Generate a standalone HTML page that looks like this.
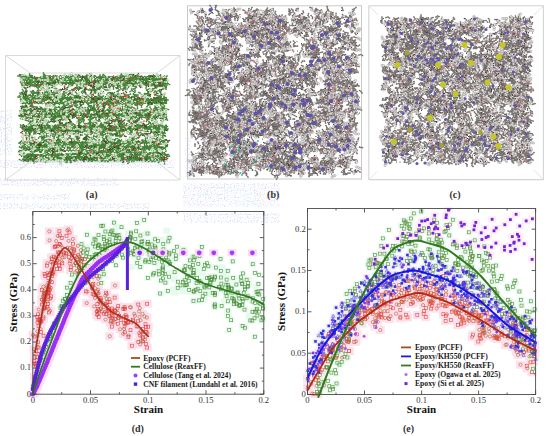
<!DOCTYPE html>
<html><head><meta charset="utf-8"><style>
html,body{margin:0;padding:0;background:#fff;}
body{width:550px;height:436px;overflow:hidden;}
svg{display:block;}
text{font-family:"Liberation Serif",serif;fill:#222;}
.tk{font-size:8.6px;fill:#333;}
.lg{font-size:7.65px;font-weight:bold;fill:#1a1a1a;}
.ax{font-size:11px;font-weight:bold;fill:#111;}
.pl{font-size:10px;font-weight:bold;fill:#333;}
</style></head><body>
<svg width="550" height="436" viewBox="0 0 550 436">
<defs><marker id="bp" markerUnits="userSpaceOnUse" markerWidth="10" markerHeight="10" refX="0" refY="0" viewBox="-5 -5 10 10" overflow="visible"><rect x="-4.5" y="-4" width="9" height="8" fill="#fde0eb"/></marker><marker id="bg" markerUnits="userSpaceOnUse" markerWidth="10" markerHeight="10" refX="0" refY="0" viewBox="-5 -5 10 10" overflow="visible"><rect x="-3.5" y="-3" width="7" height="6" fill="#e6faee"/></marker><marker id="bv" markerUnits="userSpaceOnUse" markerWidth="10" markerHeight="10" refX="0" refY="0" viewBox="-5 -5 10 10" overflow="visible"><rect x="-4.5" y="-3.5" width="9" height="7" fill="#fbdaf5"/></marker><marker id="bvl" markerUnits="userSpaceOnUse" markerWidth="10" markerHeight="10" refX="0" refY="0" viewBox="-5 -5 10 10" overflow="visible"><rect x="-4" y="-3" width="8" height="6" fill="#fdecf9"/></marker><marker id="bb" markerUnits="userSpaceOnUse" markerWidth="10" markerHeight="10" refX="0" refY="0" viewBox="-5 -5 10 10" overflow="visible"><rect x="-3" y="-2.5" width="6" height="5" fill="#ebeaff"/></marker><marker id="rc" markerUnits="userSpaceOnUse" markerWidth="10" markerHeight="10" refX="0" refY="0" viewBox="-5 -5 10 10" overflow="visible"><circle r="1.6" fill="none" stroke="#b05a3c" stroke-width="0.6"/></marker><marker id="rs" markerUnits="userSpaceOnUse" markerWidth="10" markerHeight="10" refX="0" refY="0" viewBox="-5 -5 10 10" overflow="visible"><rect x="-1.5" y="-1.5" width="3" height="3" fill="none" stroke="#e23a3a" stroke-width="0.6"/></marker><marker id="gs" markerUnits="userSpaceOnUse" markerWidth="10" markerHeight="10" refX="0" refY="0" viewBox="-5 -5 10 10" overflow="visible"><rect x="-1.5" y="-1.5" width="3" height="3" fill="none" stroke="#4c8e38" stroke-width="0.6"/></marker><marker id="gc" markerUnits="userSpaceOnUse" markerWidth="10" markerHeight="10" refX="0" refY="0" viewBox="-5 -5 10 10" overflow="visible"><circle r="1.6" fill="none" stroke="#3f8f3a" stroke-width="0.6"/></marker><marker id="tc" markerUnits="userSpaceOnUse" markerWidth="10" markerHeight="10" refX="0" refY="0" viewBox="-5 -5 10 10" overflow="visible"><circle r="2.3" fill="#9a30f4"/></marker><marker id="cs" markerUnits="userSpaceOnUse" markerWidth="10" markerHeight="10" refX="0" refY="0" viewBox="-5 -5 10 10" overflow="visible"><rect x="-1.9" y="-1.9" width="3.8" height="3.8" fill="#5a22dc"/></marker><marker id="bs" markerUnits="userSpaceOnUse" markerWidth="10" markerHeight="10" refX="0" refY="0" viewBox="-5 -5 10 10" overflow="visible"><rect x="-1.3" y="-1.3" width="2.6" height="2.6" fill="#3434d8"/></marker><marker id="bt" markerUnits="userSpaceOnUse" markerWidth="10" markerHeight="10" refX="0" refY="0" viewBox="-5 -5 10 10" overflow="visible"><path d="M0 -1.7L1.6 1.2H-1.6Z" fill="none" stroke="#4848e0" stroke-width="0.6"/></marker><marker id="bc" markerUnits="userSpaceOnUse" markerWidth="10" markerHeight="10" refX="0" refY="0" viewBox="-5 -5 10 10" overflow="visible"><circle r="1.4" fill="#7a3ae8"/></marker><marker id="ss" markerUnits="userSpaceOnUse" markerWidth="10" markerHeight="10" refX="0" refY="0" viewBox="-5 -5 10 10" overflow="visible"><rect x="-1.4" y="-1.4" width="2.8" height="2.8" fill="#7026d8"/></marker><marker id="oc" markerUnits="userSpaceOnUse" markerWidth="10" markerHeight="10" refX="0" refY="0" viewBox="-5 -5 10 10" overflow="visible"><circle r="1.4" fill="#a050f0"/></marker><marker id="ges" markerUnits="userSpaceOnUse" markerWidth="10" markerHeight="10" refX="0" refY="0" viewBox="-5 -5 10 10" overflow="visible"><rect x="-1.5" y="-1.5" width="3" height="3" fill="none" stroke="#5a8e3a" stroke-width="0.6"/></marker><marker id="rec" markerUnits="userSpaceOnUse" markerWidth="10" markerHeight="10" refX="0" refY="0" viewBox="-5 -5 10 10" overflow="visible"><circle r="1.6" fill="none" stroke="#b0603a" stroke-width="0.6"/></marker><marker id="res" markerUnits="userSpaceOnUse" markerWidth="10" markerHeight="10" refX="0" refY="0" viewBox="-5 -5 10 10" overflow="visible"><rect x="-1.5" y="-1.5" width="3" height="3" fill="none" stroke="#e34a3a" stroke-width="0.6"/></marker><marker id="hW" markerUnits="userSpaceOnUse" markerWidth="12" markerHeight="12" refX="0" refY="0" viewBox="-6 -6 12 12" overflow="visible"><circle r="2.80" fill="#ffffff" stroke="#8e8888" stroke-width="0.70"/></marker><marker id="hL" markerUnits="userSpaceOnUse" markerWidth="12" markerHeight="12" refX="0" refY="0" viewBox="-6 -6 12 12" overflow="visible"><circle r="2.30" fill="#e8e4e4" stroke="#868080" stroke-width="0.70"/></marker><marker id="cG" markerUnits="userSpaceOnUse" markerWidth="12" markerHeight="12" refX="0" refY="0" viewBox="-6 -6 12 12" overflow="visible"><circle r="1.70" fill="#767270"/></marker><marker id="cD" markerUnits="userSpaceOnUse" markerWidth="12" markerHeight="12" refX="0" refY="0" viewBox="-6 -6 12 12" overflow="visible"><circle r="1.70" fill="#4c4444"/></marker><marker id="oR" markerUnits="userSpaceOnUse" markerWidth="12" markerHeight="12" refX="0" refY="0" viewBox="-6 -6 12 12" overflow="visible"><circle r="2.10" fill="#d47484"/></marker><marker id="oP" markerUnits="userSpaceOnUse" markerWidth="12" markerHeight="12" refX="0" refY="0" viewBox="-6 -6 12 12" overflow="visible"><circle r="2.00" fill="#b08a8a"/></marker><marker id="nT" markerUnits="userSpaceOnUse" markerWidth="12" markerHeight="12" refX="0" refY="0" viewBox="-6 -6 12 12" overflow="visible"><circle r="1.80" fill="#7aa0a0"/></marker><marker id="gW" markerUnits="userSpaceOnUse" markerWidth="12" markerHeight="12" refX="0" refY="0" viewBox="-6 -6 12 12" overflow="visible"><circle r="2.40" fill="#ffffff" stroke="#7e9466" stroke-width="0.70"/></marker><marker id="gL" markerUnits="userSpaceOnUse" markerWidth="12" markerHeight="12" refX="0" refY="0" viewBox="-6 -6 12 12" overflow="visible"><circle r="2.10" fill="#e6f4e0" stroke="#7aa46a" stroke-width="0.60"/></marker><marker id="gC" markerUnits="userSpaceOnUse" markerWidth="12" markerHeight="12" refX="0" refY="0" viewBox="-6 -6 12 12" overflow="visible"><circle r="1.70" fill="#3e8634"/></marker><marker id="gP" markerUnits="userSpaceOnUse" markerWidth="12" markerHeight="12" refX="0" refY="0" viewBox="-6 -6 12 12" overflow="visible"><circle r="2.20" fill="#f6dde2" stroke="#b0a090" stroke-width="0.60"/></marker><marker id="gD" markerUnits="userSpaceOnUse" markerWidth="12" markerHeight="12" refX="0" refY="0" viewBox="-6 -6 12 12" overflow="visible"><circle r="1.60" fill="#4a4a26"/></marker><marker id="gR" markerUnits="userSpaceOnUse" markerWidth="12" markerHeight="12" refX="0" refY="0" viewBox="-6 -6 12 12" overflow="visible"><circle r="2.00" fill="#e0484a"/></marker><marker id="gB" markerUnits="userSpaceOnUse" markerWidth="12" markerHeight="12" refX="0" refY="0" viewBox="-6 -6 12 12" overflow="visible"><circle r="1.60" fill="#5a4a30"/></marker><marker id="cB" markerUnits="userSpaceOnUse" markerWidth="12" markerHeight="12" refX="0" refY="0" viewBox="-6 -6 12 12" overflow="visible"><circle r="1.60" fill="#5a3a30"/></marker></defs>
<filter id="sb" x="-5%" y="-5%" width="110%" height="110%"><feGaussianBlur stdDeviation="0.55"/></filter>
<filter id="bb" x="-10%" y="-10%" width="120%" height="120%"><feGaussianBlur stdDeviation="3"/></filter>
<path d="M5.5 55.5H180V180H5.5Z M30 73H157V162H30Z M5.5 55.5L30 73M180 55.5L157 73M5.5 180L30 162M180 180L157 162" fill="none" stroke="#d0d0d0" stroke-width="0.8"/>
<g transform="scale(.5)" filter="url(#sb)"><path d="M42 157l4 1 3-2 3 2 3-3 4 2 4-1 2 1 4-1 3 2 3-2 3 2 3-2 3 1 3-1 4 3 2-2 3 2 4-1 3 1 3-2 4 2 3-2 3 2 3-2 4 1 4-2 3 2 4-3 3 2 3-2 2 2 3-3 4 2 4-2 3 2 4-2 3 2 4-2 4 2 3-2 3 2 4-1 3 1 4-2 3 3 3-2 3 1 4-3 2 3 4-2 3 3 3-2 3 2 3-2 3 2 3-3 3 2 3-2 2 3 4-2 3 2 4-1 3 2 4-1 4 1 4-1 3 1 4-2 3 3 3-2 3 2 3-3 3 2 4-2 3 2 3-2 4 3 3-2 3 2 4-1 4 2 3-2 3 2 4-2 3 3 4-2 3 2M44 170l4 1 4-2 3 2 4-3 2 3 3-2 3 1 3-2 4 2 2-2 4 2 3-2 3 2 3-3 3 2 3-2 4 2 3-3 3 1 3-2 2 2 3-2 3 2 3-3 4 3 3-3 3 2 3-2 4 2 4-2 3 2 4-2 4 1 3-1 4 2 3-2 4 2 3-2 4 3 3-2 4 2 3-2 3 2 3-2 3 2 3-1 3 2 3-1 4 2 3-2 4 2 4-2 3 2 4-3 2 3 3-2 4 1 3-2 3 2 3-2 3 2 4-3 3 2 3-2 3 3 3-2 4 1 3-2 2 2 4-3 3 3 3-2 3 1 4-2 4 2 3-2 3 3 3-2 4 2 3-2 3 2 3-2 3 2 2-3 3 2 3-1 4 2 3-2 3 1M47 165l3 2 3-2 4 2 3-2 3 2 3-2 4 2 3-2 3 2 3-3 3 2 3-2 3 2 4-2 3 2 3-1 3 2 3-2 3 2 3-2 3 2 3-2 3 2 3-1 2 2 4-2 4 2 3-2 3 1 4-2 4 2 3-2 3 2 3-1 4 1 3-3 3 2 4-2 3 1 3-2 4 2 3-2 3 3 3-3 3 2 4-2 3 2 3-1 4 2 3-3 3 3 3-1 3 3 4-1 3 1 3-1 4 2 3-2 3 3 4-3 2 2 3-2 4 1 3-1 4 2 3-2 4 2 3-2 3 1 3-2 4 3 3-3 4 2 3-2 3 3 4-2 3 2 3-2 4 2 3-1 3 1 4-1 2 2 4-2 3 2 3-3 3 2 4-2M44 160l4 2 3-2 4 2 2-3 3 2 4-1 3 2 3-2 4 2 3-3 3 2 4-2 3 3 3-3 3 2 3-1 3 2 3-2 3 2 3-2 2 2 3-3 4 2 3-2 3 2 3-2 3 2 2-1 4 1 3-1 3 2 3-3 4 2 4-2 2 2 3-2 4 2 4-3 2 3 4-2 3 3 3-2 3 2 3-2 3 2 3-2 3 2 3-2 3 1 3-1 3 2 3-3 4 2 3-3 2 2 4-1 3 2 3-1 3 2 4-2 3 3 3-2 4 1 3-1 3 1 3-1 3 1 3-3 3 2 3-3 4 2 4-2 4 2 3-2 3 2 4-2 3 2 3-3 4 2 3-2 2 2 3-3 2 2 3-2 3 2 3-1 3 2 3-2 3 3 2-3 4 2 3-2M45 155l3 1 3-1 4 2 3-3 3 2 3-1 3 2 3-2 3 2 2-2 3 1 3-2 3 2 5-2 3 2 3-3 3 2 3-3 4 2 2-3 4 2 3-1 3 2 4-3 3 2 4-2 3 3 2-2 4 1 2-2 4 2 3-2 3 1 3-2 4 3 3-2 3 3 3-2 4 2 3-2 3 2 3-2 4 2 3-2 3 2 3-2 3 3 4-2 3 2 3-1 4 1 3-2 4 2 3-2 4 2 3-1 4 1 2-1 3 1 3-2 4 1 3-2 3 2 3-2 4 2 3-2 4 2 3-2 3 2 3-1 3 1 4-2 3 1 3-1 3 3 3-2 4 1 4-2 3 2 3-2 4 1 3-1 3 3 4-2 2 2 3-2 3 2 4-3 3 2 2-2M42 197l3 2 3-2 4 2 3-3 4 2 3-3 3 3 4-2 3 2 3-3 3 2 3-2 3 2 4-1 4 2 3-3 4 2 4-2 3 2 3-2 3 2 3-1 3 2 4-2 4 3 3-2 4 2 3-1 2 2 4-3 4 2 3-2 3 3 3-2 4 2 2-2 4 1 3-1 3 2 3-2 3 3 4-3 2 2 4-2 3 2 3-2 3 3 3-2 3 2 3-2 3 2 3-3 4 2 3-2 4 2 3-2 3 2 3-2 3 2 3-2 3 2 3-2 3 2 4-1 4 2 3-1 3 2 3-2 3 1 3-2 4 2 3-2 4 1 3-2 3 2 3-2 3 1 3-1 3 3 3-2 3 2 3-3 3 3 3-2 4 2 3-1 4 1 3-2 3 2 3-3 3 2M42 205l3 2 3-1 3 1 3-2 4 3 3-2 3 1 4-2 2 1 4-2 3 3 4-1 4 1 3-2 4 2 3-2 3 2 4-2 2 2 3-2 3 2 3-2 3 2 4-2 3 2 3-2 3 2 3-2 4 1 4-1 2 1 3-2 3 3 3-3 4 1 3-2 4 1 2-1 3 2 3-2 3 2 2-2 4 2 3-2 4 2 3-1 3 1 4-1 3 2 3-2 3 2 4-2 3 3 4-1 3 2 3-3 3 2 4-2 3 2 3-1 3 2 3-1 4 2 3-2 3 2 3-2 3 1 4-2 3 3 3-3 3 3 3-3 2 2 4-2 4 1 3-3 4 2 2-2 4 2 3-2 3 2 4-2 3 2 3-2 3 2 4-3 2 3 3-2 3 2 3-2M45 194l4 1 3-1 4 2 3-3 3 2 3-1 3 2 3-2 3 3 4-2 4 2 3-1 3 1 4-1 3 2 3-2 3 3 3-2 3 2 3-2 3 2 3-2 4 1 3-2 3 2 4-2 2 2 3-1 4 1 4-1 3 3 3-2 4 2 3-2 3 3 3-2 3 3 4-3 3 2 3-2 3 3 4-2 3 2 3-2 4 3 3-3 3 3 3-1 4 2 3-3 4 3 3-2 3 2 3-2 3 3 3-2 4 1 3-2 4 3 4-2 3 2 3-3 4 3 4-2 2 2 3-2 3 2 3-2 3 3 4-2 4 2 2-2 4 2 4-2 3 2 4-2 3 2 3-3 3 3 4-2 3 2 4-1 2 2 4-3 3 3 3-2 3 2 3-1M39 191l3 3 3-3 3 2 4-3 3 2 3-2 4 2 4-2 3 3 2-1 4 1 3-2 3 3 4-2 2 2 3-2 3 2 4-2 3 3 3-2 3 2 3-1 3 1 3-2 4 1 4-1 3 2 3-2 3 3 3-2 3 2 3-3 2 3 3-3 4 2 3-2 3 2 4-1 3 2 3-1 4 2 3-2 3 2 3-1 3 3 4-3 3 2 3-2 3 2 3-3 3 2 3-2 3 3 3-2 4 3 3-2 4 1 3-1 3 1 3-1 3 3 3-3 3 2 3-1 4 2 3-2 3 3 3-2 4 2 4-2 4 2 3-1 3 1 4-3 3 2 3-2 3 2 3-2 3 2 3-2 3 3 4-2 4 2 2-1 4 2 3-2 3 2 4-2 3 1 3-2M47 196l3 2 4-2 3 2 3-2 3 2 3-2 4 1 3-2 3 2 2-2 4 2 3-2 2 3 4-2 3 2 2-2 4 2 3-2 3 2 3-1 3 2 3-3 3 2 3-2 3 2 3-3 3 2 4-2 3 2 3-3 3 2 3-2 4 2 3-1 3 1 3-2 3 3 4-2 4 3 4-2 3 2 2-2 3 2 4-2 3 3 4-2 4 2 2-2 3 1 4-1 4 1 3-1 4 1 3-1 4 1 2-1 4 3 3-2 3 1 3-1 3 2 4-2 3 1 3-2 3 2 2-2 3 2 4-2 3 2 3-2 3 1 3-2 3 1 3-1 3 2 4-2 3 2 3-2 4 3 3-2 4 2 3-2 3 2 3-3 4 2 3-3 4 3 3-2 3 3M48 231l3 2 3-2 3 2 3-2 3 3 4-3 3 3 3-2 3 2 3-2 3 2 3-3 3 2 3-2 3 2 4-1 3 1 3-1 4 1 3-2 3 3 4-3 4 2 3-2 4 3 2-2 4 2 3-2 3 1 3-1 4 2 3-2 3 2 4-1 3 1 3-1 4 2 2-2 4 2 3-2 3 2 3-2 3 3 3-2 3 1 4-2 4 2 3-2 4 1 3-2 3 1 3-2 3 1 4-1 3 1 3-2 4 3 3-2 3 2 4-1 3 1 3-1 4 1 3-2 3 1 3-2 3 3 3-3 4 2 4-2 2 2 3-2 3 2 3-3 2 2 3-3 3 2 3-2 3 2 3-2 4 3 3-2 2 2 4-3 3 2 3-2 3 1 3-1M41 228l3 2 4-2 3 2 3-2 3 2 3-2 3 1 3-2 4 2 3-3 3 2 3-1 3 2 4-2 4 2 3-1 3 2 3-2 3 2 3-3 3 2 2-2 4 1 3-1 3 1 4-1 3 1 3-3 4 2 3-2 4 2 3-2 3 3 3-2 4 1 4-2 3 3 3-2 3 2 3-1 3 2 3-1 3 3 4-3 3 2 2-2 4 2 3-2 3 2 4-2 2 1 3-2 3 3 3-3 3 2 3-2 4 3 3-3 3 2 3-1 3 1 4-2 3 2 3-3 3 3 3-3 4 2 3-3 2 2 3-2 3 1 4-1 3 1 4-2 4 2 3-3 2 2 4-3 3 3 3-1 3 3 4-3 3 2 3-3 3 3 4-1 4 1 3-2 4 2M38 231l4 1 3-1 3 2 4-1 3 3 3-1 3 1 4-1 4 1 3-1 3 1 4-2 3 1 3-2 3 2 3-2 2 2 3-2 3 3 4-3 4 2 3-2 4 2 3-2 3 2 3-1 4 2 3-3 3 2 2-2 4 1 3-3 3 2 4-2 3 1 3-2 4 2 4-2 3 2 3-2 3 2 2-2 3 2 3-1 4 1 3-1 3 2 3-3 3 3 3-3 3 2 3-1 3 2 2-3 3 3 3-3 3 2 3-2 3 3 4-2 2 2 3-2 3 2 4-1 2 2 4-2 3 3 3-2 4 2 3-2 3 3 3-2 4 3 3-2 3 3 4-3 3 2 3-2 3 1 3-2 3 2 3-2 4 2 3-2 3 2 3-1 4 2 2-2 4 2 3-3 3 3 3-2 3 2M47 234l3 2 3-2 3 1 4-2 2 3 4-2 3 1 2-1 3 2 2-3 3 2 3-2 3 1 3-2 4 2 3-2 4 2 3-2 3 2 3-1 3 1 3-2 3 2 4-3 4 3 3-3 3 2 4-2 3 2 3-3 4 2 3-3 3 2 3-2 3 2 4-2 3 2 3-1 3 2 3-3 3 2 3-2 3 2 3-2 3 2 4-2 3 2 4-3 2 2 3-1 3 1 4-2 3 3 4-2 3 1 3-2 4 2 2-2 4 2 4-2 3 1 3-1 3 2 4-2 3 2 3-2 3 2 4-1 2 2 3-2 3 2 4-1 3 1 4-2 2 2 3-3 3 3 4-1 3 2 2-2 3 2 3-2 3 2 3-1 4 1 3-2 3 2 3-2 3 1M46 219l3 2 3-2 3 2 4-2 3 2 4-2 4 2 4-3 3 2 3-2 2 2 4-2 3 3 4-2 3 3 4-3 3 2 3-2 3 2 4-2 4 2 4-2 3 2 3-1 4 2 2-2 3 1 3-3 3 2 4-1 3 1 3-1 2 1 3-2 3 2 4-2 3 2 3-2 3 2 3-1 3 3 4-3 3 1 3-1 3 2 4-2 2 2 3-2 3 2 3-1 3 2 4-2 3 2 4-2 3 2 4-1 3 1 4-2 3 2 2-2 3 2 3-2 4 2 3-2 3 3 3-3 3 3 3-3 4 2 4-2 2 3 3-2 3 1 4-2 3 2 4-3 3 3 2-2 3 3 3-3 3 2 4-2 3 2 3-2 3 2 4-3 2 3 4-2" stroke="#4a6a2a" stroke-width="1.60" fill="none" stroke-linecap="round" stroke-linejoin="round" marker-mid="url(#gC)" marker-start="url(#gW)" marker-end="url(#gW)"/><path d="M45 258l4 2 3-2 4 2 3-2 3 1 3-2 4 2 3-2 2 3 4-1 3 1 3-1 3 2 4-2 4 2 3-1 3 3 4-2 4 3 4-3 3 2 3-3 3 2 3-2 4 2 3-3 3 2 4-1 3 2 3-2 3 2 4-1 2 2 3-2 2 2 4-2 3 2 3-2 4 1 3-2 3 2 3-3 4 2 3-2 2 3 4-2 3 2 3-2 3 1 2-2 3 2 3-2 3 2 4-2 4 2 3-2 2 2 4-2 4 1 3-2 3 3 4-3 2 3 4-3 4 2 4-2 3 3 3-3 4 2 3-1 3 2 3-2 4 2 3-3 3 2 2-2 4 2 4-2 3 1 4-2 4 2 3-2 3 1 3-2 3 2 4-3 3 3 3-3M41 250l3 2 4-1 3 2 3-2 3 1 4-2 4 1 3-1 4 1 3-2 3 3 4-2 4 2 3-2 4 3 3-2 3 2 3-1 4 2 3-3 3 1 3-2 4 2 3-2 3 3 4-2 3 3 3-3 4 2 3-2 3 2 4-1 3 2 3-2 3 1 3-2 3 3 3-2 4 1 3-2 3 1 4-2 3 2 2-2 3 2 4-1 3 2 3-2 4 3 3-3 3 2 4-2 2 2 3-1 3 1 3-2 4 2 4-2 3 2 3-2 3 2 3-2 3 1 3-2 3 2 3-2 3 3 3-2 3 2 3-3 3 2 3-2 3 3 3-3 3 2 3-1 3 1 3-1 4 3 3-2 4 3 4-2 3 2 2-2 3 2 3-3 4 1 3-2 4 2 3-3 3 3M46 259l3 3 4-2 3 2 3-1 3 2 4-2 3 2 3-3 3 2 3-2 3 2 4-2 3 2 3-2 3 2 3-2 4 2 4-2 3 2 3-3 3 2 2-2 4 2 3-3 3 2 2-2 3 2 3-2 3 1 3-1 3 2 3-1 3 2 4-2 3 2 3-2 3 1 3-2 4 1 3-1 3 2 3-3 3 2 4-1 2 2 3-3 4 3 3-2 3 2 4-1 4 1 3-1 3 2 3-2 3 2 4-3 2 2 3-2 3 2 3-2 4 1 3-1 4 1 3-2 3 2 4-2 3 2 4-2 3 2 3-3 3 2 4-2 3 2 3-2 3 2 3-2 3 2 3-2 3 1 3-2 3 3 4-2 2 2 3-2 3 2 3-2 3 2 3-2 3 1 4-2 3 3M47 256l4 2 3-2 4 2 3-2 2 2 4-3 3 2 3-2 4 1 2-2 4 2 4-1 3 1 3-2 3 3 3-3 3 3 3-2 4 2 3-3 3 2 3-2 3 2 3-3 3 2 3-3 3 2 4-2 3 2 4-3 3 3 3-2 3 2 4-2 3 2 3-2 4 2 4-2 2 2 4-2 3 3 3-3 3 3 3-2 4 1 3-1 3 3 3-2 3 2 4-2 3 2 3-2 4 2 3-3 3 2 3-2 3 2 3-2 3 2 3-2 4 2 3-2 3 3 3-2 3 2 4-1 4 1 2-2 3 2 3-1 3 1 3-2 3 2 3-3 4 2 3-2 4 2 3-1 3 2 3-1 3 1 4-2 3 1 3-1 3 2 3-2 3 2 3-3 3 2M41 254l3 2 4-3 3 1 3-2 3 2 3-2 4 2 2-3 3 3 4-2 3 1 4-1 2 2 4-2 3 2 4-2 3 2 3-2 3 2 3-1 4 2 3-3 4 2 3-2 3 3 3-2 4 1 3-1 4 2 3-2 3 2 4-2 4 2 3-2 3 2 4-2 3 3 4-3 3 2 3-2 3 2 3-2 3 2 3-2 3 2 3-1 4 2 3-3 4 3 2-3 3 3 3-3 3 2 2-2 4 2 3-2 3 2 4-1 3 3 4-3 2 3 3-3 4 2 3-2 3 2 4-2 3 2 3-2 4 3 3-2 3 2 3-3 3 2 3-1 4 2 3-2 4 2 2-3 4 3 2-1 4 2 3-2 3 2 3-2 4 2 2-2 3 3 3-2 4 2 3-1 2 2 3-2M39 294l4 1 3-1 3 2 4-2 3 2 3-2 4 2 3-1 3 1 3-2 4 2 3-2 3 3 4-2 3 2 3-3 4 2 3-2 4 2 3-2 3 2 2-2 4 2 3-2 4 2 3-2 4 1 3-1 3 2 3-2 3 2 4-2 3 2 3-2 3 3 3-2 4 2 2-3 3 2 3-2 4 3 3-2 3 2 4-2 4 1 3-1 4 1 3-2 3 2 4-2 3 2 3-3 3 3 4-2 3 3 3-2 4 2 3-2 4 2 2-1 3 1 3-1 4 2 3-3 3 2 4-2 2 3 3-3 4 2 3-2 3 2 4-2 3 2 4-2 3 2 3-3 3 1 2-2 3 2 3-2 3 2 4-2 3 3 3-1 4 1 3-1 4 1 3-2M46 286l4 2 3-2 3 2 4-2 3 2 3-2 4 2 3-2 3 2 3-2 4 1 4-2 3 2 4-2 3 1 3-2 3 2 3-2 4 2 3-2 4 1 3-1 3 1 3-2 3 2 3-2 3 3 4-2 3 2 3-2 3 2 3-2 4 2 3-2 4 1 3-2 3 2 3-2 3 2 3-1 4 2 4-2 3 4 3-2 3 1 4-2 3 1 3-3 3 3 4-2 3 2 3-1 4 2 2-2 3 2 3-3 3 2 3-2 3 2 4-2 3 3 3-1 4 1 3-2 3 3 3-3 3 2 3-3 3 2 4-1 3 1 3-2 3 2 3-1 3 2 3-2 3 1 3-2 3 2 4-2 3 2 3-3 3 2 4-3 3 2 3-2 4 2M44 288l4 3 3-2 3 2 4-1 3 1 3-2 3 3 3-2 3 1 4-2 3 2 3-2 4 3 3-2 4 2 3-2 3 1 4-2 4 1 3-1 3 1 3-2 3 2 3-2 3 2 4-1 4 1 3-2 3 2 3-2 4 2 3-2 3 3 4-2 3 3 2-3 3 2 4-1 3 2 3-2 3 2 3-2 3 2 4-2 3 2 3-2 4 2 3-2 3 2 3-2 3 2 3-2 3 3 4-2 4 2 4-2 3 2 3-2 3 2 4-2 3 2 3-1 3 1 4-1 3 2 3-2 4 2 3-2 3 3 3-2 3 3 3-2 3 3 3-3 3 2 3-2 3 2 3-1 3 2 3-2 3 2 4-2 3 2 4-3 3 2 3-2 4 2M46 284l3 2 2-2 3 1 3-2 3 3 3-2 3 2 4-2 4 2 3-2 2 2 3-2 3 1 3-3 4 3 4-2 2 2 4-1 3 2 3-1 3 2 3-2 3 2 4-2 3 2 3-1 3 2 4-2 3 2 4-2 3 1 3-2 3 2 3-2 3 2 3-2 3 2 3-3 2 3 4-2 3 2 2-2 3 1 4-2 3 3 4-1 3 1 3-1 3 2 3-1 4 2 2-2 3 3 4-3 3 1 3-2 3 1 3-2 4 2 3-3 3 2 3-2 4 1 3-2 3 2 3-2 3 2 3-2 3 2 4-2 2 2 4-2 3 2 4-2 3 2 3-2 4 2 3-3 3 2 2-2 4 1 4-2 3 3 3-1 3 2 2-3 4 2 3-2 3 2 3-1 3 3 4-2M47 299l4 2 2-2 4 1 3-2 4 2 3-2 4 2 3-2 3 2 3-2 4 2 3-2 3 2 4-2 3 3 3-2 3 2 4-2 3 2 3-2 4 2 4-2 2 2 4-2 3 3 4-2 3 2 4-2 2 2 3-2 4 2 2-2 4 2 3-2 3 3 4-3 3 2 3-2 3 2 4-1 3 2 3-2 4 3 3-3 3 2 3-1 4 2 3-2 3 1 3-2 3 1 3-2 3 2 3-3 3 2 3-2 3 2 3-2 3 2 2-1 4 2 4-2 4 1 3-2 3 2 3-2 4 2 3-3 4 2 3-3 2 2 4-2 3 3 4-2 3 2 3-3 3 2 4-2 3 2 4-2 3 2 3-2 3 2 4-2 3 2 3-3 4 2M47 311l3 3 4-3 2 2 4-2 3 3 3-2 3 2 4-1 3 2 4-2 3 3 3-2 3 3 4-2 3 1 3-2 3 2 3-2 4 2 3-2 2 2 3-2 3 3 3-3 4 3 4-2 3 1 4-2 3 2 3-2 2 2 3-2 4 2 3-2 3 2 4-2 3 2 3-2 4 2 3-2 3 3 3-2 3 1 4-1 3 2 3-2 3 2 3-2 3 3 3-2 3 1 4-1 4 1 3-1 2 2 3-2 4 2 3-2 3 2 4-2 3 2 4-2 3 3 4-3 3 3 3-2 3 1 3-2 3 3 3-2 4 2 3-2 3 2 3-3 3 2 4-3 3 3 4-2 3 2 3-1 3 2 3-2 3 2 4-3 3 2 3-2 3 2 3-3M39 319l4 2 3-2 4 1 3-2 3 1 3-2 3 2 3-2 3 2 3-2 3 1 4-1 3 1 4-2 3 2 3-2 4 2 3-1 3 1 4-1 3 1 3-2 4 2 4-2 2 2 4-2 2 2 3-2 4 3 3-2 3 2 3-3 3 2 4-2 3 2 4-1 3 2 3-2 4 2 3-2 3 3 3-3 3 3 3-2 3 2 3-1 3 2 3-1 4 2 3-2 3 2 3-1 3 1 3-1 3 2 3-3 3 1 4-2 3 3 3-1 3 1 2-2 4 1 4-1 2 2 4-3 3 2 2-2 3 2 4-2 3 2 3-2 4 1 3-1 3 2 3-2 3 2 3-1 3 2 3-2 3 3 4-2 3 2 3-2 3 2 4-3 3 2 3-3 3 3 2-3 3 2 3-2M42 309l3 1 3-2 3 2 4-2 3 3 3-3 4 2 3-1 3 2 3-2 3 2 4-2 3 1 3-2 4 3 3-3 3 3 3-2 3 2 4-2 3 3 3-2 3 1 3-2 3 2 3-2 4 2 3-3 3 2 3-2 3 1 3-2 4 2 3-2 3 2 4-2 3 2 4-3 3 2 3-2 3 2 3-2 3 2 3-2 3 2 3-2 3 3 4-2 3 2 3-2 3 3 4-1 3 2 4-2 3 2 4-2 3 2 3-2 3 2 4-2 3 2 4-2 3 1 4-1 3 2 4-2 4 2 4-1 3 1 4-2 2 2 3-1 4 2 3-3 3 3 3-3 2 1 4-2 3 2 3-2 3 3 4-2 4 2 3-2 3 3 3-3 3 2 3-3 3 2 4-1M46 318l3 2 3-2 4 2 2-2 4 3 3-2 3 3 3-2 3 1 4-2 3 1 3-2 3 2 3-2 4 2 3-2 4 2 2-3 3 2 4-3 3 1 4-2 3 2 3-2 3 1 3-1 3 2 3-2 3 1 3-3 3 2 4-2 3 2 3-3 4 2 3-1 3 1 3-3 4 2 3-1 4 1 3-1 3 2 4-2 4 2 4-2 3 2 3-3 4 2 3-2 3 2 4-2 3 2 3-2 3 3 2-2 4 2 3-2 3 3 4-2 3 3 3-2 3 2 3-2 3 3 3-3 4 2 3-2 3 3 4-3 3 1 3-1 4 2 3-3 3 2 3-2 3 2 4-2 3 2 3-3 3 2 4-2 3 2 2-2 4 2 3-2 4 1 3-3 3 2M45 309l2 2 3-2 4 1 4-2 2 2 4-1 2 2 4-2 3 2 3-2 3 2 3-2 4 2 2-2 4 2 3-2 3 2 3-2 4 2 3-2 3 2 3-2 3 2 4-2 4 2 3-2 3 1 3-2 4 1 4-1 3 1 3-2 3 1 3-2 4 1 3-2 3 2 3-2 4 2 2-3 4 2 3-2 4 2 4-2 4 2 2-2 3 1 3-1 4 2 3-2 3 1 3-2 4 2 3-2 3 2 3-2 3 2 4-1 3 1 4-2 3 3 3-3 3 2 4-2 3 2 3-2 3 2 3-1 4 2 3-2 3 2 4-2 3 2 3-1 4 1 3-2 4 3 4-2 3 2 3-2 3 3 3-2 3 2 3-3 4 2 3-3 3 3" stroke="#52682e" stroke-width="1.60" fill="none" stroke-linecap="round" stroke-linejoin="round" marker-mid="url(#gC)" marker-start="url(#gL)" marker-end="url(#gL)"/><path d="M237 287l4 2M72 320l-1 2-3 4M102 316l1-3-1-4M223 282l2 4-1 3M53 165l3 0M300 295l-2 3M50 227l0 3-2 2M112 229l2-2 2-4M133 210l4-1M52 264l0 3M319 166l3-3M122 280l-4 0-3 0M163 301l2-3 0-3M137 204l3 1 4-1M246 198l1-3 2-3M178 196l3-1M239 249l-4 2-2 3M55 167l2-2 2-3M101 159l2 2M273 193l-3-2-3-2M296 316l-4 0-3-3M117 214l-4 1-3-1M216 240l-3 4-2 2M109 164l3 1 4-1M325 269l4 2M282 304l-2 3M306 314l0-3M92 159l3-2 3 0M289 288l1-3 1-3M119 285l-1-3 0-3M185 216l-3 0M148 315l2 2 4-2M238 156l-4 0-2 0M67 287l1-3-2-3M267 187l3-3 0-4M75 253l3 2 0 3M254 165l2-2 4-1M78 299l3-1 3 0M283 231l-1 3M75 181l2 3 2 2M263 246l-1 3 1 3M309 270l2-2M285 193l-2-4M126 228l4-2 1-3M180 317l-2-2 1-4M262 301l3 0 2-2M325 162l3 3 1 2M241 248l3-2M138 170l4 0M108 183l2-2M318 199l-1-3 0-4M113 266l-2 2 1 3M44 192l-2-2-2-4M128 256l1 3M302 306l3 1 3-3M213 167l4 2 1 3M61 303l3 1M139 248l-4 0M296 159l-3-1-1-3M320 198l-4 1-2 3M241 236l2 2M168 255l3-2M130 236l2 4M205 275l2 3M74 237l-1 2 2 4M190 291l2-1 3 2M168 185l2-3-1-4M227 294l2-2 0-4M84 255l0 3M133 164l-3 3M308 154l-1-4M173 269l1 3 3 1M215 159l-1 3M223 195l-1 2M63 317l2 2 1 3M54 262l3 0 3 0M83 156l3 0 4 2M84 294l3 1 3 0M239 152l3-2M48 215l0 4 0 4M170 230l0-4 2-2M251 176l-3 0M291 268l-2-1-4 2M93 255l2-4M59 268l-2 1-4 1M187 314l4 1 3-1M223 287l-1 3 0 3M68 268l0-4M124 232l-1-4M92 280l1 2M164 285l1 2-1 3M99 300l-4-1-3 3M235 257l4 1M328 168l0 3M280 257l-2 2M62 264l2-3-1-3M121 163l0 3M314 307l-4 1M203 296l-3-1M179 262l-2-4M276 224l-3 1-3 1M311 215l2 2 3 1M217 290l1 3M95 283l2-4M76 315l3 2M140 272l-2 2-2 4M324 267l3-1M177 322l2-2 5 1M209 179l3 1 4 0M177 268l-3-1M108 199l1-3-3-2M134 203l3-1M90 281l4 0M101 243l4 0 3-3M76 254l-2 4 2 2M240 271l-4 1M235 292l-1 2 1 4M94 297l2-3 0-4M103 311l4-1M299 287l-1-2M95 294l-3 2-1 2M253 281l4 1M105 221l-3 0M98 188l-3 0M314 264l-4 1-3 2M201 226l-4-2M172 256l2-3M92 290l-3 1M81 320l-3-1-2-2M181 218l-2 3M245 167l2 4 3 1M96 250l3 1M333 167l3 0 3 2M53 261l0-3M234 183l2-1M56 282l4 0 2 4M288 310l3 2 0 4M120 221l2-3-3-4M191 307l-4-2-3-1M221 191l-4 1 0 4M291 267l3 0 3 0M318 168l-1-2M164 300l4-1 3 0M292 236l4 0 3-3M164 209l3-1 0-3M193 228l3-3M164 290l3 2M236 164l1-3M88 190l1 2 4 0M197 163l-2-3M42 289l3 2 2 4M235 164l1-3M315 268l1 3M98 227l3 1M191 181l-2-2-1-4M325 214l-3-2-1-3M239 295l-3-1-3 2M51 187l-4 1-3-2M253 291l2 1 2 3M125 293l0-3M95 197l3 1M99 313l0 3M219 240l-3 2M84 274l-4-1-3 3M246 312l-2-2-1-4M97 158l2-3M73 295l-2-1-3-1M186 292l3 2 1 3M248 288l-4-1-3 1M314 300l0 3-3 2M228 163l4-1M265 322l3 0M86 222l-1-4-2-3M207 316l-2 1M44 200l-3-1M120 314l4 1 2-3M172 285l-3 0M49 234l-3-1-3-1M173 278l-3-2M187 257l0 4M306 318l0 4M109 279l-1-3 1-4M197 176l3-2M62 154l-3-3M250 173l-3 0M132 262l-3-3 1-4M51 153l3 0M264 265l-3 1-3 2M123 203l-2 2-2 4M266 166l1 3-1 3M47 225l-3-2-4-1M154 270l-2 0-1-3M220 307l1-4 4-1M272 166l-3 1M59 313l3 2M81 312l2 4M215 228l-1 2 1 3M93 155l-2-1M152 254l3 0 3 0M115 299l2-2M288 306l-1-2M328 217l3 1M84 250l1-4M134 248l-2 2 1 3M101 160l0-3M239 306l3 1 1 4M159 201l-3 0-1-3M207 310l-2-3-2-3M116 185l-3 1M304 230l-3 1M151 232l-3 3M237 167l-1-4M266 249l3 2 0 4M159 167l-4-1M247 221l3 0 4-2M193 228l4-1M310 283l4 0M312 219l3 2M129 287l0-4M189 316l-4 2M109 161l-3 1 0 5M215 257l-1 3-2 2M293 296l2-3 0-2M303 320l-3-2M253 233l3 1M155 215l4-1M210 206l-3-1-2-2M156 280l1-3M266 156l-4-1M267 287l3-1 3-2M93 226l-1 4M167 279l2-1 4 2M209 151l-2-2M193 297l-1-4 2-3M154 224l-2-3 1-2M79 314l3 0 3-1M169 221l2-2M115 302l4-1 4-1M242 195l3-2M329 217l4 1 4 1M106 175l3 1 4 1M187 163l1-2 2-3M233 155l3-2M45 194l-3-4M99 186l3 1 2 2M95 302l3 0 3 2M278 258l3 1 3 1M111 256l4 0 3 2M188 208l1-3 1-4M248 245l-4 0M152 196l-2-3M81 290l-2 2-1 2M162 167l-1 4M319 311l-4 0-3 2M71 316l-3-1M163 161l-2-1-3 2M206 176l5-1 1-3M274 198l-4-1-2-2M170 199l3-1M215 201l-3 1-3-1M241 220l-3 3M204 155l-4 2M156 231l1 3-2 2M142 198l0-3M45 212l3 1 3-3M257 292l0 3-1 2M289 187l0 5M313 304l-4 1-3 2M182 236l-1 2M139 249l3 1M171 193l-2 0-4-1M139 223l-4 2-3-2M150 207l-2-2M181 214l-3-1-3 2M252 261l-3-1M140 240l0 3M85 240l3-1M322 155l-3 1M61 252l-3 1M262 236l1-4M126 240l-1-3 1-3M133 256l-4 0-2-1M205 164l2-3M53 318l-3 3-3 1M278 255l1 5M289 167l3-1 2 3M103 237l3 1 2 2M269 300l-4 0-2-4M219 154l-2 2 0 3M332 174l0 4M102 199l2 2M171 218l-3 0-3-2M130 209l-3 3-3 3M121 220l4 0M269 252l-1 2M272 151l3-1 2-3M322 206l-2-2M279 263l3 3M283 214l0-3 2-2M262 202l-3 4M51 188l2-4M298 281l-4 1-3 0M243 254l3 2 0 3M319 171l-3 0-2 3M157 190l-3 0-3 2M198 298l0-4M153 306l3 2M106 174l-3 1M220 185l-4 1-2 3M200 229l3-2M274 318l0-5M222 309l4 1M51 221l-3-1M115 311l-1 3 0 3M264 320l-3-2-3-3M112 309l4 1M306 180l-3 2M67 200l0 4M304 310l0-3 2-4M48 216l3-2 4 0M273 286l2-1 1-3M70 290l-1-3M110 217l3-2M123 206l4 0 2-2M257 193l0 4M132 318l2-2 0-3M90 219l1 2M99 195l3-1M115 271l3 2 3-2M62 292l2 1M254 151l3 0 3-2M315 288l-1 4M258 242l-2-2-3-1M213 199l3-1M159 276l-3 1-1 3M288 226l3 3M228 160l2-2-2-3M52 229l-2-2-4 0M298 209l-1-3M330 295l3-3 2-3M313 229l-3 4M302 225l3 0M182 195l2-2-1-4M165 302l2-2M303 297l-1-3 1-3M207 192l-3 1M131 205l-1 3M149 315l3-2M177 210l3 1 3 0M123 264l2-2 4-2M278 202l-3 2-1 4M92 241l-4-2-1-3M128 260l-3 1-4 0M82 294l-3 1-3 1M123 235l0 3M205 286l-3 2-4 1M179 230l-1-4 1-3M128 189l3 2M280 200l2 1 1 5M45 150l-3 0-3-1M295 240l2-2 1-4M254 190l3 1 2 3M186 251l2 2M156 220l2-3M82 217l-4 1-3 1M185 279l-3-3M89 231l-3-2-3-3M287 206l3-1M299 292l-2 4 2 4M334 312l2 1 3-1M199 157l1-4 0-3M82 312l2-3M94 321l-3 3M222 302l-2 1M43 168l-2-4M74 259l-3-3-2-2M212 209l-2 2-1 4M111 298l3 3M326 276l-4 2-3 2M188 197l2-3M122 221l-3 3-2 3M109 219l0 3 3 3M237 241l-3 0-4 2M130 321l1 3 3 1M183 262l-3-2M73 237l3 2M51 240l3 1 3 1M131 253l2 4 0 3M222 241l4 1 4 0M252 216l-2-3 2-3M141 253l3 2M185 249l3 2 2 2M227 212l-4 0M255 266l0-3-3-4M103 280l1 3 0 4M56 287l0 3M158 248l1 5M146 263l4-2M92 210l3 1 5 0M67 214l-2-2M197 205l-2 3M311 161l-3-1-3 1M285 268l-3 1M177 259l2-1 4-1M165 288l1 2M148 165l-1 2-2 4M292 283l4 0M108 188l-3-1M255 171l3 0 0-4M206 265l-1-3M116 284l4-1M179 235l2-3M57 234l3 1 3 1M228 317l3 0 2-3M234 291l-2 2M87 275l-4 0M314 191l-3-2M109 164l-2-4 2-3M332 175l-3 2M43 282l-2 2-3 2M60 156l-4 2M145 290l-2-4M63 218l0 3M90 195l0 3M66 187l-3-1M233 270l-3-1M72 186l-4 1-2 3M188 288l3 0 4 0M227 293l-2 4M314 195l2 2 1 2M331 161l0 4M317 269l5 1 3-2M244 316l-1-3M156 225l-3 1M143 231l-3-1-3-1M259 281l-3 2-1 2M123 267l-2 4M59 270l-2-3 1-4M307 307l4-2M322 266l3 1 1 4M99 184l-4-1M208 285l1-3-1-3M300 295l0-4M113 296l1 3-2 3M227 174l0 4M278 167l1 4M327 241l-2-4-3 0M148 316l4-2M152 167l1-2-3-2M217 161l3 2M271 278l-1 4 0 4M311 168l4 0M314 222l3 1 4 0M112 197l-2-3-1-4M227 192l0-4 2-3M295 314l3 1 4 2M238 154l3 1M196 312l-2 2-2 2M162 210l-1 2M183 238l-2-1M243 280l-2 1-3-2M295 163l-2-3 2-3M299 168l2 3M118 226l-5 0M299 151l-2 3M172 287l3-1M138 167l3 1 1 3M74 243l-1 2M224 318l-4-1-3 2M92 274l4-2 4 2M125 192l4-1M73 262l-2 4M182 185l-1 2M102 201l2 3M259 254l2-1M270 261l2-2 3 0M167 173l1-4 0-3M185 199l4 0 3-2M113 254l1 3M329 256l-3-2M314 161l4 1 3 0M182 261l-3 1M66 231l-2-2-3-2M275 251l2 2 3 0M276 190l-3 0-1 3M136 286l1 3-3 3M140 211l-2 2M170 258l-2 1-3 3M314 215l0 4 2 4M293 314l3 2M186 162l3 1M201 293l4 0M53 318l3-3-1-4M109 314l2 2 4 0M201 230l3-2M318 181l2-2M71 302l-3 2-3-2M157 246l3 0M82 261l4 1 3 3M254 153l-2 2M214 279l-2-4M115 303l-3 0M78 317l1 3" stroke="#546a30" stroke-width="1.70" fill="none" stroke-linecap="round" stroke-linejoin="round" marker-mid="url(#gC)" marker-start="url(#gW)" marker-end="url(#gW)"/><path d="M58 173l-3 2M254 317l2-2-1-3M218 311l-4 0M324 160l4-1 3-1M139 199l-3 2-2 2M165 153l3 0 2 4M199 166l-3 1M75 320l-2 3M173 231l2-3 4 2M270 218l-3 2 0 3M153 254l-3 3M204 295l-5 0-1 2M269 271l0 2-1 4M176 231l4-1M122 311l2-3-2-2M218 251l3 2M295 270l0 3-1 4M279 236l-1 4-4 1M144 179l4-1 3-3M190 311l-3 0M255 253l2 4 4 1M310 190l3-3M171 232l3 2M47 312l4 0M251 193l-3 0M207 172l3 2 3 1M304 260l-2 3M213 208l4 1M178 319l3-2M261 310l3-1M242 160l2 2M73 222l0-4 1-3M76 252l3-2-1-4M182 151l-1-2M320 163l1 4-1 4M254 178l-3 4 2 3M280 168l-1 4 2 3M111 300l4 0 3 1M60 313l-4 2M128 179l2-2-1-3M236 173l-2-3M175 156l3-1 3-1M144 285l-1-3 0-4M245 318l-1-4M144 285l-3-1-4 1M133 184l-3-1-3 1M230 219l3 3-1 4M77 218l4-2M295 232l3-1 3-1M186 217l2-3M170 221l1 3 4 0M223 219l-3 2M189 249l-3-3M142 182l2 4-1 3M301 189l-1 4M91 194l-3-2M98 201l-1 4M192 193l-2 0M99 291l3 1M219 250l-2-3M62 261l-3-2M292 163l0 4M193 229l4 1M53 211l-1 2M153 194l4 0 4 0M252 228l2 2M184 220l-4 1M47 227l2 2 4 0M141 214l3-1 0-3M49 232l-4 1-2 3M113 165l-2-1-4 2M254 153l4 1M123 256l-3-1-2-2M318 263l-3 2M224 215l-4 0M106 204l4 2M223 169l1 3 4 0M193 310l2-3 3-3M160 203l3-2 1-2M169 305l-4-1-3 2M78 230l-2 2M324 225l-4 2-2 2M218 260l2-3M221 285l-4-2-2-2M61 318l4 2 1 2M62 213l3 3M186 167l-1-3-2-2M229 320l-1-3-1-3M97 226l3-2M246 181l0-3M236 202l0 2M222 186l3 0M128 251l3 2M240 307l-2 2M101 280l-3-1M321 227l3 2 3 0M248 153l3 1 3 2M302 209l3-1M198 224l-1 4M124 300l2 2 4 1M277 250l3 2 4-1M177 192l1 4 2 3M183 184l0-4M134 246l4-1 4 1M161 233l0-3M73 159l-2-1-3-2M249 272l3 1M232 294l3 3 3 0M269 308l2 2M178 154l-1-2-4 0M164 158l2-3M122 269l-3-1-3 0M157 253l1-3M85 258l-4-1M210 256l-3-1M219 269l-3 3-2 3M169 181l2 4 1 3M323 198l-3 1M270 290l-2 2-4 1M98 293l3-2M112 155l3 0M76 267l4 0 4-2M53 253l-4 0-2-3M210 286l-3 3M84 174l-2-2 0-3M303 201l3 0 3-1M296 228l3-1 2-3M84 202l-5-1-3 2M156 310l2-3-2-3M228 287l3 1 3-2M81 194l2-3M157 262l4 0 1-3M279 228l-4-2-3 0M64 151l0 3M178 224l0-4-2-3M150 315l-2 3" stroke="#54602c" stroke-width="1.70" fill="none" stroke-linecap="round" stroke-linejoin="round" marker-mid="url(#gD)" marker-start="url(#gW)" marker-end="url(#gW)"/><path d="M168 220l-3-1-3-2M249 319l-3-2-2-2M173 274l-2 3 1 3M309 177l-4 0M179 275l-4-2-1-3M219 227l0-4 2-4M242 220l-1-3-1-4M223 280l2-1M327 320l2 3 0 5M153 287l-3 1M194 205l-4-1M211 258l-1 2M111 237l-3-1-3 2M91 257l2 2M211 238l4-1 4 1M205 169l-1-3M108 268l-3 0-4 2M137 260l4 2 0 3M183 214l4 0M282 156l3 3 3 2M161 263l1-4M304 300l4 1M90 182l3 1M84 270l0 4 0 3M155 151l2-1M190 259l-3 1-4 0M326 209l3 3M218 288l-1 3M310 198l-2 2M160 271l4-1M230 190l0 4 4 0M220 174l-3 2M146 293l-2 0M185 250l4 1 2-2M220 154l1 2M74 302l-4-1-3 0M250 218l2 4 1 2M208 237l3 3M148 225l-4-2M227 253l3 1M333 237l0-4M79 257l-4 3 0 2M132 246l-3 3M194 223l4 0M246 253l1 2M211 205l-3-3M266 227l4 1 1 3M258 197l3-1M237 304l-4-1M99 218l3 3M187 204l3 0 1 4M324 308l2-2M189 287l4 2 1 2M227 227l-3-2-3 0M63 210l0-3M108 318l-4 2M241 272l-2-4M159 289l1 4M181 220l3-1 3 0M326 316l2 0M293 232l-2-3-3-2M104 164l3 1 2-3M48 223l-3-3M112 256l-3-1-3 2M90 304l0 4M239 180l-3-3-4-2M322 221l2-2 1-4M42 290l2 2-1 4M319 258l3 0M298 243l2 2M217 219l1 3 1 4M188 272l3 1 3-1M326 173l0-4M263 231l3 1M206 312l-2 3M266 226l-2 4-4 0M201 176l2-2M201 266l4 2 1 2M187 262l-3 2M115 308l3 0 3-3M218 274l-3 0-3-1M147 292l3-1 1-4M93 219l-3-2M63 223l-2 0-2 4M163 184l2 3M328 155l2 4 0 4M62 313l4-1M216 299l4 2M129 213l1 3M187 153l-3 0-3-3M99 176l-3 0M103 232l-1-4-2-2M68 313l3-1M204 264l4 0 3 3M95 166l-3 2M170 203l-3-3M210 313l-4 0-3 2M126 268l0 3-2 2M259 298l3-3 1-3M210 269l-4 1-3 0M128 216l-3-3M172 310l-2-2M249 230l3 2M234 261l3 3M79 186l-3 0-2-2M71 162l-2 2-4 1M324 272l3-1 4 1M86 290l3 0 2 2M210 285l-1-4-2-3M201 191l0-4M98 313l3 2M101 166l-2 2-2 2M135 251l3-1 3 0M160 227l4-1 3-2M127 286l4 0M137 197l0 3 2 4M309 237l1 3-2 3M203 213l3 1 3-3M45 185l2-3-2-3M216 234l0-3-3-2M263 294l4 1M61 308l-3 2M268 155l2 1M271 210l3 0 5-1M217 229l-4-2-4 0M312 183l1 3 3 1M114 192l-2 3 1 3M60 204l1 3M250 226l1-4M329 261l0 3 1 3M155 176l3 3 3-2M317 261l-4-1M179 321l4 1M151 283l-2-1-4-2M292 189l-2 1-3 1M98 280l2 3 1 4M274 169l4-2M192 280l-3-2-2-2M184 322l-4-2M213 307l-4-1-1-3M210 235l-3-1-2 1M120 297l4 2M143 321l-1 4M84 205l-3 0M219 185l3 3M156 311l-1-3-4 0M78 297l1 3 2 4M238 290l0 4M128 218l-4-2M296 169l-3 3-1 4M57 165l4-2 4 1M55 270l3 2 0 4M289 228l3 0M87 200l-3 1-2 2M182 269l3-3M252 223l2-1 1-4M322 198l-1-4-2-2M70 314l-2-2-2-4M309 152l-3 2 0 3M110 229l-1 3M296 197l3 3 0 2M50 223l3 0 1-4M117 232l-4 1-3-3M89 235l-3 2M126 167l3 0 3 2M302 218l-2-4M152 210l0-3M121 268l-1 3-2 3M154 284l-4 1 0 3M94 250l-2 3M58 255l-1-3M322 193l0-5-1-3M324 158l-3 0-3-1M247 268l-2 2-2 3M43 220l0 3M208 278l5-1M94 194l-4-1-3 0M274 312l-2 2M106 269l0 4M142 310l-3 1-3-2M181 320l1-4M264 161l-1-2-3-3M296 258l-3-1M265 232l2-3 2-3M265 166l4 1 2-4M197 242l-3-1M125 234l-3-3M182 294l-1 4M125 239l-4 1-1 3M220 211l-3 0M57 249l2-3 2-4M309 264l2-1M265 238l0 3M142 260l-3-2M118 154l0 3M260 150l4-1 2 2M76 186l-3 0-4-2M285 221l4-2M58 167l2-1M103 290l2 2 0 4M87 269l2 2 0 4M43 194l-4 0-3 0M80 304l3 0 1-3M135 189l3-2 3-2" stroke="#566a34" stroke-width="1.70" fill="none" stroke-linecap="round" stroke-linejoin="round" marker-mid="url(#gC)" marker-start="url(#gP)" marker-end="url(#gP)"/><path d="M44 152l-1 4 1 4M243 285l-4-1-3 4M291 218l3-2M208 259l3 0 3 1M266 162l-4 0M142 251l-3-2M75 220l-4 1-3 1M247 258l-4-1-3 0M283 282l0 2M328 176l-1-3 1-3M269 271l3 1M112 299l-3 1M220 273l-2 0-2 2M261 311l-2 3M239 266l4 1 4-2M313 150l3 0M238 299l0 3 2 3M84 205l3 0M163 217l-1 3M155 320l-3 1M188 164l-2-2M206 231l2 2 1 4M123 246l-3 2M87 163l4-2 1-3M198 187l2 3 3 1M230 319l2-4M42 291l2-2M255 210l3 0 3 2M47 153l1 3M194 184l-3-2M133 241l-1-3M156 188l2-1M202 234l-1-3M216 190l0 3 1 4M194 247l0 4M269 252l1 4 0 3M216 200l1-5 3 0M67 297l-3 2M263 226l-3-3-4-1M176 258l2 3M283 307l3-1 3 0M192 169l4-1M130 322l-1-3-2-2M256 298l4-2M260 282l-2-2-5-1M73 194l2-2M313 233l3 1 3 0M211 284l-2 1M173 297l-1-1-3-3M253 236l4-1M133 219l-3 1-3 1M89 309l-2 2-1 3M72 280l-4-2-3-1M267 231l0 3 1 4M100 209l3 0 3 2M192 232l-3-1-2 1M237 220l-3 3 0 4M192 265l-4 3M258 217l3-2 1-3M165 261l-3 1-2-2M89 191l2 4M290 198l-1 3-4 1M252 318l-3 2M322 314l-2-2-2-4M196 171l-4 2 0 2M144 253l-4 2-3-1M76 193l1-3M55 289l-1 4 3 3M247 306l-3-2M271 269l-3 0M202 223l2-2 4 0M217 237l-1 3-3 1M303 309l-4 1M259 153l3-1M314 224l4 0 4-1M267 227l-1 2M229 203l-2-1-3-3M211 307l-1 3M224 222l3 0M65 248l0-3 0-3M247 302l3 0 4 1M284 191l-2 4M92 286l-4 1-3 2M142 267l-2-2M323 225l0 4 0 4M107 281l-2-2M135 286l-2-2M264 241l3-1M201 229l-3 0-3-1M255 199l2 3 3 3M154 245l2-3M141 265l3 1M66 245l2 2 3 3M143 257l-1 4 2 3M114 271l0-4M253 168l-4 1-3 3M236 310l-3 0M92 296l-2 2M138 257l-1-4 2-2M150 165l3 1 3 1M167 220l2-2M163 165l-5 1M195 202l-3 2-1 3M263 169l-3 0-3-2M310 227l2-4M143 306l-3 4-2 2M88 169l2-3M183 281l-3 0M127 257l1 2M154 289l-2 3 0 4M195 276l3 1M54 219l0 4M290 310l-4 1-3-1M128 234l-2-1M160 255l4 2 0 3M260 298l0 3 3 2M207 253l-2-3M214 154l-3 2-1 2M44 218l0 4-3 1M78 193l2 2M322 165l4-1 4 0M264 248l-3 2-3 0M246 248l0-4M173 194l1 3-1 3M53 155l0-3-4-2M222 162l2 4M247 187l4 0M57 276l-4-1M212 202l-1-3-2-1M126 257l4 1 3 0M165 195l-3 3-2 2M64 276l0-4M205 204l-4 0M107 289l-4-1-1-3M265 269l3 2M318 320l3 1M272 256l2-3 4 0M208 315l5 0M320 164l-2-2-4 1M68 294l-4 2M231 163l-3-3M212 310l-1-4 2-3M277 169l4-1 3 1M303 263l3 2M271 267l3-1 3 1M85 315l1 3M304 222l2-2M177 156l4 0M202 182l1 3 4 1M148 260l-4 1M193 201l2 2M315 167l-3 1M244 158l4-2M265 277l4 0 1 3M326 258l-1-3M101 186l2 1M74 260l2-2M198 314l1-2M108 186l1-4 4-2M268 222l0-3M221 217l3-2 1-2M220 179l-3-2M127 252l-3 0-2-3M172 167l0 3M234 153l3-1M224 228l0 2 2 4M126 287l-2 2M75 163l2 1M110 171l-2 4M110 227l3 2 3-2M238 195l-2 4M322 255l1 4M192 167l2 2 3 0M318 290l0-3M48 218l-3 2-3 3M224 166l2-3M215 168l2-2 2-2M243 197l-3-2M84 154l2-3M105 307l3-3M230 315l-3 0-3 2M90 171l4 1 2 2M262 289l3 0M42 225l3 0 1 4M192 256l-1-3 2-3M45 302l-3 1-4 1M236 195l-3 0M199 291l2-3M307 170l-3 1M290 194l3 1 4-1M252 180l0-4-1-4M44 154l0-3M48 270l4 0 4-1M46 236l3 2M224 212l0-3M57 217l4 0 4 1M222 280l0 4 2 2M266 166l-4-1-3 1M67 160l-4-1-3-1M314 229l-1 3M122 293l-3-3-4 0M121 274l4 0 2 3M294 202l-2 2-3 0M322 312l-3-3 0-3M277 245l-2-1M315 289l-1-2M94 175l1 3M174 288l2-2 1-3M60 234l-2-1-4-1M143 235l-1-3M131 208l4-1M54 288l-3-2M317 216l4 2M137 247l-2 3 0 3M305 249l2-2M270 172l2-2M120 252l1-3M147 320l2-3M131 287l2-3 3-2M105 290l-4-1M324 247l-2 2M75 288l-4 1-4 1M305 296l2 3-2 4M179 230l-4-1M184 164l-3-2-4 2M82 235l1 2M241 255l-4 1-2 3M87 253l4 0 2 1M128 316l2 3 3 2M186 184l-2 4M197 264l0 3-1 3M125 314l-3-1-4-1M261 285l1-2-1-3M143 165l-1 3-2 4M125 256l4-3M135 182l4 1 3 0M144 227l1-4-3-3M173 217l-4-1-2 2M103 161l3-1 2-4M270 279l-1 3M84 196l0-4 1-3M71 289l-3 0M236 241l-2-2M146 160l1-3-1-3" stroke="#5a7038" stroke-width="1.70" fill="none" stroke-linecap="round" stroke-linejoin="round" marker-mid="url(#gL)" marker-start="url(#gW)" marker-end="url(#gW)"/><path d="M314 248l-2-3M154 223l-4 1M277 157l-3-1M185 307l-3 2-3 3M186 262l2 2 2 2M181 243l-1 3M107 298l-3-1-3 0M238 161l3 3M236 241l1 3M192 321l-3 0M110 155l-3-1-2 4M264 262l1-4M177 207l0-2M120 289l-3 1-3-3M204 295l3-1 4 2M219 200l3-2M144 186l-3 0M166 236l2 3M144 250l3-2 3 2M191 186l-1-4M298 239l-4 0-1 4M244 200l3-3M164 236l-1-4-4-2M176 159l-2-2M95 198l-3 2-3 1M306 264l3 1 3 0M308 164l-4-1M260 256l0 3 2 3M218 302l-4 2-3 0M262 161l-2-2-2-2M45 167l0 4M308 277l4 2 3 1M220 319l-3-3-1-3M219 257l2 3 4 2M99 223l2-3 3 0M261 159l-1 3M147 226l-4 0-2-4M322 288l-4 0-3 3M49 175l3 1 0 4M256 167l-3-1-3 0M85 263l-3 2-1 3M184 256l-3-2-2-1M196 232l3 1 3 2M333 319l2-2M285 284l1-4M305 284l2 3 2 3M220 270l3 0 3 1M177 279l-3-2M284 259l2-1M184 321l2-2-1-4M278 265l-2 3 2 3M291 260l2 2M188 196l2 2 1 3M170 197l3-4M86 241l3-1M111 250l-1 3M109 240l0 3M74 317l3-2M270 173l3 1M284 321l3-2 3 2M278 253l-3-3M177 315l-4-1M127 158l-3-1M53 236l-2-3-1-3M102 233l-3 1M88 317l3-1 0-3M60 201l3 2 1 2M185 166l3 1M163 308l-3-1-3 2M167 235l-2 4M61 236l-4-1-4 2M123 269l0 4M72 264l-3 2M233 297l3 0M194 267l2 4-3 3M190 288l-5-1-4-1M279 293l-2-3-2-2M122 181l-3 1M185 178l3-1M216 310l2 3M222 256l4 1M332 199l1 3-1 3M238 241l-3-2-1-4M304 241l0-4M292 187l4 0M307 234l3-3M198 286l0 4 0 3M191 201l3-2 0-3M334 170l-4 0-3-1M208 290l-4-1M139 314l-1 3-3 1M175 179l3 1M200 193l-3-3M199 196l-2 3-3 3M240 286l-3-2-1-3M264 301l-3 2-3-1M53 252l-2 2M188 173l-3 2 1 3M154 236l3 3M46 174l3 1M106 162l-4-1-4-1M124 201l-2-1-1-3M136 320l-2 3M329 227l3 1 0 3M291 160l3 3-1 2M92 227l0-4-2-3M207 208l0 3 2 3M160 197l-1-2M114 314l3-2M284 314l-2-3 1-3M117 155l-4-1-2-3M270 232l3-2M178 152l-4-2M105 286l-2 0-2-2M68 320l3 2 3-1M125 207l2 1M83 317l-3-2-3 0M76 189l-1 3M293 290l0-4-2-3M49 220l3 2M153 200l-3 0M320 264l3 1 1 3M164 238l0 4-2 2M95 159l2-2M241 200l-3 0-3-3M56 166l3 1 2 4M255 230l3-2M49 164l-4 0M198 198l3-2 2-2M83 294l-4 0-2-3M42 283l-2 3M171 256l-1-3-4 0M296 230l-2-3M169 232l-3 0M152 229l3-3 4-2M188 186l2-4M165 320l4-1 3-2M199 229l2-2 4 1M68 285l0 4M177 198l-3 3M75 199l1 3M139 272l0 4M203 246l-2 3-1 3M194 214l1-3 0-5M219 194l3-1 2-3M234 158l3 2M90 222l-2 2-3-1M111 226l-3 2-3 1M312 198l3 3 3 2M143 158l-4 1M210 311l4 0 3 2M53 188l-4 0-3 1M75 258l3-2M270 319l4 2 3-3M308 217l3-2M168 153l4 1M195 227l-2 1M100 204l3 2M133 260l-2 2 0 3M121 250l4 1 3 1M147 202l3 1 2 1M141 244l-3 2M134 255l3 2M113 319l-2-4 0-3M159 311l-2 2 1 4M119 229l-2 3-4 1M64 160l-3 0-3-2M160 263l-3 0M165 182l3 0 1 3M48 313l-2-3 2-4M129 320l4 0 2-1M58 264l2 4M120 199l1 4M85 291l3 0 2-3M141 161l-1 2M91 163l-3-2M195 229l-3-1M61 254l-2 0M256 305l3 0 2 1M54 182l-3 0-2 3M259 158l0 3M275 258l-4 0-3-1M98 245l-2-4M288 169l4 2M218 263l-3 2 2 3M209 245l3 1M239 281l-3 1M189 291l-1 3M324 316l-3-1M185 313l0-3M131 252l-1-3M248 262l-3-1M207 293l3-1 1-4M64 228l0 4M132 186l-2-2M259 320l-2 4-1 3M64 193l3 2 3 2M190 298l3 3M261 188l-4 2M186 246l-3-1-4 2M111 319l-3 1M248 247l-3 2-4 0M113 206l-2 1-2 3M140 166l-3-1M325 274l-2 2M62 288l-4 0M283 286l-3 2-2 4M281 298l-2-4 1-2M219 312l-1-2-4 0M223 285l-3-1-2-2M114 206l-3 1-4 2M146 261l-3 0-3 1M233 191l2-3M243 248l-3-1-4 1M298 157l3-3 3-3M308 201l1 4 3 2M320 164l2 2M231 199l3-1 3 2M199 168l2 3 2 1M278 317l-4 1-3-2M89 186l2-1 3-1M206 232l-4 0-1 4M66 276l-2-1M135 215l3 0M194 205l-3-2M260 183l4-2 3 2M57 255l1 3 2 2M86 226l3 2M59 166l3 0M254 215l3-1M329 255l3-2M42 154l4-1 3 0M294 180l2 4-1 3M206 224l4 0M242 171l-2 3 2 4M60 291l2 1 4 1M185 237l3-2 3 0M268 216l-4-2M154 278l-1-4M165 320l2-2 3-1M281 252l-3-2-3-1M61 289l0 4 3 3M214 165l-4-1M329 309l0-4 3-3M308 286l3 0 2 3M51 193l0 3 1 3M261 294l3 1 2 3M76 168l0 4M194 321l1-4M310 182l-2 3M75 301l-4 2-3-1M43 311l-4-2M140 321l1 4M197 291l0-3-3-3M181 247l-2-2 0-4M66 253l5-1M230 258l-4 1-2 2M171 261l3 0M267 242l4 1 1 3M95 290l1 3M74 175l-1-4M231 267l3 0M243 296l2 2 1 2M291 220l3-1M330 308l3 1 4 0M226 287l3 2M64 171l3 0 3 0M102 170l3 1M332 160l2 4 1 3M249 155l-1 4M129 250l-3-1-2-2M178 319l3-3M232 272l5-1M194 291l3-1M326 165l1-4M308 160l4-2 2-2M279 260l-3 0-2-2M315 272l0 3-2 2M204 254l1-3M210 315l-2 2-3-1M80 242l2-2M55 221l-3 0M309 231l4 2 3 0M157 191l0 3 2 2M212 259l-4 2-3 2M323 257l-3 2M261 288l-1-4M316 156l1 3M234 210l-4 1-3-1M203 312l-1-3-1-3M63 151l-3 0-1-3M85 185l0 4-2 2M331 239l4 1M99 253l-3-1-2-1M76 299l3 1 0 3M151 184l2 2M65 210l-4 1M299 316l-3 2-3 2M199 280l-1 3M127 196l4-1 3 1M111 253l-4 0M212 204l3 0 1-3M249 152l-4 0-2-4M266 291l3 3M77 297l2 3 4-2M243 311l3-2 0-3M190 290l3 0M196 300l4 2 1 3M226 158l-4 0-3 3M141 318l-1 3M124 165l0 4M47 219l3 1M76 219l3-1 2-2M79 174l-3 2 1 4M132 287l3 2M181 230l1 3M154 170l0 4 1 4M288 293l2-1 3 1M83 177l4-1 2 3M156 302l0 3M109 264l2 2M140 182l3 2M246 261l-2-2M330 289l-2-2M157 177l3-1 4 0M312 253l-2 2M142 277l-3-3M177 239l4 1M153 214l-3-2-2-2M62 311l-3 2M151 192l-4-1-2-2M292 220l2-1 4 0M162 225l-2 2M102 287l-1 3M185 182l-3-1-2-3M309 198l-2 2M280 309l-4-1M279 274l-3 1-3 2M69 153l0 4 3 2M160 263l1 2 4 0M280 186l-2-1M309 292l-4-3-3-2M289 297l3-1M252 165l3-1 2-3M129 310l-4 0M83 163l-2 2M262 231l-3 0-2-4M155 197l3 0M283 158l-4 2M238 283l3 0M218 300l-3-1-3-1M52 153l1 2M252 220l-2 2-3 1M261 238l-2 3 0 3M193 246l-3-2-4 2M95 159l-4-2-4 0M57 219l4 2 2 1M241 312l-3 1-3-1M260 266l2-2-1-4M172 165l0 3M236 176l-3 1M93 281l-4 0-2-3M213 297l2-2 4-1M196 217l2-3 3-2M77 293l-3-2M206 253l3 0M224 283l-3-1M242 239l-3-1-2-3M236 287l-1 4M83 159l3 1 2 2M91 152l-3-2-1-4M145 162l-3-2M258 309l1 4 1 5M172 269l1 3-1 3M271 158l2 2M307 250l-1-3M214 166l-4 2-3 1M243 161l-4 0-4 1M52 170l-2-2M197 191l-2 4 0 3M169 259l0 3M104 224l-3-3M234 306l3-1 3-2M51 204l4 0 1 3M100 195l-2 1-4 0M264 247l4 2 1 2M177 165l-4 1-1-3M46 193l-4 1M123 202l-2 3M208 249l1-4M115 202l-1-3 1-3M207 301l-4 0-3 1M246 294l-2 2M255 168l4-1 0-4M213 313l0-4 1-4M301 275l3 2M49 194l1 3 1 4M234 295l2-2 3-1M207 259l2-2M150 220l2 2 1 4M144 289l0 3M242 321l-3-2M294 160l1-3M136 154l-3 1M63 319l4-1M100 252l5 0M117 276l-3-1M300 164l-3-1M172 163l3-2 3 0M43 301l-4 0-1 2M221 315l-2-1-2-2M159 245l1-4 1-3M239 266l0-4 2-2M232 238l-1 3-3 2M312 204l-3 1-3 0M100 190l2 1 0 3M276 285l3-1M318 224l3 0 3-1M270 306l2 2 2 2M88 313l2-2M293 250l4-2 1-2M134 179l-2 1M70 318l3 2M263 313l-1-3 1-4M269 197l-2-4-3 0M278 250l-4 2M155 210l-3 3M58 198l-3 2-3 2M175 226l1-4 0-3M92 183l2 2M102 239l4-2M203 156l1-2 2-4M229 280l2-2 4-1M267 283l-2-2 0-4M188 197l-3 0-4-1M271 241l3-2M140 241l1 4M252 206l1 4 2 3M125 292l2-3 0-3M266 281l0 4 2 2M325 169l2-3M154 286l3-1M76 165l-4-2M201 265l0 4-1 4M230 280l-3-1M118 316l4 0M118 233l-2-2-3-3M53 166l0-4M86 312l3 1M86 165l-1 4 1 2M251 296l0 2M260 277l4 0 2-1M118 250l1-2 2-1M325 269l-1-3 0-3M107 191l1-2 0-4M84 275l3-2M119 301l0-3-2-3M317 197l2-3 2-2M245 263l-3-1-3-1M50 297l-3 1M322 216l4 1 2-3M52 300l3-1 4 0M144 220l2 3M240 308l-4 2M64 261l0-3M113 309l-3-3-3-2M235 175l2-2M319 180l0 3 2 2M332 173l-3-1-4-1M143 165l4-1 2 2M326 281l4-1 3 0M194 317l2 2M62 183l4-1M247 187l3 2M134 260l-1-2M140 296l0 3M260 204l-4-2-2 3M234 254l1 2 3 2M201 296l0-3M323 309l-2 3M98 254l2 3M313 243l-3-1M200 242l-2-3 0-4M195 207l1 3M257 175l1-4M177 246l2 2 3 2M158 317l3 3 4-1M170 307l3 2 1 3M329 187l-2 3 1 5M176 248l-4-1-3 0M261 157l0-3M325 254l-2-3-3-1M234 158l0 4-3 1M212 287l0-3M54 193l3 0 3-3M289 160l-3 2 0 3M198 230l2 1 1 3M250 221l0 4 0 4M90 264l-3 3M197 208l3-2M99 152l-4 0-4-1M203 322l4-2 3 3M143 309l3-2M184 264l-3 0M199 166l3-1M152 319l0-4M262 216l-3-1M137 311l-3-2M109 299l0 3-3 2M179 212l-3-3-2-3M128 266l-1 4 0 3M225 269l-3-2-1-2M98 292l1-3M193 180l2-2 4-1M318 155l3 2M48 159l-2 4M218 215l2 2M96 182l-3-1M287 165l-3-2M205 166l-2-1-3 0M86 314l3-1M250 308l-4 0M308 169l1 3 5 0M203 254l0-5M95 288l4-2M140 260l3-2 3-2M200 296l-2 3-4 1M330 200l-1 4 2 2M90 293l2-3 1-3M320 156l1 4-1 3M102 259l3 1 3-1M291 276l0 3-1 2M245 213l0 4 0 4M125 188l3-1M83 261l3-2-1-4M163 293l4 0M318 307l-3-2M322 241l3 0M136 230l0 3 1 3M277 271l4 0M243 194l-3 2-1 3M140 165l3 2 2 1M269 319l-2 2-3 2M181 150l-1-2M148 282l1 3-2 3M148 180l-3 1M272 253l3 2 3 1M96 320l-2-2 2-2M312 217l-1-2-1-3M201 202l-2-1M89 290l1 3 3 1M281 308l2-4M153 176l-2 2M323 269l1-3 4-1M121 269l-2 4-3 2M150 202l2 0 4 1M308 292l3 0 4-1M172 303l2 2 1 3M328 192l-3-3M157 261l-4 1-3 0M61 172l-2 1M201 296l1-4M216 197l2 3M252 319l2 3 4 2M238 189l3 2 1 3M100 287l-2 3M291 203l3-2 3 2M183 170l0-3" stroke="#546a30" stroke-width="1.70" fill="none" stroke-linecap="round" stroke-linejoin="round" marker-mid="url(#gC)" marker-start="url(#gW)" marker-end="url(#gW)"/><path d="M294 193l2-2M45 263l-3 2M169 318l-1 2 0 3M223 155l1 3 0 3M116 279l-3 2M178 166l2-1 3 0M50 321l3 1M156 267l-4 1M76 289l4 0 1 2M157 251l3 3 1 2M194 255l4 2M197 198l-2-1M136 262l-1 4M332 280l4 2 3-1M150 322l-3-1M331 260l3 1M289 250l-2-3M247 259l-4-1-2-3M169 179l2-2-1-3M52 191l-2-2 0-3M312 171l-2 3 2 2M242 198l2-2M71 219l-2-2M290 253l-1-3-3-3M105 201l-1-3M99 282l-2 2-1 4M162 204l-2 4 2 3M267 299l2 2M125 179l-4 0M298 230l1 2M225 315l1 2M132 318l2-3M137 238l2 2 3 3M149 232l-2-3M97 307l-3-2M159 311l0-3 1-3M199 198l-2 3M172 179l0-3M130 262l-3 1M288 319l-4-2M152 262l-1 4M193 206l-1-4M47 285l2 3M166 195l-2-1M322 182l1-3 3-1M299 191l-1-3-1-4M96 223l2-2 3-2M95 195l3 0 2 3M294 225l-1 4M70 316l2-3 3-2M221 196l2 3M231 194l-4-1M292 318l-1 2M104 310l1-3 0-4M219 266l1-3 0-4M74 202l0 4M291 251l-1 3-1 4M177 170l3 1 3 0M116 162l-2-3 2-3M168 315l0 3 3 1M289 263l4 0 3 0M170 226l-3 2M144 187l-4 0-3 3M124 246l-4 0-1-2M301 152l4 1M183 292l-4 1-2 3M47 192l-2-3-1-4M188 254l2-2M259 300l-4 0-2 4M303 207l-4-2-3 2M43 217l1-2-2-2M73 202l-3 1M268 245l2-1 4-1M320 168l0-3 2-3M224 208l3-1M205 217l3-1M53 280l0-4M126 229l3-1M187 190l-3-2M120 239l-3 2-4 0M190 179l-2 2M318 277l-3-3-2-2M234 270l1-4M324 172l-3-2-3-2M209 283l2 2 2 2M182 173l4 1 3-1M217 257l-4-1-2 3M58 295l1 4M75 163l3 0M68 260l-3-3M41 237l4 1 3-3M262 166l4 2 0 3M281 318l3-3 4-1M323 207l-2-2M216 301l3 0 2-2M242 245l-2-2-3 1M187 171l1-3 0-4M55 259l-4 1M276 259l-3 0M201 162l2 2M283 315l-3 2-1 3M218 247l3 0 3-3M155 268l2-2M199 223l1 3 3 2M173 159l1 3M269 199l-5 0M103 240l2 3 3 1M253 250l1-3M276 284l-2 3-4 1M299 236l3 0 3-3M289 272l-2-2M69 285l-3 2-4-1M329 315l0 4-1 3M169 295l2-3M309 170l-4-1 0-4M80 288l3 2M271 152l-4-3M319 153l2-3M303 262l-1 3-2 2M103 262l4 0M299 205l-2 3M322 309l-2-2-3-2M128 217l3-2 4 0M225 318l4-1M156 162l-4 0-1-3M212 283l-3 0-3-2M257 221l0 4M180 315l-2-2-4 0M263 195l4 0 2 1M181 197l3 0 3 1M323 320l4-1M123 225l-3 3 0 3M245 161l2-3M260 315l3-1M145 236l1-5 2-2M290 252l2 2M298 168l2-2 2-1M158 174l3 2M244 244l2-2 3-2M327 161l-3-2M158 255l3 0M206 224l1 3M190 162l1 3M151 203l0-4M239 297l-3-1 1-4M242 241l-3 0-1 3M88 192l3 3M92 256l-2 4M96 167l3 1M208 207l-2 3 1 3M169 275l3-1M126 220l-3 0M106 298l-3-3M227 255l-4-1M221 252l-3-4-4-2M240 164l-2 4M248 318l-1 4-1 3M236 251l4 1M257 196l-2 3M75 222l4 2M215 267l2-3M134 176l2-2M198 311l2 2 2 3M276 194l3 2M69 218l-4 3-2 3M78 160l3 1 3 2M83 253l1 2M315 195l-3 1-4-1M174 289l0 3-1 4M284 221l-3 2M332 292l2-1M271 314l-3 0M143 203l5 2M271 234l-4-1-2-2M107 304l-2-2 1-4M140 222l4-1 2-3M141 228l3 2 2 2M225 298l-4 0M110 233l-1 4M173 278l-4 1-2-2M165 205l-4 0-3-2M231 198l4-1M42 202l0 3" stroke="#54602c" stroke-width="1.70" fill="none" stroke-linecap="round" stroke-linejoin="round" marker-mid="url(#gD)" marker-start="url(#gW)" marker-end="url(#gW)"/><path d="M222 154l4 1 2 3M304 254l-2-2 0-4M261 261l-3-2-3 0M260 162l-1 3 2 3M318 253l-1-2-2-3M164 221l-4 0M288 312l2 2M205 270l0-4 2-4M177 170l-4-2M216 247l2-3M63 201l0 3-1 3M76 171l-4 1-2 1M226 268l3 0M122 194l2 2M260 275l3 2 3 0M322 173l-4 0M199 179l-3-1-2-2M225 208l-2-2-2-2M126 236l-2 2M309 201l-1-4M145 161l1 3M113 204l2-2M286 227l3 1M294 228l2 4 3 2M176 285l-3 3 1 4M50 313l-2 3M246 171l-4-1M318 265l-3 0M275 217l0-3M210 289l-4 2-4-1M227 190l-3-3-4 1M268 162l-3-1M237 236l4 2M60 244l4-1 2-3M319 218l-3 2M195 198l-2 0M87 294l-2 2-3-1M60 251l1 2 2 2M97 284l3-3M270 189l-2 4M281 229l-2-3M175 228l4-1M235 271l-1-3-1-4M288 305l0-4M229 240l-3-1-3-3M54 297l-2-1-2-3M152 227l-2 3-2 3M222 304l-4-1M300 235l2-3 4 0M88 292l2-1 3 1M263 281l4-1 1-2M268 298l1 4M124 268l1 3 1 3M45 189l4-2 3 0M154 273l-3-1M228 230l4-1M159 235l-1 4-1 3M204 221l3 0M119 275l-1-4M178 161l-4-1-2 1M313 251l-3 1M59 292l-3 1M49 315l3-1 2 0M237 257l-2-3 1-3M173 163l2 3 3 3M107 289l3 3M285 297l-3 1M297 172l-4-2M188 162l-1 2-3 0M193 225l-2 4-3 1M188 311l-3-3-3 1M287 283l-3-3M316 292l3 1 4 2M251 176l0-4-2-3M238 194l4 0M203 158l-2-3M292 188l4 0M78 173l3-1M132 294l4 3M299 209l-3 1-2 3M58 321l-2 2M82 201l-1-3-3-3M311 235l0 3-2 2M222 287l2 1 3-1M119 186l-3 1M298 184l3 0 3-3M104 185l-2-4-3 0M254 231l1 4M115 234l2-4-1-3M334 293l-3 1M134 316l4 2M138 166l4 1M114 225l-3-1-1-3M188 301l-2-1-3-1M274 158l-2-3M271 228l1 3-2 2M241 231l-3 0-2-2M66 188l0-3 0-4M70 310l-2 0-3-3M218 203l3 1 1 3M304 167l2-3M134 210l-3 2-3-2M45 232l-3-2-3 2M290 229l3 3M95 254l3 0M184 220l3 0 4-1M266 168l0 4M88 251l1 3 2 3M93 267l0 4M147 268l4-1 1-4M178 310l1 3 3 1M245 169l3 2M206 252l0-2-4-3M173 158l4 1 2 4M41 151l-2 1-3 0M332 195l-3 1-3 1M300 307l-2 2-4 2M67 213l4 1 3 0M120 229l3-2M83 205l2-4 1-4M194 289l-3-2M120 317l2 3-2 3M129 285l0 4 3 2M103 158l-3-1-2 2M213 272l0 3M241 271l-1 3M76 202l3 1 3-1M242 260l-3 2M228 226l2 1M61 218l2 3M121 226l3 0 4 0M105 293l0-3-1-3M319 229l-3-2-4 2M90 200l4-1 3-3M207 220l1-3M237 300l-2 3M214 226l3 0 3-1M67 251l-3 1-3 1M190 217l-3-3 1-3M165 221l2-2M327 169l-2-1M58 199l4 2M57 292l3 3 4 0M173 229l3-1M205 225l3 1 3 3M151 158l0 2M208 290l1 3M98 299l0-3-2-1M109 233l-1 4 1 4M95 191l-4-1-4-1M207 200l3-2M293 180l3-1 3-2M141 168l0-4 0-5M67 319l4 3 2 1M84 280l1-3 3-1M140 200l-4 2 0 5M146 152l-4 1M110 236l-2 3M51 315l2-1M283 295l-3-1-4 0M189 231l1-3M249 309l-3 0-2 4M93 318l-2-1-4-2M188 224l0-4 1-4M217 255l5 1 4-1M87 153l2-4M306 167l-2 4-2 0M67 283l-2 1M212 159l-1-4M153 314l3-1 1-3M211 204l0 3-1 3M258 289l-3 1M182 206l-1-2M163 298l-1-3-2-2M287 255l3 0 4 1M94 248l1-4M240 259l1-3 3-2M320 319l-1 4-2 2M68 231l0 3-3 3M249 175l1 3M47 251l-2 4M165 238l3 3-1 3M279 208l3-3M228 260l3 1M254 170l-3-1-4 1M114 199l-2 3-1 3M263 178l4 0 4-2M274 264l4-1" stroke="#566a34" stroke-width="1.70" fill="none" stroke-linecap="round" stroke-linejoin="round" marker-mid="url(#gC)" marker-start="url(#gP)" marker-end="url(#gP)"/><path d="M74 201l4 0M108 290l-2-3-1-2M178 265l-3 1-2 1M332 226l0-4 0-3M239 318l-3-1-3-3M145 203l-4 0-4 1M179 283l1-3 1-2M198 256l-1 4 0 3M55 281l3 1 4 1M97 160l-3 0-4 0M177 153l2-3M74 281l2 3M104 255l-1-3M220 264l-3 0M312 246l-4-2 0-3M255 154l-3 1M102 319l-1-3-2-3M101 290l-3-3-3 0M210 202l-3-1M98 201l4 2M258 231l3-1M201 169l0-4 4-1M160 220l4-1 3 0M228 168l-1-3M94 298l3-3 0-4M235 219l2-4 3-2M251 234l0-4-3-2M207 313l-2-1-3-3M315 155l4-1M323 277l-1-4 1-4M59 194l2 2M202 212l2 3M156 199l-3 0-4 0M154 305l-3-2M195 268l3-1 1-4M277 287l-3 2-1 3M89 268l-4 2-2-2M237 167l3 1M312 286l3-2 2-1M119 183l-1 2 1 3M237 191l3-1 1-2M213 295l2-2-1-3M196 263l4-1 3-2M164 193l3 2-1 4M163 171l1 2M296 272l4-1M294 279l2 3 3-1M258 232l4-1M265 255l2-3 1-4M268 283l2 3-2 3M99 265l3 1 1 3M256 261l-1 4 2 2M112 170l2-3M218 279l4-1M228 219l-1-3 2-3M202 202l-4 0M139 204l4 0M327 190l3-3M120 162l3-1 3-3M235 322l3-2 1-3M85 190l-3 0-3-1M304 165l-4 2 0 3M120 159l-3-2M177 260l-4-1M155 269l-3-1M292 261l-4 1M102 191l3 1M250 150l2-1 3 1M257 170l3 0 3 2M255 234l-3 0M69 254l3 2 3-2M263 231l4-1 3 1M132 269l4 0 1 4M325 241l-1 4 0 3M82 316l-4 0-1-3M188 257l2 3M226 281l-3 0-4-1M42 190l2 2-1 3M154 254l-2 4M117 266l1-3M153 152l3 1M119 181l-4-2-3 3M301 287l0-3 2-3M186 285l4 0M128 281l2-2 2-3M247 223l3-1 2-5M83 174l2-2M128 313l2-3M228 220l2-1M304 257l2 4 3-1M143 183l1 3M43 202l2-2M286 316l1 4M315 273l3 3M243 165l-4-1M201 226l2-2M244 296l-3-2M252 308l2 2 3 0M314 248l0-2-1-4M238 258l-1-4-2-3M95 219l-3-4M144 191l2 2M236 164l-2 1-3 3M193 257l3 2 2 3M139 255l-3 1-4-2M81 200l-2 2M256 249l-1 4-2 2M196 294l-1 3M176 311l2 3M185 154l-1-3-2-3M118 267l3 0M78 259l-2 3M91 318l-2-3M161 233l-3 1-3-1M266 197l-2 4 0 3M121 268l-2-3-3-1M113 200l-3-2M299 220l-3 3-4 2M303 299l2 1 4 2M110 157l1-2 5-1M135 182l-3 1M158 271l-3-1-3 0M260 224l-2 2M130 235l-3 2M197 272l4 1M120 167l2 2M96 260l-2 2-3-1M112 293l2 3 3 0M156 293l-3 1M69 239l-1-3M155 218l-3 2M233 219l3-2M180 198l-1 2-1 3M96 156l-2-3M47 201l3 2M172 197l1 2M161 220l2 2 2 3M169 303l2 2M68 294l-1 3M191 312l3 0M56 251l3-1M105 217l1 5M139 150l3-1 1-2M169 165l-3 1M223 228l-3 1M63 233l0-4 4-2M99 275l-3 0M300 185l2-4-2-2M169 302l-2 2M306 274l-2 1-3 2M323 228l2-2-1-3M274 221l2 2M219 158l1 3 2 3M100 232l-3 0-2 0M47 168l0 4-2 2M210 249l3 2 2 3M102 292l3 1M221 314l-3 2-3 3M276 161l3 1 3 4M310 308l3 1M317 228l-3 0-4-2M87 227l0 4-1 3M326 288l3 0 3-2M316 209l-4 1M219 191l-2-2M204 166l-1 3-4 1M324 154l3 1 3-1M319 224l3 1M94 221l3 2M214 293l3-2 2-3M178 289l3-1 2-2M58 291l4 3M189 263l-3-2M46 283l3 2M85 160l-4 0-3-2M183 302l-2 4M105 321l-1-4M133 223l0 4 1 2M305 319l-1-2 3-4M128 239l-1-3 3-3M195 283l3-1 2 4M77 317l-2 3-3 1M57 287l-3 2M89 321l-4 1M89 239l3 1 3 2M121 321l1 3-1 4M208 310l2 0M178 264l0 3M197 206l1-3M43 160l3 3M279 247l2-1 3-1M174 171l-4 1M321 214l-3 3 0 4M253 203l0 4 3 2M320 162l3-1M279 259l4-1 4 1M66 227l3-3 1-2M116 198l0-4 3-1M333 164l3-3M157 222l1 4M71 255l-3-1M280 292l2 3M107 195l-2 2M259 278l2-2 1-3M122 228l0-4 1-2M94 319l1 4M155 228l4 1M301 238l2-4M312 242l-3-1-3 2M134 292l-2 3M139 257l3 1M229 202l-3 0M184 313l-1-4 0-4M240 200l-4-2-3-1M191 242l-3 1-3 0M150 277l-4 3M287 228l-2-2-2-3M203 162l3 0M82 180l3-2 3 1M255 238l-2 1M331 232l-3 1M322 301l-2-2-3-1M149 151l3 2M66 301l2-3 2-1M116 321l-3-1-2-3M46 280l0-4-2-3M256 198l4 1M116 237l-2 3 1 4M102 285l-3-1-3-3M195 301l-1-2-3-1M304 227l4 1M79 247l2-2M230 249l3 1M245 164l-2 4 0 3M233 214l-3 2M323 258l-1 3 0 3M190 309l-4 2M100 212l-4-1-3 1M125 153l3-1 2-3M117 298l1 4 3 3M292 191l-3 1M87 297l-5 0M106 292l-4 2-2-2M199 320l0 3M43 309l3 1 4-1M119 188l1 3M67 278l-2 3 0 3M83 191l-4-1-2 2M249 284l3 0M185 187l1-3M168 222l3 3M49 235l-2 2-4 0M305 231l3-2M224 311l3-1 4-1M228 224l2-3 1-2M198 257l3 1M288 311l-3-1-3 3M70 236l2 1 3-1M240 238l1-4M121 194l-3 1M91 181l5 0 3 1M154 303l-2 1M90 240l-3 4 1 4M217 269l2 3 3 1M145 223l3 0M176 251l-2 2M108 280l-3 3-4-1M177 194l2-4M189 283l3 1 3 3M125 273l-3 0-2 2M131 207l1-3-2-4M105 289l2 1 0 3M89 244l0 3M198 314l0 3 0 3" stroke="#5a7038" stroke-width="1.70" fill="none" stroke-linecap="round" stroke-linejoin="round" marker-mid="url(#gL)" marker-start="url(#gW)" marker-end="url(#gW)"/><path d="M101 155h0M120 157h0M124 155h0M155 153h0M157 152h0M160 150h0M183 151h0M189 151h0M194 155h0M222 153h0M227 155h0M242 154h0M244 156h0M247 158h0M281 154h0M284 153h0M285 159h0M286 155h0M299 159h0M314 158h0M329 157h0M55 167h0M73 169h0M77 165h0M109 168h0M119 160h0M207 162h0M213 160h0M229 160h0M237 167h0M241 164h0M244 160h0M256 166h0M260 161h0M264 167h0M280 162h0M280 160h0M293 165h0M316 165h0M321 168h0M46 171h0M50 177h0M56 170h0M125 179h0M125 177h0M218 174h0M221 172h0M239 171h0M282 172h0M284 174h0M297 173h0M42 189h0M52 184h0M52 183h0M74 188h0M77 186h0M78 189h0M103 181h0M104 188h0M110 188h0M111 186h0M114 182h0M119 180h0M139 186h0M153 181h0M157 181h0M183 182h0M197 187h0M207 183h0M224 187h0M237 186h0M237 182h0M243 187h0M315 182h0M323 189h0M60 195h0M61 190h0M70 191h0M76 191h0M84 198h0M113 195h0M154 194h0M175 190h0M178 193h0M187 198h0M197 198h0M211 193h0M212 197h0M235 193h0M236 192h0M252 190h0M255 194h0M275 196h0M280 197h0M284 197h0M46 206h0M58 203h0M59 206h0M79 204h0M100 205h0M117 206h0M120 201h0M132 203h0M178 200h0M180 207h0M183 205h0M203 208h0M205 201h0M256 205h0M274 202h0M286 202h0M317 202h0M332 201h0M46 213h0M60 213h0M62 217h0M76 216h0M80 213h0M119 216h0M129 217h0M164 214h0M170 215h0M215 218h0M228 213h0M282 219h0M317 214h0M53 224h0M64 227h0M81 223h0M105 226h0M122 222h0M125 222h0M129 228h0M140 228h0M150 229h0M166 222h0M186 229h0M190 223h0M193 224h0M194 229h0M202 223h0M203 222h0M205 220h0M205 222h0M206 221h0M214 227h0M226 222h0M226 229h0M254 220h0M255 227h0M262 227h0M268 227h0M272 227h0M285 226h0M308 221h0M316 227h0M325 220h0M44 230h0M58 239h0M65 233h0M77 239h0M83 236h0M94 230h0M102 232h0M110 230h0M128 239h0M136 234h0M139 239h0M161 231h0M175 234h0M191 238h0M193 238h0M199 232h0M199 239h0M215 236h0M233 235h0M234 239h0M257 231h0M264 236h0M278 230h0M284 239h0M313 235h0M317 230h0M320 237h0M328 233h0M46 249h0M62 248h0M81 244h0M100 243h0M111 243h0M132 248h0M137 245h0M145 246h0M222 241h0M224 247h0M224 242h0M224 240h0M229 248h0M256 243h0M282 244h0M288 248h0M301 246h0M45 256h0M58 258h0M71 257h0M79 250h0M83 250h0M91 252h0M105 256h0M118 254h0M128 250h0M129 255h0M161 254h0M169 252h0M215 252h0M232 252h0M237 256h0M238 252h0M239 253h0M251 258h0M270 252h0M271 251h0M271 259h0M292 255h0M309 251h0M59 268h0M60 266h0M72 268h0M79 268h0M96 267h0M103 266h0M103 260h0M104 261h0M112 266h0M116 265h0M132 260h0M161 269h0M169 268h0M183 263h0M194 260h0M221 260h0M231 262h0M232 269h0M262 269h0M292 267h0M293 268h0M302 260h0M313 265h0M314 265h0M324 264h0M59 278h0M70 274h0M72 279h0M94 279h0M104 270h0M134 278h0M140 272h0M146 277h0M154 276h0M155 274h0M157 274h0M184 274h0M187 272h0M206 273h0M231 270h0M285 271h0M294 270h0M310 273h0M315 275h0M60 284h0M76 288h0M79 288h0M87 285h0M97 286h0M99 286h0M125 283h0M198 280h0M212 282h0M240 289h0M242 288h0M270 289h0M276 289h0M277 282h0M285 286h0M305 285h0M316 289h0M317 287h0M319 288h0M76 295h0M78 291h0M79 295h0M110 291h0M123 292h0M129 297h0M135 294h0M171 293h0M189 293h0M207 299h0M208 295h0M219 299h0M229 295h0M229 294h0M230 291h0M253 295h0M267 297h0M269 296h0M277 294h0M281 299h0M289 290h0M322 295h0M326 299h0M180 301h0M193 307h0M247 309h0M272 302h0M274 308h0M43 313h0M56 314h0M63 310h0M87 312h0M91 314h0M106 319h0M107 316h0M118 311h0M138 313h0M142 317h0M150 316h0M170 313h0M174 315h0M177 316h0M181 311h0M183 318h0M189 315h0M192 310h0M207 310h0M258 313h0M286 311h0M295 312h0M306 314h0M307 314h0M323 315h0M56 322h0M81 322h0M149 320h0M154 321h0M176 322h0M186 320h0M216 322h0M229 320h0M293 320h0" stroke="#3e3222" stroke-width="2.20" fill="none" stroke-linecap="round"/><path d="M73 155h0M106 156h0M227 152h0M234 153h0M262 158h0M264 159h0M278 153h0M325 157h0M53 169h0M85 168h0M173 169h0M182 168h0M187 162h0M252 162h0M320 169h0M66 172h0M80 170h0M129 172h0M150 176h0M297 170h0M80 181h0M147 181h0M186 189h0M247 186h0M309 189h0M172 195h0M190 199h0M223 193h0M243 194h0M249 192h0M252 192h0M252 194h0M276 195h0M284 196h0M67 201h0M68 204h0M88 203h0M96 206h0M143 204h0M206 208h0M213 204h0M214 207h0M225 201h0M230 204h0M232 205h0M252 207h0M278 206h0M286 200h0M318 200h0M64 212h0M145 217h0M194 211h0M197 217h0M220 213h0M227 212h0M236 217h0M240 218h0M274 211h0M281 210h0M145 224h0M169 228h0M218 227h0M225 226h0M307 220h0M56 230h0M76 235h0M154 235h0M158 235h0M173 233h0M189 231h0M209 232h0M231 233h0M239 237h0M294 239h0M301 230h0M170 248h0M225 241h0M262 246h0M286 249h0M288 242h0M117 251h0M133 253h0M174 253h0M227 254h0M249 254h0M279 257h0M313 251h0M45 267h0M116 263h0M118 262h0M134 268h0M182 266h0M199 263h0M216 260h0M226 260h0M274 265h0M274 267h0M51 271h0M242 270h0M277 276h0M49 284h0M66 281h0M103 282h0M159 281h0M310 284h0M313 288h0M319 288h0M151 294h0M202 297h0M209 297h0M229 291h0M265 297h0M281 292h0M108 306h0M158 303h0M182 305h0M183 302h0M218 302h0M276 302h0M69 318h0M75 310h0M200 316h0M249 318h0M285 317h0M305 311h0M327 317h0M332 318h0M333 315h0M255 321h0" stroke="#e03a3c" stroke-width="3.40" fill="none" stroke-linecap="round"/></g>
<rect x="187.5" y="5.8" width="174" height="173.2" fill="none" stroke="#c8c8c8" stroke-width="1"/>

<g transform="scale(.5)" filter="url(#sb)"><path d="M485 168l0 3M664 188l-4-1-3 0M510 329l-2-3-1-4M550 320l-1-3 2-2M420 203l3 1M612 51l-3-4 0-3M407 308l4-3 2-2M663 315l0-4M627 224l0 4M625 342l4 2M419 73l-3 2-1 3M524 240l-2-4 0-4M674 301l4-2 1-3M388 91l-3 3 0 3M558 168l-3 2-3 0M461 210l-4-1-2 3M418 185l-4-1-4 1M577 296l2-2 0-5M592 168l2 4-1 3M458 108l3-2 0-4M702 145l-1-3 1-3M448 60l1-3M417 316l4 0M483 275l-2-1M497 231l3-2M402 163l3 0 5 1M618 331l1 4M480 307l2 4 2 3M416 233l-3-3-3-1M670 195l3-2M556 61l-4-1M488 324l2-4M685 323l-3-2-4 2M641 251l-2-3 0-3M440 136l0 4M662 292l-5 0M426 257l-3 3M617 109l-2 2M553 243l-1-3M574 287l2-3M524 39l-4 1-3 0M630 302l-3 1M430 283l2-3 1-3M417 287l3-1 1-4M462 157l2 3M485 212l4 1M413 197l4-1 3 1M399 337l-1 5M559 168l-4 1M525 159l2-3M647 286l4 2 3 2M552 38l-3 2M688 82l2 2 2 3M407 63l3-3M438 303l2-3 0-3M650 152l4-2M555 330l4 2 1 4M502 181l-3 3M556 291l2 3 2 5M397 204l-3-1 0-4M407 179l-3-2M671 174l-1 4-3 3M605 246l2-3M444 154l4 0M432 289l-2 3M493 216l-3 0M435 155l-4 2-3-3M451 248l-2 3M571 48l-2-3M448 269l-3 1-4 0M504 287l-4-3M540 240l-1-2M462 250l3 3M543 21l2-3M688 193l-3-1-3-2M463 113l1 3 2 2M443 343l1 3M596 294l-3-1-3 3M676 122l0-5 3-2M396 284l1 3M706 121l-3 2-2 3M540 247l4 2 2 3M650 64l-3-2-1-4M614 244l-3-2-4 0M612 70l-3 1M389 96l0-4 0-3M521 323l3-1 2 4M645 125l-3-1M664 236l2 3M590 148l1-2-2-4M407 120l1-4M703 239l-4 1M504 323l2 3 4 2M393 199l1-5-1-3M466 109l1 3M469 255l2 4 3 3M479 277l3 1 3-4M608 198l2-4M526 68l-4-1-4 0M415 246l-5 0M625 156l1 3 3 1M462 105l0 4 3 2M402 224l0 4 2 3M700 84l3 2 2 3M557 253l-4 1M447 260l4 0M602 300l1 3M468 285l3 0M473 266l4 1 4 2M413 220l-3 1M674 257l-3 3-1 3M462 203l-3 2M458 340l1 3M409 56l3 3M572 350l1-3 0-4M689 340l-1 3M605 61l-3-3-1-5M499 44l-3 0M398 224l-2 3M601 255l4-1M514 307l3-1M448 331l3-2M485 303l-4-2M679 108l-2 3M508 291l2-2 2-4M622 110l0-3-3-3M500 81l-5-1M584 310l3-2 3-1M466 191l3-3 0-4M576 312l3 2M649 63l0 4 2 4M656 56l-2 3M655 285l-1 4-1 3M412 181l-4-2-1-3M573 185l3-3M647 198l-3 2M672 192l-2 3-4 0M662 186l-5 1-4-1M618 244l-3 1M605 156l-4 0-2-4M444 121l-4-1M433 304l0 4M603 264l-3-3M435 236l-1 4-1 3M653 233l-4 0-2 2M508 78l-4 1M404 258l-4 1M656 184l3 4 2 3M428 135l2-3 0-3M475 95l3-1 2-3M559 99l-1-3 1-4M433 279l-3-2M682 198l-3 3 0 4M491 211l-2 4-1 3M690 274l1-5M515 167l-4-1M429 322l0 2 3 3M384 23l4 0M473 332l-3 3M468 342l1-3 3-3M443 316l3 1M482 293l2-3 1-2M581 314l-3-1M674 198l-2-3M526 39l-4 1-1 3M419 41l-3-3-1-3M589 317l2-4M658 157l-2 3-4 0M633 148l-3 3 0 3M608 292l-3-3M479 288l-4-1M598 34l1-2M406 94l-5 1-2 4M610 200l-3 1M428 108l-2-2-4-3M625 297l0 3M408 184l-1-4M658 22l-2-3M439 97l-4 1M667 136l1 2-3 4M542 114l-1-4 3-3M516 39l3-1M540 162l2 1 5 1M501 133l1 4 4 0M431 206l-4-3M521 152l1-5M667 315l-3 3 2 4M398 231l-3-3M490 293l-1 2M557 193l-3 2M426 275l-3 3M569 328l0 4M691 293l1-4 3-2M583 292l-3-2 0-3M651 110l1-3M444 308l-1 3M401 160l1-4 4-1M616 201l-2 4-1 3M571 288l-4-1M686 85l-3-2-1-3M545 296l3-2 0-4M610 62l4-1M397 236l3 0 2 3M586 157l-4-2-3-1M534 105l-2 3-5 0M509 257l-2 3-5-1M502 196l-4-1M432 142l3-3M458 205l-2-3M671 238l-1-4 1-3M578 324l-4-1M631 38l-1 3M610 59l-1 3M497 119l-2 2M592 33l3-1 5-2M497 121l4 0M426 39l-4 2-4-1M625 225l-2-3M478 33l-3-1-3 2M447 343l-3 3M594 56l2 2M508 225l-2 3M452 91l-4 1M544 309l2 4 3 2M541 240l-2 2-3 2M395 328l3-3M615 271l2 4 2 3M433 321l-3 0-2 3M514 257l2-3M588 324l1-3M673 233l2 2M539 178l-2 3M695 280l4 0M586 157l-2-3M447 49l-1-4-3-4M400 98l2 2 3 1M510 198l2-3 4-1M398 86l2 4 3-1M404 133l0 3 0 4M404 185l-4 0-4-2M411 167l-3-1M462 293l-2 3-1 5M542 233l-3 3-1 4M704 176l4 2M590 321l-4-2-4-1M408 301l-1-3M395 55l-3-3-4 0M383 304l2 4M653 273l-2 3-2 2M511 297l3 2M531 210l-3 2-4-1M624 99l-3-3 0-4M553 114l-1 3 2 3M511 259l3-1M426 248l4-2M517 134l3 3 3 2M403 255l-1-3M454 341l3 3M496 193l3 4M637 30l0 4M672 149l-1 3 2 4M545 42l3 3M528 23l4-1M456 208l2-2M685 277l-1-3M541 338l-1 4M682 201l2 5M631 125l3 2 1 3M496 283l-4 0-3-2M588 298l4-2M668 147l-3-3M628 181l-4-2M581 28l-2 2M693 143l-1 4M558 285l3-2 3-4M585 319l-4 1-2-2M519 70l-3 1-3-1M438 242l0 4 3 3M658 144l0 4M433 299l4 2 5-2M560 238l-3 4M541 199l-1-3M524 55l-3 2 0 5M669 136l-4 2M489 337l-2 1M646 46l-1-4M596 172l-3-4M471 319l-3 1M411 305l-3-1-4 0M644 213l-2 2-5-1M600 292l-1 4 2 3M464 126l-4 1M659 308l2-4 4-1M419 169l2 2 4 0M707 225l4 2M594 253l0-4M416 303l3-2 1-2M520 38l-3-3M650 270l3 2M469 75l2 2 3 2M461 38l-2-3-3-2M490 116l3 1 3-2M547 172l2 2-1 4M539 87l-2 4 1 3M637 74l0 5 3 2M487 152l3 0M619 90l-1-3M594 141l2 3M547 338l-4-2-3-2M476 248l4 2 0 5M549 91l-2-1M683 344l4 2M618 217l3-2M398 196l4-1M673 164l2 3-1 3M512 190l2 4M400 200l3 2M429 101l0-4M384 147l1-4M561 238l0-3M527 64l3 2 4 1M584 201l0-5 2-1M450 62l-2-4M702 247l-3-3M467 279l2-3 3-3M520 304l3 3M537 214l-3-3M511 184l3-1M440 233l3 1 2 3M590 38l5 0 3 2M523 65l3 3 3 1M539 308l3-4M387 210l4-1M714 322l-3 3M525 197l-3 2-3 1M564 212l-4 0-3 1M567 142l4-2M666 30l-1-3 1-2M605 246l-1-4M615 258l1-4M513 146l3-2M650 215l-3 3-3 2M594 305l-3 3M556 67l0 4-1 2M607 300l4-1M392 228l0 3-2 4M658 84l-4 3M670 143l3 3M548 118l-2 4 1 3M472 288l-3 1M658 249l-2-4M701 82l1 4M435 305l-2-1M402 143l-2-3-3-2M675 194l3-4M518 60l-2-1M411 212l3-2 4 0M461 92l-4 1M682 96l-4 0M435 171l3-1 3 0M549 108l-4-2-1-3M703 297l-1-4M646 286l3 2M449 109l-4-3-3-2M467 132l-3-3M614 100l1-4M556 334l3-1 4 3M416 192l-1 3-2 4M421 150l-3-1-4-1M652 161l2 2M708 55l-2-4 0-3M633 280l3 2M639 200l-2 3-3-1M456 161l-1-4 1-4M443 252l2 3M597 249l3 2 3 1M420 308l-1-3 1-4M556 174l-2 4M403 315l-4-2-2-2M648 286l0-4M571 301l3 3 2 3M699 32l3-1 1-2M449 271l-3-3-3-1M445 125l-3 2-2 4M686 321l-3-2-4 1M395 258l-2 2-5-1M700 169l4 0M625 37l0-3-3-3M575 292l-2 2M493 160l-2-3M585 331l-4 2-3 0M457 328l5 1M576 129l-3 3 1 4M400 116l-3-2M659 329l0-3M682 283l0 4M705 212l-4 1M425 302l4-1 3-2M464 335l-3 1-3-2M679 40l-4-2M554 39l-3 2M618 277l-3-1M572 204l4-3 3-1M482 226l2 2-2 3M548 67l3 4M436 297l-3-2M440 233l3 0M675 153l3-2 3-2M517 68l-4-1-2-3M557 318l-3-1M698 276l-2-3M571 180l5 1 2-3M578 161l3-3 3-3M575 318l-1-3M671 198l-3-3M611 205l-3 2 2 4M474 310l2-3M443 268l-3-3M705 144l5 0 1-3M657 151l0-3M641 286l0-3-3-2M470 201l3 2 1 4M594 150l4 1 1 3M400 265l-2 4-2 3M693 133l3 2 1 3M457 262l-2 4-3 3M398 198l-2 2M494 180l-4 2-2 2M588 51l-3 0M452 55l-5 1-4 0M591 51l2-4M639 205l0 4 3 3M423 245l4-1M713 121l-4-2M416 254l0-3M496 294l0-3M658 205l-1 4M387 91l3-3M597 198l-1 3-1 3M544 170l-4 1-3 1M547 336l3 0 3 4M676 49l3-1 5 0M536 314l-3 0M683 280l-4-2-4-2M413 163l-4 2M484 74l3-3 2-3M569 181l4 1 2 1M566 172l2 2M595 141l-1 4-3 1M461 248l0 3-3 2M659 260l4 0 4-2M446 45l-3 1M621 201l1 3M648 274l4 1 3-1M653 274l1 4M654 83l3-3M597 150l3-3 2-3M469 313l1 4M683 106l2 3 4 1M583 209l1-3M616 307l0 3-1 3M557 38l-4-1-3-2M550 186l3 2 2 2M426 142l-3-3-3-4M406 163l-2-3M694 324l-1 4-1 3M572 298l1-3-2-2M495 296l-2 3M511 83l0-5M547 82l2-3 0-4M533 247l3 3M562 58l2-4 2-4M675 276l4-1 2-3M505 315l-3 2M630 148l-3 1-1 3M414 234l1-4 2-3M431 340l4-1 4-1M499 47l3-2M451 268l3-1 2-2M572 115l4 1 3 0M498 217l0-4-1-4M625 241l3 3M561 217l2-3 2-3M502 112l3-1 3-2M388 256l3 3M540 295l1-3 0-5M678 179l-3 2-4-1M631 254l1-4 1-2M454 107l-1 4M405 235l0-3-1-3M584 150l2 3M407 193l-2 3M657 76l-3-1M563 329l4-2M456 209l-4 0-2-2M424 151l-2-2M549 58l-1-4M417 261l1-3 2-3M569 163l-3 2 2 4M400 198l1 3-1 4M573 284l3 1 3 0M597 68l-2 3-1 3M474 332l-5 0-3-2M525 80l3 2M630 109l-2 4M394 57l2 3M457 272l3-3M600 169l2 3M425 105l-3 3-4-1M401 172l2-3M505 58l-4 2-3-2M639 43l-1 4 2 4M481 57l-3 2-3 0M683 132l2-3M419 205l0 4 2 2M527 146l-4 0-3-2M446 205l-4-2-4-3M493 223l4-1 2 2M453 326l0 3M661 264l1 4 1 2M429 145l3 0M533 134l-4 0-4 2M503 276l0-3M584 114l-3 1M571 292l-3-3M403 189l-3-1M574 63l-1-5 2-3M702 217l-5 1M417 202l3 2 4 2M513 67l2 3M599 45l1-3M623 48l3-2M412 107l0 4-2 4M446 303l-1-3-3-3M457 79l2 3 3 0M669 33l-1 3 0 3M588 144l2-3-2-3M469 260l0 5M636 47l3 4M564 238l3-3M524 61l2-2M657 61l-3 2 1 3M520 42l4 1 4 0M432 131l2 3 0 3M558 306l-5 0-2 1M473 274l3-2 0-5M435 213l-3 2-2 2M655 86l-2 2M577 217l4 3 3-1M425 84l3-2M669 225l3-1 4-2M590 317l-1-4M532 301l-2 2-1 4M515 229l4 0 3-3M611 158l-4 0-3-1M518 85l-4 2M555 287l-3-2M674 168l-4-1M468 28l4-1M691 158l2 3 3 0M678 254l3-3M467 234l-3 0-4 2M432 153l-5-1-3 1M546 138l-4 0M514 312l0 3M469 324l5 1M480 251l3 1 2 5M589 285l-3-3-3-2M578 330l-1-3M644 52l-2 3M433 113l2 4 1 2M590 56l3 0 4 0M455 287l2 2 3 3M484 50l-1-4M663 195l1-4M552 324l-4 2M552 164l2-2 1-5M452 34l1 3M512 212l2-4M686 82l-4-1-3 1M689 333l-2-4M585 327l3-1M438 280l0-5M536 249l-1-3-4 0M627 324l4 1 1 4M522 268l2 2 4 2M700 287l3-3M518 142l-1-5M558 265l1-3-2-4M555 53l0-3M586 325l0-4-1-3M479 145l-3 1M689 247l-3 3M691 95l0 4M457 334l2-3 2-2M415 304l3 0 2-3M416 301l-1 3-3 1M515 183l-2 3M699 96l-4 2M553 348l4 2M451 23l4 0 3-4M681 157l1 3 0 4M679 137l3 3M550 192l3 3 1 4M385 234l3-2M452 338l-3-1M458 211l3 4 1 3M592 209l1-5M636 248l0 3M385 130l1 4 3 1M413 260l1 3M424 203l-2 2M395 136l-1 3M620 131l3 3 3 1M453 32l-3 1-3-2M481 278l0 4 1 4M541 298l3-2M399 132l4 1 3-2M440 115l3 2M494 163l1-3 1-3M389 330l0-4M543 26l-2 2M649 224l-2 3-4 0M495 62l0 4 1 3M550 55l4 0 3-2M677 66l-2 2-2 2M420 261l-4 2-2-2M502 269l4-1 3-2M486 250l-3-4-2-3M513 217l-1-4M536 255l-1 3 3 1M532 129l1-3M388 187l-1-5M478 121l0-4M486 296l-3 3M380 231l-2-3 1-3M656 153l-2-3-1-5M538 241l1 4M392 320l-2 4M386 231l-4-1-4 0M421 58l5 0M683 140l4 0M614 167l-1-3M475 281l3-3M490 243l4 2 3 3M625 114l4 0 2 1M523 30l2-2M485 244l-2 3M664 269l2 2 1 4M718 110l4-1 3 2M591 180l-2-2M619 201l-3 2-4 1M538 132l1 4 2 3M495 171l4 0M595 299l4 0 2 2M649 32l2 2M611 92l4 2M708 20l-2 3-2 2M438 134l-4 0M490 319l4 0 2-3M679 198l-1 5 1 3M622 142l2 2 4 2M687 87l3-2M622 177l3-2 0-4M457 51l-4-2M587 147l0-4 3-3M500 272l3-2M626 111l3 2M413 333l0 3M524 63l1 5 0 3M498 134l5 0M514 18l3 3M425 67l3-4 4 1M661 71l4-2M549 164l1-4M402 314l2-4 2-3M702 180l4 0M617 248l-3-1M492 256l3 3 3 0M435 146l-1-3 0-3M505 58l-2 3M457 340l0 4 1 3M443 167l4-2M394 180l-3-1-3-2M564 287l2-2 4 1M404 144l-2-2M393 329l4 0M656 102l5-1M633 167l2 2M673 244l3-1M567 70l3-1 2-4M599 66l0-3M407 334l3 2M382 95l-2-1M679 121l3-3 1-3M588 172l-3 0M565 104l3 2M711 131l2-4-1-3M532 90l4 0M566 256l3 1M688 254l1 3M506 111l-4-2M431 19l0-4 2-4M640 299l2 3M595 150l-2 0-4 2M455 163l-3 2-3-1M492 336l2 3M642 41l-3-3M480 158l-4-1-1-3M399 70l4 1M679 257l-2-4M572 176l2-3M381 183l-3 3-2 2M497 139l-2 3-4-1M497 39l-2 3M696 202l2 3-2 4M642 206l4 0 3 2M559 110l1 3-1 4M642 26l-3-4-4-3M426 118l-3 2-1 3M400 208l3 0M450 300l1-3M448 165l3-2 4 1M494 212l-2 2M436 169l4 1 2 4M544 167l-3 0M445 306l3 2M588 58l1 4 3 2M512 226l-4-1-4 1M398 166l-4-1-3 3M462 92l-3 3M643 297l3 0M431 205l3 0M545 228l-2-2M453 98l-3-1-3-1M557 180l3-3 4-2M501 231l-1-4 3-3M543 209l0-3-3-3M579 144l2-3M631 238l0 3 3 1M443 348l-3 2-2 4M456 35l1-3 4 0M413 233l0-3-2-4M540 64l1-3M589 26l-1 3-3 2M464 131l-2 3 0 4M380 349l2-2M427 181l0-3-4-2M609 286l2-4 1-3M652 277l2-2M387 68l2 4 1 3M567 242l4 0 2 2M612 39l-4 3M414 309l0-3-2-2M624 185l3 0 4 1M558 137l-4-2-3 0M545 340l-1 3-1 4M545 303l4 3 3 0M544 208l4 0 3 1M630 142l-3 2M618 42l-1-3-4-2M527 260l3-2 2-4M452 152l1-4M464 292l3 3 4 2M560 65l3-4M417 269l-2-4M569 173l1 4 0 3M660 63l2-3 3-3M561 302l4 4 0 4M673 292l0-5-2-2M492 73l-1-3M566 154l3-3M605 142l-3-2-1-4M500 105l3 1 3-1M478 48l-2 3M425 253l2-4M552 287l-1 3-3 3M460 253l-4-2-1-3M604 311l0 3-1 4M519 177l-4-1-1-3M464 34l-3 1-3-2M532 112l1-4 1-4M559 334l-3-1M678 50l-1 4-2 2M710 343l3 1M470 182l-3-1M688 188l1 4 2 3M599 249l1 4 3 1M520 334l0-4M561 322l-4 1M444 191l-4 0-3-2M666 148l0 4 2 4M420 247l2-2M562 210l-1-3-3-3M683 251l-4 0-4-1M472 260l-3 1-4 0M555 138l-4 1M414 312l-2-2M431 315l-2 3M539 198l1-5-3-2M665 212l-2-2-4-1M616 40l-4 2-1 3M468 108l2 4 3 2M683 241l2-4 3-2M420 174l0-4 0-3M424 62l3 2M687 326l2 3 3 0M656 172l-4-1-3-2M575 341l3-3M525 247l-2-2-4-2M555 89l-4-2M533 292l0 4M606 152l-1-3 0-3M653 186l4 0M719 181l3 2 2 3M665 257l-4-2M505 47l3 3 2 2M552 221l-5 0-2-3M554 174l3-1 5 0M582 190l2-3 5 0M622 155l-4-1M537 248l-4-2M549 311l3-1M699 253l1 3 0 5M545 44l1-4 3-1M652 53l-2 2M459 121l-4-2M590 294l-4-1M392 343l2-4M706 308l3-4 1-3M489 109l3 0M690 155l-1-3 3-3M673 82l1 2 1 3M650 269l-1-3M684 243l3 2M475 344l-4 1M579 289l-3 4M576 304l-1 4M450 251l2-2M567 251l1 2 4 0M434 139l0-4-2-5M393 228l0-4M443 41l0 4-2 2M653 268l-4 0-4-2M519 219l-1 4-4 2M422 332l-2 3 0 3M518 64l-3 0-2 1M491 255l-2-3M566 320l-3-3 1-4M570 290l0-3 0-3M637 236l-4 2M533 19l4 2 4-1M445 267l-2 4-3 1M704 130l-1-4 2-2M511 44l-3-3M643 40l-2-2M474 206l-2 3M464 80l3-2 2-2M491 252l2 4M384 134l0 4 1 3M671 126l0 4M477 240l-4 0M472 294l1 4M604 96l1 3-3 3M712 300l1 3 1 4M524 256l-4 0-4-2M672 220l2-4M495 278l2 2 1 4M542 133l0 4-4 3M496 223l4 1 4-1M615 87l-4 2-3-1M476 93l-1-4M404 230l1-3 0-3M540 135l-4 1M669 125l1 4 1 4M587 64l0-3-3-1M708 232l1-4 1-3M459 180l1 5M443 283l-3-3-3-4M507 232l1 4 3 3M607 235l-3 3M680 181l-3 0M448 280l4-1 1-4M431 340l-2 2-3 2M652 278l-3 1M581 322l2-2M683 75l4-1M487 303l-3 0M520 41l3 4 3 0M391 115l1 4-4 3M604 270l2-2M581 21l-3-3M481 283l-3 2M420 172l-1-3M382 347l-3-2-3 0M562 178l3-2M594 305l1-3 0-4M684 327l-1-3-5-2M613 225l1 4M614 172l1-3 3-1M509 296l-3 1M525 324l3-1 1-4M477 307l0-4 3-1M574 133l-4-1-2-2M577 58l-4-2-3 0M582 154l-2-4-3-2M418 264l1-4 0-3M676 123l4-1M470 237l0 3M617 296l-1-3M541 140l1-4M397 233l4 0 2 2M567 193l-2-3 1-4M650 228l-3-2M447 121l3 0M549 117l-3 1M687 292l-2 3-2 3M402 95l-1-3M404 48l0 3-2 2M528 168l4 2M586 130l3 1M479 228l2-1M485 117l-2 3M660 101l0-3M439 149l-3-2-4-1M525 144l-3 0-2-3M683 283l-1-3 0-3M480 294l3 0 2 3M479 201l-2-4M633 246l-1 3M468 137l4-1M445 268l3-3 3-3M573 159l-4-3M439 172l2-3 1-3M450 46l-4-2-3 1M575 164l4 0 4-1M677 244l-2-3 2-4M647 284l-4 2M552 311l-1-4M626 113l-2 3M465 268l-3 2M690 89l-5 0-1 4M679 251l-1-5M421 317l-4 0M586 289l1 3-1 3M458 215l0-4 2-1M443 315l-4-1M567 43l-2-2-1-5M535 99l3 3M463 260l3 0 2-2M618 34l-2-3 1-4M509 321l2-4M568 179l-3 3-1 3M409 184l-1-4M665 203l2-2M491 132l-4 0M451 342l3-2M603 324l2 4 3 0M547 250l-2 4M544 263l-4-1M517 223l3 0M532 100l-2 2-4 2M482 241l-4 0-2-4M439 159l-4 0-3 0M616 52l1 3-3 4M603 125l2-3 4 0M563 53l3-1 2-4M611 328l1-3 1-3M480 330l3-3-1-4M622 291l0-5 2-3M651 68l-3-3M457 28l2 3 3 3M716 279l1-3M460 243l5-1M668 82l-3 2-3 3M546 247l3-2M450 269l2 2M438 274l-2 3-1 2M648 39l3 2M694 264l3 1M529 220l4 0 2-1M555 351l-3 0-2 3M505 83l-4-1-3-3M406 310l1 5M704 42l-2-3 0-3M540 143l-2-4 2-3M623 294l-3-1-1-3M606 153l-1 3 0 3M565 158l-4 0M612 288l3-1 3-4M597 171l4-1M447 71l-2 1-3-1M530 207l-2 4M558 206l-4 0-3 2M628 114l-1 5-2 3M617 153l2-3M542 196l-3-2-2-3M616 193l-3 1-4-1M412 314l-4 1M416 244l-3 3-2 2M425 249l-3 2M528 155l0 3M554 297l-3-1M700 192l3-1 3-3M434 142l-1-3M493 299l-3 2M562 226l1 3 4 1M559 321l1-4 3 0M485 305l4-2M446 42l-3-3M419 258l-2-4-3-2M547 21l-1-4M540 114l-3 0-3 0M445 238l1 4-2 4M423 332l0-3M553 351l-4 0-4-2M492 203l2 2 2 3M640 344l1 3M677 173l1 4 5 0M676 264l4 2 2 3M714 132l4 1M676 162l3 1M418 273l-1 2M397 261l-1-3M443 264l0-3-3-2M499 177l1-3 3-2M426 218l-2-3-1-2M398 80l3-2M580 163l-4 2-3-2M578 153l-2 2M494 292l-2 0-4-2M547 314l0-4M408 54l-2 3-3 3M470 300l4-1M688 294l1 3M677 275l3 1M661 270l0-2-2-3M551 23l-1 3 2 3M648 284l2 2 3 2M387 252l1 4 3 0M440 160l-3 0M474 126l3-2M510 23l-2-2M692 325l-1 2-2 3M440 250l1-4M527 229l-2-2-4 0M441 309l-3-3M633 139l4-3 3-1M603 261l1-4 3-1M546 213l3 2 2 3M414 294l3 1 2 2M691 349l-4 0M699 164l1-4 1-4M403 254l3 1 4 0M486 251l-4 1-4-1M543 295l-3 0M395 97l-1-3M626 155l0-3M531 151l-4 0M655 65l-2-3M619 226l3-2M443 237l-3-2-1-3M601 327l2 4 3 2M564 252l1-4 2-2M393 96l3 2 3 1M540 162l2 3M454 220l1-3-1-4M453 48l4 2 2 4M677 104l-1-2-3-3M683 206l-3-2-3 0M621 50l-2-4M539 312l2-4-2-3M666 341l0 4M585 211l-3 2-2 2M483 144l1-3 2-2M568 138l0-4-1-4M629 241l2-4M495 55l3 0M443 105l3-2M529 160l4-1M545 115l3 3 3 3M687 287l-3-3M670 297l-3 1-1 3M587 334l-4-2M659 205l4-1 0-3M588 170l-4 0-3 2M563 120l3-3 1-4M524 208l-4 3-2 2M447 205l-1-3M644 339l2 4 3 3M594 177l-5 1M530 152l3 1M519 242l-1 4M547 50l-3 2M424 141l-3 3M459 260l-4-1-2 2M567 118l2-4 0-4M494 112l1-2M686 76l2 2 3-1M506 180l2-3M652 71l0 3-3 3M513 237l1 4-2 2M695 117l-3 1-4 1M417 181l2 4M407 266l-2-3-4-1M447 291l-3 3M667 146l-3-2-1-3M432 135l4-1 4-2M653 298l-4-2M677 230l-1-4M574 330l3 0M654 190l0 4 1 4M672 150l3-2M539 97l-3-3M479 163l4 0 2-3M627 238l1 3 3 3M379 100l-2-3M459 215l2-2 4-1M570 102l4-1 3 0M561 234l-1 3M523 220l0-5-3-2M478 335l4 0 4 0M564 113l-3-3M389 238l2 4 2 4M616 202l0-3 2-4M589 160l-2-4M515 234l-4 1M449 102l3-3M582 203l0 3M422 309l2 3 3 3M413 320l3-2M644 214l4 0M461 244l1 3 0 4M511 70l3-1M454 207l2 2M504 267l-4 1M659 278l-3 1-1 4M712 110l-3-2M483 133l-4-1M654 182l-3-2M430 256l-1 2-4 1M697 319l-3-1-4 0M421 242l-2-2M650 43l4 1M472 64l3 3 3 2M411 216l1-3M402 146l-3 2M504 156l-5 1-1 2M386 191l-4 2M501 66l3-2M525 138l3 2M545 81l2-3 4-1M556 254l1 4 2 4M416 242l-3 1-4-2M684 35l-3 2-3 2M572 42l1 3 3 0M438 173l2 2 3 0M565 177l-2 2 1 4M704 87l2-2 2-2M496 25l1-4 1-4M415 254l-3 2M607 265l-4 0-3 1M562 253l-2-3M467 65l-3-3M509 169l1 3M700 258l1 5 3 1M407 219l2 3 0 3M466 298l4 1M414 224l-2-2M567 235l1-4-2-3M413 196l-2 3M526 213l1-3 2-3M498 81l1 3M426 202l4-1 4 1M479 245l-3-2M550 265l0-3-3-3M577 229l1 4 3 2M676 37l-2-3M664 87l3 0M496 115l-1 3M664 179l-3 0-3 2M667 154l-1 2M541 71l2-3M500 113l-3-1M689 75l-3-3 0-4M386 221l0 5M548 326l3-1 2-4M525 77l2-3 0-3M505 298l-4 1M493 65l-4 0-3-2M529 80l-4 2M449 113l-2-4M669 160l-1 3M586 130l-4-2M473 259l1 3M593 257l0-3M654 161l-3 1 0 4M613 56l3 2 1 3M602 57l4-2M548 254l-2-2-2-3M551 259l-3 3M457 208l2-1M715 196l3-1M438 112l0-3 1-3M438 141l-1 4-1 4M448 120l-3-2M517 80l-3 1-3-1M595 205l-1-2M558 75l1 3 2 3M601 229l0 3-1 4M637 127l0 5 2 3M606 22l1 3-2 3M415 124l-3 3M519 85l0 4 2 3M628 323l0-4 1-4M551 125l1-5M474 295l-1 4 2 3M504 93l3-3M470 234l-2-2M392 279l3-3 4-3M434 96l-1 4M654 198l-4-1M662 87l-3 2-4-1M514 265l-2 3M507 150l4 2 4-1M580 163l0-3 4-2M428 45l0 3-4 2M485 121l-3 0-4 1M683 118l0 3 1 4M661 91l-3-2M429 251l4-2M591 298l0 3M675 51l2-1 3 1M493 162l4-1 4 1M589 338l3-2M507 49l4 0M446 70l1 4 1 3M675 282l3-1 4 0M536 97l0-4M406 163l0 3 1 5M621 152l3-1M484 299l-1 4M706 63l-1-2M660 186l-3-1-2-2M587 120l4 2M502 31l3 4 3 1M500 99l3 1M589 182l-3 1-4 0M418 199l-2 2M470 311l-1 3M588 293l-2-4M631 230l-4 1-4-1M448 46l3-1M540 72l0 3 2 4M537 258l4 1 2 3M577 321l3-3 0-4M399 133l-2 3-2 3M494 200l3-3 5 0M467 85l1-3M444 290l-2-3 0-3M654 200l-4 2M431 280l-1-4M460 84l4-1 3-3M599 304l2 2M458 263l-4 1M609 196l-4 0M613 144l4-1 2-3M696 193l-3-3 0-3M563 104l3 1 2 3M618 159l1-4M671 78l3-2 3 2M615 54l-5 0-3 0M684 104l4 0M519 333l-3 0M573 84l-2 3-3 3M522 206l3 1 1 5M672 142l5 0M601 242l1-4M581 120l2 3 4 2M502 209l2 3M597 266l-3 3 0 4M440 257l3 0 5-1M687 327l-1-2M556 46l0 4M465 275l2-3 3 0M578 62l2-4-2-4M528 315l-1-3-2-2M565 34l-1-4M487 61l4-2 0-3M461 239l3-3M651 105l-3 2M539 82l3-2 0-3M545 235l3 0M473 314l5-1M476 100l-2-3M560 236l1-4-2-3M486 222l-1-3 2-3M534 56l0-4-2-2M652 302l2-2 3 1M628 165l1-4 3-1M505 38l3-3M504 186l-3-1-3-2M529 225l0 3M656 266l4 0 3 4M532 28l-3 3 0 4M554 76l1 3M650 236l-2-1-4 0M666 325l-2 3-4 0M499 116l2 4 4 1M712 132l-1-5M396 181l3 2M697 217l1 3M453 26l0 3 4 2M542 70l-1 4M607 301l2-3-1-4M681 230l-1 2M654 43l-3-1-3-2M577 309l0-4 2-3M599 322l3 2" stroke="#74706e" stroke-width="1.70" fill="none" stroke-linecap="round" stroke-linejoin="round" marker-mid="url(#cG)" marker-start="url(#hW)" marker-end="url(#hW)"/><path d="M514 298l3 0M508 71l-1 3 1 4M581 327l-2 2-4 2M428 151l1-4M470 80l-3 0M558 237l-2 2M660 133l-3-3-4 0M511 209l-2 3M503 144l-1 3-1 3M710 181l1-2M697 184l4-1M506 35l-3-3M600 252l-3 3M433 331l2-4M426 189l4 2M609 158l-4 0M581 252l2 4M430 304l-4-2M549 59l3 1M692 87l-4 0M552 242l-3-2M451 83l1-3M539 149l3 0 2 4M698 163l3 3M590 266l-1 4M651 64l1 2 5 0M680 276l-3 3-3-1M471 276l4 0 2-4M501 336l-2-2M471 128l-2 3-1 4M672 121l1 3-2 4M540 97l4 1 4-1M438 345l-3-1-3 1M480 268l-1-4 0-3M391 327l-1-3-4-2M630 232l-5 1-3-2M680 171l-3-2M661 233l-2-3-2-4M394 312l-4 3-3-1M614 151l2-4M514 271l-2 2-3-1M406 146l-3 3-3 1M547 296l-2 3M518 95l2 3M643 78l-4-3M467 144l0-3-3-2M524 169l1 4M472 132l4 2M591 203l3-3M583 274l3-2 0-3M415 167l3-3M428 338l-3-1-2-2M382 62l4 1 3 1M708 74l4 1M521 225l0-4M667 297l-2-2-3-3M589 298l-2 2-1 4M675 199l-1 4M660 310l-4 2-2 1M710 197l-4-2M607 238l-3 2-4-1M589 314l-3 1M623 288l4 0M385 196l0-5M536 59l0 3M662 293l2-1 3-2M680 37l-1 3-2 4M636 275l2-3-2-2M402 95l-1-4M470 37l0 3M562 116l2-3M650 89l-1-4M508 158l3 2 3 3M668 135l-3-2 1-4M635 185l3-2M625 63l3-1 2-4M525 306l0 4M702 183l3 1M675 66l-4 2M405 58l-2 2-3 0M499 243l-4-1M439 345l4-1M435 309l0-4M436 23l1 3 2 2M487 301l3 3M482 264l0 3M636 128l-2 2M417 158l3 1M493 202l0-5-1-3M595 92l-4 0-3 1M461 31l2-3M461 191l-4 1-3 2M667 310l2-2-1-4M455 47l1-3 2-3M589 186l3 0M442 124l2 3 0 3M667 188l1 3 2 4M590 192l-2-2-3-2M414 145l-1 3-3 3M508 177l5 1 2 3M481 295l-3 3-1 4M526 96l4 0 4-1M657 169l-2-1-4 0M667 334l4-2-1-5M680 198l1 3 4 3M693 186l2-3 3-1M519 187l3 3 4 0M581 152l3-2M391 146l-4-1M436 288l2-2M462 327l1-5M676 239l-3 2M548 78l-2-2 0-3M651 72l-1 4M388 95l-1-3M635 91l-1 4 0 5M675 223l3-3 2-3M683 183l4-3 0-3M504 150l0-3M484 61l3-2 2-4M393 238l3-4 4-1M508 184l1 2M585 158l3 1 2-1M499 116l-4 1M675 271l-1-3-3 0M691 176l1-3M547 321l4-1 2-3M608 241l-2 4-3 3M647 145l3 2 3 2M510 288l4 0M460 103l-3-3 1-3M394 224l2 3 3 3M504 90l3 0 1-3M542 268l3-1M607 207l-4-1M405 180l3-1M424 199l3-3 4 2M419 344l1 3M405 294l3-3M704 122l3 0M636 118l1-3M663 106l-3-1M445 244l-3 3M655 107l-1 4M475 300l4 1 4 0M453 204l-2 3M449 199l-3 0-2 3M421 272l-4 2-3 1M552 297l3 1M491 333l0-4M629 99l2-3 4-1M697 91l3 1 0 4M655 321l-3 3 1 3M605 339l-1 3-2 3M411 161l3 3M710 297l4 3M648 95l3 3M710 236l-1 4 0 5M623 316l-1 3-2 2M624 16l-4-1M537 290l4 1 0 4M417 169l4 0M497 238l3 0 3 3M599 257l-3-2M476 221l0-3-2-4M407 137l-1 3M694 258l3 3M559 103l-2-2-1-3M704 163l-1 2 1 4M561 208l-4-1-3 4M594 154l3 0M419 173l-1 3M474 316l0-4-3-2M693 131l-2-1M465 307l2-3-1-3M510 330l3 2M436 314l3-1 4 0M388 62l-3-3M408 268l1-4M544 49l-4 0-4-1M658 188l-4 2M470 128l-4-2M481 261l-1 2-2 3M485 216l4 0M399 228l-3-1M654 179l0 3-1 4M535 223l-2-2-1-3M525 236l4 2 1 3M426 132l3 1M391 158l-3-1-4 2M588 64l-3 2M432 301l-2 2 1 3M590 207l-3 0-4 2M614 195l2 1M555 344l2 4M481 61l-1 3M505 51l-3 2-4 1M544 298l-3-1-3-1M595 301l-2-2-4 0M610 145l-3-4M481 72l5 1M400 182l-2 3 2 3M442 164l3 2M510 234l2-4-1-4M690 284l3 2M452 113l0-3M511 262l4 1 3 2M425 341l-1 4 1 2M463 143l-3 1-4-2M501 169l0-4M708 221l3-3M522 90l2-2 2-3M515 314l4-1M624 209l-5-1M604 195l3-2 4-2M511 46l3 2-1 4M547 29l2 3-2 3M685 279l3 3 2 3M589 326l0-3M503 191l-3-3-2-3M488 122l2-2 3-1M617 213l3 3M706 207l-1-4 0-3M560 53l4 1M665 323l-3-1M499 148l-1 3M427 343l3 0M705 240l0-3 3-2M410 255l-1-3M576 309l-3 2M541 298l1 3M454 113l-3 1M428 173l4 0 2 3M404 73l-3 0M645 328l4-2 1-3M388 321l3 0 3-4M659 64l0-4 0-4M531 146l-1 4 0 4M427 152l2-2M416 315l-2-2M518 82l4 1 4 1M669 143l4 1M485 324l-3-4M619 297l5 1M624 232l5 0 1 2M457 252l2 3 5 1M590 149l2-3 0-3M665 133l-3-2M410 306l-3 2-5-1M431 258l2-4 2-1M571 249l3 0 4 2M661 230l1 3 2 2M455 116l-4 1M511 45l-1-2M499 35l-1-3 1-3M620 139l-1 4M433 153l-2 3-3 3M498 137l3 2 2 4M598 340l1 4-2 4M609 302l3 2 0 5M697 334l-3-3-2 0M613 291l4 0 3 0M447 106l3 0M423 270l4 2 3 0M454 111l1-5 4 0M575 179l0 4 1 4M666 188l0 4M414 144l-2 3M605 339l-2 4M606 332l-2-3M698 289l-1 3M483 330l-3 1-3 0M590 85l-3-3M430 167l-3-1-5 0M487 161l-3-2-3 2M667 122l-3-3-2 1M525 224l-4 1-2 2M449 260l3-2M506 50l3 3M531 175l1-4 2-3M630 130l-4 2M405 218l1-3M690 229l1-4M396 134l-1 3M453 128l-3 2M621 301l-2 3-2 3M388 185l2 3M472 31l1-3M562 170l-1-2M684 129l3 1M500 105l3-2 0-4M560 177l3 1M474 207l4-1 3 2M674 282l-2 3-3 1M667 112l3 4 3 2M550 206l3-1 3 3M637 279l0 3M519 141l3-2M627 89l-1-4-1-4M657 237l4 3M599 165l3 0M684 241l1 4 3 2M457 345l-3-3-4-1M541 218l1 3 1 4M661 63l1-3-1-3M696 145l2 3 0 4M580 185l3-4 3-2M459 334l-1-3M580 176l-2 3M410 319l-3 1-3-2M699 218l3-2 0-4M501 173l-3-1-4 2M463 341l0 5-2 2M609 53l-4 0-4 0M458 202l-3 3-4 0M620 210l1 4M504 266l-3-3-1-4M687 129l-1-4-2-3M579 210l-1 4 2 3M541 303l3-1M574 206l3-3M443 59l4 2M680 311l1 4M587 316l4 2M452 153l-2 3M541 185l-1-4 0-3M699 205l2 2M434 222l-2-3 2-3M657 114l-4 0-2 4M710 342l-2 4M616 339l3 1 0 4M502 299l0 4 1 4M685 195l0-4M450 293l1 3M543 69l3 0M489 319l-2-3-3-2M483 253l2-2M499 336l3 0 3 4M409 163l1 3 0 4M606 132l-3-1M505 295l0-4M425 278l1 3 4 3M558 296l3-4M389 83l4 0M509 31l3-2 4-2M519 315l-1-4M413 165l0-3M690 276l0-3M619 171l-2-3-3 0M543 293l-2 2 1 3M436 269l-4-1-3-1M399 183l-3 0M429 193l-2 4-2 3M460 119l-4 0-3 1M472 350l4-2 1-3M527 79l3 2 0 3M461 69l-5-1M498 260l-1-4 0-4M640 204l4-2 0-3M578 184l1-3 1-5M388 94l-2 4 0 3M464 203l0-3 3-3M445 276l-1 4M597 327l-1 4-4 0M487 317l-2 3 1 2M409 317l0-4-1-4M531 183l3 3-1 4M684 90l1 4M704 99l3 0 3 2M590 249l0 4-3 2M569 237l-2-4 1-4M504 211l-3-2M682 192l-4 1M448 95l-4 1M606 43l1 4-2 3M470 260l-2 3M636 136l4 0 4-2M513 176l3 0M581 192l-1-4M432 179l0-4-3-2M428 274l4 2 3 0M402 267l1-3M676 34l-5 0M472 306l0-3M538 48l0 4M515 27l2 3M627 174l2-2 1-5M676 197l-1 3M537 267l-2 2 2 3M643 281l2 2 4 2M690 151l-3 4M399 259l1 4 3 1M633 238l3-3 3 1M655 125l3-3M417 228l3 1 2-2M632 247l-2-4 0-3M404 39l1 4M609 73l4 0 4-1M554 318l-4-1M552 242l2 3 4 0M653 280l-4-1M519 228l-4 1M469 277l4-2M655 114l3-2M422 206l-3 3-3 3M421 165l-3-1-3-3M588 87l-1 3 2 2M485 166l-3 0-2-3M488 211l4-1M557 129l-1-4M645 49l2-3 1-4M680 224l2 1M431 286l1-4-1-4M690 52l5 0M564 264l3-1 3 3M675 49l-2-1-3-4M481 187l-2-4M521 43l-3 3M529 153l-1 4M578 212l3 2 2 2M646 203l-2-3-1-4M566 44l0 4 1 2M527 44l4 3M705 251l2 2M424 215l3-2M609 254l-2-3M675 297l3-2M658 131l2 2-1 3M414 36l1 4 2 2M556 135l4 1 2 4M549 313l0-4 3-2M649 317l-4 0M543 330l0-4-1-3M595 244l3-3 4 0M489 323l0-4-1-4M638 101l-2 3M453 74l-2-4M497 77l3 3 2 2M645 104l-4 1M671 162l3 3M599 252l-2 2M456 165l-1-3M477 316l2-2 1-3M498 333l-2 4M473 305l-1 4 1 3M526 206l3 2 4-2M581 285l3 1M436 69l-3-3-4 1M620 198l1 4 3 3M427 185l3 1 3-3M653 259l1-4-2-4M585 140l3-1M671 107l-1-4 2-4M454 248l-4 0M486 126l2 3M402 36l-3 1-4-1M497 295l-1-3-1-4M609 181l3-2M451 114l3-1 4 1M578 142l-1-5M707 49l0 4 3 3M523 64l1-4M415 152l1-5 3-3M425 313l-5 0-1-4M440 309l-5 2M649 232l-3 0-4-1M416 154l2-4 3 0M479 118l4-1M410 252l4-2 4 2M491 113l-2-2M442 309l4-2M687 33l-2-4M557 121l-1 4 0 4M497 255l-4-1-1-3M709 40l-4 1M398 221l-2-4M566 59l-2 3M411 289l0 4M674 281l2-3 2-1M596 151l1 5M434 45l4 1 3 2M466 52l-2 3M525 252l-3-1-3 0M481 159l1-3 4-2M658 315l2 2M518 314l4-1M487 148l3-3M507 290l0-3M432 136l-3-3M500 329l4-1 3-4M494 168l-3-3M508 324l4 0M461 241l2-2 2-3M462 194l-3-1M427 227l3 2M568 48l1 3 4 2M617 278l-3-1M423 188l1 4 3 4M509 55l2-2M659 197l-2 3 2 3M389 96l2-4 3-1M568 253l4-3 3 0M406 310l-3 0-3-2M672 291l-3 2-3-2M399 47l-2-5 0-2M564 206l2 3 3 3M656 238l0 3M550 129l3-3M451 158l3-1M537 309l-3-2M700 305l-3 1M704 46l-1 4 1 3M620 348l-3-2M553 188l-3 2M618 336l4-1M537 208l3-2M600 49l0 3M392 121l4 0 3-2M628 158l1 3 3 4M711 340l-1 4M411 343l-4-1-4 1M399 340l-2-3-3 0M458 251l-4-2M558 287l-3 3M416 53l3 1M460 79l-3 3M402 315l4-1M399 83l4 1M401 89l0-3 0-3M393 69l-2 3M437 160l1-3M670 183l-3 0M582 128l-1-4-4-1M613 211l0 3-1 3M486 298l2 3M628 329l-4-2-4-1M605 190l0 3 1 4M557 60l0 4M661 338l-1-3M555 226l1 5M436 238l-2-2-3 1M500 85l5 0 3-2M546 86l-3-3 0-4M557 244l4-2M449 210l3-2 0-5M427 59l2-2M663 196l3-1M607 103l0 4M605 75l3 1 2 4M578 22l1 3-1 3M591 260l0-5M598 325l-3 1M621 151l-2-2M470 298l-2-3 0-3M491 161l-4 0M423 202l3-3M417 266l0-3 0-5M490 124l2 3M630 24l3-3-1-4M391 155l1-4M673 164l0-4M398 316l-1-3-4-1M463 113l-3 4 1 4M485 295l-1-3M669 169l2 4 3 1M493 225l2-3 4 0M563 114l4 0 3-1M608 54l-3 1-2 2M702 85l2 2M694 348l2-2 4 0M545 162l-4-2M596 40l3 2M403 224l2 3M658 287l-2-4M676 221l0-3M491 256l-2 4 0 3M499 31l3 1 3 0M477 266l3 1 2 2M515 270l-4 2M686 168l-4 0M443 131l4-2 2 0M666 234l2 3 1 4M608 35l3 0M552 90l-2-2M654 129l3 3 0 4M518 257l-3-2-3 2M667 87l-3 0M599 41l-4 2-5 0M423 48l-2 4-2 4M651 224l2 4 2 2M663 130l0 3M516 264l3 1M604 175l1 4M571 152l3 3M536 311l0 4 3 3M572 327l3-1M647 294l-1-3M645 337l1-3M573 211l4 1 4-2M488 322l2 4 1 3M446 334l4 0M530 52l2 3M549 66l-1 4M379 190l-4 0-4 1M517 160l0 3 0 4M505 301l-4-2M553 122l-4 2-2-2M601 151l2 2M588 281l1-3 3-3M675 237l-3-3M634 140l2-3M463 111l3 3 3 1M523 166l1 3M655 181l3-3M618 353l2-3 4 0M444 126l-3-2M488 156l-5-2-2-3M665 285l0-4M627 121l-2 2M466 111l0 4-3 2M442 248l-2 4 1 3M417 210l0 4M436 335l-4-1M396 89l3-2M566 41l-1 4M582 326l3-1 3 2M458 332l3 1 4 0M694 193l1 5M667 226l1 3-1 5M590 162l1 3 1 4M442 112l0-3-1-3M550 61l-2 3M548 292l-3 3M432 304l1-3 0-3M558 57l3 3M470 71l-3 2-4-1M577 346l2 4M612 149l-4-1-2 3M599 57l-5-1M420 168l1 3M505 56l-1-4M414 143l0 3M509 39l-3 2-3 4M562 335l1-3M501 120l-1-4-3-3M592 295l-1 2M563 199l-3 2-3 1M515 179l-1 4 1 3M690 185l3 0M710 204l4 2 2 4M705 81l2 2 1 2M433 272l4-2 4-1M454 155l0-3-4-3M414 270l-3-2-1-3M461 28l1 4M385 335l-1-4M552 293l-4 0M416 282l-3 3 1 3M585 300l2 2 2 3M569 305l-1-3-2-4M551 127l2-2 4 0M542 191l-3 1M595 292l-3-2-2-4M647 305l-4 1M535 269l3-3M657 259l-1 4 1 4M635 291l-1-3M540 46l-3-1-4-2M565 241l-3 0-3 2M469 23l2-4-3-3M510 168l0 3 0 4M414 331l1-4 2-2M616 149l2 4M540 236l3-2 1-3M483 117l4 0 3-1M702 201l3-2M478 293l2 4M614 154l-1 3-4 1M522 319l5 0 4 0M421 283l-1-5 3-3M686 282l-4 1M691 134l2-4M433 243l2 2M504 290l2 3 4 1M520 92l-3-2M700 148l-3-3M425 19l-2-4-3-4M626 139l-3-3-4-1M627 225l2-4 3-2M500 195l4-2M445 245l4 2 0 3M422 71l4-1 4 2M456 26l-3-2-1-5M566 90l2-2 4 1M473 126l-2 4M422 251l-2 3 1 4M422 248l1-3M488 338l-2-3M405 297l-2 2M658 90l2 3M560 120l-2-3M531 327l-4 2-3 1M548 304l-1 3M526 138l3 3M495 163l-2-2M654 276l2-3M392 128l-3-2M577 123l0 4 1 3M474 288l-2 3 1 4M613 69l0 3M490 160l-2 2M399 180l1-3M664 165l3-2 0-4M463 187l-1 2M634 101l-3 1M647 348l4 0 2-4M560 180l-1 4 3 3M569 162l3 0 3-3M527 169l4 2 3 1M517 225l-1-4-3-2M705 232l-2 2-4 0M426 286l4 2 3 3M685 292l3-2M476 231l1-4M540 210l1 4M582 215l1 3-2 4M557 174l3 3 1 3M478 233l3-1 0-3M559 127l-3 1M571 133l-1-3M492 118l-2 3M494 73l4 1 3-2M388 272l-1-3-4 0M506 265l0 4M444 274l2 4 3 1M662 297l2-4M561 145l-2-3-1-4M476 96l-4-1M656 181l2-2 4 0M558 332l-3 1-1 4M419 78l0-4-2-2M567 155l1 4 1 4M581 84l-3 2" stroke="#625c5a" stroke-width="1.70" fill="none" stroke-linecap="round" stroke-linejoin="round" marker-mid="url(#cG)" marker-start="url(#hL)" marker-end="url(#hL)"/><path d="M644 162l-2-4-2-2M619 259l4 2 2 4M421 311l-2 2M413 306l0 3-4 1M552 325l2 4M649 233l0 4-1 4M677 243l2-1M708 192l1 3M692 148l2 3M686 87l-2-5M461 338l-1 3 0 4M510 35l-2-4M580 144l-1 4 3 3M625 140l-1-3M685 232l3 1 0 3M624 317l4-1 3-3M539 30l0 4 1 4M478 122l4 1M463 268l-3 1-4 1M607 270l-2 3M390 102l-2-3-3-1M559 172l-4-1-2 2M579 91l3 3M669 114l2 3 2 4M582 205l0-3M477 245l-3-2-4 0M494 244l-2-4-3-2M666 313l-2-3-3-3M590 309l1-4M609 248l-3-2M507 302l4-1 4 1M430 240l1 2-1 5M705 186l-5-1M556 185l-4-1-3 1M574 347l-1 5M545 195l-2 2-4 0M566 302l0-3M460 192l1 4 1 2M603 57l4 0 1-3M624 64l1-4 2-1M543 27l-1-3 0-3M685 267l3 3M680 144l0-4-4-1M499 85l-3 0M605 137l2 3M579 129l3 1 4-3M524 244l1 4M624 322l4 0M613 200l-2 4M461 118l2 4M610 278l-1-4M637 225l3 3 3 1M496 269l-3-2-3 0M605 324l-2-3 0-4M417 285l-2 2-3 2M613 193l-4-1-2-3M420 294l-1 3M422 166l-1 4M459 78l-4 0M487 213l2-3 4-1M666 143l-4 0-3-1M550 191l2-4 1-3M493 338l-5-1-3 0M596 289l-2-3M704 229l1 4M500 160l2-3M481 308l2-3M443 87l-2-2-1-3M605 218l-5 0-2-2M629 44l0 3-2 3M626 159l-3 2M608 198l-4-1M475 137l-3 1-2 4M708 169l-2-1M492 323l2 3 5-1M444 132l3 2 1 4M691 322l-2 4 0 3M695 129l3 1M532 96l3-2M703 318l-1-4 1-3M659 323l-1 3-1 4M451 249l2-4-2-3M498 263l3-3M478 310l1-3-3-3M707 142l3-1M551 103l-3-2M536 35l-3 1-3 2M470 339l2-2 0-3M454 332l1-4M426 343l1-3M525 221l3 0M696 233l4 0 4 2M506 246l-3-2-2-3M504 152l3 2 1 4M526 239l1 3 2 2M564 195l2 3 2 2M684 164l-2 3-1 4M656 128l2-3-1-4M594 301l-3 3M537 236l0 4-3 2M520 312l2 1 5-1M550 120l0-4 2-2M478 326l1 5M583 158l3 1 3 3M631 59l3 1M599 115l0-3M543 287l-3 0M450 59l3 3M604 54l2-2-2-3M640 329l3 2 1 3M466 155l1 4M626 250l1-4 3-1M645 299l2 4M614 158l4 2M705 243l-3 2M474 83l-4 0-4 0M489 200l-3-4M550 249l3-3 0-3M586 146l3 1M501 138l4 2M597 298l-3 3M588 303l-3-3-1-4M586 339l-3 1M465 91l4-2 4 0M598 338l-4 2-3 2M684 183l-3 2M707 144l-2 2M611 233l-1 4M623 111l-1 4M556 237l4 1 3-1M535 91l0 3-2 4M398 23l-3 2 1 4M448 268l0 3M441 280l3-1 3-2M651 289l3-3 3 0M645 337l-4 2-3-1M466 76l0 3-2 2M464 272l0-5-1-3M714 116l0-3M524 172l2 3 0 3M408 231l-3 3M578 167l3 0 4 0M441 159l-3-1M667 240l-1-4-4-2M391 71l3 1 3 1M606 236l3 2M534 331l-3 2-3 1M684 225l3-1 3-2M600 285l3 3 5 0M394 118l-4 3-4 1M387 67l4 2M440 300l3-1 1-3M564 55l-1 4M466 288l4 2M653 177l-1-4 2-2M696 290l-5-1-4 1M416 65l0 5M620 55l1 3M648 122l-3 0-3-2M676 147l-3 2M386 225l4 1 0 4M607 155l-4 2-2 3M662 220l0-3M422 254l-3 2M424 44l3-3 3-1M539 269l-1 4-2 2M500 52l2 4 3 4M424 125l3-1 1-4M410 221l-2-4M386 268l-2 2 0 4M542 130l4 1M507 69l3-2M707 344l1 3M444 75l4 2M442 327l-4 0M420 244l-3-2M674 140l0 3M637 340l4-2M535 210l-1 4M603 269l-4 0-2-2M706 29l3-1M467 79l-1 4-3 2M635 249l-2-3 1-4M682 203l2-3 4-1M634 333l1-4 3 0M613 106l2-3 1-4M648 272l2 2 3-1M505 178l3-3M573 166l0-5M702 57l-2-1-3-4M582 222l-1 3 0 4M383 196l-1-3M674 58l-3 2M491 346l-4-2-1-3M517 176l4 0 4 0M701 245l4 2 1 3M519 41l-1-5M521 211l-1 5M659 86l3 3M599 61l-4-2M594 209l2 3 2 3M552 252l3 0M471 141l-2-4M494 142l1-3M613 38l3-1M501 189l-1 3-3 3M680 158l0 4M404 169l2 2 1 3M651 208l2 3M613 247l2-3M559 77l-1-3 3-2M646 183l-2 1M525 220l-3 0M575 187l2 2M543 310l-2 3M660 173l0-3M526 23l0 4M416 143l3 1 4 0M401 167l1 3-3 3M408 287l2-3-2-4M556 289l0 5-2 3M660 189l4 0M609 200l0-3-2-2M580 137l4 0 3-3M614 213l-3-2M704 29l2-2M439 283l-2-1 0-5M507 177l-4 1M633 137l-1 2-4 1M490 321l3-3M452 114l-4 1M474 263l-2-4 2-3M610 285l4-2 4-1M483 305l0-3M567 196l-4 2-2 2M434 269l-3 0-4-2M480 70l-3-2-1-3M691 192l-1 3 2 2M460 186l-2 4M612 295l-3 0M546 104l4 0M496 179l0-3 0-3M557 187l0 3M707 90l3 0 2 2M446 242l-2 3M663 266l-3-2-2-3M622 301l-2 0-3-2M592 264l-3 1-1 4M455 115l-1-3-2-2M494 73l1-4-4-2M660 131l2-3M499 40l0 4-1 4M500 134l2-2M673 302l0-4 3-2M419 255l0-4M647 135l0 3 0 4M609 42l-3 3M470 203l4-2 3 0M605 56l1 3M401 162l3-1M500 227l-2-3M505 192l4-1 2-1M612 80l3 4M585 133l0 3M656 276l-3 2M458 50l4 0M493 152l1 4M444 45l4-1M699 288l3-2M460 42l2 3 2 2M417 249l2 3 3-1M551 227l0-3M453 220l3 1M696 173l-3-2M622 102l4 1 3-3M641 237l1-3 5 1M561 338l3-1M713 122l-2-2M502 64l4-1M660 143l-2 2M535 30l4 0 2-2M394 123l3 2M589 199l-4 0M496 150l-2 4M522 259l3-3 1-4M399 195l0-4M710 98l-4 1M615 52l3-3 3 1M653 212l-2-3-3-1M534 217l-3-3-2-2M521 147l4 0 2 2M412 169l3 3M575 133l-3 0-2-3M677 70l-2 3M537 144l-2-2M477 205l-3 2-4 0M585 142l0 3-1 3M471 243l4-1 3-2M387 92l3-2 2 2M488 213l-3 1-3-4M580 137l2 3 2 3M589 307l-3 3-3 1M493 310l-4 0M706 201l3-3 2-3M598 337l3-1 4-1M709 263l3-1 1-3M501 43l3 0M662 139l0-4M483 327l-3-2M653 234l-1-3M674 300l-2 4M545 317l1 3 3 2M691 257l3-3M422 201l-1-4 1-3M514 216l2 3M450 256l2-1 3-1M503 75l1-4M706 130l-1-5 0-2M546 207l1 3M623 321l-4 2-1 3M599 346l2 3 0 4M509 272l2 3M554 204l2-2 3-3M535 219l3 3-1 3M630 228l3 1M672 192l4-1M567 95l4 1M623 229l0 4M424 285l-3 4 0 3M669 290l2 2 4 0M568 291l4 0M630 340l-3-4M501 80l-2-3M498 331l3 0 4-1M567 151l-3 1-2 4M707 194l-2 4M546 76l-2-3-3-3M697 124l-4-1-2-2M489 286l-4 2 0 3M704 220l-4 0M416 151l1-4-3-3M545 193l4-1 3-1M713 199l1-4 1-3M459 247l1-3 0-4M493 294l2-3 3-1M569 246l-2 4 1 3M505 288l3-2 4 0M629 251l1 3M460 158l2-2M471 34l4 0 4 0M645 270l-3-4-3 0M705 280l-2 2M558 176l-1 4 2 4M512 192l-3 1M543 314l3-3 4 0M684 192l3-3M566 343l1-2 4-3M389 246l0-4 0-4M526 230l1-3 2-3M627 68l3 4 2 1M712 193l0 4M506 144l2 3M605 205l3-3 0-4M638 121l-3 0M655 61l1-4-2-2M473 100l-4 1-3-2M454 163l-3-3M558 334l-3 1M662 137l3 2M690 318l-3-1-4 0M388 60l3 1M418 173l-3 2-4 2M476 241l2 3 4 0M650 323l-3 0M507 57l-2-2M475 335l-2-3M659 88l-2-3 2-3M507 37l1-3-3-2M527 306l-3-2-4 0M598 49l-1 4M473 65l1 4M587 138l3-3-1-3M472 252l3-3M470 254l-1-4-1-3M543 60l-4 1M522 129l1 4M480 334l-2-4M586 152l2 2 1 3M542 224l3 2 0 4M424 316l4-1 3-2M622 287l2-4 4-1M458 43l-2 4-4 0M540 87l3 0 3-3M429 174l-3 1 0 4M525 225l-4 1-3 0M694 289l3 4-2 3M653 268l-1 3-4 1M532 55l2-2M464 26l0-3-1-4M676 193l4 1 3 1M519 39l-1-3 4-2M481 289l-2 3-1 5M544 140l-4 2M439 233l-2-4-2-2M671 224l-2 4M464 47l-3-3M478 242l-1 3-1 3M494 58l4-2 3-2M495 146l-4 0-3 1M420 178l-4 3M683 231l-3-3M464 258l4-2 3 1M416 46l3-2 4 0M540 148l4 0M565 197l4 0M663 125l-2-3M551 310l3-3 3-3M570 208l1 4 0 3M664 197l2-3M471 83l4-1M417 313l-3 0-3 2M562 210l-2 3M412 307l-4-2-4 1M525 132l3 0 3-4M495 322l-2-2M518 248l0-3M406 117l-1 4 0 4M555 169l2-4 1-4M701 281l3-3 4 0M641 241l3 0 5-1M430 142l-2-2-2-3M664 198l-1 4M663 340l-1 4M499 217l-2-3M437 60l-3 0-5 0M438 239l-4-1 0-4M652 202l3-1 4 0M386 144l-1 4M443 282l0-4M577 91l3 3M453 159l-3-2-2-1M597 120l0-2 1-4M553 229l3-2 3 0M666 119l3 2M661 153l4-2 2-1M433 109l1-3 3-3M643 35l3 1M671 160l3 2M657 319l-2 2M403 338l0-4M467 283l0-4-3-1M572 316l-2-3M709 266l3 2 5 0M543 316l3 0M548 176l-2 2-3 1M398 56l5-1M662 196l2-4M622 145l2-3M403 335l3-3M421 103l-1 3M480 319l-4 0M619 281l1 3M535 145l-4 2M473 101l1 4M687 299l4 3 0 4M476 172l-3-2M696 332l-2 4M573 260l-3-2-4 0M518 232l3 2M468 303l-4 2M468 89l1-3M668 140l0 4-4 2M463 107l3 2 3 2M586 302l-2 2M546 288l-2 2-4-1M477 348l-2 3-1 2M668 71l-1-3M633 128l3 1M394 221l-2 3M541 233l4-2M644 123l0-4-3-2M570 206l4 4 3 3M514 256l3-3-1-4M653 128l1 2M477 337l4 0M448 80l-1-3-2-3M699 126l-3 1M433 103l-1 4-1 3M570 324l-3-3M678 110l-3 0M499 131l-2-3 0-3M577 175l-2-3-4 0M645 270l-3-2M691 321l3 0 2-3M696 37l3 1 4 0M550 225l-4-1-4 0M401 186l-3-2M502 177l4 0 1 3M433 216l2 2M553 162l3-1 3-4M466 128l0 3M484 239l-1-3 0-4M434 165l0-3M456 105l1 4-1 4M629 207l4-1 2-3M660 272l-2 3M555 100l2-3M500 74l-1-3 0-3M651 98l-4-1M443 131l-2-3M442 161l3 3M512 188l3 4 2 1M437 172l-5-1-3 1M611 91l-4 1M561 341l-3-2M574 57l-4-2M555 80l1 2 3 2M517 303l1 4 2 2M411 225l2-2M667 213l5 1 3-1M659 324l-1 4M522 207l0-3-1-4M440 253l-3 1M476 240l1-4 4-2M565 240l-4 1M454 117l-4 2M444 144l-3-1M552 125l-1-3-3-1M607 151l3-3 4 2M552 311l-2-2M666 272l0 4-2 3M409 260l2 2M574 186l-2 3M394 117l-1 3-3 2M471 128l3 1 4 2M615 278l4 2M397 306l4 0 4-1M660 66l4 0 3-2M656 153l-2-2M471 54l-4 2-2 2M571 98l-3 1-3 1M496 55l1-2M440 61l-3 2-4-1M491 114l3 2M672 257l-1-4-4 0M657 116l-1-4-3-2M547 256l5-1 3 1M628 329l2 3 2 3M515 28l-3 3M674 143l3-1 4 2M504 286l-3 2-1 3M529 92l0 4M508 140l2 2M471 57l3 1M498 50l-1 3 0 3M513 260l-1 5 0 3M682 300l-1-3-4 0M631 163l3 3 3 1M697 252l3 1 3 3M401 324l-3 2M616 82l3-2 5 0M596 110l-4 0-2 3M613 110l3 3M473 339l0-3M564 291l4-1M693 80l0-3 0-3M649 233l3-2 4 1M398 23l4-2 1-3M661 90l1 3M631 112l-1 3M570 98l1-3M437 235l-1 3-2 4M493 130l-1 4 2 3M556 42l-1-3M425 176l2 4 3 0M410 124l2-4 0-3M419 137l4 0 1-3M619 51l4-2M429 236l-3 2-2 2M414 298l2 2M700 136l-4-2-4-1M584 219l2 2M493 254l0-3 3-2M546 316l-3-3M684 99l-4 1M680 196l-2-3-2-3M403 190l3 3 4-2M476 61l-3 2-2 5M616 158l4-1M690 273l4-2 3-2M457 210l-3-4M605 225l4-1 2 3M455 253l1 4M648 87l4-1 4 2M702 113l3 0M504 318l-1-4M583 301l-2-3-2-2M438 170l-3 2-4-1M454 22l-4-1-4-1M624 286l3 0M509 110l-4-1-3 1M635 290l3-2M430 112l2 5 1 2M513 147l4 0 3-4M435 244l-3-1M530 315l4 0M448 120l2 2 0 4M690 326l-2-2 2-3M673 169l2-4M527 83l3 0M535 125l-1 4M712 189l3 4 1 2M388 191l-1 4M695 278l-4 0-3-1M595 21l0-3M650 46l2-3 0-3M609 328l2 0M422 173l-2 4 0 3M401 150l-4 3M522 140l2 2M658 300l4-1 2-2M700 215l3-1 2-4M579 196l1 4M643 71l3-3M554 39l-2 4 2 3M668 204l0-4 2-3M423 267l2-5 3-3M505 57l0-3 3-3M448 45l-2 2-3-1M554 292l0-4-3-2M612 273l1-4-1-3M454 278l-1 4M525 237l-3 2M618 90l3 0M484 294l-1 4M572 135l-3 2-3 1M528 150l-3-3-1-3M557 237l3 1M663 216l2 3 4 0M413 142l-2 4-5-1M439 200l-3 1M524 269l-3 0-3-3M448 320l-4 0-4 2M463 186l4 1 3 2M671 302l-2 3-5 0M417 61l3 3M410 194l1-3M697 116l1-3M605 301l2 4M675 196l-2-2M635 24l-3 1-2 2M481 254l-1-4 3-2M552 134l1 3-1 3M646 274l-2-4M674 58l0 3-1 2M505 49l-4 2M667 287l-2-3 1-4M444 313l3-1 3 0M386 225l0-4M444 211l2 2M415 237l-2-3M410 244l2 3M472 89l1-4 1-3M591 155l4-2 4 1M615 100l2 2 2 3M444 242l5 2 4 0M410 25l1 4M408 250l0-4M649 282l-1 4 2 3M673 327l4 1 4-2M652 193l-1 4 2 2M506 299l4-1 3-2M454 151l-3 0-3 2M675 242l-1-3M398 220l-3-1" stroke="#8a8684" stroke-width="1.70" fill="none" stroke-linecap="round" stroke-linejoin="round" marker-mid="url(#hL)" marker-start="url(#hW)" marker-end="url(#hW)"/><path d="M533 324l2 2 5-1M404 111l4 0 2-3M447 55l3 3 1 3M594 321l-3 4-3 1M615 282l2-4-1-5M503 186l-3 0M621 239l-1-3 1-3M467 306l4 0 2 1M478 316l0-3 1-4M422 268l-3 1-3 1M446 236l1 3-1 2M529 264l3-2M599 257l2-3 3 0M476 152l-2 4-4 2M443 351l-4 1M420 337l4-1 3 1M630 150l-4-2M448 97l-2 1M442 264l0 3M576 320l3-2M567 329l2 1M392 325l-2-3-1-3M523 252l4 2 4-2M707 320l4 0M451 258l-3-4M521 232l2-2 1-4M547 171l-4 3 0 3M462 113l2 2M437 103l-3 3M485 291l3-3 2-3M557 122l2-4M667 261l1 5M460 39l-2 3-1 2M680 305l-2-3M574 345l-3 3-3 0M495 64l0 3-2 4M635 235l3-3M587 328l1 2 2 3M446 337l-1 3M556 134l2-2M552 33l2 2M660 237l-4 1-3-1M628 335l5 0 2 3M448 76l1 4 3 3M476 308l1-3M574 325l0 3-3 2M526 35l-3 0M684 111l3-2 4 0M532 145l0-3 2-4M650 141l0-3M559 295l-3 3-4-1M514 142l0-3 2-3M696 322l3-1 3 0M648 203l-1-4M454 68l-3 3M647 220l3 0M709 146l2-2 2-4M435 156l-1-4-2-2M514 214l2 3M422 197l2 4M658 276l2-3 0-4M563 253l-4 0M700 33l-3 3M550 89l-1 5M386 135l-2 3M448 45l4-2M572 48l-1 3M549 107l-3-1M458 233l-2-1M567 80l-1-5M394 153l-1-4-1-4M543 91l-1 4M519 304l2 3 1 3M490 172l0 4-2 3M445 173l2-3 4 2M506 264l-2 3M609 240l-3 0-2 4M482 254l-4-1M652 227l-3-2-3 0M429 301l0-4M584 135l-2-3 2-3M437 145l0-3-1-4M424 318l3 2M555 324l4 0M380 52l-1 3-1 4M473 140l-4-1M502 66l0 3 1 4M696 319l-4-2-2-3M476 295l-4 0M428 261l1 4-2 2M487 305l3 0M613 42l-1 4-3 4M541 261l3 3 1 4M390 322l0 3M567 101l4-1 3 2M465 249l-3 0-4 2M601 330l1-3M478 97l1 4-3 2M552 194l3 1 3 2M596 329l4-1M505 196l-1-4-2-2M588 128l3-2 4 0M512 71l-3-3M712 85l-2 3M454 206l-4 1M599 235l4-1M545 59l-4 0M640 279l-2-3M392 91l0 3 4 2M431 19l0-4 0-4M667 135l-2-3M585 326l4 0M626 245l-3 1-2 2M479 63l2 3 4 1M459 323l-1 4 0 3M669 191l1 3-3 3M687 150l-2 4-4 1M673 119l0 3M653 240l-3 1M700 146l1-4M683 243l-2-2M419 258l2 2 4 2M707 220l-2 3M412 81l-3-1M556 197l-1-3 2-3M387 74l0 4M695 277l0 3 3 2M623 59l-2 3M615 150l-1-4 1-3M632 108l0 3-1 3M656 339l3 2M531 304l-2 2" stroke="#74706e" stroke-width="1.70" fill="none" stroke-linecap="round" stroke-linejoin="round" marker-mid="url(#cG)" marker-start="url(#oR)" marker-end="url(#oR)"/><path d="M555 347l4 2 2-2M644 292l-3-3-2-2M700 222l-3 2-4-1M422 214l3 2M535 135l1 3M492 338l-2-2-4-2M477 57l-4 1M640 302l2 3M411 138l-3 3-3 3M508 292l-2 4-2 2M545 320l4-3M616 63l-2 3 1 3M687 188l5-2M505 194l-5-1M702 82l2-3 0-4M576 145l3 3M691 48l2 2M570 221l-3 1-2 3M596 203l-3 0-2 3M500 175l3-1M395 112l4-1 3 1M566 288l-4 2-3-2M631 35l3-2 4 0M562 69l-3 3-3 0M585 100l2 3M472 192l-1 3 1 4M512 44l-3-1M663 119l-1 4 2 2M630 279l-4 2-2 3M447 196l0-4 1-4M587 130l-3 2-1 4M695 186l2-3M629 241l2-4M444 288l3-1M485 242l-2 3M453 252l3-2 3 3M619 218l3 0M642 289l0 3M486 228l-2 1-2 4M523 51l-1-3M610 294l1-3 2-3M495 43l2 3M557 66l0 3M503 331l-2 3M681 61l1-3M456 258l-3 2-3 2M448 54l4 0 3 3M527 250l4 1M531 222l-3 1-3-1M692 285l3-1M430 316l-1-3M392 63l1 5M453 127l2 3M408 260l2-2 1-3M578 117l-4 0M430 157l-3 1M552 312l-3 0M559 238l-3 1-1 3M437 119l0 3M436 246l-2-3M546 179l-3 1-5 0M570 154l-2 4M528 155l-4 2M549 197l3-2M507 304l3-1 4 2M640 228l-3-3M387 82l-3-3M675 197l-2-3-2-2M398 239l-1-5 1-3M422 43l-1-3-2-4M447 277l-3-2M573 56l3 4 1 3M706 247l3 2 3-2M442 242l0 4-2 4M551 319l-3-2M471 293l-2 4M552 299l-3 3M448 67l3 0M410 217l-1-3M470 112l1-4 1-4M550 315l1 3M697 273l-4 0M472 273l-3-1-4 3M570 54l3 1M472 208l1-4M663 319l0 4M440 350l-4 0-2-2M698 186l1 3M559 53l2 3M669 80l1-3M405 262l1-4 4-2M692 219l-2 2-1 4M585 326l4-1 1-3M586 320l0 3M678 240l3 2M683 214l0-3M518 60l2 4M558 307l-3 2-4 1M648 290l4 0 2 3M603 228l-2-2-3 0M541 190l0 2 3 4M519 137l-3 2-1 3M609 197l1 4-3 3M408 231l0-4M492 190l-3 2-4-2M680 108l2-3M567 297l-2-4-4 0M423 222l-3-3M668 74l2-5 2-2M541 41l3 1 3 1M433 52l3 2M644 35l1-4 2-3M569 257l-2 4M451 340l-3-1M630 128l2-4M535 294l-4-2M493 349l-2-3M501 149l-2-1" stroke="#7a7474" stroke-width="1.70" fill="none" stroke-linecap="round" stroke-linejoin="round" marker-mid="url(#oP)" marker-start="url(#hW)" marker-end="url(#hW)"/><path d="M406 66l-3-2M515 35l3 0 3-3M513 43l4 1M488 335l-3-2-4-2M529 234l-3-3M385 337l-1 4-4 1M656 328l2-3 0-3M719 294l3 1 3 0M674 190l3-3M599 322l-1 3-1 4M612 298l-4-3 0-3M510 87l1 4M473 209l-3-1-4-1M444 118l-1 3-2 2M546 32l-3 2-2 4M535 25l-5 1M599 57l-2 4M475 31l-4 2M633 86l-4 2M557 45l-3-1M533 38l-2-2M663 92l3-1 3-2M689 151l1-3M485 125l0 3 3 3M609 52l1 4M682 325l-1 3-1 3M503 155l3 0M475 87l-3 1M515 69l-1-4 2-3M675 78l-4 1-2 3M666 230l1 3M651 242l0 4M515 213l-2 4-2 4M618 137l3 1M504 190l-2 3M443 274l-2-4-1-2M588 341l2-4-1-3M452 118l-3 2M562 306l4 0 3-3M385 341l3 1 4-2M539 155l0 4-3 2M518 42l2 4M579 114l-2 3-4 3M497 30l-1 5 1 4M704 270l-3 0M441 161l2 4 3 1M690 69l0-3-3-4M667 336l-2-3M458 128l3-3M399 59l-3-1M423 175l-3 2-4 1M601 165l-3 0-2 2M495 232l4 0M512 211l-1-4-1-4M513 185l-4-1M663 211l-2-2M454 278l-3-3-3-3M505 48l3-4 2-3M527 291l2 3M417 251l4 2 4-1M511 55l1-3M424 93l4 1M427 249l-3-2M514 30l-1-3-4-2M417 221l2 4M683 199l-2-4 2-4M537 206l1-3-2-3M536 77l0-4-1-4M572 153l1-4 2-3M397 79l2-3M706 210l-3 2-3-1M387 242l1-3M638 67l-1 3M531 148l-3 1-3-1M712 258l-1-4 2-4M702 62l1 3M540 150l1-3 0-5M534 74l4 1 2-3M566 144l-3-1-3-2M583 318l-2 4M521 341l0-3 1-3M470 132l3-2 0-3M478 118l-2-3M634 109l4 0M513 109l2-3 2-2M683 174l-3-1M687 140l-4-3M543 94l2-3 2-4M530 129l2-2M531 182l-2 1-3 2M451 154l3-3-2-4M417 334l5-1M418 157l-3-2M548 269l3 2 3 1M400 250l-2-4M515 143l0 3-1 4M533 211l0-3M690 183l3 1 3 1M656 233l-3 0-3-2M399 307l4 0M406 232l3 2 4 1M473 22l-2-2M546 227l0-4M556 276l1-4-3-3M612 298l-1-3M591 248l2-3 1-4M598 206l1 3 1 3M547 247l3 2M493 229l-2 4 0 4M467 240l1-2 3-4M495 230l-2-3M471 240l4 0M553 177l0 4M431 266l0 4-1 4M449 77l-2 3-1 3M520 209l0 4M656 236l1-4M634 113l-3 0M437 57l1-4 2-3M583 316l-1-4-2-1M683 170l-2-3M486 209l-1-4 0-3M492 80l3-2 1-3M504 141l-1 3 2 3M655 20l0-4-1-3M673 87l-2 2M536 313l1-5M649 338l-3 0M503 80l-4 0-1 2M587 128l-2-2M405 212l4 1 3 2M517 270l4-2M651 321l-2 3-5 1M505 70l-2 2-3 1M700 147l-3 3 0 4M575 142l2-2 2-2M411 244l-4-2-3 1M633 140l-1-4M566 117l2 0M490 57l0-3-2-2M713 209l-4 1-4 2M452 246l4-3 2-4M605 143l-3-3M389 228l-1-3 0-3M400 93l1-3 2-1M405 251l4 1M691 271l-1 3 3 3M451 194l0 4M686 180l-1-2-4-2M436 266l-3-2M407 36l-3-3M628 335l-1 3 1 4M643 24l-1-3M697 170l-2 4M443 177l4 1 2 4M540 180l1-5M426 164l0-3-4-1M596 57l-3 2-1 4M478 168l-3 1-1 4M616 204l-4 1M414 158l3 2 5 0M400 343l-1-3M571 58l3 3 3-2M654 288l3-4M454 215l-2 4-1 3M523 135l4 2M458 95l-1-3M636 65l4-1 2-1M600 44l-1-3-3-2M529 165l1-4 3-4M592 332l-1 2M428 276l2-4M418 334l2 2 2 4M642 198l1 3M503 303l0 3M688 342l0-4 3-2M611 227l-3-3 0-4M611 212l-1-4 3-4M523 143l3-3 3 0M478 313l-2 4 1 3M683 111l-1 4M545 94l-3 4M435 162l-1 4M680 329l1 4 2 2M413 181l-1-5-1-4M488 240l-1-3M624 102l-3 3 2 4M504 46l-3 0-3 0M503 149l2 3 0 3M578 289l0 4M616 269l4 1M428 209l-3 1M516 86l4 2 3 1M511 171l-1-3M526 49l0-4 3-3M387 198l4-1M603 174l4 1M422 316l2-1M585 292l3-1 3-1M673 60l-3 2M490 124l4 2 1 4M557 330l0 4-1 3M689 189l-2-3M481 231l3 0M420 343l3-1M452 345l-5 0-3-1M595 272l-1 3M458 106l0 3M497 147l2-3M615 274l0 5M446 162l-1 4-1 4M706 252l-4-1M677 76l3 3 4 2M492 292l3-1M653 266l-2-3-4 0M593 45l3 1 3-1M400 66l1 3 1 3M653 28l1 3M609 197l1 3M481 218l1 3M510 156l-1 3 2 4M624 336l4 2M589 199l0-4M437 302l3 1 3 2M709 145l3 0 4 0M391 234l1-2 4-2M676 72l-3-2M667 264l0-3M584 197l-4-1-4-2M697 250l2 2 3 3M510 172l1 3M413 260l3-2M559 157l4 2 4-1M547 257l-1 4M549 226l-3-3-2-2M592 21l1-3 3-1M596 293l-4 0-2 4M620 348l-2 2M508 234l1-3-1-3M489 203l3-3M549 115l-3-2-3-2M673 230l-2-3M689 167l2 4M498 232l1-4M507 193l1-3 3-3M506 180l-2-2-1-3M407 252l-3 1M393 133l-3-1-4-1M477 123l4 1M538 223l2 2 4 1M462 84l-3 2M437 290l-4-1M649 189l4 2 3 3M391 127l-1 4M616 147l-2-2M703 137l3 0M411 196l3-3 2-2M427 241l-1-4 3-3M715 171l0-3M614 157l-2-4M508 217l-5-1-3 1M468 61l-1-4-2-4M625 102l0-4M558 239l-3-3M508 269l0-3 2-4M462 306l1-4M454 259l-2-2M706 138l3 1 4 2M697 128l-3-3M451 54l-2 3-2 2M717 216l1 3 5 1M433 31l4-1 4 2M401 218l-1 4 2 3M487 162l4 2M429 195l1-4-1-3M667 60l2-3M467 201l-2-3M605 202l3 0 4 1M424 212l4-1 1-4M600 195l2-4 3-1M501 304l-3 2-3-2M599 205l0-4-1-3M613 249l-3-1M407 233l1 4 3 3M684 272l1-4-1-4M629 90l4 0 4 0M530 66l-4-2M407 330l-1 3-3 2M557 43l3 1 4-2M570 53l-4 0-1 4M564 326l-2-3-1-4M459 275l-2 3M638 332l-2 2 2 4M662 158l-3 1-4 0M399 115l-2-3-4-2M547 142l2 0M596 200l0-5 0-4M613 37l-3-2-2-2M684 174l1-3M612 66l2-3M523 96l-2 4M684 309l3 1M566 287l-2 3M612 222l-2-2M626 130l-2 3M608 327l4 1 2 3M680 45l-3 4M648 184l2-3 0-4M519 101l-4 2M626 235l-1 2M705 221l1-5-1-4M531 320l1 4 4 1M463 263l4-1 3-1M627 168l3 0M384 240l-1 2-3 2M555 204l3-3M425 83l-3 1M699 146l4-1M680 333l-4 0M578 115l-4-1M419 265l4-1M446 215l1 4M686 173l-4 1-3 2M427 136l2-3M473 279l2 3 4 2M499 230l-4-1M396 226l-4 1-4 1M639 300l-3-2-2-5M397 328l-3 1-4 2M629 284l0 4M469 173l1 3M400 291l-1 4-3 2M533 288l4-1 1-2M596 151l4-1 2 2M490 344l-4 3M569 287l-3 0-4-2M669 224l-2-4 1-2M671 146l-3-2M522 146l-4 0M513 228l1 4 0 3M584 330l-3-2M670 160l-1 5-1 2M577 337l-4 3-1 4M697 209l-3 1M455 67l1-4 2-3M513 320l-3-1-3-2M697 263l4-1M378 243l3 1M458 39l-3 3M511 302l3-2M551 249l-3-1-4 2M527 82l-4-1M444 61l-5 1-2-3M462 259l2-3M650 79l-1 4-1 3M393 76l0-3M400 207l-2 2 0 5M437 283l-3 2M521 144l-3 3M491 255l2-2 3-1M479 107l1 4-3 3M500 256l-1 3-3 0M487 210l4 2M500 187l-1 4M550 122l-3 3M446 142l-3 2M441 244l2 4M436 314l-3 0-3-2M480 215l0-3 2-2M533 57l4 3 2-1M647 52l4 1 1 3M623 253l4 0M662 152l0 4-2 3M660 141l2-3-3-4M705 143l3-1 0-3M561 202l3-1M647 114l3 1 3-1M677 64l2 4-1 3M536 327l-3 2M483 114l3-1 3 1M469 100l1-3M509 112l1 3M480 244l3-3 4-1M671 196l3 0 2-3M579 199l-4-2M508 238l-2-3M418 149l4 2 4 0M665 171l-2-3 1-3M696 130l-3 1M438 318l1 3 2 2M553 322l-4 2M450 80l3-2M691 172l-2-4-3 0M433 21l2 0M709 286l-2-3M654 134l-3-3-1-4M447 292l-4-1-4-2M517 218l3 1 4 1M401 310l-3 3M480 227l3 3 4 0M522 213l-4 1M540 106l5-1 4 1M629 162l3-1 2-4M423 25l-3 2-2 2M389 235l3 3 4 2M606 145l3 1 3 3M643 277l-2 2M457 119l0-2 2-3M415 297l0 4M512 54l-4-2-3 2M628 294l-3-1-3 3M436 61l-4 0-3 0M501 256l0-4-2-2M463 122l0-3 0-4M511 341l3 3M515 346l0 3-4 2M662 327l-3-2M425 40l-3-2M492 24l-3-3-3-1M516 85l-4-1M668 121l2 2 1 3M603 263l3-1 1-4M461 105l3-3M675 233l-2 2M437 197l0-4 3-2M506 23l4-1 4-1M667 323l0-5M541 198l-4-3-2-3M475 158l-2-2 1-3M620 201l-1 4M638 28l3-4 0-3M622 302l-2-2-2-4M670 285l-2-2-2-2M466 330l3-4M697 276l-2-3 0-3M536 49l-2-4M480 322l-1-3M469 330l-2-3 1-4M570 73l-3-1-2-4M433 167l2-3M704 193l-2-3-3-1M583 137l-2-3M408 270l-3 2-4 1M641 343l-3 1M685 148l1 3M514 62l-3 1-3 2M624 169l0 4 4 2M551 135l-1 3M534 213l-4-2M527 260l-2 4M464 264l-2 4M656 278l3-2M689 275l4 0 3 3M449 337l-3 1M673 261l0-3 3-4M424 125l2-2M495 188l1 4M613 301l4-1M557 298l0 3M659 64l-2 3M501 26l-2 2M558 232l4 0M479 280l2 3 0 3M513 91l0 3 3 1M434 57l3-1 3-3M579 270l-2-4 0-4M665 175l3 2M584 344l-4 1-4 2M652 122l-2 4M467 317l1-3M601 243l4 1 3 2M688 167l0 4 3 3M402 253l4 0 3 3M612 36l-2 2-4-2M670 153l1-4M610 228l-1 4M499 138l2 2 4 1M576 213l-2-3-1-3M697 259l-3-2M460 225l-3-1-3-2M410 164l-2-4M651 95l-3 1M633 37l2-3 0-3M599 43l2 3 4 0M526 153l-1 4M480 117l3 2M452 264l2-2M549 332l3 2 4 2M647 179l-5 0M440 285l-1-4M419 237l3 2M448 196l2-4 2-3M698 297l-3-2M506 75l5 0M492 291l0-3M428 133l-3-2 0-3M554 164l4-1 1-3M546 235l3 2M699 300l1 4M583 18l3 2 0 4M419 271l1 3 2 3M607 224l2-2 3-1M555 127l4 1M711 90l-1-5-1-3M570 274l-4 2-2 3M673 159l2 3M416 140l-1-3M499 193l1 4M674 288l1 4M569 237l-1 4M665 318l4 0 3-2M386 326l4-1 1-4M620 326l-1 3-3 1M648 186l0-3M553 326l1 3M609 290l3 3 2 3M547 292l-3 2M518 105l-4 3-3 0M523 297l-1 3M567 50l1-3M518 152l-4 1M498 160l-3-2M628 153l-2 2-3 2M513 227l-3 3M551 93l-3-3-3-1M476 254l3 2M409 223l3-1M552 305l3-2 0-4M544 243l-3 0-3-3M408 341l-4 1-3-3M402 123l3 1M457 216l0 4 1 4M403 258l2 4 0 5M653 23l-1 2M538 132l4 0M541 19l4 3M631 243l2 3 0 5M394 113l-4-1M555 291l2 3M665 36l2 3M662 218l0-4M488 318l3 2M547 55l3 3M522 145l4-2 3 2M618 86l2 3 0 4M600 235l2 2M622 228l-3-1M621 254l-1-4-3-1M706 115l-4-1M379 349l1-3M457 158l2-4M643 271l0-4M533 139l0 3 1 3M433 171l0-5 2-3M414 273l-3-3-3 0M564 317l0-3M528 258l3-1 2 2M536 29l-3 1M412 308l-4-1M496 254l-2-2 0-3M474 238l-3 1M671 295l0 4 4 3M534 246l-3 1M655 228l4 0M637 283l-2 3M490 220l0 3-1 4M552 231l4-1M617 325l-2 2M551 256l4 1 4 0M549 238l-2 3M707 81l4-1M411 238l-1 5-1 2M515 106l2 3M396 260l3-2M473 343l1 3M521 254l0-3M509 137l4 1M382 119l-3 1-3-1M680 195l3-1 4 3M632 20l-4 1M672 190l0 4M552 70l-1-3 2-4M693 186l3 3M561 94l-3 1M522 213l2-2 4 1M670 296l-3-3 0-4M425 315l4 2M440 75l2 0M561 201l-3-1-3-1M566 44l3-1M479 266l-3-1M648 339l3-2M430 274l-4 0-3 1M702 184l0-4M555 231l-3 1-1 2M625 347l3 0 3-1M417 46l4 0M434 120l4-1M707 175l2-3 4 0M540 146l-3 2-2 2M499 322l-3 1M397 268l-4-1M670 295l1-2M624 106l2 3 4 2M444 177l2-2 3-3M528 64l3 1 5 0M678 223l1-2 2-4M638 262l-2 2-3 3M511 289l0 4M408 131l-1 3 2 3M392 204l0 4M649 88l-4-1-3 2M462 70l-3-1-4 1M530 222l-3-2M395 55l3-3 4 0M511 269l-3-4M557 51l0-4-1-4M465 318l-2 2-2 3M395 238l-2-3M617 264l-4 1-3 1M441 139l-1 3M571 308l-4 0M492 74l-4-1-2-3M585 313l4 0 1 4M463 345l4 1M481 53l3 2 1 4M455 65l4 0 4 1M636 43l-3 2 0 4M612 193l1-3M381 183l-3-3-4 0M466 241l-4-1-3 1M480 314l-4 2M599 301l0-5M615 199l2 2 0 5M539 214l0 3M494 286l2-3 0-3M677 220l0-4-1-3M573 47l-1 3-1 4M661 133l0 3-1 5M403 67l1-3 0-3M701 207l4-1 2-4M535 288l-2-1-4-1M558 294l3 2 3 1M619 291l0-4-3-2M550 255l3-2 4 2M538 327l4 1 3 3M559 286l-3-3-4 1M540 250l-2-2M474 135l0 4M491 330l1-3 2-3M508 248l0-4M498 327l-3 2M597 50l3 0 4-3M494 188l0-3M500 22l2-3 2-4M466 252l-2 2M585 47l0 3-3 1M611 199l-3 1M524 235l4 2 4 1M442 241l4 1 3-1M539 86l3 2 0 3M391 94l0-3 3-1M553 93l4-1M641 207l-3 0-5 0M705 313l-1 3M664 237l-4 0-3 0M586 290l4-2M570 183l4-2M404 21l-1 4M513 130l1-3M631 106l-3 2-4-1M604 89l1 3M660 219l1 4M511 51l0-4 2-1M582 25l-3-3M539 206l4 2 2 2M667 185l-3 3 1 4M379 127l-1 3M533 22l0-3 2-3M684 186l4 3M423 177l-3 3-3-1M619 285l-1-2-4-3M501 73l-1-3M526 184l1 4M485 165l3 3 4 1M636 75l4 0M563 193l-1-4M445 111l4 0M695 129l-3-1-2-2M544 196l-2-4-3-2M542 139l0-4M430 315l2 3-1 3M487 267l4 0 2 1M619 192l0 4M642 210l-1 4-4 1M472 187l2 4M555 351l0 4-2 3M396 78l-3 2 1 3M472 235l-3-3-4 1M542 78l-1-3-1-2M534 150l-3-2M589 223l2-3M453 256l2-4 2-2M614 262l0-4M653 229l-3-2-2-3M595 109l4 0 1-4M395 55l0 3M387 309l-3 1M650 125l-1 3-3 4M505 171l3 2M419 283l0-3-1-4M651 71l-1 3M511 132l2 2 3 2M477 316l3 3 1 4M550 127l2 4M387 201l2 1 1 5M604 147l-3 2M696 228l3 2M454 220l3-1M390 189l-2-4M538 115l4 2M625 247l0-4M665 43l0-4 3-2M586 43l1-3-2-2M568 196l3 3M522 234l0-4M688 119l2 2M498 296l-1 3M387 195l5 1M578 201l4 0 2-3M504 327l1-3 4-2M463 207l-3-2M633 197l1 3 2 5M578 217l-3 1M525 67l-1 3-1 4M711 198l0 4-2 2M688 46l4 0 1-3M498 157l1-3 3-1M478 213l-1-4 1-4M655 312l-3 1-4 2M670 196l-2-3-3-1M567 340l5 2M538 333l4 1M617 57l1-3 0-4M644 233l-1 2M449 112l2-2M683 260l-2 2-3 3M629 116l2-2 1-4M495 228l5 2M618 233l4 0 4-3M643 194l-2-4-3-1M487 226l2 3M703 163l3 2 4 0M616 259l-2 3M444 169l-1-3M668 124l4-1 4 0M446 56l-1-3M395 128l2-3 4 0M435 304l-5 1M447 75l5 0M644 61l-4-2M545 250l2-2 3 0M437 118l-3 2-3 3M680 46l1-3M587 57l3-1M566 75l2-3M391 202l2-2 1-3M657 116l3 1 2 3M486 281l1 4M659 122l-2 3M477 225l2-3 4-1M616 229l1-3M394 186l1-3-2-3M598 291l2 3 0 4M571 32l-2 2 1 4M679 208l-1-4 2-4M526 141l0-5M679 270l-4 1M542 193l1 3-2 4M381 69l3 3M488 318l-3 1M405 235l1-2 2-5M642 298l0 3M454 334l-1-3M572 213l-2 3-2 3M400 346l3-3M673 235l1-3M425 194l3 1M571 303l-4 2M468 279l-2 2M684 213l-1 3 0 3M562 231l-1 4M685 146l-3 2M578 295l1-2-1-3M674 99l-3-2M692 65l4 1M655 335l-1-3M548 296l-2-2-3 1M624 69l1-5-4-1M584 180l0 4M460 277l2-3 3-1M402 147l2 4 2 3M634 225l-4 2-3-3M633 244l0-4M410 203l3 1 3 2M549 270l-1-4M648 336l0-4 1-3M397 345l3 0 4 0M662 28l0-4M574 254l4-2 1-4M387 151l3 0M571 291l1-4M601 145l1 4 3 1M391 191l-4 1-4-2M475 71l-1-3M631 319l-4 1M504 299l-3-3M516 112l5 1M712 290l2-3-1-4M507 228l3-1M432 299l-3 2-3 3M501 138l-1-4M638 38l-2-2M396 192l2 0 4 0M459 94l3-2 1-3M564 149l-4 2-3 1M508 91l-4 0-3-2M694 168l-2-2M573 206l2 3M431 46l-1-4 2-2M511 325l-3-2M560 298l-2 2-2 3M577 159l-4 1-4 0M469 201l-2 2 0 3M666 41l3-1 4 1M484 245l3-3 1-3M525 38l-2 2-3 2M576 143l0-3 0-3M480 62l3 3M601 289l-3-1-4 3M690 180l0 4-4 3M455 206l1 3-3 3M480 130l-3-3 0-3M612 193l1-3 3-2M565 291l0 4M566 198l1 4M417 148l1 3M588 194l-4 2M715 218l-3 4 2 3M493 148l-1 4M553 325l3-2M495 200l1-4-1-4M484 230l-2 4M661 292l3 3M604 251l-3 2-2 2M610 213l-1 3M397 121l-2-3 3-4M551 147l0-4M667 122l1-4M590 150l-2 1-4 1M492 254l-3-2M642 340l-2-3M568 333l-1 3M600 196l3-3M407 340l1-4M479 51l4 2M710 66l2 3M493 197l-4 2-3-2M555 161l-4-2-4 1M454 108l3 0M441 127l-3-1M419 265l0-4-1-3M455 323l-3-1-1-3M684 187l-1-5M611 304l-3-4M522 66l-1-2 0-4M503 38l-2-2M538 58l-1 3-3 2M622 150l0-4M694 268l-2-3M426 131l-3 0-2-3M461 190l3 2M523 41l3 2M687 34l4 0M494 259l-3 0-2-4M695 189l-3 0M633 108l0-3-5 0M661 115l-3-3M501 235l-4 2-4 0M405 342l-3-2M532 334l-1-5-2-2M482 268l5 1 1 4M681 200l4 0M442 139l1-3M542 198l-3-3-4 0M612 209l-2 2M626 161l-1-4M609 290l-3 1M410 299l-3 0M445 333l1-3M484 269l4 0M402 191l-4 0-4 1M536 196l-3 2-4 1M586 204l2 4-1 3M454 271l0 3M574 309l-2 4-2 4M513 261l2 4M688 179l-3-3M478 172l0-4 3-3M391 235l3-1 2-2M544 167l-1-4-4 0M560 255l-3 4-3 0M562 168l-3-3M481 62l0-4M523 60l-3 3-4 0M538 260l-4 1-3 0M557 247l-4 1M582 328l-3 3 2 4M487 248l3-2 4 1M506 226l-3 1-2 3M494 219l3-3 4 0M461 105l2 3 3 1M649 29l3 3M589 238l-3 0M599 252l-4-1-3 2M691 160l-2 2M520 323l-1 3 0 4M649 208l-2-3 2-2M603 347l4 1M696 252l3-2 2-3M605 197l4 0M613 211l-3-2-3-1M509 32l4 0 3-3M572 267l0 3 3 1M685 33l1 2M411 212l3 1M453 107l2 4M680 155l-4 1M495 243l-2-3-3-1M403 96l-2-3M654 228l-4 0-2-3M601 247l-1-4 0-5M432 183l4 1M629 95l-3-1-4-3M416 260l3 1M439 102l0 3M641 84l1-4 4-2M500 131l3 2M556 202l3 0 3 2M418 90l-1 3M562 34l-3-3M645 299l-4 0M578 319l-4-2M471 67l3 2M560 251l-4 1-3 0M580 312l-4-3-4 1M544 333l-3 1-2 1M605 164l-1 3 1 4M581 331l4 2M534 71l-3 2M656 53l1 4M586 333l2 1M603 156l-3 4-4-2M423 275l-3-3-5-1M518 49l-3-3 0-3M562 317l-3 1 0 3M601 192l0-3-2-4M550 78l-2 3 1 3M390 274l2 3M537 63l-3 2-2 3M515 39l4 1M705 319l4 1 4 0M521 229l0-3M634 121l-1 4 1 3M487 248l-2-3M398 75l2-2M493 128l-1-4M681 266l-1-3 0-3M495 260l2-3M439 312l2 4M407 169l1-3M666 148l-4-2-4 1M584 123l-1 3-4 1M705 237l-4-1-3-3M704 207l-1-4M660 225l-3 1M578 161l-4 0M587 315l4 0 4 1M454 308l-3-2M416 152l3 1 3 0M627 114l-4 1M500 265l4 0M657 166l2-2M565 128l3 2M604 54l2 2 3 3M485 233l-3-4 0-4M467 272l-4 1-4 0M586 217l-2 3-4 1M685 284l4-1M506 43l2 2M705 125l-4 2M410 308l3-3 3 2M651 85l-3 3M420 285l-1-3M440 249l2-4M615 52l3-2 1-4M392 141l3-2M466 289l-1-4 3-2M518 311l4-2 1-3M447 156l-3 2-2 3M465 337l-2 2 0 4M705 298l-3 1M618 246l3 1M606 150l1 3 3 3M656 115l4 0 1-3M451 112l1 3M455 60l0-4-1-3M699 93l-1 3-2 4M536 267l1 3 3 1M517 57l3 0M639 201l-4-1M642 326l1-4 4-2M598 289l-3 1 0 3M412 269l0 3 3 4M478 298l-3 2-4 3M432 260l0-3-1-4M581 145l0 4M626 292l1-4-3-2M645 235l-3 2-3 1M550 239l2-3-2-3M704 343l-3-2 0-3M545 88l-2-2 2-4M665 313l-3 2-1 3M534 62l2 4-2 3M525 89l-4 0M671 252l0-5 3-3M530 59l-5 1-4-1M660 94l1 4-1 3M431 346l2 2M406 25l0-4-1-3M574 246l1 3 0 3M456 180l0-4M653 304l0 3M568 198l-4 0-3 1M624 145l4 1 3 2M663 96l-4 2-4 0M587 207l0 4M557 258l-3-2-1-4M440 101l4-1 4 2M417 147l5 1 2 0M402 235l3-4 3-3M473 111l0-3 1-4M618 110l2-2 3-2M395 130l-1 3M448 334l4-3M661 129l-3 3-3 2M688 162l-2-2-3 2M412 234l3-1 3 1M451 72l-3 1M664 316l-2 2-2 3M472 345l-3-2-3 2M404 128l4 0M400 340l-3-3 1-4M382 348l-3 3M637 222l3 1 2 3M521 328l-2 1M603 227l-4-3M415 243l3 2M571 94l1-3 3-1M457 78l3 2M554 113l5 0M437 267l-2-4 0-3M424 341l2 3 1 3M623 57l-1 5 1 3M580 311l2 3 2 3M438 148l-4 2-3 1M402 36l-3-2M646 118l0 4 1 3M503 35l-4 1-3 3M452 202l0 4-2 3M538 136l-2 3M546 292l-1 4 1 3M614 152l-1 3M614 245l1 2-1 4M414 49l1 3M567 166l2 3M712 288l-3 3M680 162l1-3M419 202l0-3 3-1M396 227l4 0 1-3M708 223l-3-2M534 295l0-3M504 300l-5-1M708 115l3-2M411 33l1-4M429 143l2 4M663 163l-2-3M499 239l-2-2-2-4M506 33l1-3M407 128l-5 0-3 2M468 323l-3 3M424 186l4 0M641 235l1 3-2 4M554 317l-2 2M402 146l3-2 3 1M599 69l-2-3M701 264l-3-3-3-2M632 234l-4 0M480 324l-4 1-1 3M616 135l-2 4 3 4M434 196l-3-3 0-3M652 270l-3 3-1 3M445 266l-3 0M589 252l4 3-1 4M465 228l3-2-1-3M535 324l1 4 3 1M707 174l-3-1-1-3M493 347l0 4 3 3M394 332l2 3 3 2M494 37l-4 2 0 4M521 33l0 3-3 2M583 275l-3 0M553 255l-1 3M584 340l1-4 2-2M529 189l-3 3-4 0M547 295l2-1 3 1M530 134l-3-3-4 0M411 170l-3-1-2 3M402 243l-3 2M469 238l-4-3-1-4M526 310l4 2 3 2M474 35l2 3-1 3M665 200l2-3M566 215l3 3M549 236l4 1 2-3M423 253l1-3 3-2M618 288l-3 0M444 104l1-3M441 109l3-2 2-3M631 111l4-2M551 306l-2-2-4-1M583 133l-2-2M520 113l-2-4-3-2M415 174l-1 4M468 299l-1 4M390 158l-3 2-2 4M632 341l-3-3 0-4M645 226l2-4 0-3M469 70l0 3 2 3M516 111l0 4M636 120l2-1M524 240l3 0M459 121l-4 1-2 3M429 171l3-1 2-4M539 22l-4 0M534 76l-2 2M615 157l2 4 4 2M615 270l-1 3 1 3M617 54l0-3 0-4M528 311l-2 4M471 69l-3 0-3 4M559 97l-1 5M649 130l2-3 0-3M495 161l-2 2-5 0M517 47l0-3M515 56l4 2 3 0M493 330l3 3M459 37l2 3M677 124l2-4 1-3M395 128l-4 0M705 19l4-2 3-2M413 266l-2 4M458 155l3 0M510 76l-3 0-3 0M668 240l3 2 5 0M469 305l-4 0-2 2M590 149l-2 3M430 245l3-4M562 94l-3 0-2-4M532 141l1-3 2-2M572 166l4-2M413 230l1-3-1-4M551 254l2 4M699 117l2 3 2 2M389 186l1 5 0 3M613 244l4-3 3-1M605 321l-3-1-3 2M530 157l-3 0-3-1M668 233l4 0M641 195l1 3M620 292l1-3 1-3M703 144l1-2 3-3M409 291l-3-3 0-3M698 44l3-1M593 233l-4-2-4-2M448 287l0 4M466 332l-1 3 2 2M616 253l5 0 2 2M584 258l4 2M556 37l2-4M432 339l4-3 3-1M612 94l3 1M666 65l-1-4 1-3M549 326l0-3M528 217l4-1 3 0M401 252l3-2M617 144l-4 2M557 145l3 3M544 66l-4 1-4 2M595 332l-3-3M587 135l3 1M467 204l3 0M480 88l2 3M578 242l0-3 3-1M412 58l-4 2M677 280l-4 2M488 230l1 4M400 195l2 4-2 4M534 274l-3-3M511 218l-4-1M495 206l3 1M595 300l2 4 3 1M543 306l-2 3M540 197l3 3 0 4M518 88l2-1M506 107l-4 1M442 291l-3 2M495 235l3 4-2 3M686 341l2 2M467 133l-3 3M422 195l3 1M607 138l-4 2-4-1M527 206l-2 2 0 4M663 63l-4 2-1 2M658 64l-4-2M674 226l-1-4M547 202l-3-3-4 2M648 147l-2-1M510 305l2-3 4-1M710 194l4 0M499 77l1 4-2 2M470 305l-2-4-3 1M507 136l3 1 2 4M694 170l2 2 0 3M629 338l-4-2-3 1M583 210l-2-3 0-4M436 151l0-3M505 288l-3-3M690 255l-1 4 1 4M439 157l0-4M551 330l-3-2-4-2M565 141l4 0M484 300l2-4M628 99l-1-3M560 275l-2-2-3-2M431 287l-4-1-3 0M472 63l3 2 3 1M468 264l0-4M665 108l-4 2-3 2M611 300l0 4M570 242l-1-3 1-3M663 231l-2-4-3-2M487 257l3 3M651 208l3-1M524 219l-4 1M448 205l-3-1M468 148l1-3M445 262l5-1M561 88l-2-4M456 210l-3 2M467 275l3-1M501 234l-3-1-4-3M577 207l4-1M507 286l0-4-2-3M595 318l-2-2M528 301l4 0 4 0M683 296l-2-4M464 62l4-3M697 36l-3-2-2-2M409 115l-3-1M583 157l0 4 2 2M416 332l0 4 2 3M603 224l4 0M394 118l1 4M614 258l-1 3-1 4M701 271l0-2M653 113l0-3-3-3M568 242l2 3 1 3M434 254l2 4M506 177l1 2M493 118l1 4-2 3M527 188l2-3M422 334l-3-2M409 272l-3 1-4-2M397 198l4-2M617 192l4-1 4 0M588 346l0-5M627 131l-3 1M659 104l-4-1M668 323l-4 2M446 72l4 0M528 129l1-3M672 275l-4-2M582 138l-5-1M502 293l-1 3M400 138l-4-2-5 2M537 289l2-3M467 192l0-4M618 101l2 4M448 103l-4 1-4 2M514 323l-4 0M666 155l-5 0M537 56l-4 2-4 0M515 172l2-2 1-3M545 56l0-4M653 163l-4 0-2-1M629 96l0 4M452 263l-2 2M561 120l-3-1-2-4M658 172l-2-3-4-1M410 61l0 4 4 2M654 138l-4-1M661 336l3 3 4 0M408 130l4-1M715 193l-1-3-2-4M535 210l3 2 0 2M493 51l3 2M597 114l0 4 0 4M484 327l-2 4 0 2M503 112l-4 3M491 306l2-2M599 149l3 0M648 291l-3 0M705 172l2-2M514 243l1 3 3 1M664 35l-3 2M667 60l0-3-3-3M515 293l-3 4 1 4M593 159l-4 0-1 2M480 273l-4-2-1-2M653 201l2-3M680 213l2-1M634 233l4-1M497 225l2 3M586 34l-1 3M536 139l1-4 3-2M501 135l3 2M547 251l0 4 3 3M699 225l2-4 3-1M425 346l3 1 4-2M438 68l2-3M675 105l1-4 3-4M450 100l1 3 3 3M579 189l0 5-2 3M603 334l-1 4 0 5M429 335l-4-1-2-4M443 197l0 3M474 140l3 0M496 35l-4 1M422 172l-3-3 0-4" stroke="#74706e" stroke-width="1.70" fill="none" stroke-linecap="round" stroke-linejoin="round" marker-mid="url(#cG)" marker-start="url(#hW)" marker-end="url(#hW)"/><path d="M652 335l1 4-1 3M466 229l-4 2-4 1M494 294l-4 2M509 45l3 0M652 94l3-3M470 301l0 4 3 3M389 342l-1-4 2-2M556 264l4 2 3 3M384 262l-1 4M605 334l1 4 2 3M505 145l-3 0-2-2M690 280l3-1M479 303l3 2M497 55l3-1 2 2M566 135l2 3 0 5M528 310l0 4M655 220l-1 4-3 0M621 168l3-2 0-3M385 245l4-1 3 2M409 143l-1 3M414 239l3 0M427 155l0-4 3-2M493 122l2 3 4 1M623 95l2 3M712 343l4-2 4 3M663 259l-4-2-4 1M575 271l-3-1-3 1M706 223l0-4M433 170l3 1 3 3M449 103l-1 3 0 4M493 316l2 3-2 3M476 190l3 1 4-2M583 151l1-4M400 336l-1-3M585 221l3 3 3 0M465 240l-2 2-3 2M565 162l2-3 1-3M654 82l0-4 4-2M467 273l-1-4 3-3M669 106l-4 0-3-4M420 141l4 1 4 0M453 240l-3 0M485 308l4-1M394 176l3-2M489 55l-3-3M430 306l2 3 1 3M562 75l3-4M447 180l-2-3 2-3M414 147l3 3M654 216l-3 2-3 3M497 293l-3 2-4 1M521 32l2 2 4-1M707 187l-1 4M449 99l-3-3-1-4M417 168l-3 1M504 183l1 3-2 2M704 124l0 3M435 305l2-2 4-1M578 134l0 4M514 345l0 3-2 3M662 300l-3 1-1 4M660 142l-1 4-2 3M543 185l3-2M451 150l-3 2-4 0M519 317l4-1M716 206l2-4M513 212l2 3-1 3M645 197l1 4M570 75l-3 1-4 2M398 192l2 1M664 337l3-2 2-1M576 228l-3 2M683 267l-3-4-4-1M593 306l2-2 2-3M435 249l-1-3-3 0M658 180l-1-4M607 303l-2 2-3 3M506 256l-2 2M526 128l1-4-1-4M687 329l2 3 4 2M476 241l3 1 3 2M489 116l3 0M593 189l-4 2M662 87l4 1 3 1M462 285l-1-3-1-3M569 318l-2 2M461 208l-4-3-3-3M532 79l-2 2-2 4M462 320l-2-3M400 182l0-4 2-3M594 203l-1-4M703 112l1-4 3-2M618 290l-3 1M691 280l3-2M641 324l0 5 3 1M435 247l-3 3-2 2M689 344l1 3 3 1M518 163l-2 3M567 38l-2-4M454 118l-2-4M562 296l3-1M517 55l-3-1M542 293l-1 4M647 262l-2-3M451 339l-1-4 3-3M576 351l3-1 3 2M488 40l-2-3M657 298l-4 0M534 259l-4 1M597 176l4 1 4 1M502 317l2-1 4 1M661 119l2 3 3 2M518 80l2-2 3-2M608 37l-2 4M452 151l3-1 4 1M455 198l2 3 4 0M707 99l4-3 0-3M521 80l3 3 3 1M699 173l-3 3M481 239l-1 3M386 225l3 0 3-1M615 161l-2-3-2-3M510 197l2-4 3-1M493 262l3-3M478 156l4 0 4-1M561 254l-1-4-3-1M465 285l2-2 0-4M680 174l1-3M551 321l3-1 2-3M515 37l3 1M468 154l1-3M456 57l4-2 4-2M551 35l3-3M686 21l-1-3-1-3M512 172l-3-2-2 1M454 238l0-4M414 131l-3-3M521 214l-1 3M589 192l-1-3-1-3M599 30l0 4M393 135l0-3 0-3M559 55l-1 4 3 2M587 311l1 4M405 174l3-1M676 119l0-3 0-3M445 253l-2-2M575 147l-4 1M641 279l1-3M709 249l-3 2-4-1M417 310l4 1 2-4M656 210l1-3-2-3M523 308l-2-2M476 312l3 2 5 0M449 215l-2-3M403 178l2 3 3 2M582 342l-4 2-3 1M516 70l-2-4-3-3M382 264l1 4 4 1M554 254l3-2 3-1M661 34l1-4M680 81l-3-1M391 89l2 1 1 3M516 191l3-2M605 320l-2-4M666 183l-4 2M437 162l-3-3M597 61l-2-3-3-1M458 79l3 2 1 3M511 269l3 0 3 1M426 333l-2-3M469 281l3 1 4 0M409 316l-3-2M595 206l4-2M488 160l2 2M672 56l-3 0-4 2M495 284l-3 4-4 2M475 183l-3-1-2-2M577 312l-1-4 3-2M511 257l2 3 3 2M607 50l2 3 3 0M471 288l-1 4-2 3M591 42l3 1M679 168l-1-4 1-3M629 337l3 2 3-2M515 155l3 2M669 289l-2-2-4 0M488 236l3-2 3 0M439 73l2-3M612 288l-3 3M516 20l-4 0M698 313l-3 1-2 1M586 164l2 2M567 175l3 3 4 0M483 113l1-3 5-1M417 287l-1 3-1 3M632 54l-1-4-3-1M682 103l-3 1M400 78l0-5M550 53l-2-3-4 1M492 324l1 4-2 3M577 160l-2 1-4-1M675 38l3-1M422 264l-4-1-2 2M531 133l4 1 4 2M400 344l4-1 3 3M608 230l-2 4-1 5M405 146l2-4M427 77l4-1M600 160l0 3M640 241l2-3 3-2M563 332l-2 3 1 3M550 170l-1-4M681 142l4 1 4-3M550 53l-3-1M552 301l-2-2-1-3M460 119l1-3 4-1M470 121l2-4M492 324l3 2 2 3M572 179l2-4M608 212l-3 2 1 4M406 233l-3-1-2-3M680 77l-4-1M464 110l2 4M407 341l-3 0-1 2M421 313l3-3M461 196l-3 1-3-1M471 100l-3 1-4 1M470 246l4 1 2-2M399 201l1-3 3-2M564 122l-3 2M685 72l3 2M392 67l-1 3-2 2M517 46l-3-1M577 217l0 4M536 215l-1 4M661 184l-1-4-2-3M439 242l3 0 2 1M707 207l0-3M559 252l-4 0-2 3M534 185l-1 3 0 4M600 295l-3-1M533 216l0 4M663 259l2 3M454 186l4-1 3 2M533 27l-3 3-2 2M553 189l-3-1M399 259l3-1M709 114l-4 1M489 212l4 0M617 139l-3-1-4 1M638 279l3-1 3-3M516 48l-1-5-1-4M426 200l-3-2M521 167l-3-1-4 0M407 305l-4 2M574 309l-3-1-2 2M496 307l-2 1-3 2M482 220l1 3M457 91l3 0 3-3M454 91l0 4M476 233l-2-4M537 337l-3 2M469 111l3 1M630 246l2 2 3 3M518 75l1 4 3 2M411 44l1-3 4-1M425 330l3 1 3 1M589 211l-2-3M385 193l0-3M681 211l4 1M678 59l-5 1-2 3M614 159l-3 2 0 5M448 53l-4 2M473 296l-2 2-4 2M511 294l4 0M419 205l-1 3 1 4M612 139l1 2 0 4M411 64l4 0 4-2M557 318l-2 4 1 4M623 75l3 2 0 5M528 266l-5 1M512 295l2-2M415 246l2-3 3-1M651 277l2 3M620 264l-4-2M588 200l-3 1M648 33l3-2 0-3M491 341l4-2 2 2M641 43l0 3-1 4M697 184l-2-3M709 126l-3-1M673 203l-1-4-2-3M432 258l1 4M664 222l-3 3M604 146l-1-3-3-3M429 310l-3-2-3-2M643 188l0 4M486 161l-1-3M517 338l-1-3 0-3M680 152l2 3M465 81l3-1 3 1M506 290l4 0 4-1M539 311l-5 0M658 115l3 2M507 68l-3 1M386 258l-1 3M546 185l-4-1M482 293l-1 3M393 234l-2-4-3-3M487 252l-1 3 0 3M681 67l-4-1M589 330l1-3 3-2M627 340l1 5-4 2M470 269l-1-3-2-2M709 177l-4 1 0 3M560 281l5 0M680 321l0 3M670 250l0 5M591 133l3-3 2-2M664 110l1-2 3-1M469 137l3-3M413 258l-4 1-4 0M488 128l-4 2-2 1M401 119l-3 1M556 45l-3 0M588 302l-3-3M452 297l-4 1-3 2M461 70l-3 3-3 0M393 193l-4-2M514 234l0 3-3 2M536 327l-2-4M533 121l0 4 0 3M680 328l-3 0-3 1M654 306l0 4-3 1M540 314l0 3 3 3M395 33l-2-3-3-1M554 113l3-2 4 1M521 217l4 1M627 235l-2-4M559 340l-2-2-4 1M480 275l0 4M415 228l0-4 2-4M692 149l4 0 3 3M410 269l-3 0-3 4M619 161l1-4M594 244l-2 4-3 0M561 173l-2-4 2-3M682 166l-4 1M489 229l2-3M455 192l4 0M597 203l3 2 3 2M637 108l-1-3M414 277l1-4-2-4M408 157l1 5 1 3M587 131l-1 3M553 191l4-1 1-4M688 189l3-3M697 87l-3-2M549 197l-1-3M465 276l-4-3-3 1M664 242l-3 1-3 3M707 182l3-1 4 2M437 38l-2-2M578 189l-2-3M431 69l3-3M497 148l4 0M681 257l-3-1M660 187l2-4M419 186l-1-3M630 134l1 4M483 163l0 5M440 344l-3-2-1-3M514 296l-3 1-4 2M463 162l-2 2-4 2M564 211l-3 0-1-3M633 30l2 4 3 2M703 34l-3-3M639 253l-3-2 1-4M495 78l4 0 2-4M510 222l2 3 0 3M464 237l-2 2M495 246l0-4-2-1M683 159l-3-1-4 0M461 245l3-1 1-3M471 90l1-3-2-4M487 319l-1-5-4-2M392 127l-1 4-4 2M582 304l5 1M577 188l3-4M414 231l-4 0-2 2M678 96l3 2 3-1M438 158l1-4 2-3M424 161l2-4M429 170l1-4M659 176l-1-3-2-2M389 159l3-1M508 226l4 2M543 320l-2 2-4-2M444 290l3-1M573 334l3 1M535 115l1 3 1 3M579 153l2-4 2-3M487 264l0-4M443 146l-3 2M574 254l-4 0-4 0M652 335l-1-4 1-5M498 257l-2 4M391 205l2 3 4 0M688 78l2-3M459 85l-1 3M601 155l1 3M438 156l3 2 4-1M413 158l-1 3M416 154l1-3 4-2M490 239l1 4M485 208l-1-3-3-3M489 113l0-4M646 200l-3 3-2 3M600 210l1 4M555 257l-4 1-3 0M633 102l3-1 2-3M490 66l2-3 2-4M542 211l-2-3M616 274l-3 1M710 250l1-3 4-1M426 281l-3 0-3 0M654 239l-3-1M649 330l4 1M623 153l3-3M656 305l-3 0M461 234l-2-4-4-2M438 101l-3-2-3-2M454 278l4-1 3-1M550 331l3-2M584 299l-4-1M506 173l4 0 4 1M545 186l3 3M662 337l2 4M547 284l1 4M417 186l3 0M442 157l-1 3-3 2M662 38l4 1M670 211l2-4 1-3M417 159l-2 2M546 317l4-1 3 2M558 122l3 4M417 282l0 3M564 270l-3-2 2-4M639 25l0-3 4-2M597 247l-3-2M423 164l-2-2M667 206l-4-2-2-2M458 260l3-4 3 1M541 201l3 0 4-1M476 285l-3-2-3-2M565 146l3 2M651 223l4-1M625 190l5 1 3-1M696 164l-2 2M636 320l-1-3M610 181l2 3M667 218l0 5-1 4M629 104l-2-4-1-3M409 184l4-1 2-4M601 61l-3-1M658 304l0-4M571 182l-1 4M559 119l3 2 1 4M569 208l2 3 3 2M423 180l4-1 3 0M591 61l3 0M447 198l-2 4-5 1M408 336l-4-1M478 260l0 3-2 2M568 161l0 4 0 4M693 127l-2 2M389 133l-1-3 2-3M525 69l1 4M615 137l-2-4 2-2M450 346l-2 3-4 0M589 179l-4 0-2-3M465 72l1-5 4-1M563 36l2-3M646 183l-3-2M657 327l-3 0-3 0M599 321l-1-3M583 178l-3-2M585 41l2-4 1-3M674 56l2-3 4 0M581 305l-3 3-1 3M502 146l-3 2-4 0M631 20l-1 3M629 96l-3 3-3 0M390 292l0-4M510 148l2 3-1 3M587 213l2 3 2 2M389 89l2 2M406 268l-3 0-4 1M438 340l2 3-1 4M627 284l4 2M624 316l3 0 3 1M558 238l3-1 4 0M617 241l1-3-2-4M523 184l-2 3M467 270l-3-2M488 241l4 0 2 4M692 183l-4-1-2-3M608 190l-1 5M638 282l-2-3M516 233l-4 1M477 312l4-1 3 0M479 292l3-4 0-4M405 183l0-5M565 111l-2 3M619 250l1-3M683 257l-3-2M444 48l4-1 3 3M546 84l-4 3-2 3M463 108l2-5M538 226l0-2-1-4M683 162l-3 1M608 38l2 0M478 286l4 2M681 274l-2 3 0 3M564 277l3 0M501 237l2 4M382 349l2-3M477 146l2 3 4 0M586 225l3 0M441 291l3 0M696 166l-3-3M449 56l4 0M506 109l4 1 3 2M476 135l1-2M469 34l-4-2-3-3M423 205l0 5M405 42l2 4 2 3M711 171l3-1 4 2M681 165l1-4 0-4M413 309l3 3 4 0M421 43l3 1M671 130l0-4 2-2M620 196l-1 3-2 2M496 77l-2-2-3-3M623 202l-1-3-5 0M572 197l1 3M476 113l4-1M421 198l-2 3-2 3M414 204l-3-2M534 78l-3 0M638 286l1-5M481 211l3 2 3 3M593 55l4 1 3 3M430 46l3 3 0 4M696 50l-4 1 1 3M637 287l-1-4-3-2M626 210l-2-4M621 322l-4-1M407 264l-2 4-4 0M449 121l4-2M519 271l3-1 3 0M595 284l0-4M542 191l-2-2-4 1M514 269l2 4 1 2M616 256l2 2M643 24l-3-2-3-1M546 323l0-3-3-2M615 220l-3-3 0-3M656 333l1-3 3-1M472 342l0 3M479 223l0-3M393 93l-2-3 1-3M531 265l-4 1-2 3M491 308l1 5-3 3M403 350l0-3 2-4M668 195l-3 1M433 135l-3 1M505 302l3-1 4 0M570 198l4 2 3 0M547 37l-2-4M531 74l3 1 3 1M556 280l0-3M539 145l0-3 2-1M633 99l4-1M531 211l-1-4 2-4M574 292l-3-2-4 1M531 53l1 3 2 4M438 227l-3-1-2-2M538 289l4 2 3 1M586 184l-2-2-1-3M533 63l-1 4M590 244l5-2M687 309l-2 2M648 93l0 4M638 141l1-3M652 145l4-2M612 100l0-4M543 269l-4-1M448 249l1 4 1 4M385 239l3 3M391 238l-2 2-4 2M572 89l3 1 3-2M642 127l3 0M659 69l-3 3M505 65l0-3M539 169l2 3M667 282l-3 0M543 301l-3 3-4-1M433 342l0 3M546 172l1 3 4 1M550 283l2 3M568 325l-1-3M384 100l0-4M675 144l2-3M652 306l-4 1M509 65l2 4M470 243l-3 3-3 0M669 239l2 3M420 212l-2 3M439 102l-2-4 2-4M438 253l-2 3-4 1M699 240l3 3 0 3M525 303l-2 4-1 2M543 184l-4 1M499 261l-4 2M441 166l0-3M557 62l-4 2M432 136l-2 3 0 4M435 272l1 4 1 3M679 136l-4-4 0-3M425 184l4-1M493 119l-3-1-1-3M625 233l-1 4 0 3M675 165l-4-1-4-1M611 250l4-1 3-1M697 120l4-1M709 291l2 3 1 4M530 245l-4 1-4 1M527 248l-4 0M466 184l0-4 3-2M448 151l3 2 4 1M490 263l-1 5M429 183l-2-2M527 182l2 4M618 130l-3 2M558 141l1-3M582 320l2 2 0 5M388 352l-1-4M630 345l4 2 1 3M612 47l2 4 4 1M570 184l-1 3M526 191l5-1M662 52l-1 5-3 1M459 169l-1-3M630 94l2-2 0-4M409 130l0 3M586 117l4 1M568 253l-4 1-3 1M670 113l-3 3-3 2M458 94l-4 1M559 324l2 3-2 3M651 223l0-3" stroke="#625c5a" stroke-width="1.70" fill="none" stroke-linecap="round" stroke-linejoin="round" marker-mid="url(#cG)" marker-start="url(#hL)" marker-end="url(#hL)"/><path d="M609 194l-4-1M605 273l3 3M499 48l-3 0-2-3M569 241l4 2 3 0M496 80l3 0M517 29l3 2M707 187l-3-1-2-2M549 151l3 1M442 339l3 3M386 263l4 0 2-4M621 321l-3 3-3 2M441 63l-2-3M659 135l-3-2 0-5M452 281l3-3M699 175l1 4 3 1M394 118l4 2M533 216l-2 4-3 1M429 160l-2 3M545 39l0 4 0 4M524 154l-3 0M716 76l2 2 3 1M391 183l3-2M480 311l1-3 2-2M480 282l4-3 3-1M418 211l1-3 0-4M596 246l-4 0M537 72l4 1 3-3M514 96l-1-3-2-2M460 160l2 3 3 1M443 272l-2 3-4 1M516 217l3-1M647 335l-1 4M575 219l-2-4 0-4M678 247l-1 3M499 238l1 3 4 1M545 270l4 2M597 264l-1-4-1-3M423 332l1 4 2 3M468 144l1-4M449 110l0 4-3 2M644 288l0-4M512 307l2 3M663 142l-2-3M555 80l-3 0M454 205l4 1M562 36l4-1M444 118l-3 0-4 0M415 158l1-3 3-2M694 130l-3-1M543 220l-2 3M650 302l3 2 3-2M456 120l3 0M662 106l1-3-3-4M542 161l-3-1-3-1M508 223l-3-2-3-3M654 312l4 1M453 177l4 0 4-1M512 318l-3-3M553 46l-2 4M531 64l3-1M561 139l2-3M533 222l3-1 4 1M686 35l2-2M390 143l-3-3-3-1M534 211l-1-4M605 252l0 3M610 337l2-2-1-4M402 324l2 1 1 4M427 289l-3-3-1-3M539 313l1 4 3 2M687 201l4 0 3 0M490 331l-3 1M560 329l-5 1M605 147l-2 2-3 1M646 271l-3-3M490 221l-1 4-4 1M436 268l-2 3M678 225l-3 1M688 246l0 4 3 2M677 237l0-3 0-3M403 113l-1 4-4 1M503 147l2-4M444 273l-1-4M387 90l-2-3 1-4M565 34l4 1 3 2M703 245l-1 4M403 46l-4 0-3-2M664 208l4-3 3-3M502 82l1-4-1-4M409 294l2 5M582 193l3 1M684 258l3 3M674 136l3 1M398 202l3 4-2 4M675 247l4 3M491 254l-3-1M689 156l-2-3-3-3M506 158l-1 4 1 2M688 193l1 4 0 3M473 231l-2-3M702 274l-1 4M495 121l-3 0-1-3M477 125l1-3M598 206l-3-3M567 98l-4 1-4-1M586 153l1-4M470 67l-3-4-2-1M614 51l3-2M485 58l-4 0-2-3M405 259l-1-4M665 261l-2-1-3-4M664 164l0-3M686 286l-2 2M601 337l2-2 4 0M449 103l-1 3M500 140l0-3M714 101l3-2 3 1M617 235l-3 0-1-4M692 292l2-3M437 130l3 0 3-2M666 315l2 4M455 199l2 4M637 41l-3 2-5 1M436 60l2-3M449 107l3-1 4-1M434 256l-2-3 0-3M505 187l2 4M515 259l-4-2-1-3M491 121l4-1 5 1M653 290l-5 0M433 170l0 4 2 4M655 145l-1-4M662 67l-3 1M432 146l2-3M710 123l-4-1M449 193l3 3M380 56l1 4 3 1M497 271l-1-3M527 160l0 5M547 191l-4 0-4-2M578 194l3-2M491 53l4-2M704 30l-1-4-4 0M668 271l4-1 3 3M394 182l-2 4M519 155l-3 2-4-3M664 220l4-2M436 103l3 1 1 3M634 129l2 3-1 4M485 256l-4 1M436 65l-4 1-2-3M575 140l0 4M622 136l4 2M696 127l2-2M706 242l-2 3-2 3M619 301l-1 2-2 3M453 118l1-3-1-4M430 162l2 3-2 2M423 315l-5-1-3 0M665 148l2-3M681 144l2 3M597 270l-1-3M468 86l3 2M610 300l0-3M655 108l-2 4M679 230l0-3-3-1M606 59l4 0 2 3M510 328l3 1 3 2M505 149l0-3M401 57l4 0 2-2M387 217l-1-3M503 209l-3 1-2 4M562 254l-3 3M406 222l1 3-2 4M688 294l3 0M586 37l2-3 2-4M462 99l-2-3M519 294l0 3 0 3M678 195l0-3-2-2M656 336l1-4 3-1M663 130l3 2M502 204l2-2M656 34l-1-4 2-2M450 261l4 1 2 3M644 279l3-1 3-2M515 221l2-2M458 100l2-2 1-4M626 95l3 3M497 183l-2 4M642 197l1-4-2-4M563 260l3 0 3-2M610 109l-4-1M525 228l0 3-3 3M539 71l3-3-1-4M652 186l1-3M511 57l-4 0-2 2M569 170l3-3 4 0M702 95l1-4M660 312l3 1M580 303l3-1 3 1M552 188l4 0 2 2M644 276l3-1 3 4M633 144l1 3M445 284l-1-4-1-4M494 205l-2 3-3 3M450 125l-3 4-4 1M490 291l-2 2-4-1M665 238l-4-1M480 150l4-1 3 0M421 180l-3-1-4 0M628 48l-3 3M406 240l-4 2-1 4M448 265l-3 0M698 96l-2-4M693 148l-2 2M503 200l2 4M437 283l-4 1-3 2M414 61l2 2 1 4M667 191l0-3 0-4M572 72l-1 4 3 2M707 114l-4 1M478 51l2-3M616 287l1 3M422 268l-4-1-2 4M629 231l3 2M507 177l-1-3-2-4M395 137l0-3 3-2M621 324l-4 2-1 3M442 124l0 4M460 121l-1-4-2-3M571 99l4-2 0-4M454 162l-2 2M429 189l-5 0-2 3M695 79l2 4M665 39l3 1 3 3M401 169l3-2 2-3M693 157l0-4 3-2M628 77l4 3M422 251l-2 3-1 3M582 206l-4-2M679 330l-3 1M497 229l-4 1M616 192l4 0M451 29l-4-2-3-1M538 130l2 4 1 4M495 294l2 1 3 1M465 306l-2-4-2-1M534 284l3 0M541 37l-1-4 3-2M669 264l2 2 0 3M458 70l3-1M691 139l2 2M560 344l-2-2-3 0M417 238l2-3M495 334l0 4M420 258l-2-4-3-2M514 169l2 1 3-1M624 243l4-3M389 315l3-1 2-1M552 286l5-1 2-2M556 176l3 1 3 0M580 198l2 2 0 4M704 293l-1 3-3 1M659 195l0-3M604 339l0-3 1-4M582 156l-2 2M559 238l2-3 2-3M453 63l-4 0M666 283l-3 0 0-3M650 123l-2 4M599 345l2 3 2 3M420 204l-2-2M390 331l1-2 3-3M574 207l4 0 3-2M548 224l-3 3-3 0M641 187l3 0M607 216l4-1 2-2M415 153l1-4M654 129l2 3M572 193l-2 3M558 127l-3-2M428 249l2-3M584 63l-3 2-1 2M611 138l-2 4M392 147l-1 3M415 339l2 3 4 1M650 185l3-1M587 182l-1 4M480 335l2-3 4 0M402 221l5 1 3 3M461 246l4-1 1-3M686 181l-4-2M674 101l4-2M440 119l-3 2M467 303l3-4M570 205l-3-2M526 81l3 0M446 162l-2-3-1-4M449 343l-2 4M529 267l-3 0M464 48l3 1 2 4M414 304l-3 1M606 308l1 4M472 249l-3-1-4-2M671 325l3-1M512 55l2 3 5 0M674 74l-4-1M558 241l3 0M633 90l-4 1M713 322l0 3M516 95l-1 3M494 142l4-2 2-3M456 262l3-4-1-3M627 21l-4-1M613 143l-1-5-3-2M513 164l-3-1-4-2M657 215l1 3 1 4M523 65l5 0 1-2M674 229l-4-2M567 342l1-3M563 256l3-2 3-1M562 115l-1-4M613 233l2-4M462 192l-1 4M574 172l2-3M647 234l4 1 4 2M417 256l2-4 3-2M685 158l3 0 3-1M434 270l-2-4M431 67l-3 2-4-2M552 264l2 2 0 3M391 335l3-1 2-2M685 87l-1 5M415 197l-3-1M603 227l-3-1M417 343l-4 2M545 41l3-1 1-3M534 217l1 3 2 4M435 109l-1 4M604 202l2-3M555 284l-2-3-3-2M512 335l4 0M494 150l1-3 0-4M535 329l0 3 3 3M567 99l3-1M669 298l-4 2-1 3M568 290l-3-3M678 273l3-2 3 1M424 79l-4 3M508 258l2-4M491 55l-2-3M672 84l-3-2M676 70l0-4 1-3M522 317l-2 3-2 4M536 272l-3 1-4-1M529 274l3-2 3 0M575 294l4-2 3-2M509 295l1-3 1-3M448 282l3 0M449 265l4-1M633 293l-1 3-3 1M606 297l1 5M575 115l-1 4M391 127l1-3M595 330l-3-2M515 191l2-3M643 23l2 4M591 39l-2 4-4 0M676 216l2-3M526 94l4-1 3 1M654 100l-2-2-4-1M687 313l1-4M431 55l2 3 0 3M661 130l3 3 2 4M707 205l0 3 1 4M569 73l0 4 3 3M687 173l-4-1-4-1M442 282l-4 0M431 244l-3 1M658 93l2-3M714 64l4-2M547 33l-4-1M497 144l-3-1-3 1M435 252l3 2M425 260l-3 2-1 3M661 302l-2 2M562 293l3-2 3-2M501 290l3 2M559 226l2 4 0 4M621 266l-2 4M550 132l3-2 4 0M480 321l0 4-2 4M702 174l-3-1-1-2M696 178l0 3M665 239l-4-1-1-4M563 253l1-4-2-3M600 66l2-4M425 284l2 3 0 4M565 283l4-1 2-2M658 345l1-4 1-3M698 302l-1 4M438 297l-1-4 3-2M465 28l3-1M537 72l1-4M414 135l-3 2-4-1M515 295l-3 2-2 4M441 113l-3 3M544 19l1 4M542 59l-2-3-3-1M422 306l1-4 1-3M437 239l-3-2-2-3M569 255l1-4M508 216l-3 1-3-2M689 271l-4-2M502 247l-1 3 3 3M558 268l-2-4M687 178l1-4M607 262l2-4-3-2M704 201l3-2 4-3M589 325l3 0 3-2M575 307l3 2M484 235l-3 1-4 0M511 41l2-2 3-2M495 116l2 3 2 1M454 68l3 1 4 1M508 88l1 3M609 249l3 1 3 2M522 240l1 3 4 1M556 185l-4 1M480 228l-3-3-4 0M451 213l-1 4M382 122l2 3 2 2M425 198l-1-4 1-3M622 264l-3-2-1-3M414 253l-1 2M636 239l-2-4M505 232l1-5M435 261l4-2 4-1M395 327l-3 0-3-4M498 306l-1-4 1-4M541 84l3 0 3-2M642 87l2 3 4 0M495 336l-1 4M667 234l-3 3-3 2M715 60l2-3 3 1M542 37l2 3 4 0M485 243l-1-3M530 223l3 3 3 2M539 226l2 4 3 3M501 272l-2-2-1-3M569 78l-1 3 0 3M391 129l3 1M669 198l2-4 2-3M512 234l-3 1M614 56l3-1 2-3M429 313l3 0 3-3M649 276l0 3M487 317l5-1M594 216l-3-1-2 2M540 291l-2 2M461 84l-4 1M578 136l2 4-2 4M453 160l-2-3M656 84l0-3M439 342l1-4 3-3M450 186l-2 3-2 0M457 127l-3 2M561 244l-2-4-3-3M527 336l-1-4 3-2M647 301l3 3M450 257l-4 1M502 26l0-4M395 82l-3 2M565 273l0-3M475 303l-4-1-3 3M531 78l1 4M568 36l3 1 1 3M708 224l5 0 2 4M678 120l-2 3M699 152l1 4M507 210l-2 3M518 72l2 4-2 4M711 299l1 3M670 230l-3-2M506 297l-3-2M600 52l-3 2-2 2M608 253l-2 4M668 246l3 3 4 2M464 269l3-1M576 213l5 0M383 159l-3 2 0 4M483 210l-1-4-4-2M665 146l2-3 2-2M410 112l4-2 4 2M657 85l3-3M453 321l-4-1M637 23l-4 2 1 4M474 206l4 0M608 48l4-1 2-2M672 129l2 4M450 260l-3-1M552 60l-2-3-2-3M708 302l-3-1 0-4M518 47l3 3M495 78l1 4-2 2M405 117l5 0M528 205l0 3M534 243l0 4 4 1M571 136l3-2 3 0M670 54l-3-3 0-4M466 103l0-3M650 123l4 1 5 0M428 157l-2-1-1-4M464 104l-2-3 2-3M536 146l-2 3 0 3M513 49l-4-1M619 184l2 4 3 1M546 267l-2-3-3-3M694 246l-3 2-2 3M612 277l-5 1-4-1M514 121l1 4M650 143l-1 3M433 52l3-3M603 56l-4 2-3-1M384 321l-3 2-4-2M504 320l2 3M632 328l-2 4-1 2M616 62l1-4 4 0M679 275l-2 2M499 288l-4-1M640 53l3-1M574 160l1 4 2 4M420 229l3-2 1-3M667 299l3 0M657 29l0 4 1 2M497 253l2-3 2-3M650 76l-1-3M537 88l1 3M456 256l2-2 2-4M667 166l-1 4-4 1M455 208l-2 3-2 2M385 349l-2-4 1-3M511 317l-4-2-4 2M446 278l3 3 3 2M620 182l-3-1-1-3M663 336l5 1M548 124l2-3M508 62l2-3M497 26l3-2M468 115l1-3M631 254l-4 1-2-1M490 64l3 0M504 103l2 3M557 328l3-3 2-2M392 155l1 3 1 4M710 211l3-2M615 235l-3-3-3-3M577 346l-3-3-1-3M460 292l-4 1M444 35l-3 2-5 0M413 276l-4 1M413 205l2-4M493 235l0-4-2-2M557 61l-3-3M682 136l1 4M484 219l1-4-2-3M474 318l4 0 3 2M456 333l0 4M659 155l-5 1-3-2M681 241l-2-3M411 343l-1-4M683 298l-2-2M539 293l-3 2-1 2M460 100l-2 3M457 108l4 1M596 151l-1 4 1 4M448 222l-2 2-3 3M472 312l-2-3 3-3M504 183l3-1M615 221l2 4 3 2M615 292l-2 2-4 2M685 272l4 1M524 32l-4 0-4-1M548 309l4 0 5-1M415 213l-4-1-4-1M635 300l-2 2M590 70l3 0 1 3M603 253l1 3 2 2M631 160l-3-2-1-4M395 87l-2-3-3 0M467 265l1 4M420 150l-4 1M614 111l-4 2-2-1M431 262l2 3-3 3M656 113l-5 1M383 205l3 1M624 153l-1-5M676 233l0 3M541 326l-3 4-3 1M699 327l-2 2M460 102l1-3M476 267l4 2 4 2M418 247l0 4-2 3M580 66l2-1M452 73l0-3-2-3M393 108l-2 1-5-1M535 136l2-4-1-4M515 316l1-4 0-3M541 291l-4 2M413 310l-1 3-2 3M458 207l-2-4M474 21l2-3 4 0M567 174l-4-2-2-2M686 227l3 2-1 4M707 198l1 2M567 256l-2-4M703 286l-5 0M500 250l3-3M663 146l3-1M514 163l-4 1M436 154l0-4-1-2M667 148l-2 4-2 3M642 236l-4 1-4 1M673 108l1-3 3-3M684 227l-2 3-1 4M441 50l-4 1M618 104l4-2 3 1M636 48l-1 3 1 2M661 309l0 3M402 326l4-2 3 3M497 286l-5-1M496 209l-4 0-3-3M518 312l3-3 3 1M656 229l4-1 2-1M415 150l-5 1-2-3M669 51l-1-4M460 310l4 2M598 246l3-3-1-2M383 26l-1-3-1-3M538 296l2-3 3 0M425 284l3-2 2-2M394 188l3-3M711 50l4-2M513 94l1 3 0 5M541 203l-4 2-2 4M503 259l-3 1M523 33l-3-1-1-4M390 124l4-2M469 82l-1-3M691 251l-1 3M566 200l-5-1-3 2M628 230l0-4M711 161l-3 2M475 297l-1-4M394 112l0 3M524 158l3 0M447 146l0 3M521 307l2 2M418 87l2-2M643 211l-3-2M512 168l-3 0-3 0M472 92l4 1 3 1M526 49l-3 0M666 154l-1-3M644 120l2 3 5 0M484 243l3 1 4-1M698 325l0-3M482 331l-3 2M513 260l2-3-2-3M526 221l1 5M482 235l-4-2M401 322l-1 3-3 3M712 214l5 1 3 1M484 147l1-4 0-4M423 165l-1-3M587 273l-1 4-4 0M407 130l-4 0-4 2M634 265l3-2M493 154l0-3M518 31l-1-5 0-3M589 205l3-1M486 253l-3-3M680 226l3 1M501 138l-3 1M588 197l-4 1-4-2M438 126l3-3 4-1M459 239l3 0M449 265l3 2 2 2M444 109l3-2M690 194l-3-3 0-3M632 224l-2-3-3-2M675 177l-2-3-4 0M525 88l5 0M669 158l-4-2M560 331l3-2M507 185l-1 3M588 143l4 2M401 103l3 2 2 4M606 288l-1-5 0-4M534 322l0 3M645 36l1-4M411 183l-2 3-2 3M514 44l3-1M477 157l0-4M399 147l3 0 3 3M541 70l2-3 1-4M384 121l4-2 3 2M415 254l-2-2M495 100l0-3M415 145l-3 1M655 38l-3-3M548 302l4 1 4-2M556 264l-3-1-3 0M700 195l1-4 0-3M670 186l-4 1-4-1M667 193l-1 3-1 2M699 273l4 1 2-1M415 191l-4 2-1 3M682 161l-2-4-1-4M461 207l3 2 3 1M701 88l-4 2M393 328l4 1 4 1M451 107l3 2M598 256l1-3-1-2M570 204l-4 1-4 2M550 64l-3-1-4-1M501 73l-3-1-4 1M680 133l1-3M482 246l4 2 0 4M430 284l-2 2-1 4M461 285l3 2M713 334l4 1 3 2M553 306l2-3M648 240l2-4-2-2M623 139l2-4-2-4M588 162l-4-1M443 311l2 4 2 4M494 80l4-1M604 34l-2 2 2 4M667 329l1 3M536 328l1 4M627 290l-5 1M602 199l-1 4-3 3M434 101l0-3M588 166l2 3M427 146l-2 3-3 1M636 326l-3-3M388 318l0-4M597 325l0-4M617 205l0 3-3 3M482 56l5 0 3-3M385 330l1-3 3-1M628 136l-4-1-3 2M670 351l-4 1-2 2M454 274l3-2 5 1M596 298l-1 4" stroke="#8a8684" stroke-width="1.70" fill="none" stroke-linecap="round" stroke-linejoin="round" marker-mid="url(#hL)" marker-start="url(#hW)" marker-end="url(#hW)"/><path d="M644 121l4 0M604 43l-4-3-3 0M683 255l1 3M468 138l0-4M704 167l-2-2-4 1M473 320l-2-3 1-3M645 298l0 4M599 290l-2 4-2 4M598 158l-5 0-3 0M438 119l-3 0-3-1M566 116l-3 2-4-1M575 83l1 4 0 3M476 61l4-2 3-2M630 153l-1-3M562 323l3 2M519 304l3-1 1-3M543 47l2-3 0-3M528 58l3 0 4 0M655 116l1 2-2 3M455 100l1 3M523 293l-3-1M545 179l-2 3M491 267l-1 4-4 0M645 196l3-1 4 1M697 76l1-5-3-1M558 281l0 4M525 145l-3 2M469 286l-4-2-4 0M476 205l3-2 4 2M435 310l0 3M452 153l3-2M548 268l2 3 4 0M517 135l0 5-2 3M534 300l2-2-1-5M619 85l-2-3-3-3M470 192l-4-2M639 335l-2 3M630 149l-4-3M676 206l-2 2-2 3M648 230l1-3 3-2M561 129l-4-3M487 158l-3 2M453 231l3 0M535 252l4 1M519 75l-3-3-3-3M523 219l4 1M533 300l3 3M393 198l-4 0M446 249l1 3 2 4M697 80l4-1 1-3M515 225l-1-4M642 181l0 5-1 3M616 155l-2 3-2 3M686 161l-2 3 1 4M488 224l-3-2M689 73l4-1M517 293l1 2M510 302l2 1M555 164l-1-4-4 0M716 92l3-2M545 313l3-2M695 294l2 3M701 85l3 1 2 2M683 247l-3 2-4 0M403 279l3-3 3-1M603 65l-4 2M486 211l-4-2M557 318l1-4-1-4M535 302l-1-4-3-3M538 118l3 1M615 96l3-3M686 93l2 3 3 0M547 308l-4-1-1-4M477 280l-4-1M522 199l-2 4-1 3M635 233l-3-3-3 1M691 174l2-2M419 199l-4-2M650 233l3 2M551 301l-4-1M667 147l-3-3M679 113l-4 0M618 89l0 4-4 2M478 70l-4 1-4 2M426 192l0-3-1-3M589 146l-2 3M517 332l-3-2M404 245l2 3M620 202l2 2M553 125l-1 3-3 2M682 254l-2-1-3-3M561 46l-1 4M514 48l-2-4-4-2M436 166l-1 4 0 4M662 331l3-3 0-3M483 320l-3-2M663 161l1 3 2 3M500 138l-2-3M668 231l0-3M448 245l-4-1M550 255l-1 4-3 3M415 251l3-3M633 50l2-4M562 159l-1 3M667 103l3 1M559 330l-1 3-3 1M428 309l0-3 4-2M472 300l-3 3M588 41l-4-1M535 247l1-3M528 308l-3-3-1-3M515 70l4 1M385 214l2 2M465 246l-3 3M424 247l-3 4M530 61l-3-2M555 321l3-1 3 3M522 152l-3-4-4 0M549 92l-1-3 2-3M518 269l3 0M428 198l-4-1M603 40l4-1M390 236l0-3-3-2M666 165l3 3 0 3M527 170l-3-3-1-3M525 265l1 3M474 106l2-4 1-5M613 96l0-3-1-3M561 213l-1-3 1-3M505 43l5 1" stroke="#74706e" stroke-width="1.70" fill="none" stroke-linecap="round" stroke-linejoin="round" marker-mid="url(#cG)" marker-start="url(#oR)" marker-end="url(#oR)"/><path d="M669 79l-3 1M556 290l-2-3-3-2M573 66l-3 0-2-3M507 71l4 0M415 249l0 3 3 3M398 138l4 1M480 266l-1-4-3-2M631 333l-3 2-2 3M515 83l1-4M450 93l3 2 2 3M448 213l-1 3M481 335l0-4M481 266l3 0 5 0M420 285l1 3-2 3M554 163l0 4M540 74l2-3-2-3M546 139l1 4M451 71l-4 1M527 56l3 2 2-2M675 211l-1-4 0-3M412 257l-3-3 0-4M591 136l2-4 2-2M557 56l-3-1M683 142l-1 2-4 2M669 176l-3 1M641 307l1-4M670 34l2-2 0-5M548 317l-4-1-2-2M699 269l-2-3-3 0M469 303l1 3 1 3M496 56l3-1 0-4M620 82l1-3M628 315l3 1 3 0M709 38l3-1 2 4M494 27l-3-2M602 161l4-1 3 2M619 261l3 2 3-1M633 84l-3-1-2-3M404 252l-2 3M502 286l5 1M455 217l4 1 4-1M489 317l-1 4-2 2M429 69l3-2M498 291l1-3M542 44l-3 1M686 330l1-3 2-2M708 90l2 4 2 3M676 205l3 0 3 1M623 323l0-4M472 300l-3-1-5 2M489 56l2-3-1-3M551 147l1 4 2 2M619 211l3 2 0 4M524 295l1-3-3-2M400 179l-4 2-1 3M532 88l0-3 2-3M497 163l4-3M631 129l-2 2M492 154l4 0M532 318l4 2M538 309l2 4M694 264l2-3-1-3M426 144l2-2M645 194l-1 3-3 2M704 255l-1 3M673 105l3 2 0 4M713 142l3 2M522 334l-3-4M565 47l3 1M575 336l3-2 3-1M562 289l4-1M463 120l-3 0-2 4M398 337l2-2M536 322l2 4M478 191l-3 0-3-1M397 49l-2-3-2-3M411 129l-2-3-1-3M401 35l-2 3 1 4M591 298l-2-1M538 267l0-3M694 176l-4 0-2 2M703 132l-3 0M502 121l5 0 2 3M640 241l0-3M557 82l3 3 4 2M422 157l-2 3 1 4M433 339l-3 2-3 0M464 319l-3 3 1 4M543 240l-1 3-2 3M467 104l-1 3M650 179l1 4M604 160l-1-3M484 221l2 3M505 62l1 4 0 3M515 234l1 3M395 197l0-4 1-4M455 286l-1-3M674 284l-3 1-4 0M477 321l-2-3M509 195l-3-3M686 146l-5 0-3 0M423 239l-4-2M485 299l-1 2-3 3M553 302l-4-1-4-3M711 132l4-1 2-2" stroke="#7a7474" stroke-width="1.70" fill="none" stroke-linecap="round" stroke-linejoin="round" marker-mid="url(#oP)" marker-start="url(#hW)" marker-end="url(#hW)"/><path d="M471 269h0M492 284h0M516 282h0M463 294h0M477 295h0M479 297h0M487 298h0M499 295h0M466 307h0M467 302h0M468 303h0M468 309h0M477 303h0M487 309h0M528 308h0M534 309h0M541 305h0M517 316h0M449 327h0M507 322h0M454 333h0M499 335h0M528 337h0M538 334h0M461 346h0M472 342h0M481 346h0M484 350h0" stroke="#3cc0a0" stroke-width="4.00" fill="none" stroke-linecap="round"/><path d="M468 18h0M399 24h0M404 21h0M408 23h0M425 25h0M426 27h0M438 23h0M446 28h0M468 20h0M480 29h0M490 26h0M522 20h0M522 29h0M539 28h0M603 27h0M683 21h0M411 36h0M422 37h0M446 38h0M449 35h0M449 34h0M450 36h0M452 34h0M454 39h0M461 32h0M470 32h0M477 34h0M502 37h0M505 33h0M506 36h0M520 33h0M520 37h0M524 38h0M550 38h0M591 39h0M599 35h0M601 38h0M612 35h0M653 38h0M663 33h0M672 38h0M673 38h0M686 35h0M689 39h0M406 40h0M406 42h0M450 44h0M451 45h0M462 45h0M472 46h0M487 43h0M497 40h0M502 43h0M506 47h0M516 45h0M535 49h0M537 42h0M539 47h0M539 42h0M549 47h0M557 48h0M561 45h0M571 49h0M603 45h0M614 46h0M656 42h0M660 49h0M668 49h0M670 47h0M691 45h0M705 40h0M707 44h0M710 45h0M712 40h0M444 54h0M444 58h0M457 57h0M466 57h0M499 51h0M499 54h0M502 50h0M504 51h0M508 51h0M510 57h0M519 52h0M525 50h0M528 56h0M534 59h0M551 55h0M552 59h0M566 52h0M569 56h0M579 50h0M590 57h0M604 58h0M607 54h0M611 50h0M614 57h0M617 57h0M622 51h0M631 52h0M663 56h0M670 56h0M671 56h0M679 54h0M710 58h0M399 66h0M399 67h0M413 69h0M431 63h0M436 61h0M438 69h0M438 64h0M448 64h0M457 67h0M464 65h0M470 62h0M477 65h0M483 67h0M484 66h0M485 64h0M497 68h0M503 68h0M509 63h0M511 63h0M514 65h0M522 69h0M533 66h0M536 62h0M538 60h0M548 61h0M558 61h0M567 66h0M569 66h0M583 62h0M590 61h0M603 66h0M605 67h0M612 65h0M614 69h0M630 66h0M659 60h0M666 60h0M673 68h0M705 64h0M715 67h0M384 70h0M391 79h0M398 79h0M417 79h0M448 70h0M463 74h0M464 79h0M465 72h0M469 79h0M492 77h0M504 72h0M514 78h0M535 73h0M540 79h0M546 79h0M601 70h0M602 72h0M613 78h0M641 72h0M642 78h0M646 75h0M674 79h0M674 76h0M678 77h0M679 72h0M696 75h0M398 83h0M400 86h0M409 82h0M416 80h0M428 87h0M453 89h0M469 85h0M472 82h0M519 82h0M523 82h0M524 89h0M538 83h0M541 83h0M543 83h0M544 82h0M553 87h0M572 86h0M573 86h0M603 87h0M614 88h0M641 80h0M650 89h0M664 85h0M681 84h0M699 89h0M399 91h0M462 93h0M463 92h0M463 94h0M467 94h0M477 99h0M485 92h0M499 92h0M504 99h0M508 98h0M519 99h0M524 91h0M530 97h0M530 92h0M547 94h0M562 96h0M562 90h0M563 90h0M566 93h0M581 92h0M607 90h0M622 97h0M624 96h0M629 97h0M630 91h0M632 96h0M633 98h0M647 90h0M653 94h0M653 91h0M660 96h0M664 97h0M666 92h0M667 92h0M685 93h0M687 92h0M688 98h0M697 98h0M703 95h0M713 91h0M411 100h0M429 108h0M429 103h0M429 107h0M446 107h0M451 104h0M451 108h0M454 104h0M456 106h0M460 104h0M461 105h0M462 106h0M468 103h0M470 109h0M473 109h0M500 107h0M507 105h0M508 100h0M580 100h0M595 102h0M611 109h0M617 102h0M617 108h0M625 109h0M639 106h0M653 102h0M658 109h0M660 103h0M661 109h0M386 119h0M387 118h0M414 116h0M430 115h0M447 112h0M455 111h0M456 112h0M471 110h0M475 119h0M492 118h0M496 113h0M536 114h0M550 117h0M562 119h0M563 115h0M565 115h0M567 111h0M580 116h0M586 119h0M628 115h0M631 115h0M632 116h0M635 114h0M639 114h0M645 115h0M647 110h0M650 119h0M662 111h0M676 114h0M680 112h0M693 119h0M698 115h0M703 117h0M706 110h0M710 115h0M404 124h0M447 123h0M449 126h0M460 129h0M462 123h0M462 126h0M495 129h0M511 126h0M530 125h0M538 125h0M559 129h0M566 121h0M569 120h0M572 123h0M572 120h0M573 123h0M574 121h0M578 124h0M613 129h0M624 125h0M640 120h0M642 123h0M644 124h0M652 124h0M656 128h0M661 126h0M664 125h0M675 126h0M687 128h0M694 129h0M716 129h0M389 139h0M418 135h0M418 137h0M422 137h0M425 135h0M437 134h0M470 135h0M471 132h0M486 138h0M503 139h0M520 132h0M532 132h0M543 136h0M569 131h0M569 130h0M588 131h0M599 137h0M605 139h0M612 136h0M616 132h0M628 138h0M628 133h0M634 130h0M636 138h0M638 139h0M644 130h0M661 136h0M661 138h0M694 139h0M701 139h0M706 130h0M707 131h0M713 136h0M389 145h0M390 142h0M397 140h0M418 142h0M430 142h0M432 145h0M440 140h0M455 148h0M467 141h0M487 146h0M490 149h0M501 146h0M502 147h0M507 145h0M511 143h0M566 146h0M581 143h0M588 148h0M594 145h0M618 145h0M623 144h0M626 148h0M631 146h0M656 143h0M657 148h0M673 145h0M683 146h0M702 142h0M396 158h0M396 155h0M424 159h0M428 155h0M435 150h0M440 153h0M445 156h0M451 154h0M453 155h0M455 150h0M460 156h0M487 156h0M489 158h0M491 153h0M495 150h0M501 152h0M523 151h0M523 154h0M529 153h0M561 159h0M564 157h0M567 156h0M571 153h0M577 152h0M614 157h0M624 154h0M626 156h0M626 151h0M656 156h0M659 151h0M662 158h0M667 152h0M682 152h0M686 156h0M692 155h0M695 159h0M401 166h0M403 166h0M410 161h0M410 165h0M421 160h0M422 166h0M437 160h0M462 160h0M465 160h0M485 162h0M489 169h0M491 167h0M499 162h0M514 163h0M520 169h0M523 168h0M543 162h0M548 161h0M566 166h0M574 164h0M583 167h0M584 168h0M599 160h0M607 161h0M620 165h0M687 164h0M705 164h0M384 177h0M402 177h0M406 177h0M407 172h0M412 178h0M416 175h0M416 179h0M421 176h0M428 179h0M443 174h0M452 177h0M477 172h0M478 176h0M501 173h0M511 175h0M517 177h0M520 177h0M521 175h0M540 172h0M540 176h0M552 177h0M554 177h0M567 171h0M576 175h0M584 171h0M586 177h0M587 176h0M590 170h0M599 170h0M603 179h0M605 173h0M624 179h0M651 177h0M655 173h0M657 171h0M662 172h0M663 170h0M676 174h0M686 171h0M697 177h0M699 173h0M700 178h0M710 173h0M386 180h0M405 186h0M416 189h0M419 183h0M441 182h0M453 188h0M454 183h0M457 189h0M465 188h0M466 185h0M492 182h0M528 186h0M531 187h0M533 188h0M554 182h0M567 187h0M567 182h0M574 187h0M575 185h0M575 180h0M582 186h0M583 180h0M583 189h0M584 184h0M597 187h0M607 188h0M625 181h0M628 183h0M651 185h0M657 185h0M668 182h0M681 180h0M698 183h0M705 187h0M390 197h0M402 195h0M407 190h0M415 196h0M415 191h0M426 194h0M459 198h0M460 190h0M474 193h0M478 193h0M483 190h0M538 191h0M545 191h0M555 191h0M557 197h0M558 199h0M568 194h0M574 193h0M582 197h0M591 193h0M593 190h0M595 199h0M599 191h0M607 197h0M608 198h0M613 195h0M613 199h0M641 199h0M650 193h0M652 191h0M665 198h0M668 197h0M669 190h0M679 196h0M683 199h0M690 190h0M717 199h0M390 204h0M395 206h0M400 202h0M411 208h0M412 202h0M418 200h0M420 203h0M421 202h0M446 207h0M452 203h0M457 208h0M461 207h0M464 200h0M494 205h0M499 208h0M504 203h0M506 208h0M507 205h0M527 203h0M533 207h0M549 205h0M549 206h0M550 206h0M557 203h0M570 209h0M584 207h0M592 205h0M594 206h0M600 207h0M602 209h0M606 202h0M607 206h0M609 209h0M615 204h0M619 207h0M621 204h0M652 208h0M659 207h0M662 203h0M677 200h0M677 207h0M678 202h0M705 202h0M712 201h0M400 214h0M416 214h0M421 219h0M445 212h0M450 210h0M452 214h0M453 216h0M456 217h0M460 215h0M469 210h0M480 212h0M484 210h0M509 216h0M513 217h0M517 214h0M521 215h0M524 210h0M530 215h0M538 219h0M550 212h0M572 210h0M573 218h0M582 213h0M583 218h0M609 211h0M614 215h0M666 215h0M667 219h0M669 212h0M669 216h0M703 216h0M380 222h0M386 221h0M391 224h0M392 226h0M406 225h0M427 223h0M434 222h0M436 226h0M440 226h0M466 227h0M482 222h0M483 224h0M484 220h0M500 224h0M516 224h0M523 227h0M553 228h0M563 224h0M573 222h0M593 221h0M610 224h0M612 223h0M613 226h0M617 229h0M642 227h0M650 224h0M664 223h0M682 229h0M688 223h0M700 224h0M704 220h0M712 225h0M719 226h0M382 236h0M393 236h0M400 237h0M416 237h0M424 231h0M444 237h0M462 238h0M470 239h0M472 232h0M476 234h0M486 237h0M498 235h0M513 233h0M519 237h0M523 230h0M552 238h0M556 238h0M572 239h0M601 232h0M603 234h0M613 231h0M614 238h0M640 238h0M648 239h0M649 239h0M662 232h0M677 238h0M705 237h0M394 248h0M407 246h0M416 248h0M419 240h0M430 242h0M431 246h0M433 248h0M435 241h0M453 247h0M459 246h0M479 240h0M480 248h0M504 241h0M511 246h0M542 242h0M543 240h0M545 241h0M571 245h0M572 242h0M573 246h0M589 245h0M607 249h0M615 246h0M620 248h0M625 241h0M630 245h0M636 248h0M637 242h0M641 245h0M667 249h0M667 245h0M682 241h0M686 244h0M697 247h0M701 242h0M706 243h0M414 250h0M416 259h0M432 250h0M432 254h0M439 252h0M452 253h0M461 256h0M462 254h0M469 258h0M479 250h0M480 256h0M498 255h0M504 251h0M510 257h0M530 257h0M537 256h0M538 255h0M540 250h0M548 253h0M550 252h0M562 251h0M569 258h0M571 254h0M585 255h0M597 250h0M599 258h0M604 258h0M604 256h0M606 252h0M606 258h0M623 256h0M671 253h0M675 258h0M696 257h0M383 260h0M390 266h0M392 261h0M393 268h0M404 261h0M413 265h0M421 267h0M421 261h0M423 267h0M429 269h0M443 269h0M450 260h0M455 265h0M457 269h0M458 269h0M458 261h0M461 266h0M464 264h0M467 260h0M474 265h0M477 269h0M497 268h0M501 267h0M507 269h0M510 266h0M511 261h0M514 264h0M519 266h0M520 267h0M532 268h0M541 267h0M542 265h0M545 266h0M558 265h0M560 269h0M598 265h0M608 268h0M610 263h0M621 260h0M633 262h0M673 264h0M682 263h0M687 263h0M404 271h0M426 276h0M432 270h0M443 276h0M446 270h0M449 272h0M450 279h0M461 273h0M465 278h0M479 279h0M498 279h0M499 275h0M522 271h0M525 278h0M555 271h0M564 278h0M578 273h0M606 271h0M622 276h0M626 277h0M632 273h0M646 270h0M647 270h0M653 275h0M654 271h0M660 272h0M666 271h0M670 277h0M684 279h0M686 278h0M691 270h0M418 287h0M433 284h0M437 288h0M459 285h0M467 281h0M478 284h0M478 287h0M481 289h0M495 285h0M502 288h0M527 285h0M550 286h0M558 285h0M570 286h0M573 281h0M574 289h0M621 287h0M630 282h0M652 280h0M657 288h0M660 289h0M678 289h0M678 287h0M686 284h0M687 289h0M697 283h0M698 286h0M702 287h0M706 289h0M716 282h0M412 293h0M431 290h0M441 291h0M459 294h0M479 295h0M481 297h0M492 298h0M499 291h0M507 295h0M524 299h0M535 296h0M542 298h0M551 297h0M551 291h0M551 295h0M553 299h0M560 297h0M561 293h0M563 290h0M567 297h0M572 295h0M572 294h0M577 292h0M582 299h0M584 293h0M587 297h0M603 296h0M604 291h0M605 292h0M605 296h0M606 294h0M611 292h0M619 291h0M629 296h0M630 299h0M633 290h0M636 298h0M636 291h0M661 294h0M670 294h0M673 292h0M674 298h0M689 299h0M696 298h0M392 307h0M404 301h0M404 300h0M405 309h0M414 308h0M436 304h0M436 303h0M442 309h0M470 303h0M470 305h0M473 304h0M492 305h0M494 308h0M497 308h0M503 302h0M505 303h0M507 300h0M507 304h0M510 305h0M530 306h0M531 302h0M536 302h0M537 302h0M540 303h0M549 307h0M550 305h0M562 309h0M569 303h0M579 304h0M581 302h0M586 309h0M593 301h0M597 300h0M655 304h0M662 302h0M668 306h0M670 302h0M411 315h0M426 312h0M427 315h0M444 313h0M445 312h0M446 314h0M467 319h0M479 316h0M484 311h0M486 318h0M488 318h0M493 315h0M494 310h0M494 319h0M495 312h0M495 311h0M498 315h0M507 319h0M524 312h0M527 318h0M528 310h0M532 310h0M536 319h0M546 312h0M557 310h0M576 313h0M584 317h0M588 312h0M589 311h0M607 319h0M618 316h0M629 311h0M630 318h0M677 316h0M686 318h0M687 319h0M691 316h0M395 327h0M400 327h0M425 327h0M473 320h0M476 321h0M487 328h0M500 320h0M527 320h0M532 323h0M543 322h0M550 325h0M558 327h0M563 325h0M574 327h0M576 323h0M577 329h0M594 325h0M617 325h0M618 327h0M629 320h0M634 328h0M649 324h0M654 325h0M655 323h0M656 322h0M678 326h0M684 329h0M687 325h0M689 323h0M696 326h0M388 338h0M394 334h0M399 339h0M414 339h0M427 335h0M432 335h0M434 338h0M437 335h0M450 333h0M456 336h0M457 333h0M460 339h0M469 332h0M481 336h0M483 330h0M497 334h0M500 330h0M525 330h0M526 332h0M535 332h0M540 332h0M543 335h0M547 330h0M550 330h0M552 337h0M577 331h0M578 335h0M579 332h0M580 331h0M593 333h0M599 332h0M601 333h0M624 335h0M629 337h0M629 338h0M652 330h0M656 335h0M657 339h0M661 337h0M680 333h0M704 337h0M381 343h0M392 340h0M396 340h0M419 340h0M427 343h0M430 349h0M435 346h0M439 342h0M451 340h0M458 343h0M493 340h0M505 340h0M535 340h0M549 343h0M561 342h0M564 342h0M592 341h0M597 347h0M606 345h0M632 347h0M632 340h0M649 340h0M663 348h0M698 341h0M710 341h0M582 351h0" stroke="#4a302a" stroke-width="2.40" fill="none" stroke-linecap="round"/><path d="M592 19h0M467 22h0M496 29h0M508 27h0M446 34h0M449 34h0M454 39h0M459 34h0M529 33h0M556 35h0M600 35h0M417 47h0M523 42h0M618 44h0M405 55h0M481 54h0M556 56h0M594 58h0M648 58h0M497 63h0M652 69h0M387 78h0M431 78h0M458 72h0M465 89h0M494 87h0M594 83h0M625 82h0M399 97h0M462 95h0M471 93h0M632 98h0M657 91h0M663 90h0M511 103h0M625 103h0M630 103h0M670 106h0M458 118h0M625 110h0M399 127h0M449 126h0M702 125h0M518 132h0M535 130h0M558 131h0M456 140h0M514 144h0M517 149h0M520 141h0M530 146h0M656 145h0M664 140h0M664 141h0M484 156h0M599 158h0M602 151h0M614 150h0M635 151h0M667 158h0M488 165h0M501 165h0M503 164h0M663 167h0M664 169h0M678 160h0M448 175h0M494 171h0M516 170h0M655 173h0M668 172h0M693 176h0M408 187h0M544 184h0M667 181h0M697 183h0M700 185h0M396 195h0M454 195h0M465 190h0M595 196h0M672 192h0M447 207h0M512 206h0M599 201h0M609 201h0M612 205h0M619 201h0M653 203h0M668 202h0M671 208h0M466 217h0M508 219h0M561 210h0M663 212h0M400 228h0M416 226h0M478 225h0M520 228h0M619 227h0M641 223h0M673 222h0M706 221h0M492 232h0M556 234h0M648 238h0M657 230h0M589 249h0M614 242h0M620 240h0M667 243h0M675 246h0M483 254h0M486 251h0M493 251h0M498 259h0M499 259h0M531 251h0M602 254h0M688 254h0M397 268h0M481 268h0M697 262h0M437 279h0M439 273h0M648 272h0M428 280h0M459 288h0M651 284h0M487 298h0M512 290h0M655 291h0M667 299h0M686 295h0M686 294h0M462 302h0M526 305h0M541 302h0M555 309h0M453 310h0M477 329h0M497 327h0M498 326h0M586 329h0M676 325h0M428 335h0M429 331h0M447 332h0M520 339h0M521 335h0M564 335h0M599 334h0M659 332h0M455 348h0M474 340h0M488 346h0M582 347h0M598 343h0M610 346h0M639 345h0" stroke="#e07898" stroke-width="3.00" fill="none" stroke-linecap="round"/><path d="M421 20h0M453 36h0M530 48h0M560 41h0M675 46h0M695 42h0M415 61h0M437 67h0M460 69h0M490 63h0M543 65h0M554 65h0M652 67h0M396 79h0M508 73h0M557 76h0M644 70h0M678 71h0M468 85h0M538 86h0M523 92h0M626 96h0M626 93h0M658 107h0M496 112h0M667 117h0M694 115h0M417 126h0M566 123h0M622 123h0M638 121h0M649 120h0M478 133h0M517 137h0M622 130h0M678 133h0M459 148h0M584 146h0M656 144h0M700 141h0M423 156h0M461 158h0M599 150h0M610 150h0M386 162h0M544 169h0M575 168h0M658 169h0M555 172h0M559 176h0M587 189h0M590 181h0M703 188h0M464 194h0M548 197h0M688 191h0M540 209h0M564 207h0M587 209h0M605 201h0M607 209h0M609 207h0M616 201h0M662 202h0M712 203h0M424 218h0M489 219h0M540 213h0M571 214h0M608 210h0M479 227h0M485 222h0M511 227h0M518 224h0M521 220h0M476 239h0M527 236h0M615 230h0M621 231h0M499 241h0M505 248h0M575 245h0M597 249h0M626 246h0M629 246h0M666 242h0M452 255h0M494 259h0M675 254h0M693 255h0M525 263h0M582 266h0M661 269h0M454 273h0M481 270h0M639 279h0M476 282h0M477 282h0M509 288h0M543 280h0M590 289h0M658 289h0M698 281h0M507 291h0M528 297h0M557 295h0M572 291h0M599 297h0M601 299h0M672 293h0M689 299h0M695 292h0M465 304h0M502 303h0M590 305h0M600 305h0M678 300h0M585 316h0M543 332h0M565 337h0M567 339h0M591 336h0M599 333h0M617 335h0M646 338h0" stroke="#5e54a8" stroke-width="8.40" fill="none" stroke-linecap="round"/></g>
<path d="M368.8 5.8H543.4V179.6H368.8Z" fill="none" stroke="#d4d4d4" stroke-width="1.1"/><path d="M368.8 5.8L378 15M543.4 5.8L534.2 15M368.8 179.6L377 171.4M543.4 179.6L534.2 170.4" fill="none" stroke="#dcdcdc" stroke-width="0.8"/>

<g transform="scale(.5)" filter="url(#sb)"><path d="M810 48l3-3M877 297l-3-2-3 2M896 136l-3-4 0-3M885 56l3-1 0-5M948 111l3 2 3 0M930 64l4 1 3-3M900 320l3 1 3 2M896 94l3-3M933 303l4 1M996 240l3-2M1056 43l-1 3M898 289l0 3-2 3M1002 160l-2 3-4 0M798 56l3-1M854 191l2 4M1011 183l3-1M865 299l0-4M820 114l-4 2M797 190l2 2M774 144l-2-2-1-3M944 303l-2 3-3 3M954 148l-3 0-4-1M810 298l-2 0-4 0M814 87l-4 0-2-1M1005 194l3 0 2 3M811 209l3-2M1034 70l-4 1-3-2M1020 59l0-3-2-1M812 44l-2-1M962 237l3-1M1047 305l-3 4-3 2M862 230l4-1 4 2M942 278l-2-2-2-3M979 314l1 4M924 80l3 2M853 256l-1 3-3 4M836 224l-3 4M778 282l-4-1-3 0M844 242l4 0M1006 168l-3 1M815 252l-3 1-2 3M937 233l1 3 2 4M904 298l4-2M782 206l0 4 2 4M909 167l4 0 4 3M860 223l-4-1M930 61l-2 3M829 130l2 3M810 277l3-3M779 87l1-5-2-2M1056 202l-3-2-2-4M790 312l-3 3M1049 217l-5 1-3 3M918 171l3-2 3-1M864 68l1-5M858 179l-4-1M774 214l-1-4-2-2M818 182l-1-3M859 171l3-2 5 1M806 197l-3-1M866 81l0 4M1023 37l-1-3-3 0M800 193l2 3 3 1M990 262l2 2M1056 44l-1-4M953 283l-3 2M1040 178l0-4 1-4M933 148l-2-4 3-3M966 142l2-2M850 284l3 2 1 4M781 62l3 3M912 190l3-2 3-3M810 186l0-4 1-4M961 288l-2 2M924 255l-3 2-3 2M842 127l0-3M1038 277l-1-4M1014 95l3 0M915 292l-2 0M935 137l-1 4-3 3M887 256l-2 2M819 51l3-1 3-3M827 323l4-3M974 120l1 3-1 4M786 252l1-4M1038 118l-4 0-2 2M843 40l-4-1-4-1M904 112l-2-3-2-3M1024 126l1 3M842 80l-3-1-4 0M1009 97l3-2-1-3M914 111l-3 2-2 3M925 228l-4 0-3-3M847 168l-2-2M996 44l3-3M944 179l3-1 3-3M983 229l3-3M943 236l2 4M876 168l4 2 3-3M882 275l-4 2-3 0M1052 202l-3 1M826 311l-4 0-2 3M968 251l3 2 3-1M945 74l-3-3M927 311l3-3-2-4M1030 172l-3-3M880 115l-3 2 0 5M824 75l1 4M877 290l1-3M1022 109l2-3-1-4M938 118l3-4M1006 160l-2 3M994 255l-2 2M953 200l-3-2-4 0M1018 184l1 5 1 4M918 217l-3-3-3-2M1009 58l-2-4 1-3M1006 140l3 2M840 149l1 3M907 165l1-4M936 135l4 2M1037 314l0 3M898 110l0 5M840 129l-3 2 0 3M929 177l4 3M844 103l-2-4 1-4M772 103l1-5M976 242l2-2M959 228l-1 4M895 269l-2-2M819 276l-4-1-3-1M967 282l3-2 3 2M1014 240l-4 1-3 3M834 66l0 3-1 3M884 103l-3 0-3-1M814 190l-3 4M1056 234l-1 3 2 3M917 304l1-3M896 95l-3-3-4-1M856 101l-1-3M1022 304l2 4 0 4M986 303l-4-1-4 0M971 186l2 2 3 1M874 178l0 4M891 113l-2 4 0 4M929 157l-2-4-4 1M961 166l-4 1M1030 47l1 3M840 205l0-4 0-2M897 103l1-4M1051 289l-4 0M825 48l3-3 4 0M1055 311l-5 0-3-1M917 224l-1 4 0 4M939 128l2-2M920 131l3 2 2 3M899 119l-1-3M839 94l4 0M978 171l-5-1-1-4M921 135l-3 1-4 0M862 209l2-3M1058 304l-3-3-3-2M880 68l-4 3-3 2M980 253l1 3M1033 102l0 3M944 281l2 3M779 101l1-4-1-3M860 169l4-1M1027 134l-2-3-1-3M963 296l1-4M877 147l-2-2M944 80l3-1 1-4M841 273l3 2 3 1M985 118l0 3-1 4M1044 89l1 3M807 173l3-1 2-4M872 236l2 2M1052 76l1-3 4-2M978 205l-2-3M858 189l-2-2M940 192l1 5 0 2M884 160l-4 1M882 138l3-1 4 0M840 101l4 2M955 316l0-4M988 285l4 1M786 59l-3 2M899 126l-3-3M833 255l-2 2M806 270l2-4 4 1M968 257l4 1M783 308l0 3M984 83l1 2-2 3M1004 182l-2 3-2 2M866 303l4 0M830 296l2-3 3 0M1051 123l4 2 2 4M1031 174l-3-4-2 1M995 84l-3 3M933 322l-1-2M908 188l-1-3-5 0M897 159l-2-3M1049 304l-3 2-4 0M907 201l4-1M1029 166l-3-1-1-4M911 66l-3 2-2 2M990 258l-1-4M845 44l3-1M997 133l-1-3-2-1M976 214l1 2M1033 117l2 1M792 283l-2-4M803 153l-4 1-3 3M821 90l3 4 3 0M975 177l-1 4 3 3M912 199l4 2 4 0M866 204l-1 3-4 1M968 150l2 3M975 207l-3-2-3-2M785 170l-4 2M887 308l2-4 1-3M837 79l2-2M1037 51l-3-3-4 2M1004 84l-3 0M1022 264l-2 3M1020 226l-1-3-3-1M1031 229l2 4M1001 203l3 3M835 215l-4-1M1027 160l2 3M1031 77l-3 2-3-1M921 98l-1-2 2-3M878 80l1 4-2 3M810 88l2 3M980 130l0-3 2-3M869 183l2-3M938 266l3 0 1 3M803 179l-3-3-1-4M932 157l-1-3 2-3M810 133l0-4M793 81l-3-1M913 106l1 3M849 159l1-4-3-3M894 115l3 2 4-2M863 208l2 2 4 3M1038 318l0 4-2 2M978 180l-3-4M795 116l-1 3M909 38l-2-3M963 252l-3-2M968 132l5-1M1050 228l-3-3M1024 219l-3 3M847 188l-1-4M1051 156l-3 3-4 3M780 209l3 3 1 3M898 301l3 2 3 2M1056 268l-2-4-4-2M989 154l-4 0-1 3M904 110l2-3 4-1M855 268l0 3M963 271l-3 3M1014 289l4-1M1024 226l3 3M767 145l-2-3M923 220l-2-2-2-4M1046 96l5 1 1 4M928 154l-3 1M1033 242l-4 0M1058 141l3 1M1045 176l1 3 2 4M1017 121l-3 2-2 4M929 307l2 2M991 254l2 4M803 208l-3 1-2 3M903 90l1 3M998 184l-4-2-4 1M1016 53l0-3-4-2M853 130l3-2M1048 293l-1 4M988 178l-2-4M929 232l-4 0M871 143l-1-4M908 91l-2 4M771 218l3-1 4 0M908 52l-3-1M838 115l-3-2-3-3M821 247l1 3M887 57l-3-1-4-2M931 166l-3-2-3 3M1022 127l-1-4-2-3M886 111l0-4-3-2M896 217l1-3 3-3M814 98l-3 2M843 260l-2-3-1-4M1032 203l-1-3M800 87l-2-2M846 316l-3 1 0 4M890 115l3 2M850 91l-5 1-3-1M997 179l2-1M943 245l-2 3M973 142l-1 3M884 152l-1 3M868 89l-5 0-3-2M1024 180l3 2M828 271l3-1 4 0M796 189l0-4M990 290l-2-3M821 240l-1 4-3 1M902 284l0-4 3-2M797 272l-3 3M859 295l-4-2M902 135l-1 3 2 2M858 316l-2-2-3-1M829 213l-3 2-2 4M775 302l3 3-1 4M788 284l-3 3M927 56l-3 1M1045 76l2-4 1-2M983 92l2 3 1 4M923 160l-3 2M919 296l4-2 2-3M909 142l-3-2M974 236l1-4 1-4M789 146l-4 2-1 3M802 307l2-2M868 287l4-1M808 109l3 0 2-3M888 40l5 0 4 0M918 321l0 4-1 3M931 170l4 1 1 3M1045 128l-3-2M957 165l-3 3M1030 178l0-5M774 272l4-1 3 2M1002 144l4 2M810 145l-3 3-3 3M957 211l2-3M1047 77l-1 3 3 3M864 295l3-1 4-2M825 45l-2-3-1-3M936 162l-5 2-3 1M874 303l-3-1-4 0M927 324l-1-3M941 150l4-2 3-2M870 112l3-1M1005 114l3 1M845 179l-3-1M1007 223l-4-1-3 3M993 137l1-4-3-4M993 126l2-4M1051 148l2-3-3-4M847 59l-2-2-1-5M904 102l-2 4-4 2M1025 148l-1 3-3 4M917 96l-1-2-1-5M964 275l4 1 1 3M1003 60l4 0 2-2M1028 187l-4-2M896 123l1-4M820 124l3-2 3-1M828 65l-4 1 0 4M939 61l-2 2-3 2M828 110l-1-3-3-2M976 273l3-4 2-1M874 118l3 0M810 142l0-4M933 206l4-2 3 1M837 214l-3 2M996 194l0 4 1 3M790 105l-3 1M791 62l-3 2-1 4M908 187l1 3-2 3M982 157l-2-3-3-3M1029 106l-3 0M1051 248l-1 3-1 3M820 127l4 1 2 2M990 117l4-1 5-1M903 58l-2-3M1057 41l-3 2M989 271l1-4 1-5M864 290l4-1 3 3M974 300l-3 2-2 3M925 160l-2 2M1001 87l3-1M1020 239l0-4M837 268l2-2M976 109l-2-2 1-5M780 101l-4-1-4 0M823 87l2 3-1 4M851 64l2-3 0-4M1026 145l-3 0M937 127l0 4-2 3M783 94l-3-3M979 206l3 2 0 4M903 96l-2 3M923 70l3-2M899 59l-1 4 0 3M848 122l2 4 4 3M775 310l-1 4M776 206l0 4 4 2M840 111l-4-1-4 0M1047 303l-3-2M1001 215l0-4M793 201l-2 2M1033 108l4-1M882 158l0-4M774 195l-3 1M955 302l-3 0-1 4M1021 53l-4 1M1048 223l-2 3M928 269l-3 1-4 1M957 152l3 3M855 94l4-2 4 0M815 75l2-3M1017 247l-4-2-4 2M1040 73l-3 3-1 4M859 209l-3-2M1022 266l0-3-2-4M1057 287l1-4M788 48l3-1 5 1M988 143l2-3 2-3M1039 293l3-3 4-2M954 238l2 4-1 3M943 145l-2 4M801 243l-5-1-4-2M1047 211l-2-4M882 185l3 0 2 4M997 202l3-1 3 0M826 62l-1 4-4 1M855 157l4 2 4-1M1019 195l-2 2-2 2M994 236l2-3 3 1M906 214l-2 3-4 0M1050 97l4 1M822 65l-2-4M896 60l1 3M906 222l0-3 2-2M1057 311l-2-3 0-4M1041 220l-3-4M860 95l4 3 3-2M872 146l0 3 2 3M1049 106l-3 2 1 5M1034 224l-1-2-1-4M915 91l4-1M894 131l3-1 3 3M983 193l-3-3 2-4M950 81l4 2M906 315l-1-4-4-1M815 262l-3 3-2 2M1055 291l2 3M958 189l-1 3M951 138l-2 3-3 1M991 191l3 2 3 2M786 317l3 2 3 1M864 290l4 2M793 70l-3 3-2 3M923 312l1-3M889 46l-3 4-2 2M810 217l1-3M872 110l-1-3M974 243l-3-2M814 124l-4 0M935 171l-2 3-2 1M926 162l-3 1M850 140l2 2M774 224l-2-4-3-3M878 232l-4-1-4 2M996 278l-3 3-3 3M883 279l2-3M914 161l1 3 4 2M817 328l4-2M771 173l-1-3M908 312l3 1M948 118l-1 3-4 1M819 293l0 5M873 46l4-2 1-3M851 259l4-2M1026 46l-3-3-3-1M909 136l4-2M1033 46l-4-1M985 146l0 3M770 225l4 0M818 130l0-4M815 120l-1-2M1050 142l1-4 0-4M938 206l-2-3M1012 249l-4-1M908 284l-1-4M880 219l-3-1M942 140l-1-5M1037 154l1-2M768 138l1-5-2-2M1004 45l3 0 4 2M838 45l2-3M838 181l-4 3-3 0M1029 190l-3-1M876 309l-2 2M938 248l1-4M791 185l-2 3 2 4M966 257l2 2 2 4M821 299l-2-3-2-2M871 113l-3 2M819 238l4 1M1042 135l4 0M1053 53l3 2 0 3M970 211l-3 2 0 5M868 86l3-2M808 195l3-4 3-3M933 279l2 3M873 274l-2-2-4 0M799 74l-1 4M882 199l3-3M804 185l4-1M908 263l2-4M974 84l-3-2 0-5M902 160l3 1M836 220l-4 0-4 0M1004 158l-3-3-1-4M1042 83l-3 2 0 4M957 299l-4-1-2-3M912 224l-3 3 0 3M1005 142l1 3M968 82l-3 1-2 4M867 299l-3 3-2 2M816 87l1 3-3 2M891 268l5-1M907 273l2 4-2 3M1061 221l3 2 1 4M919 131l-3 2M987 150l0 4M804 119l-3 3M882 92l-3 1-3 1M1031 264l-4 2M1031 165l-1-3M910 284l3 3M1033 140l-4-1M866 254l-3-3 0-3M1000 120l3-1M849 134l-3-4M876 193l2-3M814 292l-4 2M814 70l4 2 3-2M903 173l1-4M984 193l2-2 3-2M992 204l-3 2M877 182l4 2 4-1M885 199l-1-4-2-4M926 168l0 2M1061 34l4 0M971 303l-1 3M864 50l3 1M1033 87l-1 4M1020 54l0 2M815 258l-2-2M840 159l-3-2M983 143l-2 3M865 110l-1-4-4-1M878 290l0 4M1001 255l2 3-3 3M922 227l-3 0M877 106l1 3M966 272l3-1M811 244l4 0M801 263l-2-2-3-1M1054 147l3-1 3 3M937 211l-4-2M990 297l4 0M951 66l0-3M836 49l-1-3 3-2M941 44l-3 0-1-3M1053 44l-3 1M803 134l3-2M885 138l-2 3 0 4M877 145l-1-3M870 243l3 1M789 119l-2-3M832 96l5 1 2 2M898 45l4-1 3-2M1002 277l-4-2-1-3M804 237l-3 2-1 4M964 113l-4-1M839 79l-5-2M998 160l-4-1M840 155l1 3M882 298l-1-3-2-1M1021 246l4 1M915 311l-1-4M1013 174l-1 3M803 66l-3-2M998 188l-3-2M1022 245l-5 2-4-2M1000 53l-2-2M817 126l0-3M962 238l1-4 1-3M802 51l3-2 3-1M891 133l-4-2M866 118l-3-1-3 2M1048 80l4 2M779 125l-1 3M817 68l-1 4M818 152l1-4 1-4M1022 93l4 1M1031 310l3 1M844 156l-2 2M806 288l-2 3 2 3M788 88l0-3M1020 314l-4 3M1058 193l4 2M1032 186l4 0 3-2M935 94l3 1 3 1M862 198l3-3-3-4M979 293l-2-3-3-2M885 225l-3 0-3 0M896 324l2 4M923 162l2 3 0 4M971 109l1 4M951 190l4-1M842 241l0-3-2-2M800 262l1 3 2 4M968 64l-3 1-3-3M785 126l0-4M891 208l3-2M875 123l0-4-1-3M973 80l3 3 4-1M958 94l-4 1M937 172l-3-4M994 102l-3-1M785 65l2-1M934 141l1 4M910 114l-4 0M883 140l-4 2-3 0M955 207l2 2M993 199l3 0M921 230l1 2M848 121l1 4M840 176l-1 4M848 263l2 3M832 216l0 3M1061 274l-3 2-4-1M981 293l0-3M872 127l1-3 1-3M858 81l3-2 3-3M848 63l-3-4M816 315l4-1 2-2M958 236l4-2 0-3M892 259l4-2M907 158l0 4 1 3M1047 41l-1-5 3-2M953 121l3-1 4 0M861 39l2-3 3-1M961 71l-2 3M846 77l-4-3M830 293l4 0 2-3M786 276l-1-3 2-4M1008 98l4 0M1043 144l-4-3 0-4M1007 270l0-4M997 157l3 4M1031 56l3 2M811 55l1-3M832 286l1 4M937 140l3-4 1-2M1045 312l3-2 0-4M901 112l-2 2M947 56l-2 2 1 3M933 52l2 3 1 4M998 185l-3 2-3 1M828 53l-1 3M790 272l-5-1-2 2M803 178l3-2 4-1M866 291l-3-2M926 274l-1 3-2 4M908 260l1-3M810 90l3 3M921 70l0 4 2 4M1032 150l4-2 4 0M980 175l-3-3M895 297l-3 2-1 4M1007 108l3 0 3-2M815 87l4-3M1008 173l-2 4M825 205l4 1 3-4M980 156l-3-1-4 2M815 183l1 2M898 282l3 3M995 142l3-2M812 185l-1-4M1038 79l1 4 3 1M1012 149l-1 3-3 1M1008 158l3 2 3 2M860 40l-3-1M1007 270l3 1 2 2M960 238l-1-5M880 311l1-4M817 107l-4 1-2 3M933 289l3-4-2-3M838 53l-1-3-3-3M1047 142l0-3M810 221l-3 2-5 0M876 206l2 2 4 1M960 301l-3 2-3-2M1004 262l-1-4-1-3M879 195l-1 4 0 3M822 181l-4-2M791 320l-3 0-4 1M1020 256l-2 2-4 1M768 110l-3 3M1014 312l0 4M984 174l-3 2M1041 229l-3-1M865 219l2 4M1062 227l-1-3M1065 209l2-1 3-1M1057 326l2-3 1-2M1021 249l3 3-2 3M813 244l-1-2M938 48l0 3M816 290l-4 0-1 3M818 180l-1-2 1-4M982 179l4-2M914 243l3-2M981 198l2-2 4-1M772 278l-4 1M1022 161l-4 1M927 154l-3 0M865 168l2-4M883 156l-1-3M956 57l-2 2M912 183l4 1 3 1M916 164l2 3M810 123l3 0 3 3M885 204l-4 2M782 88l-4 1M1037 209l3 1M1020 55l2 3-2 3M951 94l-4 2M970 117l-2 3M950 249l-4 1-3 1M946 81l4 0 3 1M1059 195l-3 4M959 115l3 0 4 0M972 252l-4 2-2 3M789 51l-4 3M895 304l1 3 3 3M910 204l2-4M980 93l-4 2M1032 88l-4-2M824 151l-4-2 0-5M1048 143l-4-1M937 175l4 1M818 127l2 2 3 2M1049 208l-3-1M854 64l0 3-2 2M983 191l0 3M951 306l-3 1M880 302l4-1M891 93l2-1M958 172l-2-2-2-4M903 306l-2-4-2-2M899 61l3 1 3 1M814 113l2-4-2-3M965 290l4-2 2-4M922 215l2 2 3 3M826 258l-1 2 1 4M1056 130l4 1 3 1M926 240l4-1 3-2M1055 92l0-3 2-1M821 80l3 3 0 4M909 317l-1 3 1 4M1029 114l-3-1M1035 259l3 1 1 3M880 240l-4-3M838 232l2 4M903 205l4 0 2 4M841 212l4 2M819 96l-3-2-3-3M899 313l1 3 2 2M982 265l-3-2M967 136l4 0M1026 229l1 3 3 4M1062 174l1 3 2 2M919 294l4 0 3-1M776 153l0 3M1017 137l-2-3-3-2M999 181l5-1M1028 176l-3 1-3 2M965 233l0 5-1 3M781 287l0 3M775 45l2-4M811 216l2 2 0 4M1007 65l4-2 3 1M766 172l1-5 3 0M958 81l0 4M937 102l-3 2M997 105l-2-1-5-1M1050 119l-1 3M1031 264l-3 3M894 135l-3-3 1-4M840 257l1 4M946 113l-2 3M1047 279l3-2M953 230l3-1M861 107l-4-1M967 140l-1 3-2 2M979 138l4 0M924 205l-3 3M1001 155l-3-3 0-3M890 131l4 2M960 85l-4-2-4 1M844 167l2 3 2 2M927 222l-1 4M841 87l2-3M1030 124l0-4M955 281l-4 0M1023 73l-2 4M1013 72l1-3M881 133l3-1M1003 66l1-3 1-5M823 245l-1-2M998 258l1 4M905 60l3 0 4-1M1033 315l3-3 2-3M794 53l-2 3M1018 79l-3 1M1025 112l3-2M1026 275l4-3 4-1M935 268l-3 1M914 79l-3-3M903 266l3 3M804 155l-4 0M936 317l2-3 3-3M786 303l3 2 3 3M881 297l0 5M982 100l-4-2-3-2M882 123l-1-2-4-1M923 256l1 4-1 4M1004 289l2 3M865 135l-2-3M841 57l-3-1-4 2M914 259l2-2M905 179l-3-2 1-3M832 61l3 2 4-2M820 126l4-2-1-3M783 92l-3 3M965 274l3 0 2 2M1023 282l-3 0-4-2M968 241l4 2 4-2M792 204l-3-4M812 286l-2-4M883 273l-1 3M985 274l0-2 2-4M1031 174l-3 1-3 2M972 206l-3-2-3-2M954 208l3 2M925 228l-4 2-3-1M1026 78l2 0 3-1M796 42l-3-4M1025 87l-2 3-2 2M895 191l2-4M845 95l1-2M815 295l-3-2-3-2M919 164l3 1M826 145l-3 0-3 4M978 148l-4 2-1 4M811 240l4 0 2-4M808 247l3 1M1036 37l-4-1-1-4M911 99l-1-4 2-2M933 255l3 0M868 107l2 2M904 75l3-1 5-1M870 100l-1-4M933 181l1 3 4 1M901 58l-3 1M823 152l0-4M812 178l1-3-1-3M816 165l-3-1-3 1M886 58l0 4 2 3M881 325l-1-3-3-2M810 188l3-2M768 281l-4 1M961 278l-2-2M880 254l-1-3 1-3M893 165l2 1 2 3M1044 172l3 0 2-2M1034 304l-3-2-4 1M901 134l-3-1M802 284l-2 4 0 3M909 176l1-3M951 193l0-3-3-2M946 291l-3-2M783 43l-1 3 1 5M910 287l4 2M873 64l-3-1M905 186l3-1 2 1M854 307l0-3M867 207l-1 3-4 2M857 113l3 3M1043 283l3-3 2-4M938 83l2 2M1019 87l-1-2M780 181l-1 4M876 142l4 1 2 4M832 270l4 1M827 82l2 1 2 4M869 76l3-3 3 0M835 118l2 3 1 2M806 300l1 3M876 210l-2 3M769 102l3-3M852 267l3 1 3 2M952 290l-4 1M1055 305l3 3 4 2M814 97l2 2 1 3M896 169l-3 0M952 142l-3-4-4 2M881 151l1 3M868 114l2-4 4-1M1001 316l-4 1M812 124l2 3 3 0M1053 133l3 0M945 326l-1 5 2 2M855 266l-1-4M1018 57l-3 2-3-1M801 131l1-4-1-3M864 140l1 4M942 95l-2 3-1 4M777 157l0-4-3-2M866 237l-1-4-3 0M883 275l3-2M959 194l-2-2 0-3M821 123l-3 1M970 139l2-3M859 119l-2 3M821 55l2 2M890 202l-3 0-1-4M815 188l3-4M940 147l3-1M1023 83l0-4M808 155l-2 3-1 3M1025 241l4 2 3 0M823 59l2 2 0 5M912 329l-2-4 1-4M912 307l1-4 0-3M856 227l0 4 0 3M862 271l3-3 4-2M858 52l2 3M851 64l-4 3M807 169l4-1 3 3M883 292l-1-3 1-3M952 82l3-2 1-4M980 281l2 2 0 3M1015 246l-4-2-2-4M1022 40l-1 4M881 158l-4 1-2 2M867 135l-3-1M854 67l3-1 0-5M802 310l-3-1M831 106l1-3-3-3M1035 87l2 2 4 1M880 92l1-3M967 281l-2 3-2 3M1023 134l3 3 3-1M799 240l1 4 1 3M799 197l3 0 3-1M1014 194l-3-1M906 142l0-4-2-2M999 156l-3-2M1037 292l3 3M1008 176l2 4-3 3M981 89l4-3M967 228l4-2 2 1M925 284l1-5M849 293l0-5-3-2M772 158l-4-1-1-3M1042 123l-3 2M1032 174l-3 4M975 133l-3-1-3 0M811 245l4-1 3-2M892 53l-1 3-2 2M836 118l1-4-2-3M790 292l0 3M990 142l-3-1-3 2M796 279l-2 3M1028 183l4 1M945 137l-2-2M1030 79l3-2M1000 189l2-4M977 116l-2 1M938 125l0 4 0 3M968 113l-2 4M1043 152l0 5 0 3M788 193l4 0M1035 296l-3 0M1019 176l4 0M1040 126l1 3M865 179l-2 3M921 210l-2 3M931 228l-3-1M871 93l0 4M842 52l-1-4 2-3M1059 41l2 3-2 3M960 59l-3 0M913 123l-2-3-3-2M853 200l-4 0-3-3M951 244l5 0 1-3M797 231l2 3M1036 48l1-3M967 155l2-2M925 54l-4-3M791 298l2 3 0 3M916 267l0-3M950 150l-1-4 1-3M810 248l0-3M891 63l2 2M1027 259l0 5 3 1M946 86l-2 4-2 2M926 282l-3-2 0-4M1024 315l3 3 3 3M846 35l-3 0-1-5M1040 210l0-4 1-4M909 277l5-2 3-1M866 107l-2-3-4-3M926 52l4 0 4-1M853 82l-1-3 1-4M953 240l1 3M1051 162l3 2 3 2M903 62l4-2M965 57l-1-4M974 180l4 1 3 3M1053 156l1 2 4 0M925 139l-2-3-1-4M825 96l-4-1-3 2M952 55l-3 3-2 3M866 219l2 3 4-1M1025 104l-1-3-2-4M1055 69l-2-2-1-4M993 142l-1 3M896 50l-2 4-2 2M804 42l3-2 2-3M1045 309l-1-4M856 84l-3 3-2 3M964 144l-2 3M792 91l2 3M925 130l2-4 2-3M784 320l-1 4-2 2M818 143l3 2M1052 307l1 3M795 202l-3-4 0-4M1058 57l4 0 4 2M1052 302l-5 0M903 299l-3-3-3 0M840 291l4 2 1 4M966 295l-2-3M986 115l-1 5 2 3M1000 88l3 2M861 263l1-4M815 149l-3 0-4 0M902 196l-2 3M1033 312l-1-3M789 142l3 0 4 1M1037 84l0 3-2 2M1027 186l3-2 1-3M914 210l-2-3-2-2M1010 185l-1-4 1-3M876 161l3 2 3-1M1025 202l-4 2-3-3M775 83l-4 0-4 1M1007 210l-1-3M966 228l4 0M874 190l-3 0M1043 296l-3 0M837 245l-2 4 1 4M857 206l-3-2-4-1M1022 158l-4 1M1055 314l4 0M1000 138l-2 3-3 0M823 66l3 2 4 1M885 282l-1-4-2-1M812 94l-4 2M789 289l1-3 2-2M796 274l-1-3 1-4M933 295l4 1 2 4M958 144l0 3M960 182l1-4 1-4M972 183l-1-3-3-1M995 117l3-1M848 71l3 1M1056 302l4-1M981 311l-1 4 3 3M1046 169l-3 0M842 255l-3 3-4 1M908 70l-4 0-3 2M1026 160l-2-4 0-3M838 63l-3-2 0-3M979 84l3 3M867 53l2 4M922 254l0-4M974 185l2-4 1-3M823 144l3-1 3-3M781 278l3 2M1052 161l4-2M796 225l3-2 3 2M970 182l5 1 1 3M856 155l-2-3M1063 175l0 3 4 3M790 282l4-1 2-3M898 284l0 4-4 2M1029 189l2-4M1042 290l-4-3-4 0M1032 222l-2-3-4-2M766 273l-3 2M990 264l2 3 3 3M838 110l1 3 0 4M857 263l1-4M885 210l4 0M985 221l2-4M947 49l-2 4 1 4M849 109l-3 0-3-1M974 187l4 2M911 116l1-3 2-1M1049 141l1 3M904 327l-1-3-3-1" stroke="#74706e" stroke-width="1.70" fill="none" stroke-linecap="round" stroke-linejoin="round" marker-mid="url(#cG)" marker-start="url(#hW)" marker-end="url(#hW)"/><path d="M833 39l-3-2-2-3M858 52l4 0 3 2M939 192l3 2 3 0M873 186l1-3 3-3M889 248l1-3M1000 62l-2 1 0 4M940 83l-3-2M866 216l0 3M952 50l4 1M980 232l-1 4M916 313l-5 1-3-1M833 215l3-1 3 2M873 274l-3-1-4-1M1043 282l2 3-2 4M1027 320l-2 4M1034 82l2 3 2 3M906 288l0-3-1-3M845 310l-1 4M877 217l0 4M951 106l-3 1M1049 133l4 1 3-3M794 205l-3 1-2 4M1038 57l2 1 3 3M913 102l1 2 1 3M916 238l-3-1-3 2M929 140l-2 3M1006 54l2 3-1 4M1023 115l-5-1-2 2M837 183l2 2M965 208l3-1M810 143l3-1M971 226l4-2 3-2M891 184l0-4M951 276l-2-3M1027 175l-4 1M927 155l-2 2M856 115l2 4M965 243l3 3 1 3M1016 195l-3-3M773 101l3-2M1055 220l0-3M1046 48l-4 0M1024 181l2-4 3 0M1050 167l-2 3M1041 262l1 4-3 2M989 182l0-4 3-3M897 149l-2-4M1053 95l4 0 3 1M884 78l-4 0-3 0M881 196l4 1M1007 297l1 3M1050 121l-3-1-3-2M924 178l2-2M977 297l4-2 0-3M934 144l-3 1-2-3M915 57l2 4 2 3M837 44l1-4M946 65l-5-1-3-1M1033 231l0 5 1 3M820 112l-2-4-3-2M824 120l-3 1M943 92l-1-3M957 37l-3-1-4 2M1005 146l-3-2M852 62l-4-2M945 200l3-1M842 211l-1-4 1-4M856 95l0 3M1016 238l-1-3-2-4M995 143l-1 4-3 2M1043 268l4-1 3-2M841 61l1 3M787 77l3 0M1009 179l0 4 3 3M768 213l-3-4M1052 320l-2-3-1-4M785 50l-1-3 2-3M1025 269l-4-2-1-4M787 239l-2-3-2-2M921 308l1 3M1035 62l4 2 3-1M836 95l-1-3M861 255l-2 1M826 280l-4-1-3 2M977 129l2 3M1058 296l3 0M971 119l-1-4 2-3M876 78l4-3 4-1M900 58l-1-4 3-3M828 126l4 0M976 241l2-2M846 98l-4 1-1 3M976 90l-3 2M993 108l-2 1M765 312l4 0 2 3M835 65l-2-4 1-2M1016 61l4-1M1007 129l-3 2-3 2M897 260l1-4 2-3M1038 44l-3 1-3 1M917 77l-1-3-4-3M880 290l-3 1-1 3M1051 304l0-3M976 255l1 4 3 2M841 133l3-2 1-4M855 171l2-1M990 146l2-3 2-3M1039 179l-2-4-2-3M898 104l-1 4 3 3M974 123l1 4 1 3M774 215l3-3 1-5M930 220l-3 1-3-2M1009 220l-3-2M993 39l2 3M1052 146l-4 1M1062 196l-4-1M999 114l4-1 3 1M932 123l-2-3-2-2M822 295l-1 4-3 2M1028 104l-4-1M876 275l2-4-1-2M973 292l-3-1M851 94l4 2M917 149l-4 0-1 4M896 321l1 4M1015 128l-2 2M1061 125l-1 4M981 162l2-2M969 178l2 3-1 3M1010 142l-4 2-1 4M1039 271l2 3M1034 218l-5 0-3 3M779 136l0 3-2 5M939 56l4-2M965 237l1-3M871 80l3 1M976 265l-3 0M905 174l0 4M1029 102l2 3M937 287l-1-3M1043 199l3 0M1061 241l5 1M859 261l-4-1-2 3M880 75l-5 2 0 4M1024 134l-2 3-4 0M839 39l3-1 4 0M834 53l-3-2M815 309l2-1M954 229l-3-2-2-3M791 298l-3-1-3-2M927 56l-2-2-3-1M900 163l4 1 4 1M1013 117l4-1M1035 72l-2 3M907 274l-1 3M825 320l-3-3-4-1M824 284l-3 0-5 0M769 94l-3 0-2-4M911 175l0-3M856 143l-2 3M922 158l-1 3M899 299l-3 1M811 252l-1-4M1035 193l3-1 4 0M1044 261l2 2M879 97l2 4 4 0M896 210l-4 2M1043 136l4 0M787 58l-3 2-4 2M792 297l-3-2M918 287l1 4 3 3M929 92l1-3M936 282l1-3M954 285l1 4 1 3M925 277l-4 0-4-1M927 50l-3 2M983 242l2-2 3-3M907 202l3-1 3 1M934 294l-3 3-3 1M864 57l-4 0M917 260l4-1M779 212l-3 4-2 3M1028 135l0 4-1 3M853 72l1 4 1 3M954 245l-1 3 3 3M869 126l-4-2M924 257l2-3M1034 270l3-1 3-3M936 224l3-1M836 194l-2-3 2-4M840 167l3-1M931 272l-5-1M920 166l-3-3M798 190l4 2 3-1M875 284l0 3-1 2M897 312l-1 4M1015 52l-4 2M1047 45l2 3M862 317l3 1 4-2M883 286l-4-1M1026 121l-2-3-2-3M946 139l-4-1M792 262l-3-1M968 248l-3 3-1 3M822 185l2-3M998 300l3 2 3 1M961 39l-3 2-3 0M981 241l4-1M1050 131l-3 3-4 0M815 52l0 4-2 2M1000 86l-1 4M765 200l1-3M908 160l2 3-2 4M934 289l0-4 2-4M791 292l3-2 3 1M795 50l0 4 0 4M798 83l-3-3-4 1M876 225l3-1 3 2M927 64l0-4 1-4M996 196l-4 3M906 107l2-1M842 44l2-4M993 259l4-2 3 0M810 119l1-4 0-4M823 100l-1 4M897 213l2-4 4 0M904 191l-4 2-3-1M974 157l-1 4-2 3M1040 301l0 3M979 101l-3-4M950 327l-2-3M781 312l4-1M852 311l-4 2M1004 196l-1 3 0 3M971 230l-2 3M818 51l-2-2M804 84l1 3 3 2M779 266l0 3-2 3M794 47l-3 2M810 95l-4 2-4 1M909 103l2-2 4-1M853 64l2 3M868 77l-2 4-4 0M981 161l1 3 2 3M1019 181l-2-4M786 186l-3-2-3 1M1055 250l3-1M1028 258l-3-2-1-3M1010 79l2 2M868 240l-2 2M922 164l-3 2M961 169l-2 4M935 305l-4 0M922 212l4-3M829 142l-3-1M905 43l-2 4-2 4M809 104l-1 3 2 2M1010 141l1-4 1-5M816 309l-2-3 1-4M897 202l-4 2-2 3M855 144l-4 2-3-3M914 115l3-2M953 97l-4-3M1035 297l-3 2-3 1M830 194l4-1 3 0M960 248l0 5M999 235l1-4M823 243l-1-3 1-2M851 166l-2-3M1024 204l0 4-2 3M1037 307l3 1 2 3M864 131l-3-2-1-3M964 199l-1 4M924 114l1-4M806 304l-1-4M810 278l-2 3-1 3M791 176l3 0M861 235l4-1M834 228l4 1 3-2M893 289l-3 1-4-2M809 279l2 4 4 1M804 85l0 3-1 3M1026 91l1 4M943 259l-1-4 2-4M997 91l-1 4-3 3M858 118l-1 4M836 133l-3-1M1036 45l-2-3 1-3M835 204l-1-4-2-3M923 289l3 2 3 1M1023 142l4-1 2-4M919 240l-3 3-3 1M928 50l1-4 3-1M898 126l-3-1-1-4M895 104l2 1M859 169l0-4 3-1M1055 305l-1 3M932 130l-4 1-1 3M805 66l3-1M845 183l-3 2M1024 310l-4-1-2-2M1009 167l-1 3 1 4M1023 181l-1 3M881 211l-3 1M1031 53l0-4 2-2M921 312l3 3 4-1M942 283l2-3 0-4M839 207l-2 3M949 203l0 3-1 4M977 119l-3-1-4 0M956 110l-4-1M911 80l-3-1-4 2M859 151l-3 2 0 3M869 179l-3-3-4 0M1015 104l1 4 3 2M1042 77l0 4-1 4M817 63l-3 1M773 83l2 1 2 3M866 81l-1 4M1034 310l1-3M1030 205l0 3 2 3M830 281l-3 2-3 1M858 100l0-4M825 220l0-3M894 296l0 3-4 2M958 219l5 1M966 212l-4-2M766 269l-1-3 1-3M1026 47l-4 3M842 232l2 2 3 2M904 78l-4-2-3 1M906 299l4-1 2-1M776 81l3 1M983 143l2-3 3-3M804 304l3 3M868 286l-1-3M830 252l-3-2M906 313l-4-2M898 298l3-3M770 169l-2 3-4-1M768 200l3 0 2-4M840 131l-4 0M867 67l3-2 4 2M906 135l-3 4M1035 207l-1 4M1050 194l-2-4-2-4M927 269l2-3 1-3M1022 266l-3-3M829 116l-3 3M981 281l-3 3 0 4M994 228l3 2 3 0M981 282l-4 1-3 2M1049 265l3 1 4 1M961 49l-1-4M995 289l-4-2-1-3M922 156l-2-3-4-1M987 100l2 3M1060 267l4 0 2 3M1012 241l3 1M891 167l-1-4-2-3M1033 100l1 2M959 245l-3-2-2 1M924 268l-2 2-4 0M918 169l-2-1M900 250l1 3 3 0M963 253l1 4-2 2M1055 156l2 4 2 3M991 108l5 0M910 275l-3 1M1052 255l1-4M822 197l-1-4-2-3M888 310l2 3 2 3M906 101l1 3M848 83l-2-3M991 125l3-3-1-3M830 124l-1 3M767 214l-4-1-1-3M790 64l3-1M772 146l2 2 3 0M997 141l0 3M791 315l0-4-2-3M939 124l2 2M1015 74l3-1 4-1M889 295l3 2M1029 91l-3 3M831 112l1-4 0-4M1007 137l-3 0-2-2M968 153l-3-4M843 79l4-2M900 326l4 1M892 207l0 4 2 2M888 180l-1-5-1-4M1016 105l-1-3M1032 142l3 0 5 1M919 195l0-3M883 136l4 2 3 1M829 193l4 2M1057 147l-1 3M1003 272l1 3 4 1M994 311l-2 3 0 3M848 93l-4 1M785 122l-2-2M807 266l2 3 4 0M867 130l3-3M871 155l2-2M824 88l0-4-3-2M815 191l3-2M901 187l-1 4M952 283l-2 3M855 289l2-2M1041 82l1-3 2-4M1034 156l0-4M816 93l-1-3-4-1M867 226l-4 0-3 1M836 111l1 4 3 1M1056 136l3 3M979 179l-4 0M764 211l-4 0M967 101l-3-1M853 73l-2-2-3-3M867 91l0-4 1-2M1034 110l3-2M844 169l-2-3M1026 42l-1 5 1 3M829 201l-3 1-1 3M803 156l-2 2-3 2M923 265l-2 2M999 165l1-4 2-2M1033 91l4 1 2 2M817 94l1-3-2-3M929 296l1-3M1049 210l-1 4 2 3M979 155l3 3M908 186l3-2 2-3M952 256l-2 3M786 199l3 0M1021 112l-1-3M998 90l3 1M794 37l3-1M871 134l-3 2-1 4M932 65l-3 0-4 1M899 122l4 0 3-1M979 72l1 5M1031 222l0 4-3 3M1065 180l-3 2-4-1M952 149l-1 3M877 81l-4 0M908 167l-3 2M1052 317l-4 0-3 2M993 107l-3 2-3 1M989 202l-4 1M827 271l-2-4M769 229l0 4M955 172l4 1M977 150l5 1 3 0M807 252l2-2 0-3M922 302l4-1 2 4M820 295l-1-3-4-1M992 258l4-2 2-3M810 184l-3 3-4-2M971 135l1-3M822 195l3-1 2-3M827 258l2-2M1008 176l-4 2M789 300l0-4M915 218l-3-1M1028 167l1-4M939 46l2-3 0-4M833 93l-3 0-4 1M1051 72l2 3-1 4M965 250l0 4M1045 202l2 3 2 2M1043 87l4 0M924 51l2 3-2 4M974 260l0-3M779 271l4 1 4 2M832 65l3 0 2-2M773 82l3 1 3 3M1045 159l1-4 2-4M1008 200l0-4 0-4M952 162l-3-3M871 288l-4-1M941 264l2-2M799 85l5 1 3 0M906 275l2-1M1007 136l-4 0M861 98l1-4 2-4M962 231l-2 3-3 3M797 84l0 4M1041 79l-2 2M892 73l1-3 0-3M836 294l3 3M900 276l-3-2 0-4M931 212l-2-3M931 171l1-3M1037 70l1 3M911 123l-2-2M879 134l2-3-1-3M881 317l4 0 3-2M811 78l-3 0-3 1M937 293l2-3-1-4M819 120l2-2 5 0M813 50l3-2 4 1M885 291l2-2M997 95l-3 2M947 260l2 4 4 0M923 286l3-3M839 217l-4-2M957 223l4-3 0-3M997 196l-3 3-2 4M842 192l-3 3-3 0M1018 229l2-3 3 0M872 320l-4-2M775 312l4 0M831 205l1-4-3-4M832 137l4 0M787 78l-4-2-3-3M831 178l4-2M1020 92l2-2 1-3M1028 193l-2-3-4 1M1002 129l4 1 2-3M1019 178l-4 0M845 168l2 2 4 1M790 277l0 4M768 159l5-1 2 3M925 222l1-3M923 176l1-3 2-3M865 66l-4 1-3 3M962 298l-3 1M860 70l4-1M914 309l-1-4M917 129l4 1M862 300l-4 0M1032 296l0-4-1-3M809 324l1-5M825 147l-1 3-4 1M770 42l2 2M1050 79l-3-2-2-4M936 51l-4-2M1038 187l4-2M835 261l-1 4M827 121l-4 0M878 216l-1 3 0 3M878 279l4-1M980 244l-1 3 0 3M848 309l0 3M931 145l3 2M780 88l-2 3-3 3M1056 128l3-2 0-4M972 187l3-3 2-4M905 244l5-2 0-3M846 100l-2-2M1004 135l-1 4 3 3M1032 248l-3-3M790 110l-3-4M922 60l3 2M1005 116l-1 3-3 2M1043 217l-3-1M833 99l-2-4 2-3M852 46l4 0 2-3M982 82l1-4 4-1M764 223l3 3M927 129l-4 0M795 143l-1-3M1029 60l-1-3-2-3M779 194l-1 4M906 140l-3 0M1021 65l-4-2M861 111l1-3M991 143l-4-2M851 107l-3-1M952 162l-2-3-3-3M954 123l2-4M820 289l4-1 3 2M1026 167l0-3-3-2M837 179l4 0M806 97l-1 4-2 4M932 170l-1-3M1048 143l3 4 1 4M913 68l-3 1M920 298l0 4-3 2M984 155l1 3 1 4M948 284l3-3M1029 83l-1 4M831 203l-4 0M1053 48l1-4-1-4M1057 213l2 4M919 147l3 3M1051 193l2-3 0-4M961 50l-3 2-4 1M855 273l1 3M892 268l3 1M806 57l4 0M878 117l-3 2-2 2M818 253l-3-2-3-1M811 222l-4 1-1 4M788 149l3 1 3 2M904 98l-3 3-4-1M906 66l1 4 3 3M853 296l-2-3-1-3M975 98l-3-3M1020 55l-4-2M960 95l2 4 3 3M861 98l1 3M987 192l-3-3-3-2M999 107l-1 3-3 1M797 74l0 5 1 4M885 324l2-3 3-2M916 130l-1-4M962 126l-1-3M926 205l2 3M913 304l4 1M1009 313l3 0M986 192l-1 3M835 89l1 2 3 1M1029 209l-3-2M781 140l2 2M876 86l-2 1M1050 231l2 3M999 192l2-3 3 0M1063 309l2-1 3-3M802 83l2-4" stroke="#625c5a" stroke-width="1.70" fill="none" stroke-linecap="round" stroke-linejoin="round" marker-mid="url(#cG)" marker-start="url(#hL)" marker-end="url(#hL)"/><path d="M983 96l-3 0-4 0M834 221l-4 1M845 75l0 3M885 82l-2 3M1042 248l-1-3-2-4M898 212l4-1M1028 76l4 1 2 3M978 185l3 3M920 167l-3 3M824 143l1-4M908 193l3 2M1045 280l-1 3-1 3M841 37l-1 3M1025 136l-3 0M1021 148l4-1M853 67l4 2 2 2M817 177l2-2 3-2M1037 222l-1-2M777 221l2-1 4 1M984 274l3 0M1059 322l1 4M815 42l-3 1M808 142l-3-2M920 70l0-3 3-4M858 133l-3-2 0-2M991 290l-1 3M892 96l-4-1-3-1M914 117l-3-2-2-2M900 300l3-2 4 2M869 147l-1 2M1005 139l-3 3-3 2M802 87l3-2M968 123l-3 2-5 1M962 153l-3 2M932 302l3 4 0 3M867 60l4 0 2 2M1053 208l-1 3M954 47l5-1M954 276l-3-3-3 0M915 142l-4 3M1003 202l2-3 0-3M990 148l2-3M891 149l3 3 3 4M1031 51l3 2 2 3M790 160l3-3 2-2M930 133l2-3M874 90l3 0 2-3M886 80l4-2 2-3M1061 81l3 3-2 3M1046 183l0-4 3-3M1056 155l-1 4M858 233l-3-2-4 2M972 240l-3-3M891 292l-3-3-2-2M876 229l2 2M1001 132l-1 3M852 82l3-2M866 63l4 2M906 281l3-2 0-4M829 306l0 4M912 159l-3 1M977 271l-4-1-3 2M856 162l-3-2 0-4M914 236l3 3M787 95l0 3-3 1M905 229l-4 1-2 3M869 172l1-3 3-2M821 190l4 1 1 3M777 71l2-4-1-4M811 226l-2-3M809 59l-3-3M972 177l3-4 3 0M845 125l-3 0-4-1M1021 311l1-2M803 85l2-3 3 0M1034 136l3-2 4 2M1016 125l-1-3 1-3M1008 319l-2-3-3 0M1055 67l-4 2-3 1M834 108l-4-3M767 320l4 2 1 4M1037 205l-4 1M847 180l-1 3M923 156l-2 3M962 293l0 2 2 3M934 156l-2 3-4 1M950 64l0-4 0-4M1058 273l3-1M802 158l2-3M1049 218l-4-1 0-4M958 257l2 3M793 309l-2-3M1002 180l-3 2-5 1M989 140l4 0 2-2M915 107l-1-3-3-1M781 96l3 3M1025 40l3-3 3 2M883 202l4 0 3-2M844 59l0-4M784 50l3-2 2-3M821 248l4 0 3 3M889 129l0-4M810 163l-1 2M1005 145l-3-2M957 258l-3 2-3 0M1027 53l-1-4M932 278l4 2M790 119l4-1M811 48l1 2M1003 285l3-1M865 262l1 3M858 118l1 4M811 77l3 2M1035 219l1 2-1 4M921 109l3-2M979 124l-3 2M1001 190l-3-3M986 52l-2-1M785 164l3-1 4 0M960 207l-3-3M869 171l-2-3-2-3M905 258l-1-3M994 238l-1 5M939 161l-3 2M858 275l-3 2M941 117l3-1M878 149l-1 3-4 1M957 280l2-3M879 289l0-3-4-2M922 55l-4 0M963 177l3 1 1 3M802 165l1-4M1029 228l0-3-2-3M947 190l3 3-1 4M765 300l3 0 4 0M1051 301l-1 4M807 157l-4 2M829 284l0 2-3 2M914 118l-4-1-3 1M857 179l4 0 1-3M1059 78l3-3M957 300l2 3 2 2M781 152l-2-2M1023 182l-1-4 2-3M920 147l4-2 0-3M868 176l0 4M887 145l4 0M1049 258l0 2 1 4M805 89l-2 4-4 2M965 112l-5 0-3-2M883 194l2 3M922 308l0-4M950 199l-4 0-2-4M968 113l3 3 2 3M911 278l-2-2M766 87l2 2M781 310l-3-1M851 212l1 4M785 312l-1 4M771 136l4-2 1-3M1046 195l-3 0-4-2M932 265l-3 0M988 150l4 0M869 279l0-3-3-4M1015 56l1-4M914 64l-3 0M912 289l1-4 2-2M831 211l1-4-2-2M928 296l-1-4M849 166l4-1 4-1M923 156l3 1 3 1M793 128l1 4M779 158l-2-3-3-3M918 189l-4 1-3-2M887 119l-4 2-3 0M1030 238l-2 3-2 3M1025 71l3 2-1 4M837 115l-4 0-2-3M831 76l3-2M1054 242l1 4M938 140l4-1M867 132l3 0M905 318l0 4M821 254l0-3M773 145l2-2M811 292l3 1 4-2M902 230l0-3M797 48l3-2M1004 185l3 3-1 4M894 200l-3-2-4-1M862 295l4 2 3-2M812 290l-2 2-1 4M964 253l-1-5M1020 169l-3 2-3 3M1015 122l-2-3-2-3M909 261l-2-2M1017 77l-4 0M1041 103l-1-3M1036 207l-4 0-4-2M902 219l3 0M816 157l-1-3-2-2M816 227l3-1 4-1M907 233l-4 1M861 289l2-2M917 247l4 1 3 0M841 262l-4-1-1-2M884 141l0-4 2-4M1048 190l-1-4 0-4M858 119l-3 0M870 112l-2 2-3 0M835 81l2-3 1-4M770 214l2 4M989 270l3-1M1038 34l0-4 3-2M919 133l2 4 1 3M832 111l1-4M969 183l2 0M868 129l4 0M1026 85l-3 1M944 294l-3-2M850 267l-4-2M1018 59l-1-4M864 209l3-2M877 141l4 1M954 134l3 0 1 4M868 318l-2-2-3 2M1026 181l-3-3M931 286l3-1 0-4M836 307l0-5M872 90l4 0M1034 290l1 3M1046 185l-2 4M990 268l2 3M832 141l0-3 2-3M882 303l3 2 0 4M875 66l4 0M772 310l4-1M1050 128l2-3 2-1M1012 40l1-3M980 68l2 2M794 80l2 1M870 194l-4 0-3 0M868 296l-3-2M871 318l4 1M867 54l3 0M1055 229l-4-1M905 209l3 3M822 106l-2 4 1 3M824 213l0 3-1 3M872 298l-2 3M876 316l-2-3M857 213l1-4 3 0M1041 125l-4-1M799 289l3 2M925 287l3-2M1027 154l3 2 0 4M945 175l2-2-1-5M917 241l-2 3 1 3M1042 41l-2-3-1-4M877 313l-1 4M988 258l2-2 2-2M917 242l0-4M979 256l-4 2-4 0M808 217l1-4M958 303l3 1 3-2M801 138l5 0M847 125l2 2M1052 174l-4 1M967 240l-3-2M924 241l2-3 4-1M915 177l-2-2M951 167l3 0M1060 113l2 4 2 4M818 95l-4 3M806 119l0 3M829 64l2 2 3 4M926 153l2-4 4-1M838 255l-4-3M1015 182l-3 1-4-1M1054 287l-3 2M968 196l-3 1M770 162l3 2 3-1M976 199l-3 3M1043 290l2 4 0 4M988 248l0-3M1013 323l-1-2M942 133l2-3 2-4M848 182l0 4-3 3M808 280l1-3 4-2M851 175l3 2 2 3M893 223l4-1 2-2M784 80l2-3 1-3M919 174l-4-2-1-3M1042 66l1-4 0-3M903 287l-1-4M1031 71l3-2M1055 203l3 2M1010 70l-3 1M858 166l-2 2-4 0M931 311l-4-1-2-1M878 153l2 3-1 2M790 286l4 1M856 327l3-1M941 210l-2 4M1040 291l-3 2M853 146l-2-2M890 284l-1-4 1-4M835 69l-1 3M870 77l-2 3M1010 73l2-4M968 178l-3 3M1016 180l4 2 4 2M1002 134l-1-4M932 52l-2-3M965 202l5-2M1032 156l-2-1-3-4M1063 206l0-3M993 187l2 3-2 3M925 263l2 2M877 317l-3 2-4-1M1046 206l-4 1-3 4M990 321l3-4M930 283l1 3M1013 110l3 0M922 318l-3 0-1-3M861 120l4-1 5 1M1024 42l1-3 1-3M923 200l-1 3M1037 321l-2 3M762 272l-2 2M926 124l0-4M971 225l-1-4M854 71l3 1M1043 310l4 1 2 4M795 63l4-2M885 322l1 3-1 2M1035 165l3 3 3-1M916 322l-2-3-3-2M968 267l3 2 0 3M795 76l4-2M1017 244l4-4 3-1M850 110l4-1M995 117l-2 3-1 4M880 74l0 5M1036 299l0-4M825 102l1 2M912 316l-4-1-2-2M1027 174l4 1 5-1M997 137l-2 3-5 0M923 292l3 3M921 118l4-2M813 53l-3-3 0-3M923 63l1-4M938 180l3-3M992 195l-1-3M1057 149l3 1M845 314l-2-3M1009 60l3 3 0 3M825 223l2 0 4-2M956 187l2 2M1002 166l-3-2M1062 103l-4-2M850 42l-1 2M932 246l0-4-4-2M975 144l-2 3-3 3M893 264l4 3M867 172l1 4M839 179l0 4M819 190l-3-2M901 243l-2 2-3 2M802 255l1 2M840 290l2 3 4 1M863 119l-1-3 2-3M898 242l-1 4 1 4M846 131l0 4-2 3M964 275l1-3 0-3M909 317l-1-5M872 67l-4 1M1056 324l-4-3M982 70l0 5M1033 132l1 4M782 85l-3-1M923 153l-3 3-3 2M1040 233l-3-2M1041 45l-4 1-3 0M1020 63l-4-2M1031 101l4 2 3 1M837 312l-4-1M874 283l-3-1-2-3M993 138l-3 2 1 4M922 150l3 3-1 4M1025 140l4 1 3 0M950 300l2 3 2 3M773 233l1-3 0-3M929 100l3-2M982 281l1-4-2-2M953 57l0 3 1 3M1032 223l-1 2M879 320l3-1 3-2M1038 315l2-1 4 2M1015 109l-2 4M880 275l2 2M781 242l-4-3-4 1M786 62l-1 4-2 3M932 46l-3 0M834 219l-1 4 2 4M862 161l4 0M840 191l-2-3 3-3M944 256l-3-1M801 128l1 4 3 4M1019 259l4 1M925 244l1 4M1055 321l3 1 4 1M1037 272l-2-4M795 135l-4 1M977 217l1 2M991 152l1 2 0 3M786 196l1-4 2-4M831 297l3-1 2 1M990 232l-2-3-3 0M935 153l-2-2M1023 195l1 2M847 153l-1 3M970 321l0 4 2 2M1046 298l1-4-1-3M974 111l4-1M824 149l-3-3M899 224l-4-2-3 2M997 187l-4 2M869 318l3 1 2-2M844 107l4-2 3 2M870 196l-4 1M905 93l-1 3 1 3M906 169l-2-1-2-4M881 260l3 3M863 298l-1 5-4 2M916 292l-2-4M892 173l-3 0-3 0M829 187l-3 0-3-1M942 46l-2-1M906 81l-3-1M838 87l-3-2M815 181l-4 1M851 236l3-2M938 114l0-4 0-4M1025 322l2-4 3-2M807 235l-3 3-1 4M817 196l4 0 1-3M908 268l2-3 4 1M1034 154l-2 2-3 1M1009 306l-3 2-3 1M915 302l0-3-1-2M886 207l-3-3M969 126l-2-2M900 180l0 3 2 3M1008 222l-3 2-3-2M999 260l3-2 3-3M959 322l1-3 3-4M1040 161l3 3 3 2M1063 300l-1-4M825 128l1 4-1 3M937 158l2-2M784 299l-1 3-2 2M776 107l1 4 3 2M1051 309l-4 2M851 119l-2 3M917 96l-2-4-3-2M777 285l-1 4 1 4M1051 102l0-3M982 176l1-3 3-2M1057 38l-4 1M982 294l3 3 3 2M1012 122l2 4M857 183l-3 4-4 0M777 59l-3-2M968 318l-1 5M940 167l-2 2-5 1M923 116l-2-2-3-2M963 204l2-2 2-3M830 126l-2-5-2-2M843 137l0-4 1-3M1061 303l-1 2M787 142l1 5M950 37l-2-4M878 305l2-1 3 1M784 149l-3-2-3 0M775 174l-2-2-2-4M911 83l1-3M1047 103l0 4-3 3M966 133l1-4M835 218l1-3 1-4M866 323l-2 3-3 0M1015 239l0-4M1030 249l1 2M825 321l-3 2-4 0M1062 204l1 3M1003 297l3 0M873 80l1 3-3 3M785 75l-3 2M786 77l-2-4-3 0M966 112l4-1 1-4M1037 137l3-1 2 3M979 222l0 4M779 105l2-3M818 171l0-4-3-2M1030 73l-3-2 0-4M948 273l4 3M961 181l-2 4-3 1M921 277l-1-3M812 179l-2-3-4-2M947 197l3-2 3 1M1050 246l-3 1-2-3M1023 95l-1-3-4-1M791 221l-3-3M1001 298l-2-4M853 75l3 1M919 65l3 1M954 153l4 0 2-3M1000 325l-3-1M982 105l-2 2M815 122l-3-1M1018 107l-3 1M1050 87l-3 1-3-2M865 142l4 1M830 133l3-1M790 291l0-3 0-5M889 147l2-4-1-3M979 303l-1-2M902 265l2 3-1 4M1032 50l0-3M985 229l1-3 0-3M787 77l-1 3-3 1M892 49l-1-4M951 170l-4 0-2 0M1040 270l-4 1-2-2M1038 216l4-2 3 0M977 229l4 0M932 260l-4 0M1021 245l-4 1M861 163l0-3 1-3M921 197l3-1 0-4M1016 132l-1 3M904 102l3 1 1 3M892 165l-2 2 0 3M957 229l3 3 4 0M815 143l4 1 4 0M960 162l1-3M1021 38l2-3-1-2M885 204l3 4M891 290l4-1M828 299l0-3 3-2M787 249l3-3M1022 266l-2 3 2 4M775 265l3-1 1-3M1039 324l1 3-2 3M1021 286l-4 2-1 3M801 299l-1 3M979 243l3 2M966 166l-1-2M916 210l3 2" stroke="#8a8684" stroke-width="1.70" fill="none" stroke-linecap="round" stroke-linejoin="round" marker-mid="url(#hL)" marker-start="url(#hW)" marker-end="url(#hW)"/><path d="M789 147l3-3M981 259l-2 2M876 70l-3 0-4 1M960 103l2 3 1 2M870 269l0-4-3-3M1011 288l2 3M962 317l2 2 2 3M809 146l4-1 4 0M934 133l-2 4M787 263l4 3 4 0M978 94l-3 0M1024 221l0-3M902 50l4 0 3 0M847 56l-1 4-1 4M940 67l-2 4M923 129l4 0 4 1M889 289l-4 0M811 69l4-2M933 55l2-4M924 50l3 1 3-2M871 62l3 1 1 4M844 117l3-3 1-3M1010 128l-3 1-3 1M806 298l2 2M979 79l1 4M983 180l-2 4M1024 122l2-3 3-2M940 139l-2 2M879 95l-4-1M825 108l-4-2M817 125l-2-3-3-1M864 150l-1 4-2 3M926 126l-3-2M1023 264l3-2 1-3M774 76l-1-3M891 107l-2-3M855 60l5 0 3-2M992 151l3-3M1016 94l1-4M909 183l2 3M999 158l-3 1M1011 181l-4-1M1017 121l-2-3M1018 137l4-1M1003 153l4-1M1052 129l-3-2-2-3M1022 49l2-3M821 114l3 3M1053 314l-2-4M1009 139l-2 4-4 0M861 78l-3-1M984 112l1 3 3 2M945 195l-4 1-2-3M851 206l2 3M1052 258l-1-3M903 137l4-1 3-2M815 212l1-2 0-5M1006 94l2-3-2-3M874 200l2 2M980 94l-3-1M1043 243l-4 1M804 295l-3-3M937 291l0-4M796 70l-4 2-3-3M1047 301l0 4M877 274l2 3 4 0M1018 100l4 0 1 3M898 220l-3 1-2 2M987 302l3-3 4 0M953 151l-1-4-3-2M784 89l-4 2-1 4M794 110l0-4M998 142l3 2 1 4M880 110l-3-1-3-3M814 66l2 3M786 317l-2 2M793 74l-2-3-2-2M1049 269l-2-2M1003 48l2-2M896 196l3 1M874 132l0 4M827 124l-2 3-3 3M898 287l-5 1-1 4M1044 184l-1 3M844 90l-2 3-2 4M1019 186l3 2M923 277l4 1 2 4M849 64l0 4 4 1M777 223l-3-3M1026 194l2 3M942 212l3 2M780 159l-3 3 2 3M1025 194l3-1M828 300l-2-1-3 3M909 274l3-2M880 304l-2 4-3 2M823 101l2 3M983 265l3 0 3 1M842 194l2-3 2-4M1052 246l-4 1M814 99l3 2M833 272l-4-2M1044 281l3 3M1032 312l-3 3 1 4M903 309l3-3M1006 214l3-2M1011 167l-3 2M999 83l3 1 1 4M1028 317l1 4M859 58l4 1M805 193l-4 2M1052 320l4 2M939 207l-3-2-2-2M1008 126l-2 2-2 3M958 71l-1 3-2 4M1042 219l-3-2M929 81l4 0 4-1M1048 179l-3 0-2-4M836 180l1 4M1049 90l0 4 2 3M907 112l-1 4-1 3M785 308l2 3 4 2M1021 198l-3 1-2 4M870 40l2-1 3-3M801 53l-2-3M990 107l1 4M919 116l3 3 2 1M1046 57l-4 1-2 3M948 142l1-3-4-2M785 316l1-3 3-3" stroke="#74706e" stroke-width="1.70" fill="none" stroke-linecap="round" stroke-linejoin="round" marker-mid="url(#cG)" marker-start="url(#oR)" marker-end="url(#oR)"/><path d="M977 304l-3 4M1040 167l2-4 0-3M905 213l1 4M891 105l1 4M1052 287l-3-1 0-3M851 237l-1 3 0 4M1059 167l3 0M1040 73l-1-3-1-3M919 150l-4 2-1 4M987 90l-2 3M1015 311l0-4 1-2M868 201l-3 2M881 300l-3-1M839 42l-1 3M948 57l3 2M1023 75l-4 3-4 0M977 139l-4-2M878 298l3-2M770 259l3-2 2-3M961 145l-3 2-2 2M858 276l2-4M837 96l4 2 2 3M984 157l-2 2-1 5M992 275l3 1 4 2M872 46l-3 1M939 209l2 1M957 70l-2 4-2 3M975 232l-3 1 0 3M1052 165l0-4 1-3M874 100l0-3-2-3M857 158l-2 3M1042 323l1 4M972 267l4 2 4 0M1054 248l0 4 0 4M838 201l1-3-1-2M892 94l-4-1-3 2M925 236l4-2 3 0M1002 78l4 0 3-1M961 251l1-4M889 114l-4 1-2 4M1013 54l-3 1-1 4M993 271l0 4 2 2M896 220l1 3 3 1M935 265l-4 0M959 123l0-4M912 313l-1-3M830 77l3 4 1 2M1006 143l1 3 2 4M1013 127l-3-3-3-2M1015 85l-4 0M976 143l-3 0M827 41l4-3M806 85l0 5M950 166l2-2 0-3M779 119l3-3M1026 107l4-1M819 298l-2-3-3-2M994 181l-4 2M909 280l3-4 2-3M1044 78l-2 3M795 81l3 3 4 2M1044 307l-2 3M801 172l5 0 2-4M809 157l4 1 3 2M1018 77l-2-2 1-3M800 116l1 4M795 111l1 3-3 4M905 213l-3-1M867 59l-2 0M791 281l2 3-1 4M962 97l3 0 2-3M813 97l3-1 3-1M818 271l-2 4M937 253l4 0M1033 211l3 0 4-2M859 267l-3 2M1056 170l-4 1M1012 169l-2-2M1034 206l-3-3M991 145l-3 4M883 64l0-3M968 55l1 4M899 73l-3-3-4-1M910 187l-3-1M838 93l3 1 3-2M934 60l2 2 4 1M953 156l4 2 2 2" stroke="#7a7474" stroke-width="1.70" fill="none" stroke-linecap="round" stroke-linejoin="round" marker-mid="url(#oP)" marker-start="url(#hW)" marker-end="url(#hW)"/><path d="M864 313l-2-3M955 122l3-2 0-4M961 190l-4-1M992 100l0 3 3 2M820 116l1-5M1005 66l1-3 4-2M1039 314l-5 0-2-2M813 259l-4-1-4 1M787 68l-3 4M852 183l2 2M861 184l-3 3M981 195l-4-2M895 97l1-4M1051 70l3-1M833 131l2 3M847 177l-3 1-3-1M1058 250l-1 3-4 1M928 305l1 2-3 3M985 267l-4-1M1024 132l-4-2M889 213l1-4M926 291l-3 1M1021 194l-3 1-3-3M845 41l-2 2-2 4M845 104l1-3 3-3M877 183l3 4M812 167l-1 2M855 228l2-2 1-4M803 264l-4 2 0 3M1025 291l-1-4 0-4M871 88l-4-2M886 169l-3 2M780 142l3 2 3 1M871 175l-4-1-3-1M1020 313l2 2 0 4M835 285l-3 2-3-1M1046 141l0-4 1-4M1003 270l-3-1-1-3M1005 175l3 0M863 74l-2-3M1062 199l3 2M1044 82l0-5M1040 183l-2 2-2 2M845 91l4-2 4 0M968 41l-2 3M936 66l-3 3M873 327l1-3 4 0M874 154l0-4M821 249l2 4M1015 158l-4 2-1 3M1007 109l-1 3-3 1M884 125l4 0M887 325l4 1 3-1M905 189l3 2M825 137l-4 0M1031 294l1-5 4-2M1005 67l0-3 1-4M951 116l-3-1-4 2M992 237l2-3-2-4M785 105l-2-4M828 150l-3 2M897 158l-3 2-4 1M873 96l4-3 4 2M771 321l0-3 3-2M941 127l1 2 2 3M1039 42l2-3 0-2M962 145l-2 3-4 1M965 277l2 3 1 3M812 216l-2 2 1 5M792 88l4-1M814 157l0-3-2-3M800 301l3-3 0-3M988 253l5 0 4 0M779 203l3 3 2 3M800 67l4 2M1040 79l1 4 2 4M920 224l-4-1-3 0M789 67l4 0M997 183l-2 3M791 295l4 1M962 84l5-2M879 77l3-3M774 213l3 3M911 307l-4 3-4 2M1011 73l-2-3M782 49l-3-2M813 52l-3-3-2-4M802 199l-3-1-2-3M1020 174l-4 0M872 123l-3 0-3-2M910 301l5 0 2 3M891 212l0-3M912 298l-4-1-3 3M876 184l-1 3M825 250l3-1 1-3M866 194l4 3 3-1M1029 187l-4 1M876 211l3 1M942 113l0-5 0-4M1022 145l3 3 2 3M794 180l1 4M952 200l-3-2M870 201l3 1 2 2M981 319l3 1 3-3M766 135l0 3 0 3M1021 253l-2-3 0-4M967 250l-2-3-3-2M930 301l3 4 4-1M808 44l3-1 2-3M968 109l4 0 4 1M893 141l2 2 2 4M962 148l2 1M853 269l-2 3 0 3M989 310l-1 4-3 1M1011 144l3 2 3 2M1044 152l-2 2M1042 165l-5 0-2-2M1013 125l-3-1-4 1M1004 144l-2-3M898 214l5-2 2 2M829 299l2 2M771 140l2 3 4 0M935 176l-4 2M985 157l-1-4-2-3M1038 256l1 3 3 2M926 87l0 4 2 3M944 59l-2-1M1022 224l4-2M909 177l-4-2M918 192l2 4M941 176l-1-3 1-3M1032 134l2-4-1-4M1048 192l-4-1M909 131l-4 1-3 2M824 194l4 0M994 183l1-3M946 112l4 2M807 169l-4-1-4 0M839 128l2-2M884 117l1-3 3-3M1056 265l3-2M811 63l-3-3-4 0M1025 141l2-3M1008 178l-4-3M860 67l-1 4M1000 156l-1-4M859 49l0 4-2 3M993 141l3 4M908 109l3 0 4 0M844 92l1 3M858 116l-3 2M910 197l4-2M1001 195l1 3M835 208l-3 3-2 5M844 55l1 3 4 2M876 64l-3 2-4 0M857 36l-4 0-2 2M781 207l-3-1-4-1M1051 272l3 2M863 152l-4-2M1034 49l3-3M786 81l2 4M863 78l-4-2M790 82l4-2M879 144l2 3M809 142l-3-1M1018 252l3 0 3 2M1006 226l4 3 3-1M1044 97l-1 3 2 3M888 307l-3-3M1014 154l-1-3 0-3M823 106l-3 2M943 86l1 3 3 2M894 214l1-4 2-3M839 125l2-2M858 82l0-4M876 158l2-2 1-5M852 150l-1 4M1019 305l-1-3M855 148l0-3M770 179l-3-1M950 321l2 3M993 270l3 3M868 222l2-2-1-5M965 327l3-1 4 2M814 284l-4 0M1012 152l2 1M892 117l-4-1-4 0M1053 228l-3 1-3-1M809 200l-1 3 2 2M1041 153l-2 3 3 2M874 136l1 3-2 3M815 110l-3 3M910 136l0-3 3-3M908 143l0-4-1-4M826 69l-5 0M1054 122l4 1 3 0M1062 53l-3-1M1047 129l2 2 1 4M867 290l-2 3-4 2M878 85l4 0M911 121l-1-2M956 225l-1-3-2-4M969 293l2-1 4-1M1043 233l2-1 1-4M847 79l3-3M926 311l-2-2-3 2M1022 307l-1-4 0-4M877 152l2-3 3-1M1024 149l-2 3-5 0M775 289l3-4 2-3M805 160l1 4M872 103l-3-1-1-3M914 235l4-1M1035 310l2 4 3 3M1003 63l1-4M943 110l3 2 4-1M1028 248l0-4 1-3M1041 303l4-2M1006 303l2 3 2 3M770 92l3 2M918 54l3 3M906 131l2 4 0 3M991 185l2 2 3 2M1007 190l-3 2-3 2M1024 320l1 3 2 3M917 147l-4 0M1018 90l2-3M860 94l-3 3-3 3M861 193l2-3M861 207l2 3M980 158l-1-3M976 110l-3 3M997 205l0-3 0-4M871 98l-2-2 1-4M835 255l3-1 4-2M996 175l1 4M845 248l-2 4M999 199l4-2 4 1M931 223l-1-4 3-4M928 304l-3 2M1028 178l-3 0M850 118l-1-3M844 96l-4-1M964 190l-4-1-3 0M936 167l-4-1-3 2M775 87l-3 1M820 165l-2 2M954 172l3 1M946 175l3-1M792 131l2 4M961 155l0-4 2-2M1047 304l-1 4M957 203l-3 2M862 138l2-4M894 152l4-3M841 266l3-1M962 147l1 3M1006 308l-2 3 0 4M950 321l-4-2M1044 79l5 0M925 116l2 3M873 145l2 3 1 3M1055 105l4-1M903 98l2 2 4 2M1065 202l-1-4M1004 306l-2 3M1007 144l-2-4-4-2M839 142l0-3 2-5M965 90l-2 3M831 264l-1 4M964 283l-2-2M947 132l-5-2-3-3M1047 288l-3 3M836 315l-2 3M910 273l-3 2M899 215l-5 0-2-4M784 318l-3-1M986 67l3 1 3 0M1031 142l3 3 3 2M917 121l-1-5 3-3M848 61l-2-3-2-3M836 270l1-3 3-2M980 182l-2-4M1004 147l-3 1M788 111l-3-3M965 174l-3-2-3 2M791 303l-2-4-1-4M900 61l-2-2-3-4M1046 218l4 0M931 52l-3 3M1001 165l-2 3M1015 144l-4-1M987 264l-2-3-2-4M846 255l0-4M848 54l3 2M869 78l-1-4M913 138l2 3M785 194l-2-4M1024 43l-1 3-3 2M831 100l4 2M880 221l4-1 3 0M934 211l-1 3M1037 57l3-3M1043 106l-2 3M1039 197l-1 4-1 3M862 310l-3-2M850 139l-2 3 0 3M933 176l3 0 2 4M779 155l-2-3 2-3M1052 211l-5 0M842 129l-4-1M781 224l4 1M977 137l1 3M769 230l1 4M933 135l-2-3M1023 184l3-2M910 192l-1 3M1009 147l-3-3M902 208l4 0M900 102l4 0M1052 100l1-4-1-4M1040 178l0 4 2 2M899 313l0 2 0 4M790 203l-1 3-2 4M778 258l2-2 2-3M964 162l3-1 3-1M1021 104l4 2M891 146l4 1M884 92l3 2 4 1M880 201l3-1 2-2M917 312l-3-1M898 105l3 0 2 3M814 203l3-3M778 307l0 4 2 3M859 139l3-1M807 98l-2 4-4 0M868 303l0-5M884 302l3-2 4 0M1052 155l-5 0-4-1M902 72l-4-1M932 77l1 3 4 1M972 279l-1-4-2-3M1015 139l0 5 1 4M873 278l-3-2-3 1M860 178l3-1M917 321l2 3 2 2M783 294l4-1 4 0M873 165l3-1M941 314l-2-4M820 57l4 0M785 145l-3 0-4 3M812 184l4 2 0 4M924 151l-2 1M887 41l4-1M864 303l-1-2M850 94l0-3-3-3M1029 216l3 2 4 1M902 205l3 1M853 70l3 2 4 1M780 280l-3 1M1052 152l1-3 3-3M877 77l5 1 3 1M961 113l-1 3M961 75l2-3M1000 188l4 2 3-2M868 275l-3 3-1 3M911 199l-2-1M906 120l-4 0M780 74l4 0M1032 131l0-4M840 247l4 2 0 4M861 183l0 3M897 235l0 5M904 255l1 4M793 85l-3 1-3-1M954 166l0 5M1028 123l2 2 0 3M968 77l3-1M811 203l4-1 4 2M940 192l0-3M858 74l3 2 2 3M956 110l3 0 4 1M1027 202l-4-2-2-4M1061 49l3-1 1-3M1021 203l2-4 2-4M778 152l2 3 0 2M943 259l3 1 1 3M918 294l-3 3M1061 124l-3-1-3 3M894 117l-1-5-1-2M857 113l0 4M844 273l4-1M828 61l2 1 4 1M983 134l0-3M989 101l3 0M977 157l-3 3M951 97l-4 0M781 74l0-3-3-2M823 198l-2-3-3-1M847 117l-4-2-3 0M892 247l2-3 3 0M948 50l5 0M821 196l4 0 3-3M861 238l-4 1M955 130l2 2 0 3M964 275l0-4 1-3M859 130l1-3 0-5M963 230l-2-5M864 208l-3 1-3-3M817 199l-1 4-3 3M941 57l3 3 0 3M867 129l-3-2M770 265l0-5M1052 64l0-5 1-3M918 204l0 4-2 4M764 42l0-4 0-4M1036 81l-4-2M970 162l3-3 3 1M895 265l-3 2-2 3M1047 220l-4 2M851 93l3 3 3 2M953 160l1 3-4 3M896 91l2 3M972 114l-3 1M982 283l2-4 3-3M925 314l-4 0M781 121l3 3 3 0M914 201l-4-2-3 2M1035 270l3 2M954 189l-2-2M838 260l3 2M819 245l3-1 4 2M961 299l-1-4M985 287l3-3 2-4M1039 83l1 4M822 210l-1-4-2-3M1034 256l2 2M908 233l-3 0M1013 154l2-2 1-3M845 47l-3 1-2 3M955 80l-3 2M915 172l3 3 2 2M973 286l-3-2M998 298l-1-3 3-2M924 319l-1 4M894 143l1 3M854 241l1-4M982 267l-3-2M766 303l0-4 4-2M798 197l1-4M1038 96l-3 0M822 97l-4-1-3 0M997 73l-3 4-3 0M850 309l3 2M996 264l0-4M887 48l2-2M847 50l3 3M1050 264l-2-4M965 43l2 1M909 112l-3 1M778 254l-1 4 3 2M879 320l4-2M915 140l-1 3M949 76l3-2 5 0M898 228l1 3-1 3M884 306l4-2 1-3M805 157l2 3-2 3M1025 91l2-3M837 61l-2-3M806 128l2 3 4 3M831 131l1-4 3-2M999 245l-4-1-1-3M1035 42l1-4 1-4M855 185l4 0M964 102l-3 0M1027 67l-5 0M845 180l3-4 0-3M998 179l-5-1M826 149l1 4 2 2M1046 305l4 2M1053 226l4-1M817 53l1 3 3 2M878 224l2-3 3-4M875 200l3-3M967 243l-4-2-3 0M1006 66l3 1M823 89l2-2 5 0M969 180l3-2 3-3M788 104l-1-4 1-4M776 284l-4 1-3 3M1051 284l3 1 4-2M839 259l0 4M912 203l3 1M791 134l3 2M988 205l4-1 3 2M790 190l-1-3M901 136l-4 0-3-3M901 123l3 2M962 48l-2 2M843 96l3-2 0-3M1010 55l-3-3 0-3M917 105l0 4M952 200l-1-3M834 143l3 2M835 271l-3 2M864 146l3-3 2-1M896 242l-2-4M921 272l2 0M931 302l-3-1M905 61l2 4 1 3M1017 296l-1-3-3-1M777 150l2-2M1044 254l-3-2-3-2M982 157l-4-2 0-3M829 262l3 0 0 4M822 278l-4-1-3 0M997 142l3 1 0 4M919 115l-3 1M802 275l3-3M895 124l3-1M806 95l4 1M798 274l4 1 3-3M1041 216l-3-2-1-2M813 298l-1 4-3 2M893 157l-1 4-3 2M864 66l1 4M942 172l3 1M1031 260l3 0M847 151l2-5M798 150l4 0M858 246l1 4-2 3M783 44l-3-2M900 119l-1-3 2-3M881 287l-3-3-2-1M772 219l0 3 2 4M1005 66l-2 2M797 124l1 4M885 164l2 1M1009 141l1 4M820 249l1-3-2-2M1026 54l-4 1-2-1M844 271l-1 4M907 99l-3 3M878 280l-2-2-4-1M875 161l-3 4M1018 145l-1 4-3 2M1038 216l-1-4 2-2M877 85l-3-1M885 110l1 3M1036 257l-4 0-4 0M829 152l0-4 1-4M1046 233l-3-3M804 206l1 4M919 206l-5 0-2-3M986 140l1 3 4 2M850 239l3-1M791 83l-3 3M889 152l-4 2-3-2M849 37l4 1 3 1M817 73l1 4M843 160l-2-3 2-3M927 295l4 1M984 252l-3-2-4 0M1049 182l2-3 4 0M1013 88l0 5M1049 322l-2 2M812 61l-2 3-4 1M961 254l1-4M979 272l-3 1M836 93l-2-3M1052 281l1-2 4-2M924 159l-1-4 2-4M1034 312l2-4M909 90l0-3M792 130l3 0 3 1M898 135l4-2M931 114l3 1 3-1M864 197l-3-3M839 235l-2-3M799 151l-4-2M823 151l-2 4 3 4M860 74l4-1M782 282l-3 0-3 2M853 105l0-3 0-4M943 303l-2-3M1030 201l0 4-2 4M899 236l-3 3 1 3M1034 184l-2-3 3-4M979 112l3 0M904 326l4-2 3-1M831 214l-1-4M1048 216l2-2 3-1M1038 116l-1 3-1 4M770 209l4 0M816 86l2 3 2 3M1021 256l4-1M959 290l0-5M877 151l2-3-2-5M1052 180l4 1M809 324l4 1M801 287l0 4-2 4M907 288l-4 0-2-4M843 72l2 0 5-1M981 258l0-4-3-2M885 294l-4-2M1001 52l0 4M864 167l4 2 2 2M901 298l2 2 0 3M770 94l-4 0-2-3M849 116l-4 0M800 297l-1-4-1-3M881 148l2 3-2 3M811 156l4 3 1 4M992 277l3 0 4 2M873 170l2-3-1-4M838 42l1 4 0 4M1011 66l1-3M999 305l3-2 4 0M870 103l1 4M819 158l-2 3-1 2M1005 194l3-1M975 183l-3-2M1033 124l2-3M764 46l-2-2 0-3M968 132l1-4M884 307l-4-3-2-1M880 112l4 0M830 113l-1-3M871 53l3-3 4 1M922 293l-2 3-1 3M794 89l-2 4 2 3M906 166l2 4 1 2M1049 118l-2-3-4-2M1008 135l-3 1-4 0M811 91l3 3 4 2M997 266l0-3 1-3M804 115l4 1M963 41l3 2M1031 142l0 3 2 3M840 212l2-2 3-2M1042 144l-3-1M935 304l-4 3M841 198l2 3 1 5M878 120l-2 4-4 2M920 234l3 1M851 97l1-4 0-3M804 232l-4 1 0 3M783 89l2-2 3-3M795 277l-2 3M944 59l-4 1M957 152l2 3 2 3M836 110l-1 4 2 2M907 38l-3 3M1027 191l-3-3 0-5M926 280l-4-1M1019 80l-5 0-3-3M972 252l0-3 0-4M879 133l2 2 3 2M1023 257l1 4M1020 152l-1-3-2-2M1006 259l4-1 4 2M848 45l-1-3M1003 322l1-3-1-3M1010 44l-3 4M900 212l1-4 0-4M793 216l-2 3-3-1M1033 237l-3 2-2 3M866 71l1 3M908 50l-4 2M947 154l2-3 0-4M791 109l4-1 2-2M1035 235l2-4M1054 209l-3-1M989 263l4-1M992 287l-4 2-3-2M833 91l-2 3M1042 151l-1-3 1-3M904 177l1-3 4-2M981 233l-3 0-2-4M921 317l-1 3 0 3M1035 181l4 3 3 2M1051 38l0 4 3 3M782 275l-3 0M960 67l-4-2M893 63l3-1 2-3M800 96l-1 4M932 129l-1-3 2-4M815 126l-3 1M914 124l-2-4-1-2M1042 122l-3-2M1039 214l0 4M942 258l-3 2M1053 78l1-2 2-3M810 77l1-4-2-3M907 169l-1-3M847 204l-4 0-4 3M867 295l-2-2 0-4M967 193l3-2M939 184l-2-3-3-1M818 50l2-3 2 0M905 121l3 1M804 98l2 3 3 3M790 90l-3 1-2 3M889 309l-3-3-2-4M927 171l-3-3M1008 72l2 2M1042 239l1 3 2 2M815 319l3 0 2-4M904 91l0-5 2-2M1049 66l1 3-1 4M1006 126l-4-2M912 101l-4 0-1-3M968 328l0 4M893 53l1-4M862 126l-3 0-4-2M862 59l4 1 1 4M785 194l3-2-1-3M1023 48l-3 3M1052 189l0 3-2 3M857 195l4-1 1-3M978 248l3 2M913 181l4 0 1 3M859 274l-2 3M1056 242l4 2 2 2M910 191l-3-4M1030 306l2-2-1-3M862 213l-3 2M1015 188l3-1M776 303l1-3 4-1M855 292l3 1M917 231l-3-3M1021 98l2-2M800 273l3 3M803 281l-4-2M1031 124l-3 4 0 2M805 281l1-4M987 135l1 5 0 3M1021 237l-4-2M833 256l-3-2M1056 233l-2 3 0 4M1039 190l-1-3M773 155l-3 2M1023 265l3 2M956 249l-1-3M984 122l-1-5M874 95l2 4-1 3M1055 321l-2 3M816 173l-4 2M897 258l2 4 2 3M919 301l3 2M1052 159l0 3M966 171l-2-3M1048 266l-4-1M801 149l0 4 0 3M900 302l-1-4M788 156l2 3 4-1M974 126l-2 4 1 3M859 105l2-3M864 319l-3-3-1-4M1051 306l3-1M825 169l3-2 0-4M947 286l1-3M895 97l-1-4-4-2M844 169l4 0 1-3M994 133l-3-2M1052 163l-3-2M1055 303l3-3 3 1M912 94l2-3 1-3M787 233l0-4 3-3M909 121l-3-2M987 254l-3-1M915 288l4-3M951 320l-1 4 0 4M863 123l-1 4 0 3M895 123l-4 1M923 311l4 1 3 1M1032 226l-1 4-1 4M961 251l4 0 4-1M776 163l-3 3M843 75l2-3-1-3M852 263l2 3 3 3M937 165l-2 4-3 2M838 114l3 4M884 157l-3-1M953 269l4 0M808 80l-1 4-2 3M936 144l-3-1-4 1M853 86l3-2 0-4M1014 74l4 0M849 83l-1 4 0 4M791 116l3 2M933 283l3-3 3 0M912 66l-3-2M777 243l-4-3M1006 171l-1-4-2-2M818 322l-2 2M1001 238l0 3M847 50l-1 3-4 1M924 295l3 1M951 279l4-3M864 210l-1 3-1 4M791 75l0 3M1008 172l-3 0-4 0M837 267l-3-2M1048 202l3-2M916 302l3 0 3-1M805 280l3 0 3 3M1017 101l-1-4-3-2M819 226l-3 3 2 4M971 276l0 3-2 2M1045 94l1-3M872 100l-2 1-5 0M1037 213l-4 1M953 193l1 4M970 276l-3 1M831 194l-3 0M872 265l2-3M884 284l4 0M1031 54l1 2M1011 132l-3 1-3-1M1055 314l0-3 3-2M1015 268l0-3 2-3M798 52l-1 3M806 150l-3-1M791 223l-3 1-3 4M1007 275l-3-1M978 221l-1 4-4 0M971 160l-1-3M1042 268l-3 2-3 3M800 282l3 0M897 122l-1-3-3-1M981 121l-2-3-2-2M1051 171l-3-1 0-3M898 124l3-2 3-2M908 282l1-2-3-3M872 294l-3 1M849 75l-3-2-3 0M932 327l2 2 0 3M837 254l2-4M858 132l3-4 0-4M982 222l-3-2 1-3M1004 305l-3 2-2-2M872 204l-3-1-3 0M1002 126l2-3 4-1M866 97l2 3M1005 295l4-2 3 3M876 217l-3-3-2-4M857 213l-4-1-3-2M941 167l3 0M842 107l-2 1M793 249l0-4-1-4M1010 104l-2 2M920 144l-4 1-1 4M946 63l2-4 3-1M902 118l-4 2M948 201l-1 3M828 138l-4 1-2-2M1023 162l0 4M1032 313l-3 4M917 124l-1-2M793 168l4-1 3 3M994 136l-4-1-3-1M1035 191l-1-3M980 220l4 0M860 245l-2-3M772 94l1-5 3-2M932 298l3 3M870 194l-2 3 3 3M790 41l1-3M1018 245l-4 0-4 2M798 266l2-2 1-3M949 174l3-2M1051 175l-4-1-4 3M960 150l-1-4 1-4M784 248l-4-2M972 176l-2-4 0-4M1024 89l-2-4 0-3M788 71l-3 1-3 2M874 280l4-1 3-2M904 309l0 3M902 178l-5 0M1002 146l1 4M889 283l4 3 0 3M997 157l3 3M869 88l1-2 4-1M875 178l0 4M909 108l-1-3M1037 221l4 1 4 2M969 309l-3-2M1051 206l-2 3 1 4M1032 313l2 4 0 4M835 268l-3-1M1032 94l2 3M901 161l-3 2M909 316l-2 3 3 4M798 129l4 1M889 279l3 2M801 189l3 0 5 1M920 216l3 3M1015 177l1-3 4 0M922 214l-2-2-1-5M941 118l2-4 1-3M903 193l-4-1M1007 73l3-1M953 146l4 1 3-1M923 51l-2-4 0-3M962 53l-3-3-1-3M840 97l0-4M843 129l-3 3M950 272l-3 1M853 59l3-2M939 145l-3 1-5-1M771 104l1 4-1 4M1046 311l-2-3M819 57l0-4 2-3M931 143l-1 3-2 2M839 279l1 4M1041 93l4 0 3-2M957 124l-3 1M867 52l2-2M993 114l1-3-2-2M1057 320l3 0M971 307l2-2M831 101l-3-1M1044 263l-1 2M1042 108l-2-4-1-3M900 295l-1 4-3 1M806 218l3-2M956 281l1 4-1 3M838 190l3-2 0-4M1009 286l-2 2M834 65l-4 0-1-3M871 47l4 0 3-4M1024 244l3-2M985 248l4-3 1-3M826 298l3 2M948 70l-3-2-4-2M1015 295l-1-3M767 117l-1 3M854 189l-3-1M1014 208l-4 2M855 179l2 3 3 1M916 94l-4-2M772 134l-1 4-2 4M928 177l0-4-3-2M995 206l0 3M891 150l-3-2-2-3M897 151l4 4 3 0M825 58l-3-3-4 1M938 198l2 2 3 3M1011 66l2-2 1-3M785 194l-2-2-2-2M1003 175l2 3 4-1M1024 68l-1 4M1014 277l2-2 1-5M981 153l-1 3M960 228l3 4M882 112l-1 3 1 5M795 182l0-4-3-3M872 283l-3 2-4-1M959 126l-1-4M863 291l0 4M810 295l-2 4 0 4M861 157l-1 3M874 281l-2-4M964 123l3-3M939 147l-2-4-2-2M950 145l3-1M1035 321l3-2 3 3M1030 192l-2-3M993 126l-4-3M771 174l4 0M888 244l-4 2M957 179l3-2M766 92l3 2 4-1M861 61l2 2M971 111l4 1 4 0M969 246l2 3M888 133l-3 2-4 2M1050 184l-2-3 0-3M1055 251l-2 2-1 3M953 56l2 3-1 5M945 122l2-3M933 86l-3-2M820 119l-3-3M788 73l3-1 3 0M868 90l-1-5M1019 251l4 2M840 64l-1-3 1-3M975 113l3-2M816 243l-4 1-3-1M864 312l3 4M821 43l-1-3-1-2M777 262l-2 2M815 121l-1-4M887 68l3 0 4 1M855 161l4 1 4 1M986 227l5-1 4 0M771 273l-3-2M1043 121l1 4 3 3M921 144l0 4 2 3M1024 135l1 3 4 2M1053 172l4 1M1018 54l5 1M793 92l-2-3-3 0M803 200l0 4M1019 123l-3-1-1-3M789 76l1-3-1-4M789 153l3-1M790 161l-3 1-3-1M994 148l4 0M797 118l5 1 3 1M1057 177l3 2M903 243l-3 3M841 171l-3-2M814 299l0 3-1 3M784 107l3 4M961 235l-4 1-3-1M918 182l2-3M1050 290l3-2 3 0M1000 129l-3-2M825 81l-2-2 1-4M822 294l1 3M782 48l-3 0M1035 122l2 3 2 2M946 162l0 3M772 307l1 3M1004 113l-2-2-3-2M881 207l1-4 0-4M913 261l4 1 4 1M776 74l-3-1M841 197l1 3 3 2M1044 309l-3-2M842 52l0-3-2-4M868 110l3 3 2 3M1036 289l0-4-2-3M970 307l1 4 1 3M890 308l2-3-1-3M965 100l-2-2-3-3M888 222l1 4 1 3M885 47l-3 2-4-1M826 86l3 2 4 1M990 280l-4 0-3-1M895 218l4 1M1036 220l0 4 2 2M828 110l-4-1-4 2M870 321l3 1M803 315l4 3 3 2M814 93l1 4 2 3M810 36l3 1 0 3M966 195l0-3-2-4M895 167l0-3 0-3M1044 274l4 0M810 198l4 1 2 3M957 280l1-3-1-4M885 182l2 4M787 56l-3-2-3-3M920 266l-3 2M1027 312l-4 0M1024 49l-4 0M841 128l-2-3M1044 306l-2 3 1 4M851 114l-1-3 1-3M947 265l3-3M1026 228l-3 1M1041 121l-2-3-5 0M1023 304l-1 3M786 149l4-2 3-2M1033 130l0 3 0 4M818 177l0-4M1052 285l1-4M1040 216l-5 0-4-1M986 154l4 1M910 293l2-1 3-1M826 187l1-4-4-2M999 192l0 3-1 4M958 285l1 3M969 314l3-1 4 1M835 242l-4 0M901 186l-4 0-3-1M865 44l-3 2M995 263l-2-2M1042 44l4 1M1033 186l-1 4M954 118l2 4 1 3M971 88l2-2M956 173l3 2M933 40l-4-3M843 117l3-1 0-4M988 88l4-2M819 248l-3-3M906 188l1-5-3-2M884 98l-2-3M1037 229l-4 0-2 2M932 131l-3 3 2 3M917 137l0-4M836 88l-3 0M1052 115l0-3 1-3M955 61l2 4 2 4M968 159l0 3 0 4M844 147l-2 3-1 4M840 275l-3 4M884 78l-1-3 3-3M960 225l3 0M1002 73l0-3 3-2M924 169l-3-3-3-2M974 181l-2-2 1-4M845 40l2-2 3 0M1002 52l1 2M863 109l3-2 3-1M858 119l-3 1-3-1M804 200l0-3 2-3M788 288l4 0 2 2M887 75l-2 3-3 3M1014 141l-2 2M969 92l-3-1M987 276l-2 3-2 3M867 84l3-1M877 218l-4 3-4-1M1029 320l3 0 3-4M863 254l1 5 0 3M1016 117l3 3M876 204l0-4M1014 60l-1-3 2-3M1036 226l2-1 4 0M910 157l3 4M956 152l3 0 2 3M776 296l-2-5M962 61l3-2M772 114l-1 4-2 3M913 190l4 0 3 0M926 303l2-2M1030 80l2-2M783 267l4 2M822 161l-3 1M960 184l3 0M1045 210l-4-1M850 66l2 3 3 0M1017 309l4 0 3 2M972 218l1-3M1000 120l2-2 4 0M905 249l-1-4-3-3M1007 76l-2 3-2 3M912 121l3-1M872 98l0 4 4 1M870 64l1 3-2 3M848 81l3-3M972 41l3 3M1053 311l-3-3M845 142l-3-1M855 64l3-1M810 299l-3-1-2-3M883 318l3-4M841 285l-2 3-2 2M863 242l0-4M930 155l2 3M989 68l2-3 3 0M938 255l1-4 2-2M806 256l-3 1M882 302l2 4M978 325l-4-1M811 194l-3 1-4-1M1025 108l4 1 4 1M932 170l3 1" stroke="#74706e" stroke-width="1.70" fill="none" stroke-linecap="round" stroke-linejoin="round" marker-mid="url(#cG)" marker-start="url(#hW)" marker-end="url(#hW)"/><path d="M973 193l-3-3-4 0M777 205l-2 3M1026 159l2 2M868 132l2-3M1052 113l-3 1M870 67l3-2 3-1M776 57l-1 4M912 162l-2 3-2 3M825 293l0-4 3-3M1001 117l-4 1-2 3M789 157l-2-3 1-3M986 174l-1-3 1-3M1015 113l-4 1-3 1M888 204l2-3M877 309l2 3-1 4M839 196l4-1 4 3M1057 114l4-2 3 2M1024 117l2 2M802 239l3-3M866 272l1 2M979 55l1-3 2-4M902 224l-3 1M1026 257l3-3M995 129l-3-3-4 0M878 86l-3 0M959 42l-1 2M875 311l4-2M1061 241l1 4M868 298l-3-3M801 268l3 2 3 3M1014 109l2-3M915 55l2 3 2 3M891 253l2-2 3-1M919 119l2-3-1-3M1022 253l3 0M910 301l-1 4M767 173l-2 2-2 4M1038 79l1 4M772 113l-2-4M810 169l2 1 4-1M812 197l-1 5M825 71l-3 1-3 3M872 271l3 1 1 3M844 152l3 2 5-1M833 63l-2-4M975 284l3 0 1-3M820 124l-4 0M995 293l-2-2M1005 161l3 3 0 4M872 45l3 0 4-1M849 257l-1 3-3 2M968 163l3 3M898 197l4 0M877 61l-3-2M817 114l2 3M1017 241l3 4 0 3M920 288l3 4M840 131l4-1 3-2M926 215l-3 0M926 146l0-4M941 83l1 2-1 4M895 135l3-1 1-3M961 279l0 3 2 2M977 117l-4 1M918 181l-2 3M838 274l-2 4M801 153l-3 1-3 2M990 232l2 2 3-2M967 139l3-2 0-3M866 177l-1 4M1033 82l1 4 1 3M887 80l-1-4 3-2M1040 59l-3 0-2-3M1051 43l-4 1M1025 77l-3 0-4 0M963 271l2 3M898 59l-1 3M787 206l2-3M912 156l0 4M926 249l-1 4-4 2M1051 47l1 3M1060 267l-3-1M975 232l-3 2M921 283l1 3M1012 297l-1-4M834 135l4-1 2-4M996 263l-3-2M819 180l2-1 4-2M780 327l-2-2-1-5M922 70l0-5M906 136l3 3 3 2M1060 319l3-1 3 2M775 196l-3 3M877 264l-1-3-3-3M862 136l-3-2M1026 135l3-4-2-4M780 312l-3 2M1032 100l0-3M986 231l3-2M827 92l1-4M960 191l3 3M841 38l3 2M808 159l2-4 3-2M859 191l-2 3M1033 96l3-1 1-3M966 188l2 3M845 123l0-4M887 158l-2-3-5 0M887 65l2 4 2 3M777 118l-3 2M1018 161l3 0M1036 70l-3 3-3 3M970 77l3-2 2-3M796 142l-3-3M872 34l3-2 3 1M955 179l-4 2-4-1M793 159l-3 3M925 138l3-2M1019 95l2-3M902 90l-2 4 0 3M1022 161l-1-4M1028 211l-4 1-3 0M1058 290l-3-2M1016 174l0 4 0 3M940 125l1-4M1006 88l4-2M842 261l1 2-2 4M970 293l4 0M858 122l-1-3M777 102l3-4 3 1M843 129l5 1 3-3M814 178l2-4 2-4M782 99l1-3 3 0M910 277l2-4M898 59l2 4M991 296l-2 1 1 4M1004 174l-1-3 1-4M1033 202l3 2-1 3M893 73l-1-3M903 130l-2 3M812 243l-3 2-1 2M804 124l-3-1-2-3M862 141l4-2 3-3M970 227l3-1M1026 311l3 0M792 87l-5-1-4 1M953 94l-3-3 1-4M984 144l-1-2M861 226l-5 2-2 3M935 278l4 1 3 1M819 251l2 3 3-1M803 279l-2 4M1043 206l-4 0M1049 198l-3-3M1010 258l-4-3-4 1M1050 249l3-3-2-3M1050 95l0 3 1 3M876 159l-2 3-3 2M889 132l3-2 3-3M1024 117l0 4M960 197l3 1 1 3M1001 172l4 1M927 276l0 3 3 3M881 319l3 1 4-2M944 190l2 3M983 49l-3 3M972 200l-1-3M997 153l2 1M821 43l4 3M1061 77l-3 2-4 1M986 265l3-2 2-4M1054 147l-2-2-3-1M1056 270l-3 0M1049 209l4 1 4-1M1024 238l2-3M793 154l0-4M848 301l-3 3-3 0M962 193l3 0 3-4M837 81l-2-4-2-3M857 170l0-3-1-4M968 138l3 3M970 198l-4 0M949 121l-2-1-4 3M995 205l3 2 4 0M1040 86l3-2M954 122l-1-3-2-3M780 144l-2-1M1056 103l-4-2M832 52l-3-2-3 2M1014 144l-3 2M952 309l-2-3M795 114l-4 0-4 1M964 52l-2 3-2 2M819 222l-3-2M911 188l1-3M842 140l-4 2-4 1M1011 79l1-2 2-4M905 234l0 3 2 4M776 182l0-4 2-3M1024 124l2 2 2 3M940 210l0 4M798 82l-3-1-3 0M994 179l1-3 3-3M814 163l1 3 4 0M991 254l1-4 1-3M826 194l0 4M934 167l4-2M799 298l1 3M908 136l-2-2-1-3M907 146l3-1M1054 296l2-4M834 111l4 2 2 2M1041 124l-4 0-4 1M851 99l-3 0-2 2M866 191l4 0M914 307l3 0M1060 76l-3-1-3 1M1001 305l0-3-3-1M1017 141l-3 3-3-2M815 148l5-2M998 249l-1 4M867 126l3 2 3 1M898 245l4 0M1048 242l2-3 2-4M981 118l4-2M936 64l1 5M830 100l-3 2M868 306l0 3M1043 167l1 2 3 3M1058 277l3 2M920 147l-3-1M869 305l-2-3-1-3M999 132l2-3 3-3M1011 118l4-2 2-2M1041 236l-2-3M869 214l1 4 3 4M966 97l0 4M1062 316l-3-2-2-2M967 216l-3 3M1014 190l-2-1-3-1M808 143l-4 0-2-3M791 119l-1-3M949 126l-3 0M1044 311l-1 3-4 0M1005 214l-3 0M787 107l-3-3-4 1M1005 137l-1 4M839 49l0 3M876 149l0-3 3-2M913 67l1-3 2-4M912 215l-2-3M859 259l-1-3-2-3M964 109l3 0M847 62l-4 0-3-2M784 63l2-2 4 1M1050 214l-1-3-1-4M995 255l-2 3-2 2M972 145l1-3M865 111l2-2M798 163l1-4M879 211l0 4 0 4M1048 238l-4 3-3 3M1036 198l1 3-2 2M927 316l-2 4 2 3M876 146l-2-3M868 302l-1 4-3 3M773 311l-1-4M944 272l-2 3 1 3M870 102l3 1 2 3M869 48l-2-4-4-1M774 110l3-1M912 93l-3 1-3 2M962 230l4-1M845 153l-3-1-3-3M969 118l4 1M899 44l-2 4-4 2M991 278l1 3 2 3M812 293l2-3M978 131l4 1M923 247l-2 4 1 4M894 102l-3-3M885 88l-4 2-2 3M907 152l3-4M913 122l1 4-3 3M879 138l-1-4M1004 69l-3-1M776 85l-2-2M806 283l0 3M859 199l-4 0M958 238l-1-3-1-4M933 204l-3 3-1 4M890 225l0 3 0 4M1027 142l3 1M776 216l-3-3M1026 186l4 0 4 0M787 193l1 3 3 2M1000 60l2 3 0 3M887 69l-2-2M884 304l1-3M1026 64l-1 4-1 4M1027 160l-2-2M924 129l2 3 2 2M1029 106l3-3 1-4M783 55l1-5M816 275l-3 1-4 2M781 303l2-2 2-3M984 148l1 3M826 81l-4 1-2-2M788 36l2 2M985 307l1-4 4-1M904 107l-2 3M955 149l3-2M833 88l0 4M1006 62l0 4 3 1M902 292l-3-2M898 141l1-3 3-1M1022 118l-2 3-4-1M936 255l1-3M877 220l2-2M1023 224l3 3 4-1M918 313l-3-2-1-4M1041 293l3 2M774 159l1-3 3-3M783 307l-3 0-3 1M1026 240l3 1 3 4M833 68l-1 4M1002 311l-3-1-3 0M903 270l3-2 3 1M927 228l-3-2M809 156l-3 3M855 231l3 2 0 5M789 86l-2 4-1 4M889 218l0-3M777 313l-4 1-2 3M870 159l5 0M869 95l2 2 2 2M835 262l2-3M985 160l1 4M1062 280l2-2M992 80l-3 2-3 1M1006 232l4 1 3 0M891 51l2-4M830 286l-1 3-3 1M824 220l-3 3M1052 203l4-1M981 125l1 5M922 273l-5 1-1 4M816 128l-3-1-5 2M777 155l2-3 4 0M948 68l-4 1-3-1M771 95l-1 3 2 3M951 59l-1-3-3-2M772 285l0 4 0 4M806 300l2 4M826 63l3 1 2 3M797 200l3 3M811 188l-3 1-1 2M841 139l4 1 2-3M1017 47l-3 0-3-1M814 135l-1-3M851 260l2 3 2 2M816 251l1 4 2 4M925 128l1 4 4 2M970 224l-2-3-4-1M868 156l0 3M902 226l-2-2-2-3M1020 306l-3 3 0 4M996 124l1 4 0 3M909 209l-1-4 0-4M959 178l4 1M889 306l-2 3M950 288l4 1M858 86l-1-3M1015 79l-1-3-1-4M872 130l1-3 4 0M1005 105l-4 2M1031 175l3 1 4-1M1007 64l-3 0-3-2M1017 290l-4-2M916 76l-4 0M779 160l-3 3M807 199l-2-3-3 0M913 217l-1 4M996 63l3-1 3 0M931 310l1 3M839 269l3 3 4 0M943 221l3 0 3-3M852 65l-4-1M902 98l-1 4 3 3M845 118l-1-3-1-3M773 88l2-2 1-4M938 253l-3-2-3-1M910 78l-4 2-1 3M1010 53l-3 3M796 113l0 3 2 3M821 53l1-3M1038 107l2 4M945 316l-3 0-1-3M908 321l2 3M916 136l-3-3M935 258l-1 2M803 150l-3 1M954 122l0-4 1-4M1029 94l-1 4-3 3M890 285l-4 2M808 250l3 0 4 2M934 143l-4 0M932 138l1 4 2 3M797 272l3 1M1012 239l1-3M777 314l3-3 3 1M948 291l-2-4M777 276l4-2 3 2M957 325l-4-1 0-3M905 176l4-1M795 79l4-1M855 320l2-2M802 278l3-1M921 233l0-3-3-3M1021 153l3 0 3-1M792 157l-1 4-3 4M923 134l4-1M781 236l4 1 1 3M787 132l0 3M793 63l0-4 1-4M999 208l2 2 3 4M1043 190l4 1M983 107l0 4 2 2M901 292l-4-1-2-4M939 153l3 2 1 3M886 293l2-3M819 248l-3 3M911 267l1-3M826 69l2 3M971 86l-2 3-2 4M1056 273l-3 0-3 2M977 277l3 3 4 1M885 277l-4 0-4-2M813 265l3-2 3 2M847 64l-3 0M1009 186l-4 1 0 4M1012 60l0-4 3-2M913 287l2 3 1 3M844 42l-1-5-2-3M992 118l-2 2-4 3M1018 298l0-3 2-3M774 141l-3-3 0-3M919 68l1-3-2-3M1049 191l-1 4 3 2M1024 194l2 3M920 260l1 4M899 128l-2-4 0-3M886 67l2-4 1-4M961 70l-3-2M917 222l3 2M929 85l3 0 3-3M876 202l-3 0-2-4M812 98l-4 0M825 95l-2-3-4 0M789 47l3-1 3 1M967 219l-4-1-2-2M814 111l3-1M1055 243l0-3 1-2M860 162l2 0 2 4M818 185l1 4M964 164l3-3 2-2M980 176l0-4M782 193l1 3 5 0M832 120l3 3M997 250l3 2 3 3M832 111l4-1 1-3M909 268l3 1 2 2M814 172l2 4 1 2M780 285l-4-1-3-2M1046 187l-3 2-1 3M891 231l-4-1M818 97l2 3-1 3M882 315l2 3-2 4M905 148l-2 3-1 3M900 97l3-2M838 213l3 3 3-1M843 216l-4-2M1018 91l-3-3-3 1M1056 141l-2-2M920 128l0 3-1 3M779 197l0 5 2 3M1029 151l0 4M843 273l3-2M933 67l-4-1M807 89l-4 2-3-1M1055 175l1-3 0-5M1010 168l2 4M1007 310l1-4M943 327l2-3 1-3M875 256l3-2M987 238l-2 3-1 5M911 298l0-3M853 166l-2-3-3-1M1033 71l0 4-3 2M800 276l2-3M841 193l-3 3M898 49l-4 0M932 315l0 3 3 3M1027 139l4-2M984 159l-2-2-1-4M795 192l0 3M827 185l-3 3-3 2M984 321l-3-1M1063 91l-1 4M924 236l4 0 4-1M785 200l0 4-3 3M1026 42l-1-4M973 246l4-3 3 2M829 145l-2 3M833 176l-4 0M1017 318l-3-1M882 304l-3 4-3 0M921 173l2 3M862 197l0 4-1 3M778 102l3-1 2-2M1047 290l-3-1M879 296l4 3M1027 193l-2-4M1044 274l2 4 0 4M805 97l-4 0M1029 257l1 3 0 3M953 46l2 4 3 1M1052 85l-3-3M840 62l-4 3M994 77l-1-3 1-2M801 76l2 3 3 0M1060 280l-3-1M940 48l3 1M985 296l-1 3M889 107l3 2 0 3M952 120l-3-3M848 54l3-4M789 195l-3 3-4 0M1040 296l-2-4M813 85l-3 2M1014 190l4 1M887 44l-4-2 0-4M995 291l1-4-1-5M1036 108l4 2 3 0M1016 266l-3 1-2 2M843 61l-4 0-2 2M961 191l-4 0-1-3M935 83l2-2 5-1M964 280l2 3M821 84l4-3 1-4M1053 242l-3 0-3-3M825 271l3-3M939 120l0 3M889 94l2 1M991 308l4-2 5-1M966 119l-4 1M936 240l-3 3 1 4M932 285l-3 2-3 0M1016 49l-3 1M904 132l-3-3M883 133l4 2M907 190l-3 2-3-1M794 238l-4-3 0-3M822 206l-1-4M957 61l-2-3M833 42l4 2M1033 148l2-3M933 251l-5 1M792 151l-2-4 0-4M955 126l-3 0M906 202l-4-3M851 57l-4-1-4 1M936 249l1 3 2 4M780 49l3-2M785 47l-2-2M1049 139l-3 1-2 4M1029 282l2-3M829 300l1 3-1 4M995 39l-5 0M960 227l4-1M852 57l-3-1-3-2M816 49l-2-2-3-1M977 257l3 1 2 3M880 300l2 2 2 2M1025 63l-1 4 1 3M782 152l2-2M861 225l3-2 3-1M1016 48l-2 3M829 84l2-3M795 290l-3-2M990 287l2-2 4 0M991 254l-1-4-3-2M990 212l-2-3M859 252l-2-3-2-3M859 70l-4 2M877 202l-2 2M896 259l2-2 2-4M959 171l0 3-3 1M800 173l-3 3M1019 73l3 0 4 0M991 191l-1-3-2-1M949 142l4 1 1 2M1035 65l-1 4 0 4M853 66l4 0 3-2M810 47l1-5-1-3M875 100l-4 2" stroke="#625c5a" stroke-width="1.70" fill="none" stroke-linecap="round" stroke-linejoin="round" marker-mid="url(#cG)" marker-start="url(#hL)" marker-end="url(#hL)"/><path d="M965 181l1 3-3 3M783 109l-1 3-3 2M863 249l3-1 3 1M928 293l-2-4M1030 187l4 1M769 284l3-3M949 54l2 4 3 1M883 126l0-3 3-3M854 315l2-3M800 77l-4 0M968 271l2-4 3 0M843 156l-2-2M803 297l3-3 4 0M1021 296l1 5M857 120l-1 3-4 2M863 41l-2 3M826 209l-3 1-4 0M818 277l-4-1M882 276l4 0M979 227l4-3-2-4M947 251l3-2M1006 65l4-1M891 53l-1 5M918 326l-3 0M856 170l-4 2-2 3M1007 261l3 3M964 249l-4 0-3-1M931 191l-3-2-2-3M968 81l3-2 4 0M823 101l-3 2-4 0M966 175l3-2 4 1M819 278l4-1M825 158l-3-2M1025 80l3 0M907 319l-1 3-1 3M976 259l5 0M833 261l2-1 4 2M859 266l-1-3M970 316l1 4 2 3M932 47l1-3M1035 49l2 3 4 2M896 251l-3 2-3-1M964 303l-4 0-3 2M1047 219l-4 1-3-2M921 87l3-2M793 93l-4 0M811 62l-2-2-3 1M1016 310l4 2M970 276l-4 0M786 282l-3-2-3 1M983 262l3-4M840 189l3-3 3-2M968 195l-1-4M860 151l2 3M1016 287l1 4-2 3M913 208l1-3 1-2M783 194l3-2 1-3M799 129l-4-1-4 1M1037 271l4-1 2 3M765 266l-2-3M1026 305l-1 3 3 4M820 167l3-2M815 233l4-2 4 0M926 308l2-2M900 129l4 0M953 63l-3-2-2-3M993 135l3 2 3 2M885 235l2-3M1026 269l-1 3 1 4M1049 185l3-2M820 51l4 2 2-2M808 291l-2 2-3-1M801 219l3-3 2-4M914 161l-2-4M854 258l1 4-4 2M920 308l-2 2M771 254l2 3 1 4M890 109l2 3 4 0M774 326l-3 1-1 4M1022 71l-2 3 0 4M924 177l3 2 3 1M954 192l3-2M974 264l-2 0-2-3M919 251l-1 3 1 3M865 144l1 4M870 228l-2 3M871 280l2 3-1 4M878 160l1-5 3 0M998 122l2 2 3 2M902 314l3-2 3-1M1013 131l-2 3M812 315l-3 0M1051 162l2-3 3-1M1026 109l-3 0-4-1M913 52l1 4 3 2M874 102l-3 3-5 0M944 197l-1-4-4-2M799 272l2-3 4-1M901 182l-4-3 1-3M791 299l3 3 1 4M1014 292l4 0 3 1M808 131l1-3M766 285l-2-3-2-3M828 107l-3 3M785 194l3 2 0 4M906 207l2 3M1050 190l4 1M999 179l0-3 2-4M900 105l-2-3M1022 195l3-3 1-3M1014 297l3 1M1046 81l-3 3 1 4M885 197l-4-3M827 215l0-4-1-3M858 203l0 3M851 99l2-2M849 263l0-3M925 287l0 3-2 3M856 139l-4 1M918 143l-2-3M819 183l1 3M869 85l0-3 1-4M844 255l3-3M779 62l1 2M1016 105l0-4 4-2M956 45l2-4 4-1M861 99l3 0M817 127l4-1M1003 79l-2 2-1 3M1021 286l-1 4M919 204l2 0M873 311l-1 4-1 3M794 123l-2-2-3-1M962 171l-2 4M778 294l0-4M806 188l-1 3-4 2M1053 90l2-1 4-2M946 48l-2-3M988 139l-4 1M839 183l-4-1-1 3M1053 47l-2-3M985 138l-1-2-3-1M809 94l-1-3 0-3M832 217l-1 4 3 3M977 255l1-5-3-1M1048 287l4-1 4-1M817 125l0 4M814 117l1 5M784 83l3 0M888 110l4-2M1043 217l-4 1M1029 51l-2-2-4 1M1033 74l1 3-2 3M920 243l1-3M861 82l-2 3M910 127l3-1M920 258l2-2 3-1M807 44l-1 3M1012 130l3 1M808 114l-3 2-1 4M959 208l-2 3-1 4M914 317l-2 3 0 5M1001 60l1-3 3-2M877 123l-2-3M869 96l5 0 3-3M872 114l-3-3M862 281l-3 3M956 144l3-3M961 326l3-1M995 127l1-4M813 158l4-2 4-1M1011 188l2 2M900 66l5-1 1-4M922 270l3 1M799 192l-3 3M991 254l1-4M875 161l-1-3M1036 77l4-1M788 127l-1 4M1038 169l-3-2M770 290l-3-2M916 48l-3 0-3-1M800 78l-4 2M918 286l1-4M891 87l2 4M968 124l-1 4-4 0M967 146l-1-3M953 157l0 4 0 5M992 49l-3 0M853 263l3-1 2-3M819 242l3-2 1-3M845 117l-3-3 0-3M912 132l-2-3M916 312l3 2M948 143l3 2 3 1M816 177l1-3M1045 207l1-4M912 312l-1 3M840 215l4-1 1-3M910 289l3 3M879 307l0 3M924 238l0-3 0-5M947 175l3 3M883 288l-2-4-4-2M834 279l-1-3M822 177l1-4M999 159l-2-5M1030 174l-4 0M945 127l-3 4-3 2M1036 233l3 3 1 2M983 157l2 3M1035 216l2 2M855 327l3 3M767 79l-2-2-1-3M1025 109l-5 2-4-2M1001 155l-1-3-4 0M820 148l4-1 2-4M993 284l-3-1M1012 37l-4 0-3 0M966 72l-3-2-1-3M920 258l-1 3M803 43l4 1 3 3M785 122l-3 2-1 4M1003 150l-3-1M998 175l-5 0M786 125l-3 1M1000 105l2 2 3-1M995 151l-1 3M1021 70l-3 3M1045 86l1 3M1007 247l-1 4-3 3M989 159l-2-4 0-3M986 248l4-2M1032 310l-1-3 3-4M920 245l-3-2M959 172l-3-1-2-3M1057 296l0-3 1-4M1017 206l-3 0-3-3M1014 51l4-3M998 139l2-4M1027 113l3-1 1-4M934 235l-2 3M917 182l3-2 3-2M1010 297l2-4M1004 101l-2-2-3-2M798 127l1-4M1043 306l0 3 3 1M781 148l-4-2M867 67l2-3M994 245l0 3M920 58l-3 1M840 113l-1-4 1-2M1003 50l3 0 3 2M804 150l1 4 2 4M1004 62l-4 2-3 1M1000 250l-4-2-4-2M903 75l4-3M1050 206l-4 2-2 3M1033 199l-3 2-3 1M939 288l1-3 2-4M841 124l-3 2M1057 191l-4 0-2-3M1040 229l3-3M990 297l4 1 2-3M1037 301l4-2 4 0M834 293l0-3M890 104l4 0M1034 126l-3-2 0-4M779 283l-5 1-2-1M822 55l1 2M787 186l0-4M892 107l3-2 0-5M788 290l-3-2M783 306l-1 3-2 3M842 60l1 4M954 68l-3 1-3 1M1024 152l-3 0M987 160l1-3 3-2M961 238l-2-4-1-3M1045 42l-1 3 3 3M923 240l4 2 4-2M783 62l4 2 2 0M789 221l1-4M775 173l-3 1-3-2M981 137l1-4M859 115l-3 0M1008 58l-1 3M858 90l-4 1-3-1M1033 293l3-4M1048 197l-2-2-4-3M949 179l-3 2M847 74l3-1M777 271l0-4M883 41l3-1M1024 140l-2 3-4 0M1036 315l2 4-1 3M861 277l4 1 2 4M1015 286l-1-3-4 0M1017 276l-2 2-4 2M980 125l4 1 3-2M981 201l3 0M859 166l-1 4 4 2M808 56l2-3M1030 38l-1 3-1 4M1032 185l0-3-1-5M840 96l-3-4M824 59l1 4-2 3M876 309l3 1 3-2M988 129l-4 1 0 3M991 219l2-4M950 90l3-3M933 146l2-3M955 65l4 2 4-1M954 195l4 1M771 220l3 1M885 272l-4 3-4 0M843 129l-4-2-3 3M803 237l-3 0-2 3M985 163l2 2 4 1M802 142l-2 3M887 192l3-3M975 113l-4 2-5 0M1048 150l4-2 3 3M1028 172l3 0 2 4M865 85l1 5M933 186l-4 0-1 3M943 65l2 2M1059 286l4-1 4 1M829 202l2 3 2 4M948 35l1 2M1039 224l-2-4M804 36l-2 2M956 199l4 1 3 3M957 120l1 2 0 4M921 151l3 2-1 4M989 56l-1 3M985 261l2 2 2 4M1046 193l0 4 4 1M985 231l-3-2M890 231l-5 1M904 309l-1 4 1 4M843 95l-3-3M1062 157l-1 3-3 0M978 291l-1-3 3-3M1014 180l-3 2-3 0M994 224l0 5-3 2M845 178l4-2M839 98l0 4M982 188l-4 1M971 253l-2 3M772 228l-4 2M1043 195l1-4-1-3M841 53l-4 0-2 4M811 186l2 2 0 4M967 54l1 4M914 283l-2-3M885 214l5-2M990 264l4 0 3 1M981 264l-1-3M1026 119l-3-3M811 192l-3-4M935 256l2 4M994 186l3 3M804 141l-2-2M1041 293l-2-3-3-1M900 294l-3 0M767 180l1-4 0-4M936 135l2-3 2-2M1041 264l-2-2 2-4M805 93l3-2M831 139l0-3-2-3M1032 258l0-3M811 209l0-4-3-3M1031 142l0-4M919 163l-5 1M957 39l-3 3 1 3M764 131l3 0M795 66l2 2 1 4M910 164l-2-2-2-3M939 43l-4 2M819 183l4-1 4 1M780 272l-1-3 0-4M913 309l-3-2-2-4M804 280l-2 4M1002 242l-2-3 0-4M871 289l-2-3-4 1M926 167l-2-3M962 51l-3-2-4 2M996 107l2 2M924 284l1 4M906 118l-4 1M775 98l3-4 0-3M926 283l1-3 1-4M827 246l-4 1-2 2M842 116l3 3M891 144l-1 4M985 283l-1-4M916 120l-4 2M880 295l1 3-2 3M928 50l-2-3M955 169l-1 5-1 4M861 148l-3 0-4-1M935 119l-1-3 2-4M781 215l-2 2M843 312l4 1M886 314l-2 2-4 2M821 116l0-3 3-2M919 121l-1-3 3-2M799 298l3 1 3-1M969 326l0-4M1029 141l1-4 0-4M832 51l3 2M954 311l3-2M1018 228l3-1M1008 46l3 2 3 0M840 244l-2-2M925 178l-1-3M922 124l2-2M797 50l3 0M985 140l-2 4M793 192l-2 4M778 214l2 2 0 3M1011 146l3 3 2 3M1054 138l2-2 2-3M982 267l2 3-2 4M1025 205l-2 4-3 0M942 66l-2 3M881 156l1-3M1028 96l4-2 1-4M1001 196l-1 4-1 5M1005 59l-3-2M1000 209l-4 0-3-3M785 315l-2-3M970 119l-2 2M889 139l0 3 3 3M1026 56l4 2M885 282l1-4M906 125l4-2-1-4M997 278l2-3M1011 67l1-3M1025 208l-1 5M1020 251l3-2 2-3M1025 121l1 3 1 4M1059 208l-4-1M1046 163l2 2 4 1M862 50l-3-4 0-3M974 255l1 4M835 133l-4 1-2 4M917 223l1-2M911 119l3-1 2-3M1031 135l-3 3-3 0M859 45l0-4M883 186l1-4M900 125l3-1M817 286l1-4-3-2M1040 293l0-4M1052 242l-3 0M869 133l2 3M1056 123l3-2M870 67l-3-2-4-2M826 125l2 2M876 153l5-2M872 88l-4-1M973 178l-4-1M884 217l1-3M769 47l2 2M860 267l-2-2-1-3M836 261l1 3M824 199l0-4 0-4M851 132l-4 0M934 279l-3-2-1-4M951 131l0-3M1043 59l4 0 2-3M919 295l-3 4M805 180l3-1 4 1M968 253l3 3M909 166l-2 5-3 3M946 52l-4-1M884 309l2-4-1-3M934 313l1-3-3-3M851 78l3 2M981 267l-1 3M1036 144l-2-2-2-5M901 299l1 5 2 3M931 200l-4 3-3 0M840 113l-3-2M828 210l3-2M1023 135l3 0M1005 155l3 2M975 285l-1 2M1041 83l1-3M1028 62l3-1M1025 251l3 1M1050 234l-2 2-1 4M1051 290l-3-3M978 126l1 4 0 3M795 291l4-2 1-3M778 252l-2-4-3-4M894 112l-4 2M891 67l1 4M863 287l1-4 1-3M871 168l-4-1-4 0M1028 38l-4-2M790 161l-2-1-4 1M1045 285l-4 0-2-2M842 77l-4-2 1-4M1057 62l5-1 4 0M1002 47l-3-2-3-3M957 73l1 3M1010 161l-1 3M1042 208l-1-3M907 137l-1-4-3-3M835 107l-3-2M870 210l0-4M834 120l-4 3M951 65l-3-2M918 130l-4 1M824 122l-2 3M858 210l-3-4-4-1M1039 174l4-2M899 138l1-3M909 192l0 4 1 2M996 106l0 3-2 4M1061 176l-2 0M959 145l2-3M946 39l2 3M994 118l2 3M956 174l2 3M832 303l4-1M1028 79l1 4M794 90l3-2 3-2M1002 221l-1-3M885 281l-2 3M966 285l-3-1M881 192l-4-1-3-3M1047 68l3-3M868 198l5-1M811 242l-3 3M797 156l-4 0M841 302l-4 0-4 2M1051 256l0 4 1 4M882 211l-2 1M1040 217l1 3M922 231l3-1M807 218l0-3 1-3M1016 68l-1-3 3-2M949 322l-1 2M909 121l-3 1M921 171l2-4-1-3M833 109l-2 4-3 2M1037 264l-3-1M864 275l2-2 0-4M1018 301l-4 0M857 263l-4 1M951 127l2-3-1-4M991 143l3 2 3 2M1049 247l1-3 0-3M887 272l-3-1-2 2M912 96l-4 4M842 214l-3 1-3 0M782 89l-1 3-1 4M896 211l1 3-1 4M862 279l2 3-2 3M860 243l0 5 2 3M948 205l0-4-1-5M781 128l4 1M807 198l-3-1-4 2M786 207l-3-1M903 58l4 1M950 187l-3 0M991 94l0 4-1 3M1053 194l-1-3M999 108l3-2 2-3M1057 44l3 4 0 3M789 226l3 1 2 2M977 133l2 4-2 3M813 156l-4 0-4 2M892 290l5-1 2 2M974 261l-4-1M828 153l-4 3M790 222l-2-2-4-2" stroke="#8a8684" stroke-width="1.70" fill="none" stroke-linecap="round" stroke-linejoin="round" marker-mid="url(#hL)" marker-start="url(#hW)" marker-end="url(#hW)"/><path d="M869 292l4 1M950 291l2-3-1-4M997 76l3 2-1 4M907 225l-1-3M838 218l2-3-1-4M970 131l-2-3M849 149l1-4 3-3M792 121l-2-3M855 122l-3-3-3 2M1045 190l3 2M827 202l3-3M894 224l-1 4-2 2M963 205l0-4-1-3M955 201l-2 3-3 4M889 111l-1-4-1-4M815 302l1-3-2-4M1060 43l-1-3 0-3M889 165l2 1M948 196l4-1 4 1M772 35l4-1 3 2M1050 69l0 4M866 263l0-4 0-4M863 86l-3 1-4-1M1061 179l4 2M992 152l2-3M951 246l4-1M960 241l-3 1-1 3M895 303l-3 0M1022 259l-1-4M968 222l3 0M991 319l3 1 3 2M945 112l4 2M1027 316l-3 1M801 122l-3 3M882 69l0 4-2 3M932 218l-4 0-3 2M992 141l-2 2M1052 271l-4 3M931 230l5 0 1 3M880 291l-2-3M889 113l4 0M979 222l-1 3M1053 189l0 4-1 3M1058 238l3 2M888 176l1 3M978 291l1 4M974 121l0 3 1 3M825 197l-1-3M1003 169l-4-1M777 185l2 1M990 160l4 1 4-1M924 164l1 4M826 122l-1-3 0-4M819 167l3-4-1-3M813 79l2 4 3 2M963 56l0 3-3 2M917 137l3-1M905 42l-3 3M1025 149l-4 1-2 3M979 44l0-4-2-3M963 219l2 3M999 298l-1-4-3-1M1051 312l0-3M965 302l1-4M850 129l2 2 4 2M804 200l3 0 4-2M1032 87l2 4 3 2M965 153l-1-3-4 0M999 129l-3-1-1-2M818 208l3-2 4 3M1011 50l-2 4M1010 95l-4 0M876 215l4 1M893 151l-3 3M1016 252l1 4M950 136l-4 2-1 2M954 154l3-4-1-4M944 120l-1-3M793 44l-3-1M1049 56l-3-1M1047 43l2 2M928 308l1-3M795 154l3 2M867 91l-1 3 1 4M820 140l-1-4M874 254l3 2 3 3M922 250l-4-1M781 178l-3 1M901 155l4-2M996 120l3 1 2 2M924 210l1 4M1035 217l3 2 4 3M939 278l-3 3M850 151l3-3 1-3M889 86l-3-3M821 120l4 0M907 81l-4-2-3-2M834 264l2-3M785 99l-1 4M970 180l-3-3 1-3M796 278l-2 3 1 4M861 225l-3 4-1 4M863 271l-3 1 0 4M1056 248l-1-2 0-4M912 191l0 4-3 2M1034 234l-4 1M827 180l-4 0-4 3M873 145l3-3 3-3M1016 67l0 4M926 133l0-3M785 298l0-4-1-4M874 284l3 3-1 4M915 159l-1 4M849 94l-3-2M874 269l2-4M833 261l3-3M1030 278l-1 4-4 1M865 118l4-2 3 1M854 158l1 3M1003 64l0 3 4 2M873 109l-1 3M869 222l-1 3-1 5M788 236l4-2 2-2M797 43l2 3 3 3M948 267l-3-3-1-3M992 105l3 1M1031 93l2-4M853 51l3-1M857 236l3-1M1035 43l1-3M1051 204l-3-4-3 0M905 315l-1-4-3-2M837 222l1-4M782 157l-2-2-4 2M962 182l2 3M1036 191l-3 2-3 0M997 162l-1-4M991 143l0 3 2 2M924 156l-1 3M825 257l-2-2" stroke="#74706e" stroke-width="1.70" fill="none" stroke-linecap="round" stroke-linejoin="round" marker-mid="url(#cG)" marker-start="url(#oR)" marker-end="url(#oR)"/><path d="M776 164l3-2 3-2M1047 134l-2-4 2-5M864 296l-1 4 3 2M954 84l3-2M952 86l-1-4-3-3M949 146l2 2 1 5M1062 184l0-3 4-2M798 286l-3 1M872 83l-1 4M899 129l-2 2 0 3M1056 304l-1-3M952 315l-1 4M802 260l-3 0M880 135l-2-2M914 73l3 1M886 183l0-3M905 102l0 3M1044 207l-3 0M890 195l0-4M896 209l3-1 3 0M975 123l3 1M1030 72l-2-3M1055 322l-3 0-3-2M818 52l3-3 3-3M1012 199l-2 4M811 282l-3-3M834 292l4 2M1039 245l-2 4M876 192l-2 3M1044 50l-5 2-4 2M965 238l-3-1M1021 273l-1 4-1 3M927 256l0-4M868 276l-4-2M891 210l3-2M1002 234l0-4M778 203l4-1M916 279l-3-3M865 275l-5 1-3 0M803 303l4 1 1 4M1010 73l4 2M870 231l0-4 0-4M952 159l3-1M885 310l-5 1M990 108l2-3 3-1M910 293l0 4 0 4M864 112l-1-3 2-4M838 58l1 3 1 4M792 124l0-4-4-1M789 48l2-3 4-1M864 55l-3-2-3 2M814 164l-2-4-5 0M933 146l-2 4 1 3M976 314l-2-2-3-2M936 50l3-2 0-4M914 71l4 1 0 5M896 114l2-2M987 295l-1-3M971 214l1 3-1 3M799 273l-3 3-4 0M1057 232l4-2 3 2M1041 198l2 2 1 3M847 57l-2-2-1-4M822 141l-1-2M1030 65l-5-1-4 0M999 289l-2 1-2 3M939 224l2 3 1 4M982 92l-3 0M1052 169l2-4 3-1M938 142l-4 0-1 4M879 135l-4-3M1048 236l-4 1M885 136l-2 3M997 299l-3-3-2-1M908 130l3 2M888 308l-3 3-4 1M770 147l4 1M966 198l4 0 3 0M925 60l-2-3M934 284l-4 1-2 4M940 128l4 2M1004 174l3-1 2-2M828 76l2 3M861 287l4-1 3 0" stroke="#7a7474" stroke-width="1.70" fill="none" stroke-linecap="round" stroke-linejoin="round" marker-mid="url(#oP)" marker-start="url(#hW)" marker-end="url(#hW)"/><path d="M767 37h0M786 39h0M843 39h0M844 39h0M884 34h0M930 37h0M943 37h0M1027 36h0M1032 39h0M1047 36h0M1063 36h0M784 43h0M801 49h0M807 46h0M824 46h0M849 47h0M850 49h0M855 46h0M855 45h0M869 42h0M901 45h0M921 49h0M936 49h0M957 44h0M962 44h0M994 47h0M1026 49h0M1027 40h0M1037 41h0M1048 49h0M1052 45h0M1052 47h0M1057 42h0M771 53h0M781 57h0M787 57h0M790 56h0M793 50h0M794 50h0M796 55h0M801 59h0M808 52h0M813 53h0M816 50h0M822 55h0M840 50h0M848 53h0M852 55h0M863 55h0M867 59h0M870 52h0M892 56h0M897 57h0M905 59h0M908 50h0M926 53h0M930 56h0M941 56h0M947 56h0M948 56h0M963 54h0M966 57h0M966 55h0M974 55h0M981 55h0M987 50h0M1003 58h0M1009 52h0M1015 54h0M1038 58h0M781 64h0M786 69h0M788 61h0M789 69h0M800 65h0M809 64h0M821 64h0M827 62h0M833 62h0M835 69h0M835 63h0M838 69h0M850 62h0M853 65h0M855 64h0M859 67h0M867 68h0M871 69h0M877 61h0M879 67h0M884 66h0M899 62h0M900 67h0M930 64h0M944 62h0M953 60h0M988 67h0M1000 62h0M1002 60h0M1003 69h0M1004 65h0M1004 62h0M1007 68h0M1008 62h0M1017 64h0M1027 68h0M1027 61h0M1029 68h0M1030 67h0M1051 62h0M1053 66h0M1053 64h0M1057 65h0M1065 66h0M792 75h0M802 79h0M806 78h0M809 73h0M818 76h0M819 73h0M830 76h0M845 75h0M850 79h0M857 78h0M880 74h0M886 70h0M903 72h0M906 70h0M910 73h0M921 77h0M929 75h0M951 76h0M983 71h0M1020 76h0M1031 73h0M1036 75h0M1055 70h0M1056 76h0M1057 75h0M772 80h0M775 89h0M780 84h0M788 82h0M788 88h0M791 84h0M808 85h0M818 83h0M823 83h0M854 80h0M861 86h0M872 85h0M930 82h0M938 88h0M938 84h0M943 88h0M950 85h0M973 86h0M1004 83h0M1017 83h0M1020 81h0M1037 81h0M1049 87h0M1049 80h0M1051 82h0M1058 86h0M783 90h0M791 98h0M801 97h0M803 94h0M812 92h0M824 96h0M835 97h0M839 96h0M850 92h0M862 95h0M871 91h0M914 90h0M938 99h0M971 97h0M973 98h0M980 90h0M986 95h0M1014 99h0M1025 99h0M1026 92h0M1031 97h0M1036 97h0M1043 93h0M1044 98h0M1045 90h0M1047 95h0M1048 91h0M1054 96h0M1054 95h0M770 105h0M783 109h0M785 104h0M801 101h0M829 109h0M832 105h0M839 107h0M842 103h0M849 108h0M855 108h0M871 108h0M874 108h0M893 107h0M899 108h0M910 109h0M921 106h0M930 103h0M933 107h0M960 108h0M963 107h0M975 103h0M983 108h0M983 103h0M1019 107h0M1027 109h0M1034 100h0M1043 108h0M1045 104h0M792 114h0M795 113h0M797 112h0M799 118h0M814 117h0M816 112h0M816 114h0M821 112h0M821 113h0M824 117h0M826 111h0M827 110h0M830 117h0M834 112h0M835 111h0M836 112h0M842 113h0M851 119h0M861 119h0M862 116h0M866 116h0M886 116h0M899 117h0M899 112h0M901 114h0M903 117h0M907 116h0M912 112h0M924 113h0M925 115h0M952 115h0M969 113h0M971 115h0M972 116h0M973 113h0M975 117h0M983 119h0M986 112h0M993 119h0M1009 112h0M1014 110h0M1017 113h0M1019 114h0M1022 112h0M1029 117h0M1032 110h0M1042 119h0M1049 119h0M1049 111h0M1062 114h0M766 120h0M790 125h0M791 125h0M796 123h0M797 128h0M800 122h0M811 123h0M820 128h0M827 122h0M827 129h0M832 121h0M840 120h0M840 129h0M849 129h0M858 122h0M889 124h0M903 123h0M904 122h0M910 125h0M928 128h0M934 125h0M935 122h0M935 126h0M936 122h0M941 124h0M946 126h0M964 120h0M975 122h0M978 124h0M985 122h0M987 127h0M991 122h0M998 120h0M1001 129h0M1022 120h0M1022 129h0M1024 125h0M1031 126h0M1049 129h0M1056 120h0M775 136h0M831 132h0M832 134h0M836 134h0M846 134h0M859 131h0M863 138h0M864 133h0M865 136h0M869 135h0M872 138h0M876 139h0M878 133h0M891 132h0M897 133h0M915 136h0M919 130h0M919 132h0M922 136h0M938 134h0M950 132h0M972 136h0M979 137h0M987 131h0M997 130h0M999 135h0M1004 137h0M1006 133h0M1006 132h0M1030 131h0M1046 131h0M1046 133h0M1050 136h0M1055 138h0M776 144h0M780 142h0M797 143h0M800 142h0M803 149h0M808 148h0M814 141h0M823 146h0M825 147h0M840 148h0M843 142h0M849 147h0M855 144h0M861 141h0M873 148h0M874 141h0M880 140h0M913 142h0M921 148h0M928 146h0M936 146h0M938 149h0M940 143h0M959 140h0M965 143h0M971 144h0M973 146h0M975 141h0M981 142h0M994 143h0M996 148h0M997 147h0M1013 148h0M1027 148h0M1034 142h0M1038 148h0M1042 144h0M1053 144h0M1059 143h0M777 159h0M787 152h0M790 153h0M798 155h0M802 156h0M802 159h0M804 150h0M814 156h0M817 154h0M818 157h0M822 153h0M834 157h0M846 159h0M855 158h0M857 155h0M870 156h0M871 152h0M872 150h0M873 158h0M912 156h0M914 154h0M919 154h0M921 155h0M929 155h0M931 151h0M933 150h0M966 156h0M966 150h0M971 153h0M975 153h0M988 158h0M993 151h0M995 156h0M1002 153h0M1008 150h0M1009 155h0M1022 156h0M1024 157h0M1045 158h0M806 167h0M808 168h0M822 165h0M822 169h0M855 162h0M878 160h0M886 161h0M908 165h0M918 164h0M921 163h0M927 161h0M927 163h0M947 164h0M951 162h0M958 160h0M962 162h0M970 166h0M988 161h0M995 160h0M1002 168h0M1003 161h0M1019 160h0M1045 166h0M1050 167h0M1051 160h0M767 178h0M807 175h0M811 175h0M817 177h0M820 175h0M824 173h0M825 178h0M825 173h0M850 172h0M852 179h0M857 175h0M864 177h0M871 174h0M872 177h0M887 173h0M900 173h0M901 172h0M911 172h0M911 178h0M916 177h0M925 178h0M929 170h0M932 177h0M942 177h0M946 176h0M950 172h0M953 177h0M956 171h0M962 177h0M971 176h0M982 177h0M983 178h0M983 179h0M997 173h0M997 176h0M998 178h0M999 171h0M1001 176h0M1002 173h0M1005 176h0M1006 170h0M1009 172h0M1011 177h0M1012 179h0M1013 176h0M1021 176h0M1027 178h0M1031 176h0M1033 178h0M1035 175h0M1042 177h0M1055 171h0M784 183h0M801 184h0M812 182h0M816 181h0M836 187h0M838 184h0M839 182h0M854 183h0M870 185h0M887 187h0M889 187h0M894 185h0M898 186h0M920 186h0M957 187h0M964 188h0M983 183h0M983 181h0M987 184h0M987 186h0M1004 180h0M1017 180h0M1018 184h0M1022 184h0M1025 189h0M1035 184h0M1040 180h0M785 198h0M787 190h0M788 195h0M792 196h0M799 195h0M816 193h0M822 190h0M858 193h0M864 199h0M867 193h0M881 194h0M900 197h0M908 195h0M913 191h0M915 196h0M918 191h0M943 198h0M953 196h0M977 190h0M979 192h0M981 195h0M999 196h0M999 191h0M1001 198h0M1005 191h0M1012 193h0M1017 192h0M1018 195h0M1019 197h0M1020 196h0M1025 191h0M1030 192h0M1031 197h0M1056 197h0M783 209h0M817 205h0M839 207h0M871 209h0M875 202h0M882 203h0M884 209h0M886 201h0M893 208h0M906 205h0M907 206h0M907 204h0M907 207h0M910 206h0M942 204h0M943 204h0M958 204h0M963 201h0M964 208h0M974 205h0M974 202h0M992 205h0M996 200h0M1005 200h0M1009 208h0M1028 200h0M1030 208h0M1041 204h0M1054 204h0M1055 207h0M1057 201h0M773 217h0M774 213h0M778 216h0M793 218h0M798 212h0M814 213h0M830 219h0M836 219h0M837 216h0M844 219h0M850 217h0M856 211h0M857 218h0M871 216h0M882 211h0M888 217h0M893 213h0M897 218h0M911 217h0M918 216h0M930 211h0M933 214h0M963 219h0M972 218h0M976 213h0M1001 218h0M1032 210h0M1033 210h0M1033 213h0M1043 214h0M771 222h0M772 220h0M797 226h0M800 228h0M843 221h0M867 229h0M869 221h0M873 221h0M880 225h0M895 224h0M914 220h0M916 227h0M921 222h0M932 227h0M934 225h0M963 226h0M977 220h0M994 225h0M1004 226h0M1010 229h0M1036 224h0M1037 229h0M1044 227h0M1047 222h0M1051 228h0M775 233h0M782 236h0M820 234h0M826 235h0M858 235h0M860 231h0M863 232h0M910 235h0M916 230h0M923 237h0M928 239h0M933 230h0M933 238h0M951 232h0M961 235h0M966 235h0M981 231h0M982 236h0M985 233h0M1003 237h0M1040 234h0M1043 236h0M777 248h0M786 246h0M832 241h0M859 242h0M870 243h0M873 243h0M873 244h0M876 242h0M892 245h0M898 249h0M903 248h0M909 243h0M909 242h0M918 244h0M919 240h0M921 247h0M927 247h0M937 248h0M966 242h0M969 243h0M971 244h0M980 248h0M1004 249h0M1025 242h0M1026 242h0M1029 242h0M1037 244h0M1055 247h0M790 256h0M792 252h0M800 250h0M817 250h0M823 259h0M825 250h0M830 251h0M854 253h0M855 258h0M890 250h0M904 258h0M924 257h0M925 257h0M946 256h0M973 253h0M980 255h0M987 253h0M1002 257h0M1015 250h0M1051 257h0M773 260h0M785 266h0M812 267h0M825 260h0M833 265h0M834 263h0M834 262h0M839 264h0M852 269h0M862 266h0M864 263h0M864 262h0M866 263h0M867 264h0M874 262h0M904 260h0M905 261h0M910 265h0M915 260h0M933 269h0M961 262h0M984 263h0M987 265h0M993 269h0M996 268h0M1005 268h0M1006 264h0M1009 260h0M1021 260h0M1023 268h0M1023 262h0M1042 269h0M1048 264h0M1051 265h0M769 277h0M779 273h0M782 276h0M804 278h0M816 279h0M829 274h0M830 278h0M830 272h0M839 278h0M841 279h0M851 270h0M865 271h0M883 275h0M896 274h0M900 275h0M909 272h0M915 275h0M917 274h0M924 275h0M928 274h0M929 276h0M932 275h0M934 271h0M935 277h0M935 271h0M937 273h0M939 272h0M941 273h0M944 276h0M948 275h0M950 275h0M969 272h0M970 271h0M991 270h0M992 270h0M1006 276h0M1031 270h0M766 288h0M774 287h0M778 286h0M786 281h0M806 280h0M826 280h0M832 280h0M833 280h0M836 286h0M842 284h0M848 284h0M859 281h0M863 281h0M877 285h0M877 289h0M886 282h0M886 283h0M890 287h0M902 282h0M911 284h0M913 282h0M915 288h0M920 283h0M920 287h0M932 283h0M933 280h0M937 282h0M938 280h0M943 285h0M948 285h0M959 280h0M968 288h0M983 287h0M995 284h0M1023 289h0M1043 284h0M1044 289h0M777 299h0M789 293h0M791 290h0M798 296h0M804 290h0M804 293h0M805 298h0M828 294h0M836 294h0M849 297h0M861 297h0M864 296h0M866 291h0M881 297h0M892 290h0M892 294h0M906 295h0M908 291h0M909 299h0M918 299h0M919 292h0M927 294h0M935 298h0M952 298h0M954 290h0M972 297h0M979 294h0M990 296h0M990 295h0M992 298h0M1002 299h0M1010 298h0M1014 299h0M1026 291h0M1039 296h0M1050 295h0M1054 291h0M1055 296h0M773 307h0M777 303h0M777 301h0M783 306h0M786 306h0M790 308h0M791 306h0M806 301h0M817 303h0M820 309h0M827 300h0M851 306h0M866 300h0M884 303h0M887 300h0M902 300h0M903 304h0M908 303h0M910 300h0M910 304h0M918 304h0M928 309h0M954 307h0M982 303h0M1015 307h0M1017 305h0M1034 304h0M1041 305h0M1042 309h0M1045 306h0M1049 302h0M1050 300h0M785 312h0M786 311h0M788 314h0M833 314h0M844 313h0M857 313h0M871 319h0M882 314h0M890 311h0M906 312h0M908 319h0M919 314h0M942 315h0M945 310h0M945 314h0M949 311h0M976 314h0M981 319h0M983 312h0M984 316h0M989 314h0M1006 314h0M1010 318h0M1012 313h0M1015 319h0M1023 311h0M1024 316h0M1035 318h0M1038 314h0M1039 319h0M1040 311h0M1046 314h0M1057 313h0M793 324h0M800 324h0M844 320h0M863 321h0M869 323h0M871 320h0M874 323h0M930 321h0M932 321h0M954 323h0M961 323h0M968 324h0M971 323h0M989 322h0M1056 322h0" stroke="#4a302a" stroke-width="2.40" fill="none" stroke-linecap="round"/><path d="M779 42h0M785 42h0M1004 46h0M1025 47h0M1040 47h0M774 52h0M890 59h0M932 58h0M936 57h0M1024 53h0M799 61h0M807 66h0M836 64h0M945 64h0M1023 67h0M988 76h0M1033 70h0M975 82h0M998 87h0M1005 82h0M800 97h0M856 90h0M876 90h0M919 91h0M1030 95h0M1036 95h0M773 107h0M860 101h0M863 105h0M1007 102h0M829 111h0M1011 114h0M796 125h0M851 128h0M951 128h0M886 136h0M887 133h0M888 133h0M891 131h0M922 138h0M855 143h0M876 145h0M986 148h0M1001 144h0M983 150h0M862 167h0M927 167h0M1000 168h0M900 176h0M918 170h0M933 175h0M954 177h0M1016 177h0M833 182h0M873 189h0M1041 188h0M1048 189h0M1065 181h0M857 194h0M961 198h0M785 204h0M862 204h0M868 200h0M888 209h0M965 201h0M1045 205h0M892 218h0M920 216h0M985 215h0M1037 216h0M1046 218h0M783 224h0M886 228h0M978 229h0M890 239h0M1051 235h0M803 241h0M893 245h0M908 247h0M1048 241h0M858 257h0M876 250h0M951 251h0M846 268h0M927 269h0M799 272h0M884 276h0M945 277h0M768 282h0M800 289h0M1023 287h0M1032 288h0M918 296h0M980 294h0M790 300h0M791 308h0M811 307h0M883 304h0M1022 308h0M919 318h0" stroke="#d88a98" stroke-width="3.20" fill="none" stroke-linecap="round"/><path d="M949 38h0M776 49h0M776 46h0M821 40h0M843 45h0M862 48h0M893 44h0M1052 43h0M863 57h0M866 57h0M892 56h0M901 52h0M972 59h0M784 60h0M803 67h0M880 66h0M880 65h0M950 61h0M1010 66h0M1016 64h0M1047 68h0M793 74h0M823 76h0M905 78h0M918 79h0M823 80h0M836 84h0M851 88h0M856 85h0M873 86h0M889 88h0M924 80h0M944 89h0M1042 83h0M771 96h0M864 95h0M864 97h0M894 97h0M902 91h0M903 100h0M916 108h0M818 117h0M833 119h0M838 112h0M843 116h0M862 118h0M869 111h0M875 116h0M877 118h0M894 119h0M906 115h0M1030 115h0M853 120h0M855 126h0M866 120h0M870 129h0M870 124h0M877 120h0M892 127h0M922 128h0M962 120h0M829 133h0M873 131h0M921 135h0M1055 136h0M1004 140h0M1027 144h0M770 157h0M819 158h0M844 159h0M849 154h0M870 156h0M918 158h0M925 152h0M866 161h0M890 161h0M863 173h0M986 172h0M862 183h0M870 187h0M910 188h0M835 198h0M886 192h0M901 191h0M930 197h0M1056 194h0M833 206h0M902 209h0M947 205h0M783 212h0M810 215h0M815 217h0M861 219h0M903 216h0M1030 212h0M806 227h0M891 220h0M891 239h0M1016 235h0M795 241h0M813 243h0M856 248h0M1048 244h0M826 252h0M898 256h0M980 259h0M983 255h0M832 263h0M837 268h0M837 269h0M896 262h0M951 266h0M1022 269h0M1036 260h0M1052 268h0M773 273h0M841 277h0M919 278h0M963 277h0M969 274h0M797 287h0M804 286h0M873 287h0M880 289h0M916 287h0M944 289h0M969 287h0M970 289h0M778 293h0M861 296h0M878 297h0M879 290h0M909 291h0M933 298h0M979 292h0M767 305h0M813 308h0M910 300h0M931 301h0M974 300h0M793 312h0M805 310h0M925 315h0M993 316h0M1017 317h0M1058 313h0M771 324h0M834 327h0M850 326h0M919 322h0" stroke="#6258aa" stroke-width="6.40" fill="none" stroke-linecap="round"/><path d="M929 90h0M1005 90h0M998 114h0M942 126h0M795 130h0M876 130h0M886 169h0M975 165h0M1017 175h0M911 188h0M860 236h0M987 273h0M788 284h0M997 292h0" stroke="#c4c828" stroke-width="12.00" fill="none" stroke-linecap="round"/><path d="M814 106h0M820 260h0M961 265h0M883 291h0" stroke="#a8a030" stroke-width="9.60" fill="none" stroke-linecap="round"/></g>
<filter id="spk" x="0" y="0" width="100%" height="100%" color-interpolation-filters="sRGB"><feTurbulence type="fractalNoise" baseFrequency="0.7" numOctaves="1" seed="3" result="t"/><feColorMatrix in="t" type="matrix" values="0 0 0 0 0  0 0 0 0 0  0 0 0 0 0  1 0 0 0 0" result="ra"/><feComponentTransfer in="ra" result="ma"><feFuncA type="discrete" tableValues="0 0 0 0 0 0.15 0.4 0.6 0.7"/></feComponentTransfer><feFlood flood-color="#f2a0ec"/><feComposite in2="ma" operator="in" result="m"/><feColorMatrix in="t" type="matrix" values="0 0 0 0 0  0 0 0 0 0  0 0 0 0 0  0 1 0 0 0" result="ga"/><feComponentTransfer in="ga" result="ca"><feFuncA type="discrete" tableValues="0 0 0 0 0 0.15 0.4 0.55 0.65"/></feComponentTransfer><feFlood flood-color="#90ecf0"/><feComposite in2="ca" operator="in" result="c"/><feMerge><feMergeNode in="m"/><feMergeNode in="c"/></feMerge><feComposite in2="SourceAlpha" operator="in"/></filter>
<g filter="url(#spk)" fill="#fff"><rect x="0" y="160" width="175" height="8"/><rect x="0" y="178" width="120" height="8"/><rect x="0" y="194" width="70" height="6"/><rect x="0" y="203" width="150" height="6"/><rect x="183" y="183" width="97" height="24"/><rect x="183" y="213" width="97" height="10"/><rect x="0" y="110" width="12" height="45"/><rect x="185" y="138" width="6" height="40"/></g>
<text x="91.7" y="198.0" text-anchor="middle" class="pl">(a)</text>
<text x="273.2" y="198.0" text-anchor="middle" class="pl">(b)</text>
<text x="455" y="198.0" text-anchor="middle" class="pl">(c)</text>
<path d="M80.9 250.1 67.3 247.8 75.4 255.7 51.5 262.0 47.2 301.5 52.9 263.6 96.7 311.1 43.3 286.7 145.8 344.0 49.9 273.3 115.8 310.8 35.5 363.6 144.5 316.5 33.2 335.0 133.4 321.3 44.3 308.2 80.7 258.4 117.9 323.7 59.7 268.7 128.1 322.2 126.0 316.7 57.8 235.9 125.4 324.7 100.8 303.5 92.7 286.1 51.8 273.7 146.4 331.7 59.3 258.8 95.1 288.2 38.5 325.7 115.0 285.5 139.1 311.5 123.9 316.7 111.2 321.0 120.7 320.1 105.1 305.3 70.4 260.8 142.8 337.4 56.1 257.5 97.1 311.7 42.0 299.9 59.4 231.3 51.7 276.2 92.8 277.2 103.0 303.4 125.0 308.9 79.7 260.1 124.1 308.2 60.9 254.5 134.3 313.8 78.4 263.2 53.4 272.5 61.6 261.5 80.5 271.1 40.6 329.1 86.0 272.6 56.1 246.2 48.4 278.0 66.6 253.8 95.0 298.0 125.0 332.4 62.8 257.4 92.5 284.4 99.1 301.9 75.7 263.3 114.6 297.6 112.0 308.5 79.2 273.3 117.9 312.8 88.3 281.6 72.7 253.6 139.2 333.0 140.7 340.9 36.3 351.1 53.8 256.6 73.1 243.7 130.5 330.2 41.5 321.3 37.5 322.4 54.7 247.0 59.6 244.3 81.8 265.2 92.2 287.7 124.2 322.9 37.5 331.3 44.3 297.9 98.6 293.3 74.3 250.4 131.7 322.5 43.4 318.5 108.7 311.5 80.2 284.4 50.3 280.6 94.2 306.3 51.7 282.2 80.7 253.8 133.1 319.7 73.6 251.6 34.8 376.8 38.1 342.3 47.3 272.9 98.1 293.5 142.8 329.1 43.9 292.9 68.5 229.4 57.8 246.3 39.6 320.0 58.2 252.4 51.5 257.6 100.7 299.7 147.2 303.7 139.5 316.9 140.3 335.4 106.7 298.6 130.9 307.5 34.5 377.9 97.5 313.7 46.9 291.4 146.1 327.0 58.8 264.8 109.4 299.0 97.7 309.0 138.4 342.0 45.3 275.9 137.9 321.3 75.3 272.2 81.5 260.6 45.6 296.1 98.2 289.7 52.6 273.6 77.2 289.0 98.7 310.4 105.5 319.5 92.5 289.0 141.3 331.3 136.6 326.4 105.1 311.9 36.0 365.5 61.7 238.0 43.5 303.9 97.4 304.2 34.7 353.2 70.7 270.1 47.6 294.5 65.8 253.2 57.1 269.0 79.2 256.6 107.5 310.6 98.7 316.8 147.2 347.6 108.8 309.6 145.0 339.7 51.1 296.3 81.5 274.2 128.7 335.5 63.6 252.3 78.1 254.9 43.5 316.6 118.2 306.2 59.4 265.7 50.8 287.8 34.5 393.2 77.5 283.2 68.8 256.8 37.3 384.4 102.2 311.6 78.1 261.9 48.6 283.0 112.5 322.0 98.4 284.0 48.1 296.6 84.9 258.8 59.5 252.4 145.6 332.0 89.6 271.9 128.4 336.9 69.7 263.4 44.1 301.9 114.5 310.7 112.0 311.7 47.3 306.7 40.2 323.5 71.7 255.0 100.7 309.1 142.5 341.6 145.4 336.8 35.3 378.3 83.4 277.3 44.3 307.7 111.9 317.6 49.1 292.8 55.5 262.9 139.8 308.1 38.2 314.3 124.4 326.7 59.7 235.5 48.9 286.8 36.9 371.5 143.1 332.1 110.5 322.5 44.9 300.5 119.2 315.9 126.0 321.1 73.7 249.3 57.3 260.5 55.4 262.9 51.6 270.3 87.4 291.7 48.0 290.4 35.6 380.3 111.8 315.1 97.0 315.1 62.3 263.3 113.9 322.7 79.1 266.9 56.2 241.1 106.8 294.1 52.4 268.6 109.3 315.9 100.6 298.2 143.1 340.9 115.9 319.0 62.6 247.7 48.1 304.0 118.5 317.9 106.4 314.2 125.6 315.3 110.3 317.4 124.1 329.0 100.8 302.2 68.6 240.9 66.5 235.7 103.7 313.6 84.9 279.9 87.6 279.7 100.7 308.2 148.2 326.7 138.3 304.5 124.6 307.2 126.6 317.0 48.0 292.7 106.9 305.4 34.5 336.5 137.9 326.7 67.3 230.4 130.0 307.1 58.8 253.4 106.2 292.7 44.3 299.6 84.0 264.9 50.8 272.1 70.7 267.4 106.0 303.8 93.3 283.8 49.4 289.3 112.0 326.6 77.9 245.8 34.4 360.8 127.8 322.6 75.3 263.1 56.2 261.6 44.8 306.8 97.2 291.6 107.7 307.9 35.6 378.4 76.9 257.2 79.9 270.8 34.3 363.6 77.8 259.6 64.3 253.2 115.1 310.4 140.6 320.4 34.1 349.3 86.1 291.4 126.5 323.3 92.6 293.7 37.6 335.9 51.9 259.2 98.3 278.7 36.0 389.4 80.5 258.1 96.0 295.3 42.0 304.5 123.2 333.8 98.9 298.0 43.1 308.8 123.3 309.1 72.8 239.0 112.6 316.3 94.2 294.7 44.6 309.0 131.9 345.7 117.3 308.6 99.1 312.9 60.8 245.1 73.6 265.2 142.5 313.9 44.0 294.1 111.6 310.5 83.4 271.0 109.8 336.3 109.7 302.2 105.3 295.6 55.3 246.4 147.5 333.2 107.5 302.0 69.5 232.5 72.2 248.5 140.3 344.3 135.0 315.8 100.1 300.5 59.6 243.8 120.1 329.3 141.8 336.4 86.7 303.1 48.5 308.7 103.7 306.9 70.0 247.9 47.0 287.5 114.9 318.7 145.5 324.3 71.2 259.0 77.3 270.7 82.1 275.1 106.9 305.9 97.0 275.8 146.8 317.6 64.6 257.1 91.3 272.0 44.3 299.7 39.4 353.9 43.0 296.2 49.1 312.4 48.0 288.3 41.0 321.6 46.6 291.9 44.7 294.4 47.5 263.1 42.4 312.0 35.6 363.6 43.5 335.7 44.2 290.9 44.7 292.7 48.1 299.5 44.6 274.1 44.1 295.6 37.3 316.7 41.9 289.9 50.4 298.4 38.2 320.0 37.8 347.1 49.6 240.4 40.9 332.2 38.7 309.6 50.1 290.1 46.9 265.6 48.4 287.5 50.0 310.8 41.8 299.3 50.6 298.5 35.3 357.4 40.6 321.4 40.2 321.0 39.3 319.3 49.0 275.1 38.6 347.5 46.6 285.4 40.1 316.4 50.0 274.4 47.9 291.8 36.5 385.4 49.3 231.4 36.9 357.2" fill="none" marker-start="url(#bp)" marker-mid="url(#bp)" marker-end="url(#bp)"/>
<path d="M188.7 281.0 231.2 320.2 239.9 305.1 70.6 283.0 150.1 248.6 193.3 265.1 184.0 289.6 171.6 273.0 185.9 284.8 226.0 277.5 188.9 291.8 49.5 350.0 103.7 237.0 78.6 292.0 94.5 238.7 248.9 283.4 199.4 280.8 207.2 278.2 49.2 346.6 163.4 249.3 98.0 246.2 56.5 333.3 166.4 252.2 112.6 234.6 193.1 273.0 33.6 393.1 232.4 292.6 78.2 280.8 159.2 258.6 215.9 267.6 239.2 305.9 34.6 387.6 233.9 296.5 263.0 307.8 202.2 300.1 52.8 334.9 87.9 266.2 95.2 260.7 121.9 254.6 148.8 250.3 228.0 315.9 98.2 247.9 59.4 318.3 205.1 264.9 33.2 386.2 191.5 276.7 208.4 266.3 184.0 270.4 121.2 241.5 242.3 305.0 141.5 244.6 222.3 287.5 245.0 289.3 130.8 253.1 89.3 256.9 231.9 288.8 200.3 291.2 245.1 327.7 53.8 323.7 226.3 284.6 96.7 262.5 95.6 239.8 194.1 260.4 214.8 293.4 52.9 341.7 92.5 257.3 156.0 257.9 107.0 250.6 169.5 252.7 71.8 274.5 207.1 263.3 115.9 243.9 248.2 279.5 214.9 304.4 115.8 237.6 196.6 282.9 188.5 275.7 234.1 300.4 102.9 249.5 77.2 265.6 101.5 269.1 102.7 240.5 258.3 291.4 207.6 280.1 246.6 298.3 243.7 292.8 233.5 298.9 258.7 302.7 112.0 261.0 235.7 302.6 51.8 343.9 36.8 383.5 63.3 315.1 103.7 274.3 142.3 241.3 62.5 305.3 158.9 274.4 240.3 305.2 45.4 352.3 193.5 301.0 128.2 254.6 42.8 360.8 221.0 270.9 105.0 243.9 130.9 237.9 151.0 259.6 94.4 268.9 187.0 284.9 54.9 339.5 48.5 357.2 256.7 286.9 214.5 305.6 148.3 244.0 204.6 287.5 258.4 284.1 257.6 293.8 65.6 318.8 93.7 267.0 81.3 274.8 250.3 320.4 183.5 249.7 98.9 244.9 163.0 266.4 160.2 293.5 66.2 311.4 206.5 285.7 76.9 281.5 260.3 304.0 38.0 382.5 96.3 256.9 125.7 242.3 104.1 239.3 148.1 241.8 72.7 288.7 42.7 352.4 224.7 301.5 67.3 309.7 155.5 248.0 202.0 272.9 169.5 237.7 174.1 279.2 35.7 389.4 70.6 296.4 170.2 264.0 76.7 283.3 184.7 285.4 93.3 243.6 223.5 276.0 81.5 244.2 206.8 278.5 209.9 282.2 252.5 311.7 219.3 287.3 242.6 326.1 163.3 243.8 147.3 243.9 36.7 387.6 177.1 246.7 247.7 296.3 197.6 288.7 43.6 357.2 257.1 308.8 43.8 361.3 232.2 298.2 221.6 305.8 83.6 268.2 117.0 235.9 64.7 299.1 179.3 282.4 112.8 244.5 252.7 264.2 116.6 255.5 51.7 332.0 113.9 222.6 66.8 294.8 162.2 261.9 128.3 234.0 214.9 277.5 158.2 255.3 57.7 325.1 132.6 251.4 96.6 265.1 220.9 277.5 63.4 317.7 203.9 300.0 202.7 296.2 162.9 278.4 246.6 279.7 252.6 301.5 77.3 268.4 190.1 266.8 136.6 246.5 158.7 271.3 118.5 235.1 168.3 241.4 255.2 302.9 130.1 237.2 86.3 256.6 210.6 283.0 247.0 279.9 130.1 240.2 259.0 274.7 48.5 339.2 101.3 283.0 115.6 240.9 210.6 277.3 134.8 248.2 242.4 283.5 263.1 308.6 95.0 246.5 213.9 279.6 57.0 328.7 109.7 234.2 252.3 320.6 129.8 238.5 219.1 287.3 119.4 238.0 55.9 323.3 244.5 309.6 79.0 267.3 153.5 254.4 232.7 261.4 198.8 300.4 52.4 343.4 116.4 226.9 105.7 264.2 121.6 242.3 252.3 298.0 75.4 277.9 137.9 252.8 158.5 252.7 65.0 298.8 83.6 248.4 132.8 255.3 82.3 259.0 43.7 371.8 166.8 230.6 137.2 250.4 67.0 287.6 174.6 272.2 148.5 250.6 111.0 231.6 79.9 271.4 57.5 328.4 123.1 257.6 195.5 270.3 154.4 263.0 238.6 295.5 145.2 234.5 116.1 265.3 234.2 301.3 128.1 246.8 195.3 257.3 96.1 264.2 153.8 250.4 81.0 261.4 52.9 334.3 102.0 256.1 247.5 286.7 209.3 287.4 144.2 220.0 36.3 386.4 96.3 253.8 254.8 336.7 134.9 251.2 109.8 245.1 211.0 276.2 169.3 254.4 233.9 304.1 240.8 277.3 50.1 339.2 114.4 231.6 61.5 305.8 53.1 337.5 228.2 310.6 242.7 300.8 99.4 276.4 138.5 257.9 139.6 249.5 144.1 251.8 67.1 299.7 211.1 280.1 58.7 325.2 86.8 252.9 259.0 311.6 147.5 233.5 60.5 307.6 193.6 256.6 220.8 289.3 131.1 234.0 231.2 288.3 215.0 294.9 143.2 251.6 221.9 267.3 50.9 331.6 199.5 255.9 105.5 245.7 160.2 239.4 263.2 299.1 102.6 246.5 41.3 372.1 186.9 277.1 47.8 338.0 63.6 312.0 88.3 247.3 62.0 306.6 47.2 347.2 157.9 241.0 106.0 245.4 41.9 356.2 197.2 277.8 74.4 287.5 140.4 248.6 221.4 283.6 241.4 281.2 94.7 255.0 96.1 260.1 212.2 279.0 127.8 250.1 109.4 242.4 226.6 279.6 165.4 252.0 189.2 289.9 161.0 255.0 112.4 230.5 85.7 276.1 255.2 273.0 256.4 310.5 117.1 246.6 101.3 225.9 214.7 293.2 152.9 274.5 238.3 291.9 198.3 264.0 226.6 296.3 172.9 289.4 136.0 251.5 227.7 292.6 201.8 247.1 77.9 280.1 55.2 336.7 63.3 326.4 87.7 249.4 158.2 264.2 193.4 275.1 103.1 225.7 208.8 278.1 43.6 368.3 184.4 269.7 105.2 250.0 242.5 298.9 182.2 291.2 203.8 269.0 105.2 233.1 130.9 232.6 233.2 278.0 227.7 271.0 80.2 272.6 98.5 235.2 145.2 261.6 61.4 315.5 98.4 244.5 56.2 341.0 192.9 264.8 254.7 311.9 168.9 276.7 167.7 260.3 185.5 266.2 107.9 247.6 239.3 298.5 162.8 270.1 47.3 350.4 228.2 288.0 64.2 311.4 193.7 269.9 49.7 340.6 164.0 260.1 114.5 234.9 94.0 251.7 200.8 282.6 225.7 292.8 57.4 331.3 39.7 368.1 57.7 324.6 215.0 307.0 256.6 292.1 184.6 280.3 185.1 270.3 242.9 273.4 169.3 261.9 227.9 301.3 109.2 252.2 174.0 251.2 140.4 235.5 154.2 273.2 236.9 304.0 259.3 294.5 105.4 231.5 192.0 258.2 106.9 240.9 137.3 263.1 155.2 239.3 56.8 329.5 134.3 254.4 125.2 239.9 51.2 354.7 189.9 260.4 96.8 261.4 248.2 282.9 78.5 268.7 160.9 280.5 49.6 336.2 140.2 247.7 227.9 284.8 182.8 281.8 136.2 231.3 46.6 354.5 55.7 327.6 229.0 289.1 36.9 387.8 236.4 284.5 228.8 287.2 165.4 282.6 244.9 287.2 166.2 257.6 152.8 255.6 191.4 268.5 178.1 281.7 99.5 254.7 261.5 320.3 154.8 246.4 137.0 222.9 63.0 300.7 71.6 292.4 79.3 274.1 220.5 258.9 40.9 371.6 133.9 254.4 204.4 286.5 247.8 286.2 214.8 276.6 254.5 318.3 207.1 285.0 195.6 290.1 249.3 315.9 73.3 294.0 140.3 267.0 152.7 257.1 87.5 247.5 60.1 318.1 227.1 312.0 39.8 358.1 208.8 294.1 41.3 379.5 149.3 262.1 53.3 336.2 174.5 292.5 86.9 234.7 123.1 246.2 67.5 304.3 53.3 328.1 60.2 328.4 97.7 256.2 46.8 355.3 76.4 276.9 205.4 293.7 70.6 304.2 180.5 285.4 73.1 295.2 107.5 245.4 109.5 239.4 124.2 246.7 213.4 266.8 241.8 284.0 176.0 255.4 212.7 292.9 262.9 318.5 252.9 298.3 193.5 291.2 198.5 281.2 257.4 315.6 150.0 251.9 42.3 359.9 177.7 288.0 193.9 273.3 164.9 274.1 88.4 279.3 162.8 266.4 78.0 276.4 129.9 238.7 166.4 273.8 121.5 227.2 141.4 242.0 82.9 252.6 83.8 283.4 151.7 244.5 85.4 283.0 81.9 277.9 60.7 310.9 162.4 268.4 145.6 260.3 67.7 298.6 194.1 291.7 147.8 277.8 229.2 330.0 71.4 290.0 102.1 249.0 162.9 273.4 237.6 292.6 36.8 378.7 175.7 258.9 149.5 254.5 131.6 267.0 237.4 292.6 167.8 291.1 135.3 239.0 102.9 269.3" fill="none" marker-start="url(#bg)" marker-mid="url(#bg)" marker-end="url(#bg)"/>
<path d="M188.7 281.0 231.2 320.2 239.9 305.1 70.6 283.0 150.1 248.6 185.9 284.8 103.7 237.0 78.6 292.0 94.5 238.7 199.4 280.8 207.2 278.2 49.2 346.6 163.4 249.3 98.0 246.2 56.5 333.3 166.4 252.2 112.6 234.6 193.1 273.0 33.6 393.1 232.4 292.6 78.2 280.8 159.2 258.6 215.9 267.6 239.2 305.9 34.6 387.6 263.0 307.8 202.2 300.1 52.8 334.9 87.9 266.2 95.2 260.7 121.9 254.6 148.8 250.3 228.0 315.9 98.2 247.9 59.4 318.3 205.1 264.9 33.2 386.2 208.4 266.3 184.0 270.4 121.2 241.5 242.3 305.0 141.5 244.6 222.3 287.5 245.0 289.3 130.8 253.1 89.3 256.9 231.9 288.8 200.3 291.2 245.1 327.7 53.8 323.7 226.3 284.6 96.7 262.5 95.6 239.8 194.1 260.4 214.8 293.4 52.9 341.7 92.5 257.3 156.0 257.9 107.0 250.6 169.5 252.7 71.8 274.5 207.1 263.3 115.9 243.9 214.9 304.4 115.8 237.6 196.6 282.9 188.5 275.7 234.1 300.4 102.9 249.5 77.2 265.6 101.5 269.1 258.3 291.4 246.6 298.3 243.7 292.8 233.5 298.9 258.7 302.7 112.0 261.0 235.7 302.6 51.8 343.9 36.8 383.5 63.3 315.1 103.7 274.3 142.3 241.3 158.9 274.4 240.3 305.2 45.4 352.3 193.5 301.0 128.2 254.6 42.8 360.8 221.0 270.9 105.0 243.9 130.9 237.9 151.0 259.6 94.4 268.9 187.0 284.9 54.9 339.5 214.5 305.6 148.3 244.0 204.6 287.5 258.4 284.1 257.6 293.8 65.6 318.8 93.7 267.0 81.3 274.8 250.3 320.4 183.5 249.7 98.9 244.9 163.0 266.4 160.2 293.5 66.2 311.4 206.5 285.7 76.9 281.5 260.3 304.0 38.0 382.5 96.3 256.9 125.7 242.3 104.1 239.3 148.1 241.8 72.7 288.7 42.7 352.4 67.3 309.7 155.5 248.0 169.5 237.7 35.7 389.4 70.6 296.4 170.2 264.0 76.7 283.3 184.7 285.4 93.3 243.6 81.5 244.2 209.9 282.2 252.5 311.7 219.3 287.3 242.6 326.1 163.3 243.8 147.3 243.9 36.7 387.6 177.1 246.7 247.7 296.3 197.6 288.7 43.6 357.2 257.1 308.8 43.8 361.3 232.2 298.2 221.6 305.8 83.6 268.2 117.0 235.9 64.7 299.1 112.8 244.5 252.7 264.2 116.6 255.5 113.9 222.6 66.8 294.8 162.2 261.9 214.9 277.5 158.2 255.3 57.7 325.1 132.6 251.4 96.6 265.1 220.9 277.5 63.4 317.7 202.7 296.2 162.9 278.4 246.6 279.7 252.6 301.5 190.1 266.8 136.6 246.5 158.7 271.3 118.5 235.1 168.3 241.4 255.2 302.9 130.1 237.2 86.3 256.6 210.6 283.0 130.1 240.2 259.0 274.7 48.5 339.2 101.3 283.0 115.6 240.9 210.6 277.3 134.8 248.2 242.4 283.5 263.1 308.6 95.0 246.5 213.9 279.6 109.7 234.2 252.3 320.6 129.8 238.5 219.1 287.3 119.4 238.0 244.5 309.6 79.0 267.3 153.5 254.4 232.7 261.4 198.8 300.4 52.4 343.4 105.7 264.2 121.6 242.3 137.9 252.8 158.5 252.7 65.0 298.8 83.6 248.4 82.3 259.0 43.7 371.8 137.2 250.4 67.0 287.6 174.6 272.2 148.5 250.6 111.0 231.6 79.9 271.4 57.5 328.4 123.1 257.6 154.4 263.0 238.6 295.5 116.1 265.3 234.2 301.3 128.1 246.8 195.3 257.3 96.1 264.2 153.8 250.4 81.0 261.4 102.0 256.1 247.5 286.7 209.3 287.4 144.2 220.0 36.3 386.4 96.3 253.8 254.8 336.7 134.9 251.2 109.8 245.1 169.3 254.4 233.9 304.1 240.8 277.3 50.1 339.2 61.5 305.8 53.1 337.5 228.2 310.6 242.7 300.8 99.4 276.4 138.5 257.9 211.1 280.1 58.7 325.2 86.8 252.9 259.0 311.6 147.5 233.5 60.5 307.6 193.6 256.6 220.8 289.3 131.1 234.0 231.2 288.3 215.0 294.9 50.9 331.6 199.5 255.9 105.5 245.7 263.2 299.1 102.6 246.5 41.3 372.1 186.9 277.1 63.6 312.0 62.0 306.6 47.2 347.2 157.9 241.0 197.2 277.8 74.4 287.5 140.4 248.6 221.4 283.6 241.4 281.2 94.7 255.0 96.1 260.1 212.2 279.0 127.8 250.1 109.4 242.4 226.6 279.6 165.4 252.0 189.2 289.9 161.0 255.0 112.4 230.5 85.7 276.1 255.2 273.0 256.4 310.5 117.1 246.6 101.3 225.9 214.7 293.2 152.9 274.5 198.3 264.0 226.6 296.3 227.7 292.6 201.8 247.1 77.9 280.1 55.2 336.7 63.3 326.4 87.7 249.4 193.4 275.1 103.1 225.7 208.8 278.1 43.6 368.3 184.4 269.7 105.2 250.0 242.5 298.9 203.8 269.0 130.9 232.6 233.2 278.0 227.7 271.0 80.2 272.6 98.5 235.2 145.2 261.6 61.4 315.5 98.4 244.5 56.2 341.0 192.9 264.8 254.7 311.9 168.9 276.7 167.7 260.3 185.5 266.2 239.3 298.5 162.8 270.1 47.3 350.4 228.2 288.0 64.2 311.4 193.7 269.9 49.7 340.6 164.0 260.1 114.5 234.9 200.8 282.6 225.7 292.8 57.4 331.3 39.7 368.1 57.7 324.6 215.0 307.0 256.6 292.1 184.6 280.3 185.1 270.3 242.9 273.4 169.3 261.9 227.9 301.3 109.2 252.2 174.0 251.2 140.4 235.5 154.2 273.2 236.9 304.0 259.3 294.5 105.4 231.5 106.9 240.9 137.3 263.1 155.2 239.3 56.8 329.5 134.3 254.4 51.2 354.7 189.9 260.4 96.8 261.4 248.2 282.9 160.9 280.5 49.6 336.2 140.2 247.7 227.9 284.8 182.8 281.8 136.2 231.3 46.6 354.5 55.7 327.6 229.0 289.1 36.9 387.8 236.4 284.5 228.8 287.2 165.4 282.6 244.9 287.2 166.2 257.6 152.8 255.6 191.4 268.5 178.1 281.7 99.5 254.7 261.5 320.3 154.8 246.4 137.0 222.9 63.0 300.7 71.6 292.4 79.3 274.1 220.5 258.9 40.9 371.6 133.9 254.4 204.4 286.5 247.8 286.2 214.8 276.6 254.5 318.3 207.1 285.0 195.6 290.1 140.3 267.0 152.7 257.1 60.1 318.1 39.8 358.1 41.3 379.5 149.3 262.1 53.3 336.2 86.9 234.7 123.1 246.2 53.3 328.1 60.2 328.4 46.8 355.3 205.4 293.7 180.5 285.4 73.1 295.2 107.5 245.4 109.5 239.4 124.2 246.7 241.8 284.0 176.0 255.4 212.7 292.9 262.9 318.5 252.9 298.3 193.5 291.2 198.5 281.2 257.4 315.6 150.0 251.9 42.3 359.9 177.7 288.0 193.9 273.3 164.9 274.1 88.4 279.3 78.0 276.4 129.9 238.7 121.5 227.2 141.4 242.0 82.9 252.6 83.8 283.4 151.7 244.5 85.4 283.0 162.4 268.4 145.6 260.3 67.7 298.6 194.1 291.7 147.8 277.8 229.2 330.0 71.4 290.0 102.1 249.0 162.9 273.4 237.6 292.6 36.8 378.7 175.7 258.9 149.5 254.5 237.4 292.6 167.8 291.1 135.3 239.0 102.9 269.3" fill="none" marker-start="url(#gs)" marker-mid="url(#gs)" marker-end="url(#gs)"/>
<path d="M43.1 308.8 99.1 312.9 98.3 278.7 100.8 303.5 46.9 291.4 76.9 257.2 55.5 262.9 84.9 279.9 111.8 315.1 111.9 317.6 125.4 324.7 47.5 263.1 78.4 263.2 40.6 321.4 106.0 303.8 80.7 253.8 98.4 284.0 68.5 229.4 109.8 336.3 139.5 316.9 95.1 288.2 89.6 271.9 140.7 340.9 88.3 281.6 123.9 316.7 126.0 316.7 117.3 308.6 98.9 298.0 43.3 286.7 100.8 302.2 106.9 305.9 77.9 245.8 142.5 313.9 57.8 246.3 61.6 261.5 33.2 335.0 99.1 301.9 58.8 253.4 92.5 284.4 83.4 271.0 36.9 371.5 34.7 353.2 97.0 315.1 124.1 329.0 47.2 301.5 106.7 298.6 51.5 257.6 49.6 240.4 100.7 309.1 64.6 257.1 83.4 277.3 49.3 231.4 56.2 241.1 98.6 293.3 105.3 295.6 92.7 286.1 145.0 339.7 113.9 322.7 40.1 316.4 37.6 335.9 80.9 250.1 100.1 300.5 34.1 349.3 67.3 230.4 75.3 263.1 110.5 322.5 35.6 363.6 37.5 322.4 87.6 279.7 79.2 256.6 135.0 315.8 95.0 298.0 40.6 329.1 139.2 333.0 50.0 274.4 48.1 299.5 80.7 258.4 71.2 259.0 44.9 300.5 81.5 274.2 78.1 261.9 110.3 317.4 44.1 295.6 44.7 292.7 91.3 272.0 70.0 247.9 41.0 321.6 49.9 273.3 43.9 292.9 94.2 306.3 73.6 265.2 96.7 311.1 66.6 253.8 131.7 322.5 137.9 326.7 37.8 347.1 146.8 317.6 43.5 316.6 62.8 257.4 105.1 305.3 44.2 290.9 59.3 258.8 37.5 331.3 139.1 311.5 34.5 377.9 105.5 319.5 72.7 253.6 115.0 285.5 59.6 244.3 120.1 329.3 109.4 299.0 112.5 322.0 100.7 308.2 79.1 266.9 78.1 254.9 142.5 341.6 144.5 316.5 43.0 296.2 139.8 308.1 72.8 239.0 69.7 263.4 47.0 287.5 50.0 310.8 105.1 311.9 42.4 312.0 47.3 272.9 64.3 253.2 128.7 335.5 48.5 308.7 97.1 311.7 92.8 277.2 81.8 265.2 56.1 246.2 141.8 336.4 72.2 248.5 124.1 308.2 115.9 319.0 46.6 285.4 115.8 310.8 98.1 293.5 98.2 289.7 60.8 245.1 143.1 340.9 50.3 280.6 86.7 303.1 130.9 307.5 106.8 294.1 75.3 272.2 87.4 291.7 43.5 303.9 140.3 344.3 50.8 272.1 106.9 305.4 56.2 261.6 41.8 299.3 42.0 299.9 50.1 290.1 124.4 326.7 79.7 260.1 44.0 294.1 92.5 289.0 123.2 333.8 145.4 336.8 67.3 247.8 44.6 309.0 80.5 271.1 140.6 320.4 38.7 309.6 50.4 298.4 102.2 311.6 57.8 235.9 134.3 313.8 73.6 251.6 40.2 323.5 50.6 298.5 44.3 299.6 82.1 275.1 68.6 240.9 130.0 307.1 48.0 288.3 147.5 333.2 77.8 259.6 80.5 258.1 117.9 312.8 50.8 287.8 62.6 247.7" fill="none" marker-start="url(#rc)" marker-mid="url(#rc)" marker-end="url(#rc)"/>
<path d="M51.9 259.2 100.7 299.7 114.5 310.7 44.3 307.7 108.8 309.6 114.6 297.6 44.1 301.9 140.3 335.4 41.9 289.9 118.5 317.9 74.3 250.4 39.6 320.0 62.3 263.3 49.4 289.3 44.3 308.2 51.6 270.3 71.7 255.0 112.0 311.7 97.4 304.2 66.5 235.7 57.3 260.5 49.0 275.1 97.0 275.8 45.6 296.1 147.2 303.7 48.1 296.6 97.7 309.0 48.4 278.0 63.6 252.3 103.0 303.4 58.8 264.8 114.9 318.7 98.7 310.4 131.9 345.7 55.4 262.9 109.3 315.9 120.7 320.1 142.8 329.1 70.7 267.4 75.7 263.3 92.6 293.7 115.1 310.4 77.3 270.7 46.6 291.9 79.2 273.3 103.7 313.6 146.4 331.7 79.9 270.8 118.2 306.2 84.0 264.9 138.3 304.5 47.3 306.7 65.8 253.2 97.2 291.6 73.1 243.7 52.6 273.6 44.6 274.1 145.5 324.3 60.9 254.5 53.4 272.5 96.0 295.3 44.8 306.8 126.0 321.1 125.0 308.9 69.5 232.5 48.6 283.0 107.7 307.9 59.4 231.3 43.4 318.5 125.6 315.3 94.2 294.7 42.0 304.5 97.5 313.7 59.4 265.7 34.3 363.6 130.5 330.2 51.5 262.0 34.4 360.8 44.3 299.7 37.3 384.4 44.7 294.4 148.2 326.7 48.0 290.4 41.5 321.3 34.5 336.5 38.2 320.0 40.9 332.2 86.1 291.4 124.6 307.2 43.5 335.7 117.9 323.7 59.7 268.7 106.4 314.2 51.7 282.2 137.9 321.3 93.3 283.8 59.5 252.4 128.4 336.9 126.5 323.3 49.1 292.8 136.6 326.4 77.2 289.0 77.5 283.2 34.8 376.8 51.8 273.7 34.5 393.2 44.3 297.9 126.6 317.0 125.0 332.4 127.8 322.6 40.2 321.0 38.5 325.7 112.0 308.5 133.1 319.7 111.2 321.0 70.4 260.8 36.0 365.5 103.7 306.9 107.5 302.0 55.3 246.4 142.8 337.4 112.0 326.6 35.3 378.3 53.8 256.6 84.9 258.8 147.2 347.6 48.0 292.7 108.7 311.5 35.3 357.4 80.2 284.4 52.9 263.6 75.4 255.7 86.0 272.6 54.7 247.0 145.6 332.0 52.4 268.6 36.5 385.4 128.1 322.2 36.9 357.2 35.5 363.6 51.7 276.2 73.7 249.3 61.7 238.0 59.6 243.8 143.1 332.1 146.1 327.0 111.6 310.5 107.5 310.6 133.4 321.3 51.1 296.3 49.1 312.4 68.8 256.8 92.2 287.7 106.2 292.7 45.3 275.9 36.3 351.1 35.6 378.4 39.4 353.9 47.9 291.8 56.1 257.5 38.6 347.5 141.3 331.3 124.2 322.9 35.6 380.3 36.0 389.4 109.7 302.2 38.2 314.3 37.3 316.7 123.3 309.1 98.7 316.8 81.5 260.6 119.2 315.9 48.1 304.0 48.9 286.8 57.1 269.0 48.4 287.5 59.7 235.5 47.6 294.5 39.3 319.3 58.2 252.4 145.8 344.0 46.9 265.6 38.1 342.3 70.7 270.1 100.6 298.2 112.6 316.3 138.4 342.0" fill="none" marker-start="url(#rs)" marker-mid="url(#rs)" marker-end="url(#rs)"/>
<path d="M32.8 394.2 34.2 391.9 35.4 389.7 36.6 387.3 37.6 385.0 38.6 382.5 39.6 380.2 40.7 377.7 41.7 375.4 42.7 372.9 43.7 370.6 44.7 368.1 45.7 365.8 46.7 363.3 47.7 360.9 48.6 358.5 49.6 356.1 50.6 353.7 51.6 351.3 52.5 348.9 53.5 346.5 54.4 344.1 55.4 341.7 56.4 339.2 57.4 336.9 58.4 334.4 59.3 332.0 60.3 329.7 61.3 327.2 62.3 324.8 63.3 322.4 64.2 320.0 65.2 317.5 66.2 315.1 67.2 312.7 68.2 310.4 69.2 307.9 70.2 305.6 71.2 303.2 72.3 300.8 73.3 298.5 74.4 296.0 75.5 293.7 76.6 291.3 77.6 289.0 78.7 286.5 79.7 284.2 80.8 281.8 81.9 279.5 83.3 277.3 85.1 275.5 86.9 273.6 88.8 271.7 90.7 269.9 92.5 268.1 94.3 266.3 96.2 264.4 98.1 262.6 100.1 261.0 102.2 259.6 104.4 258.1 106.5 256.7 108.7 255.3 110.9 253.8 113.0 252.4 115.2 250.9 117.3 249.4 119.4 247.9 121.6 246.4 123.7 244.8 125.5 243.1" fill="none" marker-start="url(#bv)" marker-mid="url(#bv)" marker-end="url(#bv)"/>
<path d="M32.8 394.2 34.2 391.9 35.4 389.7 36.6 387.3 37.6 385.0 38.6 382.5 39.6 380.2 40.7 377.7 41.7 375.4 42.7 372.9 43.7 370.6 44.7 368.1 45.7 365.8 46.7 363.3 47.7 360.9 48.6 358.5 49.6 356.1 50.6 353.7 51.6 351.3 52.5 348.9 53.5 346.5 54.4 344.1 55.4 341.7 56.4 339.2 57.4 336.9 58.4 334.4 59.3 332.0 60.3 329.7 61.3 327.2 62.3 324.8 63.3 322.4 64.2 320.0 65.2 317.5 66.2 315.1 67.2 312.7 68.2 310.4 69.2 307.9 70.2 305.6 71.2 303.2 72.3 300.8 73.3 298.5 74.4 296.0 75.5 293.7 76.6 291.3 77.6 289.0 78.7 286.5 79.7 284.2 80.8 281.8 81.9 279.5 83.3 277.3 85.1 275.5 86.9 273.6 88.8 271.7 90.7 269.9 92.5 268.1 94.3 266.3 96.2 264.4 98.1 262.6 100.1 261.0 102.2 259.6 104.4 258.1 106.5 256.7 108.7 255.3 110.9 253.8 113.0 252.4 115.2 250.9 117.3 249.4 119.4 247.9 121.6 246.4 123.7 244.8 125.5 243.1" fill="none" marker-start="url(#tc)" marker-mid="url(#tc)" marker-end="url(#tc)"/>
<path d="M32.8 389.0 33.3 386.7 33.7 384.5 34.2 382.3 34.7 380.2 35.2 378.2 35.7 376.0 36.2 373.9 36.7 371.8 37.3 369.6 37.8 367.4 38.4 365.4 38.9 363.1 39.4 361.1 40.0 358.9 40.6 356.8 41.2 354.6 41.8 352.7 42.5 350.6 43.3 348.5 44.1 346.4 44.9 344.4 45.7 342.4 46.5 340.3 47.3 338.2 48.1 336.2 49.0 334.2 50.0 332.2 51.0 330.3 52.1 328.3 53.1 326.4 54.2 324.5 55.2 322.6 56.3 320.6 57.4 318.8 58.4 316.8 59.5 314.9 60.6 313.0 61.7 311.0 62.7 309.1 63.8 307.2 65.1 305.5 66.5 303.7 67.9 302.1 69.3 300.4 70.8 298.7 72.2 297.0 73.6 295.3 75.0 293.6 76.4 291.9 77.8 290.2 79.2 288.5 80.7 286.8 82.0 285.2 83.4 283.5 84.9 281.8 86.3 280.1 87.7 278.5 89.3 277.0 91.0 275.6 92.7 274.2 94.5 272.8 96.2 271.4 97.9 270.0 99.6 268.6 101.3 267.2 103.0 265.8 104.6 264.4 106.3 262.9 108.0 261.5 109.7 260.1 111.3 258.7 113.0 257.2 114.6 255.7 116.1 254.1 117.6 252.5 119.1 250.9 120.6 249.3 122.1 247.7 123.7 246.1 125.0 244.4 126.1 242.4 127.0 240.4" fill="none" marker-start="url(#cs)" marker-mid="url(#cs)" marker-end="url(#cs)"/>
<rect x="125.9" y="237" width="3" height="53" fill="#5a22dc"/>
<path d="M139.6 252.8 153.0 252.8 162.6 252.8 183.3 252.8 199.2 252.8 213.8 252.8 232.0 252.8 252.4 252.8" fill="none" marker-start="url(#bv)" marker-mid="url(#bv)" marker-end="url(#bv)"/>
<circle cx="139.6" cy="252.8" r="2.4" fill="#6a30e8"/><circle cx="153.0" cy="252.8" r="2.4" fill="#6a30e8"/><circle cx="162.6" cy="252.8" r="2.4" fill="#a040f0"/><circle cx="183.3" cy="252.8" r="2.4" fill="#a040f0"/><circle cx="199.2" cy="252.8" r="2.4" fill="#a040f0"/><circle cx="213.8" cy="252.8" r="2.4" fill="#a040f0"/><circle cx="232.0" cy="252.8" r="2.4" fill="#a040f0"/><circle cx="252.4" cy="252.8" r="2.4" fill="#a040f0"/>
<path d="M35.1 352.4 36.5 344.3 37.9 336.2 39.4 328.0 40.8 319.9 42.2 312.2 43.6 305.1 45.0 298.6 46.5 292.7 47.9 287.0 49.3 281.7 50.7 276.6 52.1 271.7 53.5 266.7 55.0 262.2 56.4 258.6 57.8 255.9 59.2 253.9 60.6 251.9 62.1 250.0 63.5 248.3 64.9 247.7 66.3 248.1 67.7 249.5 69.2 251.1 70.6 253.0 72.0 255.0 73.4 257.1 74.8 259.3 76.2 261.5 77.7 263.6 79.1 265.8 80.5 267.9 81.9 270.2 83.3 272.6 84.8 275.0 86.2 277.6 87.6 280.1 89.0 282.6 90.4 285.1 91.8 287.5 93.3 290.0 94.7 292.4 96.1 294.8 97.5 297.1 98.9 299.1 100.4 300.9 101.8 302.4 103.2 303.8 104.6 305.2 106.0 306.7 107.4 308.1 108.9 309.5 110.3 310.8 111.7 311.9 113.1 312.8 114.5 313.5 116.0 314.2 117.4 314.9 118.8 315.6 120.2 316.3 121.6 317.0 123.1 317.7 124.5 318.3 125.9 318.9 127.3 319.5 128.7 320.1 130.1 320.7 131.6 321.3 133.0 321.9 134.4 322.6 135.8 323.5 137.2 324.7 138.7 326.2 140.1 327.8 141.5 329.3 142.9 330.9 144.3 332.5 145.7 333.9 147.2 335.3 148.3 336.3" fill="none" stroke="#a8321c" stroke-width="1.7" stroke-linejoin="round" stroke-linecap="round"/>
<path d="M32.8 394.2 35.7 385.0 38.6 376.2 41.5 367.7 44.4 359.6 47.3 351.8 50.2 344.2 53.1 336.5 56.0 328.8 58.9 320.8 61.7 313.0 64.6 305.5 67.5 298.3 70.4 291.4 73.3 284.9 76.2 278.9 79.1 273.7 82.0 269.1 84.9 265.2 87.8 262.1 90.7 259.5 93.6 257.0 96.5 254.7 99.4 252.6 102.3 250.6 105.2 248.8 108.1 247.2 111.0 245.8 113.9 244.7 116.7 243.8 119.6 243.0 122.5 242.5 125.4 242.1 128.3 242.1 131.2 242.6 134.1 243.4 137.0 244.6 139.9 246.0 142.8 247.5 145.7 249.1 148.6 250.7 151.5 252.4 154.4 254.3 157.3 256.1 160.2 258.0 163.1 259.9 166.0 261.8 168.9 263.7 171.7 265.6 174.6 267.4 177.5 269.1 180.4 270.8 183.3 272.5 186.2 274.1 189.1 275.7 192.0 277.3 194.9 278.9 197.8 280.5 200.7 281.9 203.6 283.3 206.5 284.4 209.4 285.4 212.3 286.3 215.2 287.2 218.1 288.0 221.0 288.9 223.9 289.7 226.7 290.6 229.6 291.4 232.5 292.3 235.4 293.1 238.3 293.9 241.2 294.7 244.1 295.5 247.0 296.4 249.9 297.4 252.8 298.7 255.7 300.1 258.6 301.6 261.5 303.3 263.8 304.7" fill="none" stroke="#2b7a1c" stroke-width="1.7" stroke-linejoin="round" stroke-linecap="round"/>
<rect x="32.8" y="211.5" width="231.0" height="182.7" fill="none" stroke="#4a4a4a" stroke-width="0.9"/>
<path d="M32.8 394.2v-4M32.8 211.5v4M90.5 394.2v-4M90.5 211.5v4M148.3 394.2v-4M148.3 211.5v4M206.0 394.2v-4M206.0 211.5v4M263.8 394.2v-4M263.8 211.5v4M61.7 394.2v-2M61.7 211.5v2M119.4 394.2v-2M119.4 211.5v2M177.2 394.2v-2M177.2 211.5v2M234.9 394.2v-2M234.9 211.5v2M32.8 394.2h4M263.8 394.2h-4M32.8 368.1h4M263.8 368.1h-4M32.8 342.0h4M263.8 342.0h-4M32.8 315.9h4M263.8 315.9h-4M32.8 289.8h4M263.8 289.8h-4M32.8 263.7h4M263.8 263.7h-4M32.8 237.6h4M263.8 237.6h-4M32.8 381.1h2M263.8 381.1h-2M32.8 355.1h2M263.8 355.1h-2M32.8 328.9h2M263.8 328.9h-2M32.8 302.9h2M263.8 302.9h-2M32.8 276.8h2M263.8 276.8h-2M32.8 250.6h2M263.8 250.6h-2M32.8 224.5h2M263.8 224.5h-2" stroke="#4a4a4a" stroke-width="0.9" fill="none"/>
<text x="32.8" y="402.8" text-anchor="middle" class="tk">0</text>
<text x="90.5" y="402.8" text-anchor="middle" class="tk">0.05</text>
<text x="148.3" y="402.8" text-anchor="middle" class="tk">0.1</text>
<text x="206.0" y="402.8" text-anchor="middle" class="tk">0.15</text>
<text x="263.8" y="402.8" text-anchor="middle" class="tk">0.2</text>
<text x="31.0" y="396.5" text-anchor="end" class="tk">0</text>
<text x="31.0" y="370.4" text-anchor="end" class="tk">0.1</text>
<text x="31.0" y="344.3" text-anchor="end" class="tk">0.2</text>
<text x="31.0" y="318.2" text-anchor="end" class="tk">0.3</text>
<text x="31.0" y="292.1" text-anchor="end" class="tk">0.4</text>
<text x="31.0" y="266.0" text-anchor="end" class="tk">0.5</text>
<text x="31.0" y="239.9" text-anchor="end" class="tk">0.6</text>
<path d="M131.0 358.0h9" stroke="#a0501c" stroke-width="1.8"/><text x="143.2" y="360.7" class="lg">Epoxy (PCFF)</text><path d="M131.0 366.7h9" stroke="#2f7a1c" stroke-width="1.8"/><text x="143.2" y="369.4" class="lg">Cellulose (ReaxFF)</text><circle cx="135.5" cy="375.4" r="2" fill="#9a40f4"/><text x="143.2" y="378.1" class="lg">Cellulose (Tang et al. 2024)</text><rect x="133.8" y="382.4" width="3.4" height="3.4" fill="#4a22c8"/><text x="143.2" y="386.8" class="lg">CNF filament (Lundahl et al. 2016)</text>
<text x="148.5" y="413.3" text-anchor="middle" class="ax">Strain</text>
<text transform="translate(16.6 302.5) rotate(-90)" text-anchor="middle" class="ax">Stress (GPa)</text>
<text x="137.8" y="431.5" text-anchor="middle" class="pl">(d)</text>
<path d="M352.4 325.2 429.0 300.8 333.1 334.0 318.2 368.4 489.3 331.6 375.3 326.9 333.4 353.3 332.7 357.7 517.8 334.4 400.4 318.1 365.0 313.4 461.8 310.9 496.6 335.7 392.6 293.4 348.2 341.9 533.4 361.7 479.2 320.8 387.7 303.6 404.4 295.9 455.8 312.9 401.8 301.8 396.7 304.4 349.0 340.4 388.2 283.4 344.1 346.3 434.0 294.2 382.2 301.3 407.5 317.4 482.5 333.6 534.4 356.2 467.4 306.2 431.6 301.1 460.0 304.0 355.2 321.3 455.2 293.7 320.9 354.2 346.1 321.7 433.1 296.8 520.5 353.4 376.8 306.9 431.0 283.2 307.7 387.5 487.1 320.6 413.4 296.2 391.4 301.6 330.5 335.5 534.5 344.8 443.6 286.5 440.8 298.9 400.5 297.6 485.9 335.8 408.6 279.6 400.4 316.7 485.7 320.6 478.3 341.5 390.6 307.2 513.3 322.8 399.0 295.1 481.5 302.7 409.1 290.2 462.5 307.2 365.6 311.3 471.6 312.5 462.5 306.9 419.8 284.1 513.0 325.5 483.1 327.0 476.5 304.2 470.3 313.6 392.9 308.3 396.1 313.6 482.1 302.0 507.3 320.6 392.9 294.6 530.5 362.4 481.7 314.9 398.6 289.4 463.5 320.5 367.8 308.8 436.4 284.3 389.2 318.9 372.9 322.0 381.3 314.6 349.2 351.0 516.3 338.2 413.0 303.1 365.9 302.0 335.9 357.4 344.2 356.7 431.7 305.7 443.5 276.1 369.9 310.0 509.7 314.9 359.1 312.9 359.3 317.5 423.4 291.9 467.2 300.0 479.3 329.8 514.5 334.8 386.0 303.7 429.6 294.5 487.9 316.7 425.7 284.0 429.7 303.9 479.5 323.2 397.3 277.3 480.4 337.9 523.7 352.4 349.8 312.3 433.6 286.9 501.7 317.8 456.7 314.3 430.8 302.2 461.8 319.3 315.8 379.8 401.2 292.9 529.5 356.4 475.0 312.3 466.3 313.5 525.2 336.3 378.5 316.0 314.0 394.0 324.2 385.3 393.9 284.8 457.9 325.0 433.4 294.2 436.6 308.5 415.2 281.4 483.1 330.8 464.1 305.1 329.1 349.8 497.2 338.6 442.8 305.0 416.4 297.8 381.3 314.1 332.3 333.4 383.7 302.7 442.3 296.2 494.9 336.2 425.2 293.4 515.9 330.2 332.8 349.8 411.2 297.7 327.0 367.6 461.1 324.3 512.2 346.7 487.6 322.4 534.3 349.7 406.1 314.7 410.3 297.1 327.1 346.8 307.7 378.6 379.1 294.5 406.7 299.5 318.7 380.1 408.5 290.1 461.1 322.9 360.7 305.6 390.6 294.1 428.1 294.1 451.5 295.4 374.7 305.4 324.3 356.8 324.4 355.3 317.7 394.2 372.2 309.1 375.6 322.2 398.9 305.0 378.6 317.4 372.6 295.7 312.2 393.6 437.1 289.0 334.0 333.4 350.5 335.7 397.1 297.4 425.8 307.8 495.3 328.6 388.1 317.9 524.1 339.0 518.9 344.3 526.7 335.2 368.6 310.9 416.2 294.1 516.3 327.0 364.9 317.0 529.8 345.8 497.4 338.8 468.0 319.7 312.3 363.9 440.8 284.4 456.1 311.5 462.7 318.5 362.9 319.2 528.6 349.4 317.2 377.2 469.5 315.5 453.6 285.2 493.4 335.7 482.1 327.6 511.5 326.4 440.6 291.0 372.9 312.1 506.8 344.6 355.9 341.3 344.5 328.8 472.1 336.9 316.7 385.8 441.0 299.1 498.4 328.0 525.6 336.5 443.4 314.2 526.9 365.8 403.3 302.1 415.1 288.3 454.9 302.7 480.7 318.7 451.8 311.7 421.6 299.4 418.2 299.7 400.3 309.9 464.9 303.1 518.1 355.0 343.5 350.6 464.3 322.6 370.5 311.1 377.3 315.1 357.1 334.4 493.3 322.3 424.2 311.0 527.1 329.8 366.5 305.5 493.3 316.1 342.1 357.6 436.2 289.8 511.1 331.3 381.9 317.5 504.8 336.3 379.1 302.6 350.2 323.1 423.0 305.1 477.5 321.2 385.2 318.0 312.3 362.6 378.5 313.6 481.3 339.0 516.9 348.7 377.8 321.8 364.2 310.5 419.7 288.8 483.8 312.9 320.5 372.0 507.9 337.7 534.8 351.0 438.9 294.1 380.2 330.0 462.3 298.7 478.7 314.9 517.0 330.8 469.5 303.5 491.6 322.2 469.1 317.9 524.2 352.1 416.5 274.9 528.7 330.0 414.9 286.9 444.9 300.0 487.0 312.8 525.6 349.8 495.4 317.4 345.0 326.5 350.3 323.6 470.9 315.5 473.1 296.5 417.1 274.2 346.7 341.2 372.4 309.4 331.7 336.3 482.1 304.0 517.2 344.1 406.7 292.5 365.2 319.3 515.8 339.5 389.3 293.4 473.1 334.6 321.9 369.7 461.2 306.6 395.6 276.5 383.9 301.9 375.0 324.5 438.6 305.6 413.8 286.5 427.8 292.6 357.4 321.2 341.1 336.1 347.5 321.5 384.4 311.0 524.7 329.7 453.2 310.5 375.5 294.5 419.8 298.0 445.6 320.8 508.3 329.6 350.9 334.0 391.2 298.0 499.0 339.1 331.8 348.0 421.0 294.1 483.0 332.6 377.8 306.2 466.5 309.2 518.2 318.0 476.3 312.5 442.0 287.5 381.9 299.0 328.3 336.1 331.4 349.7 450.8 319.9 403.4 299.8 424.8 279.4 433.3 301.6 311.4 383.8 505.0 314.0 310.8 382.1 417.0 283.4 477.7 316.7 503.5 323.1 445.0 306.3 452.7 301.8 380.0 306.6 416.3 292.1 344.2 341.8 459.3 301.6 516.6 343.8 518.6 334.3 414.6 276.7 407.1 293.8 422.8 299.0 454.0 289.4 385.8 291.9 384.3 305.5 346.8 339.1 455.1 297.8 520.5 364.7 323.6 359.6 367.9 302.3 336.0 357.7 494.5 337.7 459.2 313.2 532.3 347.3 355.1 329.0 312.1 363.2 381.2 316.7 401.3 301.8 368.4 301.0 422.4 293.7 405.2 288.8 488.9 328.6 354.3 341.8 380.6 310.7 354.1 326.2 478.5 316.3 417.3 315.0 382.6 294.6 483.9 325.9 469.0 305.7 386.7 292.3 473.4 321.0 460.1 316.7 500.9 335.2 369.3 290.4 390.8 286.6 507.4 324.0 527.4 368.2 317.9 377.8 406.6 280.9 424.2 294.9 441.4 301.6 507.6 335.8 497.1 337.2 479.2 315.6 473.6 310.1 446.2 304.6 485.4 312.5 513.8 342.1 531.0 329.8 313.8 366.0 475.1 318.5 527.3 342.9 483.5 312.3 375.0 318.5 380.4 284.9 505.6 344.9 375.4 292.1 421.8 288.5 383.6 294.9 474.4 317.9 457.3 308.8 519.6 341.8 517.7 334.1 341.7 347.3 314.3 362.6 376.0 320.7 513.7 336.1 501.6 332.4 467.1 313.1 412.5 302.1 349.0 351.2 327.4 345.7 431.2 308.5 365.0 310.6 418.6 291.4 453.1 281.2 317.6 366.8 516.8 352.0 492.9 325.5 427.0 272.5 520.4 334.4 513.4 322.7 446.0 290.8 325.9 355.6 453.5 296.1 321.6 358.7 348.6 340.2 462.5 298.8 399.3 285.2 483.9 332.6 519.3 324.2 332.8 344.0 320.9 360.0 484.3 330.6 408.5 280.8 501.9 334.3 377.6 306.7 461.7 317.3 415.2 296.5 359.1 310.1 395.9 291.6 311.5 372.8 479.5 336.1 484.7 332.5 420.8 299.9 481.2 322.0 531.9 372.2 360.1 312.3 496.2 338.0 421.8 286.0 529.2 339.8 423.6 313.7 432.6 283.9 467.2 288.9 437.8 296.4 494.5 326.7 362.1 323.5 337.5 340.0 329.1 334.0 479.7 335.1 387.5 311.3 402.0 290.2 513.3 338.8 484.1 327.5 472.2 315.3 390.5 316.1 472.6 314.0 446.6 305.9 446.9 314.4 513.1 346.7 376.7 307.8 425.7 317.1 446.1 316.1 367.1 317.8 431.1 292.9 435.8 297.7 383.8 303.9 360.8 318.3 437.6 292.8 345.8 335.0 516.2 325.6 420.3 279.6 534.5 356.4 469.3 320.9 502.3 334.6 446.0 294.6 339.8 337.5 372.9 314.2 450.6 304.1 490.0 336.4 429.8 288.0 328.0 361.3 459.1 303.0 314.1 375.5 432.4 302.9 345.6 316.2 336.3 325.1 410.8 304.0 434.4 282.0 430.4 301.1 516.0 349.9 317.6 366.9 351.0 322.1 524.1 344.6 481.1 316.4 529.0 350.6 365.1 301.4 349.0 341.7 486.2 310.3 310.4 372.7 331.8 346.9 324.4 344.1 497.1 337.3 426.6 289.4 347.4 326.7 458.1 312.7" fill="none" marker-start="url(#bp)" marker-mid="url(#bp)" marker-end="url(#bp)"/>
<path d="M377.5 274.6 515.2 310.7 346.1 308.9 441.0 239.7 386.8 258.9 471.4 293.3 468.2 272.3 508.5 326.9 423.0 255.0 381.7 264.2 411.4 252.1 509.6 306.3 442.1 255.3 359.6 302.8 512.1 303.8 522.3 323.1 380.1 253.7 336.5 383.5 379.6 263.6 335.9 373.4 361.3 322.9 372.2 283.7 471.1 270.0 344.6 320.3 472.2 260.0 368.8 290.8 350.2 291.0 431.7 242.9 371.3 285.0 457.7 283.3 515.3 280.6 521.0 322.7 495.3 298.4 495.1 290.2 472.2 267.5 372.6 292.5 473.6 273.7 449.3 235.4 532.1 351.5 367.9 298.1 531.9 331.7 333.1 348.8 335.2 370.2 319.4 389.1 475.9 276.7 393.0 246.1 482.7 286.6 380.6 272.6 434.3 219.6 483.1 270.0 534.6 331.1 396.3 248.4 446.1 252.9 518.6 318.3 515.2 318.5 414.7 251.6 473.1 255.8 357.6 317.5 337.0 356.0 508.2 336.0 381.4 245.9 393.9 250.6 357.1 310.7 462.1 258.4 464.1 247.2 457.7 265.2 394.4 278.0 331.6 351.3 522.7 318.9 356.5 308.8 407.1 237.0 511.6 317.2 332.0 347.4 501.1 279.1 408.7 228.0 527.3 323.4 454.5 244.1 521.5 324.4 519.4 291.5 470.9 251.5 483.4 309.4 350.9 311.3 453.0 219.7 350.6 305.3 463.1 267.7 453.1 244.4 371.7 286.9 465.6 285.6 498.2 298.3 355.3 313.8 332.8 328.8 476.2 274.9 376.0 305.3 527.7 345.9 357.0 284.2 479.2 283.6 352.0 316.1 357.0 305.8 442.7 258.2 491.8 281.6 319.7 392.5 507.9 299.9 408.3 243.8 524.6 318.0 446.0 278.0 509.6 302.2 429.0 233.4 374.9 255.1 387.8 264.2 528.4 317.4 351.7 311.5 345.0 304.4 409.5 223.9 409.5 242.0 318.3 383.3 401.9 246.4 354.7 288.6 500.5 302.2 369.4 267.8 378.6 271.8 470.1 257.8 435.6 265.7 410.7 250.6 501.9 314.2 469.9 275.8 454.9 263.6 467.0 262.4 496.1 305.6 436.5 239.3 372.9 264.3 439.7 243.7 377.7 280.0 345.5 354.1 327.1 356.4 457.3 271.0 403.7 242.2 529.6 311.7 495.5 318.7 419.2 230.0 493.5 274.1 465.4 251.6 352.0 316.7 403.9 236.1 377.4 263.2 421.3 211.5 512.4 313.5 326.1 367.4 469.1 232.3 431.9 258.4 467.3 266.5 437.0 223.0 488.3 266.0 486.5 260.9 391.9 249.5 510.5 332.4 497.5 303.7 329.3 386.2 351.3 324.1 409.5 258.2 468.0 282.6 445.4 266.8 460.7 256.8 363.2 293.4 533.6 349.8 497.2 281.0 468.2 274.4 444.1 256.3 419.6 237.5 468.6 265.6 404.1 220.4 386.8 287.0 470.2 248.4 481.9 260.4 441.5 264.0 428.4 249.3 350.1 323.6 473.3 275.7 433.3 269.8 473.5 284.1 348.9 339.2 384.4 253.7 516.0 326.8 455.9 263.3 513.6 309.0 503.6 308.1 507.3 286.4 408.5 233.9 409.9 228.8 516.2 335.6 510.5 326.8 331.4 372.6 432.0 255.2 395.5 246.3 501.7 275.8 476.8 307.2 441.5 280.4 493.2 270.1 483.1 287.1 371.0 259.6 426.8 264.3 353.2 293.7 497.0 295.7 376.3 262.5 375.2 282.1 388.9 230.0 385.8 258.5 328.0 380.8 468.5 243.9 411.0 218.5 405.8 238.8 444.5 232.0 471.1 261.9 462.6 286.8 348.0 331.3 497.3 293.5 469.9 246.5 534.6 309.3 415.5 245.6 483.7 262.1 522.9 340.5 457.0 247.9 521.1 300.1 438.8 258.5 429.1 228.8 453.6 268.4 381.7 283.3 350.3 322.4 346.6 294.0 341.7 362.1 442.2 248.6 368.4 264.5 340.6 350.0 516.3 339.8 424.8 257.9 347.7 300.9 477.6 288.3 472.2 256.2 333.2 388.9 366.6 296.3 445.7 230.9 330.6 359.1 514.2 283.1 488.9 270.6 323.5 382.1 392.3 255.7 492.9 266.3 393.5 275.7 486.1 253.0 381.4 278.3 341.5 329.5 319.7 375.0 338.0 325.8 458.2 260.1 355.6 305.3 442.1 242.6 360.8 297.6 480.3 288.5 377.6 263.3 338.5 351.5 494.2 288.9 329.8 390.3 532.8 368.7 404.0 228.6 375.7 267.3 481.5 295.9 495.9 265.5 412.1 243.8 531.3 356.1 337.4 362.7 355.8 295.1 347.4 357.5 457.8 264.4 413.7 213.4 388.0 277.5 507.9 288.6 421.7 252.8 416.3 233.6 431.3 257.6 521.7 339.7 339.4 364.6 472.2 277.5 332.4 387.2 436.8 239.2 468.5 295.1 372.0 284.3 511.7 318.2 464.7 273.0 429.3 239.5 479.4 255.8 438.6 243.4 424.0 228.4 484.9 291.7 438.7 252.3 432.5 273.7 422.3 230.8 430.0 249.6 477.6 288.1 515.2 323.7 521.5 305.6 395.5 265.0 489.4 290.5 350.1 334.3 456.7 245.6 357.4 308.9 383.0 238.4 437.0 235.2 317.1 391.8 405.4 223.1 406.7 224.3 369.5 260.6 380.8 272.1 446.6 259.8 438.5 244.7 487.8 295.7 484.4 246.4 448.1 272.6 449.8 224.6 350.4 320.6 377.3 279.1 458.9 264.6 319.1 384.0 377.9 285.0 484.0 301.5 474.7 240.3 484.0 265.7 439.2 258.9 442.3 249.7 326.9 366.9 430.5 255.5 523.1 317.4 509.9 308.6 446.5 225.2 530.8 301.3 534.6 329.8 380.7 274.8 331.6 359.6 494.0 276.4 405.5 221.6 490.0 257.6 370.0 297.9 356.3 310.7 374.2 286.8 383.8 275.6 495.5 292.5 337.9 349.3 513.0 286.9 478.8 255.9 481.6 271.1 402.6 235.9 435.5 243.4 526.8 311.4 442.3 279.8 487.7 254.0 352.5 315.7 532.2 336.2 406.9 260.9 410.8 261.2 419.7 238.6 360.0 307.8 447.8 228.2 361.8 282.9 401.7 225.9 483.0 303.2 366.6 287.9 505.1 313.4 471.0 254.0 402.3 241.4 523.0 349.3 355.0 290.9 487.2 292.8 327.3 358.6 343.1 326.2" fill="none" marker-start="url(#bg)" marker-mid="url(#bg)" marker-end="url(#bg)"/>
<path d="M385.5 284.8 412.9 260.0 498.0 319.2 459.5 296.1 389.8 273.7 388.2 276.5 518.6 342.1 514.1 318.9 349.4 318.8 320.9 352.9 324.3 337.7 391.0 294.4 413.9 254.2 389.3 276.9 453.8 277.9 331.6 352.8 535.0 352.8 453.0 283.7 474.0 294.7 453.9 276.2 417.5 282.0 323.0 342.4 534.1 337.3 526.4 325.4 331.7 348.6 333.6 330.2 407.5 288.2 457.8 293.4 357.8 319.7 526.2 336.5 440.1 288.7 400.2 257.9 363.2 300.7 505.4 320.3 381.4 267.1 341.5 304.3 437.7 269.8 453.2 267.7 345.8 308.5 308.0 379.4 361.1 306.8 482.7 285.7 407.3 275.4 351.3 318.2 471.0 287.2 496.3 302.1 415.4 258.5 339.0 324.2 508.1 336.1 457.4 294.0 369.4 284.2 316.7 369.9 432.7 257.2 323.3 351.6 376.0 276.8 344.2 337.8 388.8 283.5 439.9 288.1 483.6 296.0 346.8 319.2 500.0 309.4 463.1 282.4 529.3 341.2 372.5 299.0 313.2 374.1 481.9 292.9 516.3 328.3 518.1 347.2 328.8 349.9 399.3 250.3 442.5 280.6 406.9 277.4 455.3 280.1 441.7 294.8 532.1 334.3 411.0 270.1 463.3 271.8 471.7 295.0 402.1 267.2 408.5 269.5 440.8 276.4 477.9 283.0 447.9 272.4 414.1 269.4 376.7 306.7 371.7 300.9 393.1 290.6 323.3 331.0 341.6 332.1 415.9 257.8 489.2 294.1 516.8 334.4 510.7 329.2 342.0 311.4 441.5 269.3 509.1 311.2 331.6 330.5 400.6 276.7 373.0 284.6 347.7 305.5 340.3 327.0 342.0 303.0 479.6 286.8 498.6 320.0 342.5 323.9 342.5 314.8 453.9 292.5 387.4 285.9 450.3 273.8 477.6 287.8 422.9 279.5 375.3 274.8 339.8 342.4 407.7 271.6 354.0 313.9 464.2 282.1 498.3 311.6 445.7 282.3 390.8 278.9 533.1 335.2 350.5 305.6 366.7 286.1 403.6 279.8 532.3 330.7 532.5 334.7 424.3 285.8 332.6 323.6 519.8 337.2 474.0 296.9 329.9 347.4 426.7 286.4 467.1 271.5 497.2 307.0 311.1 368.7 424.0 278.1 409.2 286.4 361.6 300.8 487.2 307.0 368.4 294.1 535.3 342.8 463.0 283.1 534.9 342.6 352.0 293.6 319.9 352.2 354.0 305.2 322.6 352.9 415.0 256.3 343.6 336.9 525.1 340.3 332.3 344.1 494.5 316.9 341.1 321.0 462.9 284.5 438.8 261.8 454.9 302.2 408.5 264.2 361.9 305.7 533.0 340.3 426.1 277.5 506.8 312.1 335.2 329.2 470.9 287.5 434.9 278.3 442.5 285.8 337.8 327.8 411.9 280.2 348.6 306.0 466.5 299.7 363.6 307.6 524.6 322.9 374.7 275.1 336.4 338.8 330.0 331.7 350.9 335.1 401.9 258.8 372.0 295.5 521.5 351.0 413.0 273.3 334.9 321.3 516.0 346.2 494.5 317.3 329.4 335.9 499.5 310.8 445.5 273.1 483.8 310.3 514.2 327.6 402.8 280.2 386.6 282.5 328.8 325.9 318.1 351.0 510.6 347.0 478.0 295.0 496.8 320.6 502.8 326.8 376.2 290.6 494.7 319.9 489.6 289.6 493.0 322.7 373.0 298.4 314.2 367.0 385.5 279.6 459.5 285.5 332.9 347.6 341.6 328.6 465.6 293.2 344.9 328.2 464.0 285.6 372.6 290.0 371.9 290.5 364.8 281.6 464.8 272.2 333.1 319.1 341.9 307.5 384.9 295.1 354.4 301.0 350.1 329.0 474.7 300.7 440.0 278.5 416.4 285.6 355.5 312.1 372.5 296.1 478.8 296.4 420.2 254.8 327.4 337.1 458.1 304.9 511.5 307.1 353.6 297.8 342.3 320.8 492.2 316.8 353.2 306.0 378.3 289.0 504.8 327.7 447.5 279.7 441.1 269.7 341.6 342.5 315.7 366.4 329.9 334.5 345.4 325.3 526.2 338.3 386.6 287.1 420.3 275.8 388.4 277.8 489.2 301.9 472.1 280.0 471.1 298.2 321.1 333.1 467.4 293.5 337.6 336.3 401.9 275.1 496.1 322.2 438.5 270.4 523.6 355.2 333.3 321.5 315.2 356.1 469.9 303.2 326.9 343.9 364.4 284.9 445.2 286.5 461.8 295.5 395.7 279.1 429.8 269.0 491.5 316.3 316.9 367.8 520.6 334.4 352.8 307.6 309.1 368.8 383.3 287.1 332.5 333.8 493.9 325.4 489.7 302.1 355.1 306.9 367.4 278.2 377.0 304.2 509.9 327.5 481.0 308.4 403.5 265.0 454.0 283.3 378.1 284.5 478.8 302.1 338.9 313.4 384.0 276.2 414.8 274.2 329.2 350.9 348.9 305.7 359.0 287.3 434.2 284.5 392.6 278.9 492.7 318.1 518.7 329.9 511.6 327.7 481.4 302.5 440.5 262.6 476.2 283.3 319.4 348.0 369.8 280.5 464.8 284.8 534.5 348.4 507.9 321.4 511.4 345.6 395.2 273.6 457.1 275.6 437.2 282.3 423.0 267.1 364.6 302.8 515.2 332.3 418.9 276.5 528.9 328.3 451.4 281.3 318.8 335.6 498.7 320.4 399.2 277.4 439.9 279.9 365.0 296.8 321.3 359.6 334.5 325.0 394.7 259.0 473.5 276.1 464.2 293.8 448.7 274.0 399.4 261.0 494.6 328.6 465.5 295.9 388.3 272.8 321.6 342.5 485.2 314.2 468.1 296.4 396.4 259.9 437.3 256.2 447.2 273.0 371.7 291.5 368.8 283.0 323.5 349.4 374.6 298.6 513.4 328.8 365.9 297.4 308.6 374.9 419.3 269.4 515.6 325.4 385.6 267.2 501.4 309.5 378.0 298.5 501.9 324.5 530.4 323.1 364.6 307.4 429.4 267.2 462.8 270.3 496.7 332.1 442.8 288.9 510.0 319.2 487.3 295.8 336.1 307.6 420.2 277.4 454.9 290.2 524.8 327.5 482.8 325.8 338.4 318.4 320.1 362.2 340.5 330.0 530.0 344.1 360.5 291.0 434.7 284.2 474.8 304.4 373.2 292.8 474.4 287.8 516.1 321.1 319.0 372.4 413.2 275.3 513.6 318.9 314.0 371.5 412.9 269.7 514.4 325.5 322.5 362.6 425.0 280.0 518.0 343.3 350.0 332.6 495.6 318.3 516.5 333.7 422.2 272.0 534.7 354.5 464.5 283.8 313.9 361.3 352.4 309.9 333.8 336.0 340.4 316.1 453.1 279.0 428.8 273.7 531.9 351.1 453.8 285.8 428.8 265.4 427.2 282.0 406.1 288.1 460.9 291.3 371.0 292.0 491.5 307.3 309.9 363.5 386.9 270.9 442.6 265.3 429.3 263.4 313.1 353.0 522.7 329.8 374.4 305.7 392.6 277.5 521.9 335.5 480.7 289.4 423.2 269.0 483.8 295.2 460.9 290.5 407.4 255.0 364.2 298.7 516.6 336.2 453.5 270.4 435.7 283.8 367.9 290.6 364.9 307.9 461.4 298.8 472.5 285.0 491.5 299.3 476.9 301.6 439.4 278.8 438.6 291.6 392.3 280.4 384.4 282.3 493.0 305.7 357.9 313.5 340.6 323.9 351.1 299.9 401.4 264.0 393.3 267.2 472.7 309.0 397.7 273.9 498.8 318.8 428.3 276.6 452.9 281.4 453.8 303.2 529.8 321.3 519.2 334.5 467.5 297.3 470.9 282.1 322.3 334.1 532.0 320.0 352.7 316.2 454.1 282.3 394.5 263.5 315.5 341.4 511.7 317.0 489.1 309.6 459.6 276.3 521.2 323.4 345.3 323.1 357.1 296.9 533.5 345.5 319.2 344.7 519.5 351.1 482.0 310.6 466.6 289.7 313.3 357.5 390.7 285.4 449.8 284.7 395.3 257.5 360.8 307.6 464.4 283.3 447.3 279.1 478.7 300.0 488.4 305.2 413.2 268.8 450.1 296.6 332.3 320.1 401.8 283.3 484.2 294.4 427.6 276.9 461.0 276.0 495.3 302.5 423.2 272.0 346.3 316.7 527.9 327.2 396.7 277.4 338.4 345.7 472.4 304.4 466.4 272.4 530.9 336.3 508.6 323.6 496.5 305.4 431.4 253.7 317.8 360.7 521.7 326.5 432.3 265.8 366.4 276.5 463.4 286.3 334.3 333.5 378.5 296.8 502.3 301.7 535.5 359.0 463.9 287.7 386.5 274.8 463.8 307.1 307.8 370.8 368.0 293.7 443.4 267.5 409.1 269.6 515.1 334.7 319.4 361.1 382.3 284.9 415.3 260.0 340.4 327.3 482.3 323.0 426.9 270.3 308.0 381.1 414.2 261.9 333.2 316.1 512.6 336.2 360.5 297.3 429.9 277.5 336.2 337.9 444.8 266.3 532.3 353.3 425.6 261.7 415.2 279.4 382.0 275.5 378.5 283.2 314.5 365.6 348.7 324.7 515.2 348.2 445.2 285.7 321.3 363.4 437.2 276.0 390.6 282.6 381.5 271.0 316.4 353.1 338.9 330.7 354.6 306.5 451.5 271.0 531.3 334.4 449.4 284.6 480.5 302.8 470.8 275.0 322.5 337.1 334.5 332.7 333.4 325.5 531.5 338.6 405.0 281.3 395.1 286.6 506.8 316.7 371.3 280.0 390.8 279.5 371.8 285.7 489.7 319.8 530.5 343.6 385.3 282.5 507.8 334.9 358.2 312.7 497.5 308.8 404.1 271.3 525.1 316.1 501.6 317.8 368.7 302.0 471.8 311.1 361.4 283.1 348.5 315.7 322.0 343.2 487.6 291.0" fill="none" marker-start="url(#bb)" marker-mid="url(#bb)" marker-end="url(#bb)"/>
<path d="M454.1 241.3 504.8 224.7 519.0 240.2 481.9 239.5 496.2 228.0 432.9 233.2 515.2 249.3 428.5 227.5 435.7 226.9 470.5 242.1 474.6 225.8 532.4 218.8 494.0 230.8 478.4 246.1 504.5 250.1 514.2 242.1 434.4 229.0 421.7 221.1 490.0 255.2 460.9 222.7 461.8 225.9 448.4 209.8 526.2 220.9 524.2 243.7 486.1 237.5 448.6 210.1 504.5 246.6 465.8 243.2 488.2 236.4 517.4 234.3 510.6 251.5 446.3 214.9 433.6 222.4 481.2 232.8 464.3 224.3 513.8 243.2 473.9 229.8 492.1 219.3 427.6 219.6 532.1 259.4 462.0 245.7 439.1 234.7 516.1 214.3 425.0 220.8 510.4 219.6 510.1 245.4 484.8 247.5 447.5 226.7 518.7 236.4 512.3 236.6 485.2 227.7 519.7 226.0 475.8 222.4 495.9 243.1 491.4 247.1 437.7 228.7 467.1 244.8 431.2 223.7 446.0 217.6 434.7 215.3 374.2 264.0 402.8 233.5 383.7 248.0 375.2 259.2 409.4 241.6 397.7 238.6 419.2 230.9 410.9 234.9 416.0 235.4 410.3 235.2 419.4 225.3 387.3 245.7 321.8 346.3 378.9 279.9 364.1 336.3 370.0 292.4 376.0 327.6 340.8 346.8 355.8 333.7 376.5 321.8 334.1 344.6 375.2 287.6 394.9 293.3 389.1 291.6 315.8 370.2 353.9 328.8 356.6 314.9 349.7 328.4 378.0 292.2 355.2 334.2 342.4 327.3 323.4 349.4 317.8 364.1 325.4 345.5 308.5 378.4 339.3 350.0 360.7 299.6 321.2 362.3 322.3 355.7 362.8 299.1 334.1 346.5 368.7 304.2 345.5 348.6 367.7 287.0 383.9 285.2 320.6 348.5 346.4 319.7 357.6 310.8 368.6 298.9 390.2 302.2 383.5 280.6 359.0 314.3" fill="none" marker-start="url(#bvl)" marker-mid="url(#bvl)" marker-end="url(#bvl)"/>
<path d="M501.9 334.3 344.2 356.7 406.7 299.5 399.0 295.1 492.9 325.5 375.0 324.5 331.8 346.9 477.5 321.2 390.6 294.1 372.6 295.7 516.8 352.0 474.4 317.9 440.6 291.0 414.9 286.9 386.0 303.7 317.6 366.8 330.5 335.5 497.1 337.3 464.1 305.1 416.5 274.9 390.5 316.1 331.7 336.3 360.1 312.3 437.6 292.8 354.1 326.2 333.1 334.0 413.8 286.5 516.3 327.0 483.9 332.6 435.8 297.7 501.6 332.4 311.4 383.8 310.4 372.7 324.2 385.3 467.4 306.2 513.3 322.8 362.9 319.2 453.2 310.5 478.7 314.9 528.7 330.0 411.2 297.7 355.9 341.3 440.8 284.4 527.4 368.2 350.9 334.0 495.3 328.6 345.0 326.5 436.4 284.3 416.4 297.8 467.2 300.0 332.3 333.4 524.2 352.1 350.2 323.1 494.9 336.2 367.9 302.3 350.5 335.7 307.7 378.6 483.9 325.9 348.6 340.2 489.3 331.6 484.1 327.5 314.0 394.0 482.1 327.6 519.3 324.2 385.8 291.9 429.0 300.8 420.8 299.9 529.5 356.4 427.0 272.5 383.8 303.9 324.4 355.3 378.5 313.6 344.2 341.8 310.8 382.1 397.3 277.3 395.9 291.6 505.0 314.0 472.6 314.0 381.9 299.0 311.5 372.8 471.6 312.5 469.0 305.7 485.4 312.5 368.4 301.0 479.5 336.1 320.9 354.2 507.3 320.6 525.6 336.5 418.6 291.4 343.5 350.6 327.4 345.7 317.9 377.8 469.3 320.9 468.0 319.7 446.9 314.4 514.5 334.8 481.5 302.7 475.0 312.3 408.6 279.6 506.8 344.6 365.9 302.0 417.0 283.4 529.8 345.8 485.9 335.8 416.3 292.1 496.6 335.7 417.1 274.2 342.1 357.6 483.1 330.8 362.1 323.5 380.2 330.0 385.2 318.0 376.0 320.7 372.9 322.0 497.4 338.8 516.3 338.2 390.8 286.6 346.7 341.2 400.4 318.1 375.0 318.5 429.6 294.5 401.2 292.9 459.1 303.0 513.3 338.8 501.7 317.8 437.8 296.4 396.1 313.6 431.6 301.1 517.8 334.4 469.5 315.5 462.3 298.7 357.4 321.2 432.6 283.9 494.5 326.7 372.9 314.2 472.1 336.9 317.2 377.2 453.1 281.2 388.1 317.9 377.8 321.8 369.3 290.4 507.9 337.7 532.3 347.3 376.8 306.9 368.6 310.9 400.5 297.6 479.3 329.8 513.8 342.1 349.0 341.7 517.0 330.8 531.0 329.8 433.6 286.9 534.3 349.7 490.0 336.4 360.7 305.6 484.7 332.5 475.1 318.5 422.4 293.7 386.7 292.3 446.0 290.8 314.3 362.6 511.5 326.4 383.6 294.9 488.9 328.6 329.1 349.8 516.0 349.9 323.6 359.6 312.3 363.9 381.2 316.7 461.1 322.9 493.4 335.7 520.5 364.7 344.5 328.8 339.8 337.5 482.1 304.0 454.9 302.7 367.1 317.8 456.7 314.3 473.6 310.1 433.4 294.2 438.9 294.1 378.5 316.0 424.8 279.4 419.8 284.1 355.1 329.0 525.6 349.8 336.3 325.1 497.2 338.6 451.5 295.4 483.1 327.0 341.7 347.3 483.8 312.9 507.6 335.8 421.8 288.5 479.2 320.8 332.8 344.0 519.6 341.8 476.5 304.2 483.0 332.6 324.4 344.1 498.4 328.0 369.9 310.0 393.9 284.8 380.6 310.7 505.6 344.9 461.8 319.3 440.8 298.9 410.3 297.1 520.5 353.4 461.2 306.6 335.9 357.4 312.2 393.6 436.6 308.5 421.6 299.4 377.8 306.2 402.0 290.2 484.3 330.6 461.8 310.9 481.1 316.4 507.4 324.0 508.3 329.6 388.2 283.4 529.2 339.8 403.4 299.8 403.3 302.1 446.2 304.6 418.2 299.7 398.9 305.0 470.9 315.5 395.6 276.5 430.4 301.1 518.9 344.3 396.7 304.4 312.3 362.6 423.4 291.9 413.0 303.1 423.0 305.1 318.7 380.1 467.2 288.9 480.7 318.7 376.7 307.8 466.3 313.5 433.3 301.6 379.1 302.6 414.6 276.7 375.6 322.2 428.1 294.1 518.1 355.0 401.3 301.8 384.4 311.0 367.8 308.8 495.4 317.4 347.4 326.7 481.3 339.0 316.7 385.8 341.1 336.1" fill="none" marker-start="url(#rec)" marker-mid="url(#rec)" marker-end="url(#rec)"/>
<path d="M487.0 312.8 499.0 339.1 470.3 313.6 329.1 334.0 359.1 312.9 527.3 342.9 405.2 288.8 349.2 351.0 320.5 372.0 509.7 314.9 456.1 311.5 324.3 356.8 463.5 320.5 392.9 294.6 360.8 318.3 419.7 288.8 366.5 305.5 397.1 297.4 443.5 276.1 383.7 302.7 511.1 331.3 412.5 302.1 516.9 348.7 527.1 329.8 425.7 284.0 502.3 334.6 443.4 314.2 516.6 343.8 406.1 314.7 424.2 311.0 325.9 355.6 462.7 318.5 381.3 314.1 534.8 351.0 483.5 312.3 389.2 318.9 332.8 349.8 413.4 296.2 453.6 285.2 473.4 321.0 462.5 298.8 392.6 293.4 436.2 289.8 526.7 335.2 461.1 324.3 457.9 325.0 374.7 305.4 354.3 341.8 455.8 312.9 534.5 356.4 453.5 296.1 375.4 292.1 391.2 298.0 377.3 315.1 382.2 301.3 390.6 307.2 372.9 312.1 512.2 346.7 496.2 338.0 487.9 316.7 336.0 357.7 365.1 301.4 450.6 304.1 365.2 319.3 349.0 351.2 328.0 361.3 479.5 323.2 337.5 340.0 425.7 317.1 372.2 309.1 364.2 310.5 381.9 317.5 477.7 316.7 473.1 334.6 458.1 312.7 327.1 346.8 364.9 317.0 446.6 305.9 407.1 293.8 346.8 339.1 334.0 333.4 401.8 301.8 485.7 320.6 460.0 304.0 417.3 315.0 346.1 321.7 469.1 317.9 379.1 294.5 425.2 293.4 461.7 317.3 399.3 285.2 359.1 310.1 446.1 316.1 503.5 323.1 404.4 295.9 462.5 307.2 400.4 316.7 392.9 308.3 321.6 358.7 349.8 312.3 452.7 301.8 467.1 313.1 462.5 306.9 491.6 322.2 357.1 334.4 333.4 353.3 317.6 366.9 478.3 341.5 504.8 336.3 365.0 310.6 321.9 369.7 431.0 283.2 345.8 335.0 445.0 306.3 513.1 346.7 432.4 302.9 513.0 325.5 345.6 316.2 486.2 310.3 384.3 305.5 494.5 337.7 513.4 322.7 442.3 296.2 482.5 333.6 387.5 311.3 472.2 315.3 318.2 368.4 424.2 294.9 529.0 350.6 433.1 296.8 327.0 367.6 421.8 286.0 315.8 379.8 531.9 372.2 431.1 292.9 437.1 289.0 518.6 334.3 482.1 302.0 469.5 303.5 382.6 294.6 375.3 326.9 421.0 294.1 500.9 335.2 525.2 336.3 487.6 322.4 520.4 334.4 426.6 289.4 389.3 293.4 312.1 363.2 441.4 301.6 493.3 316.1 331.4 349.7 365.6 311.3 481.2 322.0 425.8 307.8 524.1 339.0 406.6 280.9 466.5 309.2 348.2 341.9 493.3 322.3 518.2 318.0 431.2 308.5 450.8 319.9 479.2 315.6 534.5 344.8 473.1 296.5 365.0 313.4 331.8 348.0 380.0 306.6 314.1 375.5 526.9 365.8 427.8 292.6 517.2 344.1 517.7 334.1 328.3 336.1 407.5 317.4 380.4 284.9 415.2 296.5 487.1 320.6 378.6 317.4 415.1 288.3 443.6 286.5 528.6 349.4 444.9 300.0 352.4 325.2 359.3 317.5 530.5 362.4 457.3 308.8 423.6 313.7 332.7 357.7 516.2 325.6 524.1 344.6 523.7 352.4 464.9 303.1 422.8 299.0 429.7 303.9 434.0 294.2 429.8 288.0 464.3 322.6 455.1 297.8 434.4 282.0 410.8 304.0 408.5 280.8 479.7 335.1 442.8 305.0 381.3 314.6 438.6 305.6 455.2 293.7 375.5 294.5 445.6 320.8 406.7 292.5 534.4 356.2 419.8 298.0 478.5 316.3 524.7 329.7 420.3 279.6 355.2 321.3 497.1 337.2 409.1 290.2 391.4 301.6 351.0 322.1 350.3 323.6 370.5 311.1 416.2 294.1 307.7 387.5 320.9 360.0 349.0 340.4 400.3 309.9 481.7 314.9 430.8 302.2 317.7 394.2 533.4 361.7 454.0 289.4 476.3 312.5 446.0 294.6 383.9 301.9 451.8 311.7 408.5 290.1 313.8 366.0 513.7 336.1 398.6 289.4 442.0 287.5 460.1 316.7 347.5 321.5 387.7 303.6 344.1 346.3 480.4 337.9 431.7 305.7 377.6 306.7 441.0 299.1 459.3 301.6 515.9 330.2 515.8 339.5 415.2 281.4 459.2 313.2 372.4 309.4" fill="none" marker-start="url(#res)" marker-mid="url(#res)" marker-end="url(#res)"/>
<path d="M497.2 307.0 453.9 292.5 464.4 283.3 392.6 277.5 463.4 286.3 368.0 293.7 357.1 296.9 480.5 302.8 384.4 282.3 504.8 327.7 480.7 289.4 353.6 297.8 445.7 282.3 337.6 336.3 399.2 277.4 314.5 365.6 520.6 334.4 327.4 337.1 470.9 282.1 516.5 333.7 317.8 360.7 321.6 342.5 374.7 275.1 434.2 284.5 342.5 314.8 311.1 368.7 331.7 348.6 458.1 304.9 445.2 286.5 502.3 301.7 440.5 262.6 382.3 284.9 345.3 323.1 341.5 304.3 493.0 322.7 321.3 363.4 454.0 283.3 465.6 293.2 368.4 294.1 415.2 279.4 308.6 374.9 341.1 321.0 508.6 323.6 472.4 304.4 463.0 283.1 332.3 344.1 477.9 283.0 535.3 342.8 361.6 300.8 494.6 328.6 487.6 291.0 396.4 259.9 400.6 276.7 428.8 273.7 460.9 290.5 372.5 299.0 459.5 296.1 323.3 351.6 508.1 336.1 333.4 325.5 454.9 302.2 512.6 336.2 511.4 345.6 461.4 298.8 523.6 355.2 385.3 282.5 358.2 312.7 411.0 270.1 390.8 278.9 439.4 278.8 313.9 361.3 382.0 275.5 414.1 269.4 531.9 351.1 432.7 257.2 333.1 319.1 383.3 287.1 437.7 269.8 428.3 276.6 461.0 276.0 533.0 340.3 413.2 275.3 395.2 273.6 453.9 276.2 515.2 348.2 373.0 284.6 531.5 338.6 385.5 284.8 340.5 330.0 478.7 300.0 387.4 285.9 464.8 272.2 426.9 270.3 386.9 270.9 329.2 350.9 535.5 359.0 389.3 276.9 413.2 268.8 413.9 254.2 374.4 305.7 343.6 336.9 532.3 330.7 472.7 309.0 506.8 316.7 348.6 306.0 420.2 254.8 531.3 334.4 454.1 282.3 344.2 337.8 373.2 292.8 493.0 305.7 429.4 267.2 360.8 307.6 449.4 284.6 404.1 271.3 498.0 319.2 420.2 277.4 378.5 283.2 492.2 316.8 425.0 280.0 487.3 295.8 427.6 276.9 489.7 302.1 326.9 343.9 364.9 307.9 435.7 283.8 474.0 296.9 466.5 299.7 314.2 367.0 527.9 327.2 443.4 267.5 482.7 285.7 338.4 345.7 434.9 278.3 526.4 325.4 476.2 283.3 501.9 324.5 464.0 285.6 497.5 308.8 341.6 342.5 412.9 260.0 332.6 323.6 474.4 287.8 447.3 279.1 459.6 276.3 401.4 264.0 442.5 285.8 509.1 311.2 350.5 305.6 385.5 279.6 407.5 288.2 498.7 320.4 492.7 318.1 487.2 307.0 322.6 352.9 453.5 270.4 329.9 334.5 439.9 288.1 471.8 311.1 397.7 273.9 350.0 332.6 386.5 274.8 339.8 342.4 360.5 291.0 413.0 273.3 521.9 335.5 333.3 321.5 489.1 309.6 348.9 305.7 340.4 316.1 447.9 272.4 395.3 257.5 364.8 281.6 471.0 287.2 323.0 342.4 333.8 336.0 530.5 343.6 493.9 325.4 318.8 335.6 518.7 329.9 378.0 298.5 329.4 335.9 351.1 299.9 423.2 272.0 483.6 296.0 371.9 290.5 483.8 295.2 505.4 320.3 513.6 318.9 346.8 319.2 440.1 288.7 345.8 308.5 373.0 298.4 376.7 306.7 333.2 316.1 432.3 265.8" fill="none" marker-start="url(#bt)" marker-mid="url(#bt)" marker-end="url(#bt)"/>
<path d="M377.5 274.6 515.2 310.7 346.1 308.9 441.0 239.7 386.8 258.9 471.4 293.3 468.2 272.3 508.5 326.9 423.0 255.0 381.7 264.2 411.4 252.1 509.6 306.3 442.1 255.3 359.6 302.8 512.1 303.8 522.3 323.1 380.1 253.7 336.5 383.5 379.6 263.6 335.9 373.4 361.3 322.9 372.2 283.7 471.1 270.0 344.6 320.3 472.2 260.0 368.8 290.8 350.2 291.0 431.7 242.9 371.3 285.0 457.7 283.3 515.3 280.6 521.0 322.7 495.3 298.4 495.1 290.2 472.2 267.5 372.6 292.5 473.6 273.7 449.3 235.4 532.1 351.5 367.9 298.1 531.9 331.7 333.1 348.8 335.2 370.2 319.4 389.1 475.9 276.7 393.0 246.1 482.7 286.6 380.6 272.6 434.3 219.6 483.1 270.0 534.6 331.1 396.3 248.4 446.1 252.9 518.6 318.3 515.2 318.5 414.7 251.6 473.1 255.8 357.6 317.5 337.0 356.0 508.2 336.0 381.4 245.9 393.9 250.6 357.1 310.7 462.1 258.4 464.1 247.2 457.7 265.2 394.4 278.0 331.6 351.3 522.7 318.9 356.5 308.8 407.1 237.0 511.6 317.2 332.0 347.4 501.1 279.1 408.7 228.0 527.3 323.4 454.5 244.1 521.5 324.4 519.4 291.5 470.9 251.5 483.4 309.4 350.9 311.3 453.0 219.7 350.6 305.3 463.1 267.7 453.1 244.4 371.7 286.9 465.6 285.6 498.2 298.3 355.3 313.8 332.8 328.8 476.2 274.9 376.0 305.3 527.7 345.9 357.0 284.2 479.2 283.6 352.0 316.1 357.0 305.8 442.7 258.2 491.8 281.6 319.7 392.5 507.9 299.9 408.3 243.8 524.6 318.0 446.0 278.0 509.6 302.2 429.0 233.4 374.9 255.1 387.8 264.2 528.4 317.4 351.7 311.5 345.0 304.4 409.5 223.9 409.5 242.0 318.3 383.3 401.9 246.4 354.7 288.6 500.5 302.2 369.4 267.8 378.6 271.8 470.1 257.8 435.6 265.7 410.7 250.6 501.9 314.2 469.9 275.8 454.9 263.6 467.0 262.4 496.1 305.6 436.5 239.3 372.9 264.3 439.7 243.7 377.7 280.0 345.5 354.1 327.1 356.4 457.3 271.0 403.7 242.2 529.6 311.7 495.5 318.7 419.2 230.0 493.5 274.1 465.4 251.6 352.0 316.7 403.9 236.1 377.4 263.2 421.3 211.5 512.4 313.5 326.1 367.4 469.1 232.3 431.9 258.4 467.3 266.5 437.0 223.0 488.3 266.0 486.5 260.9 391.9 249.5 510.5 332.4 497.5 303.7 329.3 386.2 351.3 324.1 409.5 258.2 468.0 282.6 445.4 266.8 460.7 256.8 363.2 293.4 533.6 349.8 497.2 281.0 468.2 274.4 444.1 256.3 419.6 237.5 468.6 265.6 404.1 220.4 386.8 287.0 470.2 248.4 481.9 260.4 441.5 264.0 428.4 249.3 350.1 323.6 473.3 275.7 433.3 269.8 473.5 284.1 348.9 339.2 384.4 253.7 516.0 326.8 455.9 263.3 513.6 309.0 503.6 308.1 507.3 286.4 408.5 233.9 409.9 228.8 516.2 335.6 510.5 326.8 331.4 372.6 432.0 255.2 395.5 246.3 501.7 275.8 476.8 307.2 441.5 280.4 493.2 270.1 483.1 287.1 371.0 259.6 426.8 264.3 353.2 293.7 497.0 295.7 376.3 262.5 375.2 282.1 388.9 230.0 385.8 258.5 328.0 380.8 468.5 243.9 411.0 218.5 405.8 238.8 444.5 232.0 471.1 261.9 462.6 286.8 348.0 331.3 497.3 293.5 469.9 246.5 534.6 309.3 415.5 245.6 483.7 262.1 522.9 340.5 457.0 247.9 521.1 300.1 438.8 258.5 429.1 228.8 453.6 268.4 381.7 283.3 350.3 322.4 346.6 294.0 341.7 362.1 442.2 248.6 368.4 264.5 340.6 350.0 516.3 339.8 424.8 257.9 347.7 300.9 477.6 288.3 472.2 256.2 333.2 388.9 366.6 296.3 445.7 230.9 330.6 359.1 514.2 283.1 488.9 270.6 323.5 382.1 392.3 255.7 492.9 266.3 393.5 275.7 486.1 253.0 381.4 278.3 341.5 329.5 319.7 375.0 338.0 325.8 458.2 260.1 355.6 305.3 442.1 242.6 360.8 297.6 480.3 288.5 377.6 263.3 338.5 351.5 494.2 288.9 329.8 390.3 532.8 368.7 404.0 228.6 375.7 267.3 481.5 295.9 495.9 265.5 412.1 243.8 531.3 356.1 337.4 362.7 355.8 295.1 347.4 357.5 457.8 264.4 413.7 213.4 388.0 277.5 507.9 288.6 421.7 252.8 416.3 233.6 431.3 257.6 521.7 339.7 339.4 364.6 472.2 277.5 332.4 387.2 436.8 239.2 468.5 295.1 372.0 284.3 511.7 318.2 464.7 273.0 429.3 239.5 479.4 255.8 438.6 243.4 424.0 228.4 484.9 291.7 438.7 252.3 432.5 273.7 422.3 230.8 430.0 249.6 477.6 288.1 515.2 323.7 521.5 305.6 395.5 265.0 489.4 290.5 350.1 334.3 456.7 245.6 357.4 308.9 383.0 238.4 437.0 235.2 317.1 391.8 405.4 223.1 406.7 224.3 369.5 260.6 380.8 272.1 446.6 259.8 438.5 244.7 487.8 295.7 484.4 246.4 448.1 272.6 449.8 224.6 350.4 320.6 377.3 279.1 458.9 264.6 319.1 384.0 377.9 285.0 484.0 301.5 474.7 240.3 484.0 265.7 439.2 258.9 442.3 249.7 326.9 366.9 430.5 255.5 523.1 317.4 509.9 308.6 446.5 225.2 530.8 301.3 534.6 329.8 380.7 274.8 331.6 359.6 494.0 276.4 405.5 221.6 490.0 257.6 370.0 297.9 356.3 310.7 374.2 286.8 383.8 275.6 495.5 292.5 337.9 349.3 513.0 286.9 478.8 255.9 481.6 271.1 402.6 235.9 435.5 243.4 526.8 311.4 442.3 279.8 487.7 254.0 352.5 315.7 532.2 336.2 406.9 260.9 410.8 261.2 419.7 238.6 360.0 307.8 447.8 228.2 361.8 282.9 401.7 225.9 483.0 303.2 366.6 287.9 505.1 313.4 471.0 254.0 402.3 241.4 523.0 349.3 355.0 290.9 487.2 292.8 327.3 358.6 343.1 326.2" fill="none" marker-start="url(#ges)" marker-mid="url(#ges)" marker-end="url(#ges)"/>
<path d="M525.1 316.1 515.6 325.4 313.2 374.1 415.0 256.3 331.6 330.5 428.8 265.4 529.8 321.3 338.4 318.4 521.5 351.0 522.7 329.8 518.1 347.2 414.2 261.9 533.1 335.2 357.8 319.7 464.2 282.1 352.8 307.6 361.4 283.1 341.6 332.1 393.1 290.6 340.6 323.9 498.8 318.8 530.9 336.3 530.4 323.1 427.2 282.0 431.4 253.7 307.8 370.8 376.2 290.6 392.6 278.9 316.9 367.8 394.5 263.5 335.2 329.2 377.0 304.2 452.9 281.4 483.8 310.3 391.0 294.4 392.3 280.4 510.7 329.2 347.7 305.5 319.0 372.4 510.0 319.2 315.7 366.4 372.6 290.0 515.2 332.3 388.4 277.8 514.1 318.9 381.5 271.0 334.3 333.5 453.8 285.8 528.9 328.3 415.4 258.5 439.9 279.9 495.6 318.3 518.0 343.3 494.5 317.3 441.7 294.8 315.5 341.4 346.3 316.7 395.7 279.1 352.0 293.6 434.7 284.2 348.5 315.7 453.0 283.7 476.9 301.6 532.5 334.7 423.0 267.1 460.9 291.3 415.3 260.0 532.1 334.3 489.2 294.1 437.3 256.2 516.6 336.2 407.7 271.6 342.0 311.4 378.1 284.5 440.8 276.4 388.3 272.8 496.3 302.1 364.4 284.9 401.9 275.1 337.8 327.8 447.5 279.7 470.9 287.5 524.8 327.5 395.1 286.6 414.8 274.2 463.9 287.7 496.8 320.6 354.0 305.2 482.3 323.0 467.1 271.5 502.8 326.8 467.4 293.5 424.0 278.1 319.4 361.1 453.8 303.2 323.3 331.0 403.6 279.8 405.0 281.3 334.9 321.3 364.2 298.7 351.3 318.2 424.3 285.8 371.3 280.0 463.8 307.1 396.7 277.4 482.8 325.8 500.0 309.4 491.5 316.3 445.5 273.1 376.0 276.8 417.5 282.0 328.8 325.9 470.8 275.0 368.8 283.0 438.5 270.4 401.9 258.8 521.2 323.4 518.6 342.1 320.9 352.9 371.7 291.5 521.7 326.5 321.1 333.1 342.3 320.8 390.7 285.4 472.1 280.0 354.4 301.0 348.7 324.7 321.3 359.6 437.2 282.3 462.9 284.5 533.5 345.5 406.9 277.4 488.4 305.2 472.5 285.0 344.9 328.2 459.5 285.5 350.1 329.0 525.1 340.3 425.6 261.7 357.9 313.5 390.6 282.6 481.0 308.4 442.8 288.9 378.3 289.0 464.5 283.8 482.0 310.6 526.2 338.3 369.8 280.5 420.3 275.8 440.0 278.5 418.9 276.5 441.5 269.3 438.8 261.8 511.7 317.0 451.5 271.0 467.5 297.3 448.7 274.0 322.5 337.1 454.9 290.2 375.3 274.8 506.8 312.1 415.9 257.8 363.6 307.6 367.9 290.6 406.1 288.1 369.4 284.2 322.5 362.6 394.7 259.0 340.3 327.0 322.0 343.2 534.9 342.6 477.6 287.8 339.0 324.2 471.7 295.0 499.5 310.8 385.6 267.2 516.0 346.2 408.5 269.5 399.3 250.3 514.2 327.6 338.9 313.4 308.0 379.4 530.0 344.1 354.6 306.5 465.5 295.9 314.0 371.5 457.4 294.0 516.8 334.4 374.6 298.6 409.2 286.4 463.3 271.8 341.6 328.6 442.6 265.3 333.6 330.2 466.4 272.4 478.0 295.0 495.3 302.5 464.2 293.8 399.4 261.0 354.0 313.9 478.8 302.1 388.8 283.5 437.2 276.0 511.5 307.1 489.2 301.9 473.5 276.1 449.8 284.7 322.3 334.1 423.2 269.0 315.2 356.1 372.5 296.1 429.8 269.0 336.1 307.6 451.4 281.3 412.9 269.7 513.4 328.8 320.1 362.2 494.5 316.9 408.5 264.2 519.2 334.5 334.5 332.7 429.9 277.5 419.3 269.4 407.4 255.0 491.5 299.3 319.2 344.7 534.1 337.3 309.9 363.5 340.4 327.3 384.9 295.1 453.8 277.9 324.3 337.7 331.6 352.8 350.9 335.1 453.1 279.0 319.4 348.0 372.0 295.5 386.6 287.1 444.8 266.3 535.0 352.8 365.0 296.8 401.8 283.3 422.2 272.0 516.1 321.1 474.7 300.7 498.3 311.6 313.3 357.5 402.8 280.2 384.0 276.2 323.5 349.4 426.1 277.5 457.1 275.6" fill="none" marker-start="url(#bs)" marker-mid="url(#bs)" marker-end="url(#bs)"/>
<path d="M309.1 368.8 534.7 354.5 479.6 286.8 455.3 280.1 338.9 330.7 462.8 270.3 519.8 337.2 441.1 269.7 524.6 322.9 491.5 307.3 336.2 337.9 341.9 307.5 361.9 305.7 403.5 265.0 409.1 269.6 319.9 352.2 349.4 318.8 352.7 316.2 468.1 296.4 474.8 304.4 366.7 286.1 364.6 302.8 463.1 282.4 371.7 300.9 334.5 325.0 366.4 276.5 494.7 319.9 364.6 307.4 308.0 381.1 481.9 292.9 360.5 297.3 329.9 347.4 342.0 303.0 363.2 300.7 474.0 294.7 526.2 336.5 445.2 285.7 515.1 334.7 332.5 333.8 514.4 325.5 442.5 280.6 342.5 323.9 389.8 273.7 378.5 296.8 496.7 332.1 471.1 298.2 368.7 302.0 461.8 295.5 381.4 267.1 516.3 328.3 489.6 289.6 345.4 325.3 438.6 291.6 400.2 257.9 481.4 302.5 457.8 293.4 422.9 279.5 411.9 280.2 416.4 285.6 365.9 297.4 328.8 349.9 407.3 275.4 386.6 282.5 519.5 351.1 466.6 289.7 450.3 273.8 316.7 369.9 484.2 294.4 330.0 331.7 318.1 351.0 507.9 321.4 371.0 292.0 534.5 348.4 501.4 309.5 447.2 273.0 450.1 296.6 532.0 320.0 529.3 341.2 501.6 317.8 393.3 267.2 402.1 267.2 469.9 303.2 426.7 286.4 313.1 353.0 485.2 314.2 332.3 320.1 355.1 306.9 510.6 347.0 371.8 285.7 532.3 353.3 352.4 309.9 496.1 322.2 353.2 306.0 336.4 338.8 496.5 305.4 507.8 334.9 332.9 347.6 464.8 284.8 453.2 267.7 355.5 312.1 388.2 276.5 489.7 319.8 511.6 327.7 498.6 320.0 429.3 263.4 316.4 353.1 509.9 327.5 478.8 296.4 359.0 287.3 390.8 279.5 367.4 278.2 361.1 306.8" fill="none" marker-start="url(#bc)" marker-mid="url(#bc)" marker-end="url(#bc)"/>
<path d="M321.8 346.3 378.9 279.9 364.1 336.3 370.0 292.4 376.0 327.6 340.8 346.8 355.8 333.7 376.5 321.8 334.1 344.6 375.2 287.6 394.9 293.3 389.1 291.6 315.8 370.2 353.9 328.8 356.6 314.9 349.7 328.4 378.0 292.2 355.2 334.2 342.4 327.3 323.4 349.4 317.8 364.1 325.4 345.5 308.5 378.4 339.3 350.0 360.7 299.6 321.2 362.3 322.3 355.7 362.8 299.1 334.1 346.5 368.7 304.2 345.5 348.6 367.7 287.0 383.9 285.2 320.6 348.5 346.4 319.7 357.6 310.8 368.6 298.9 390.2 302.2 383.5 280.6 359.0 314.3" fill="none" marker-start="url(#oc)" marker-mid="url(#oc)" marker-end="url(#oc)"/>
<path d="M454.1 241.3 504.8 224.7 519.0 240.2 481.9 239.5 496.2 228.0 432.9 233.2 515.2 249.3 428.5 227.5 435.7 226.9 470.5 242.1 474.6 225.8 532.4 218.8 494.0 230.8 478.4 246.1 504.5 250.1 514.2 242.1 434.4 229.0 421.7 221.1 490.0 255.2 460.9 222.7 461.8 225.9 448.4 209.8 526.2 220.9 524.2 243.7 486.1 237.5 448.6 210.1 504.5 246.6 465.8 243.2 488.2 236.4 517.4 234.3 510.6 251.5 446.3 214.9 433.6 222.4 481.2 232.8 464.3 224.3 513.8 243.2 473.9 229.8 492.1 219.3 427.6 219.6 532.1 259.4 462.0 245.7 439.1 234.7 516.1 214.3 425.0 220.8 510.4 219.6 510.1 245.4 484.8 247.5 447.5 226.7 518.7 236.4 512.3 236.6 485.2 227.7 519.7 226.0 475.8 222.4 495.9 243.1 491.4 247.1 437.7 228.7 467.1 244.8 431.2 223.7 446.0 217.6 434.7 215.3 374.2 264.0 402.8 233.5 383.7 248.0 375.2 259.2 409.4 241.6 397.7 238.6 419.2 230.9 410.9 234.9 416.0 235.4 410.3 235.2 419.4 225.3 387.3 245.7" fill="none" marker-start="url(#ss)" marker-mid="url(#ss)" marker-end="url(#ss)"/>
<path d="M307.5 390.4 310.4 385.2 313.2 380.1 316.1 375.1 318.9 370.3 321.8 365.5 324.7 360.6 327.5 356.0 330.4 351.7 333.2 347.8 336.1 344.3 338.9 341.2 341.8 338.3 344.7 335.3 347.5 332.4 350.4 329.5 353.2 326.6 356.1 323.9 359.0 321.4 361.8 319.0 364.7 316.9 367.5 314.9 370.4 312.9 373.2 310.9 376.1 308.9 379.0 306.9 381.8 305.1 384.7 303.4 387.5 301.9 390.4 300.7 393.3 299.7 396.1 298.8 399.0 297.9 401.8 297.0 404.7 296.1 407.5 295.2 410.4 294.3 413.3 293.5 416.1 293.1 419.0 293.0 421.8 293.3 424.7 294.0 427.6 294.9 430.4 295.9 433.3 296.8 436.1 297.8 439.0 298.7 441.8 299.7 444.7 300.9 447.6 302.1 450.4 303.5 453.3 305.0 456.1 306.5 459.0 308.0 461.9 309.6 464.7 311.1 467.6 312.6 470.4 314.2 473.3 315.7 476.1 317.3 479.0 319.0 481.9 320.7 484.7 322.5 487.6 324.2 490.4 326.0 493.3 327.7 496.2 329.5 499.0 331.2 501.9 333.0 504.7 334.7 507.6 336.3 510.4 337.9 513.3 339.4 516.2 340.9 519.0 342.3 521.9 343.8 524.7 345.2 527.6 346.6 530.5 348.1 533.3 349.5 535.6 350.7" fill="none" stroke="#b02a14" stroke-width="1.8" stroke-linejoin="round" stroke-linecap="round"/>
<path d="M307.5 378.0 310.4 371.8 313.2 365.5 316.1 359.5 318.9 353.9 321.8 348.8 324.7 344.3 327.5 340.4 330.4 336.8 333.2 333.2 336.1 329.7 338.9 326.2 341.8 322.7 344.7 319.4 347.5 316.2 350.4 313.2 353.2 310.3 356.1 307.4 359.0 304.5 361.8 301.6 364.7 298.8 367.5 295.9 370.4 293.0 373.2 290.3 376.1 287.7 379.0 285.2 381.8 282.8 384.7 280.5 387.5 278.4 390.4 276.5 393.3 275.1 396.1 273.9 399.0 273.1 401.8 272.4 404.7 271.8 407.5 271.1 410.4 270.7 413.3 270.6 416.1 270.8 419.0 271.2 421.8 272.0 424.7 272.8 427.6 273.7 430.4 274.5 433.3 275.4 436.1 276.2 439.0 277.1 441.8 278.0 444.7 279.1 447.6 280.4 450.4 281.9 453.3 283.5 456.1 285.3 459.0 287.0 461.9 288.7 464.7 290.4 467.6 292.2 470.4 293.9 473.3 295.8 476.1 297.8 479.0 300.0 481.9 302.4 484.7 304.9 487.6 307.5 490.4 310.1 493.3 312.7 496.2 315.3 499.0 317.9 501.9 320.5 504.7 322.9 507.6 325.2 510.4 327.3 513.3 329.1 516.2 330.9 519.0 332.6 521.9 334.3 524.7 336.0 527.6 337.7 530.5 339.4 533.3 341.1 535.6 342.4" fill="none" stroke="#1616e0" stroke-width="2.0" stroke-linejoin="round" stroke-linecap="round"/>
<path d="M318.4 397.0 321.2 389.9 323.9 382.7 326.6 375.6 329.3 368.6 332.1 361.8 334.8 355.2 337.5 348.7 340.2 342.3 342.9 336.0 345.7 329.8 348.4 323.9 351.1 318.1 353.8 312.5 356.5 307.0 359.3 301.6 362.0 296.2 364.7 291.0 367.4 286.1 370.2 281.5 372.9 277.2 375.6 273.1 378.3 269.0 381.0 264.9 383.8 260.9 386.5 256.8 389.2 253.3 391.9 250.4 394.6 248.0 397.4 246.3 400.1 245.2 402.8 244.1 405.5 243.1 408.2 242.0 411.0 241.2 413.7 240.7 416.4 240.5 419.1 240.8 421.9 241.3 424.6 242.1 427.3 242.9 430.0 243.6 432.7 244.4 435.5 245.2 438.2 246.0 440.9 246.8 443.6 247.8 446.3 249.1 449.1 250.7 451.8 252.5 454.5 254.5 457.2 256.6 460.0 258.6 462.7 260.7 465.4 262.7 468.1 264.7 470.8 266.8 473.6 269.0 476.3 271.5 479.0 274.1 481.7 277.0 484.4 280.0 487.2 283.2 489.9 286.3 492.6 289.4 495.3 292.6 498.0 295.7 500.8 298.8 503.5 301.9 506.2 305.0 508.9 308.0 511.7 310.9 514.4 313.8 517.1 316.7 519.8 319.6 522.5 322.4 525.3 325.3 528.0 328.2 530.7 330.9 533.4 333.6 535.6 335.8" fill="none" stroke="#2e7a1e" stroke-width="2.0" stroke-linejoin="round" stroke-linecap="round"/>
<rect x="307.5" y="208.5" width="228.1" height="186.0" fill="none" stroke="#4a4a4a" stroke-width="0.9"/>
<path d="M307.5 394.5v-4M307.5 208.5v4M364.5 394.5v-4M364.5 208.5v4M421.6 394.5v-4M421.6 208.5v4M478.6 394.5v-4M478.6 208.5v4M535.6 394.5v-4M535.6 208.5v4M336.0 394.5v-2M336.0 208.5v2M393.0 394.5v-2M393.0 208.5v2M450.1 394.5v-2M450.1 208.5v2M507.1 394.5v-2M507.1 208.5v2M307.5 394.5h4M535.6 394.5h-4M307.5 353.2h4M535.6 353.2h-4M307.5 311.8h4M535.6 311.8h-4M307.5 270.5h4M535.6 270.5h-4M307.5 229.2h4M535.6 229.2h-4M307.5 373.8h2M535.6 373.8h-2M307.5 332.5h2M535.6 332.5h-2M307.5 291.2h2M535.6 291.2h-2M307.5 249.8h2M535.6 249.8h-2" stroke="#4a4a4a" stroke-width="0.9" fill="none"/>
<text x="307.5" y="403.1" text-anchor="middle" class="tk">0</text>
<text x="364.5" y="403.1" text-anchor="middle" class="tk">0.05</text>
<text x="421.6" y="403.1" text-anchor="middle" class="tk">0.1</text>
<text x="478.6" y="403.1" text-anchor="middle" class="tk">0.15</text>
<text x="535.6" y="403.1" text-anchor="middle" class="tk">0.2</text>
<text x="305.7" y="396.8" text-anchor="end" class="tk">0</text>
<text x="305.7" y="355.5" text-anchor="end" class="tk">0.05</text>
<text x="305.7" y="314.1" text-anchor="end" class="tk">0.1</text>
<text x="305.7" y="272.8" text-anchor="end" class="tk">0.15</text>
<text x="305.7" y="231.5" text-anchor="end" class="tk">0.2</text>
<path d="M401.0 347.4h10" stroke="#a0501c" stroke-width="1.8"/><text x="415" y="350.1" class="lg">Epoxy (PCFF)</text><path d="M401.0 356.4h10" stroke="#1a1ae0" stroke-width="1.8"/><text x="415" y="359.1" class="lg">Epoxy/KH550 (PCFF)</text><path d="M401.0 365.5h10" stroke="#3a7a1c" stroke-width="1.8"/><text x="415" y="368.2" class="lg">Epoxy/KH550 (ReaxFF)</text><circle cx="406.0" cy="374.5" r="1.6" fill="#b070f0"/><text x="415" y="377.2" class="lg">Epoxy (Ogawa et al. 2025)</text><rect x="404.5" y="382.1" width="3" height="3" fill="#6a2ad8"/><text x="415" y="386.3" class="lg">Epoxy (Si et al. 2025)</text>
<text x="421.5" y="413.3" text-anchor="middle" class="ax">Strain</text>
<text transform="translate(285.2 301.5) rotate(-90)" text-anchor="middle" class="ax">Stress (GPa)</text>
<text x="408.5" y="431.5" text-anchor="middle" class="pl">(e)</text>
</svg>
</body></html>
